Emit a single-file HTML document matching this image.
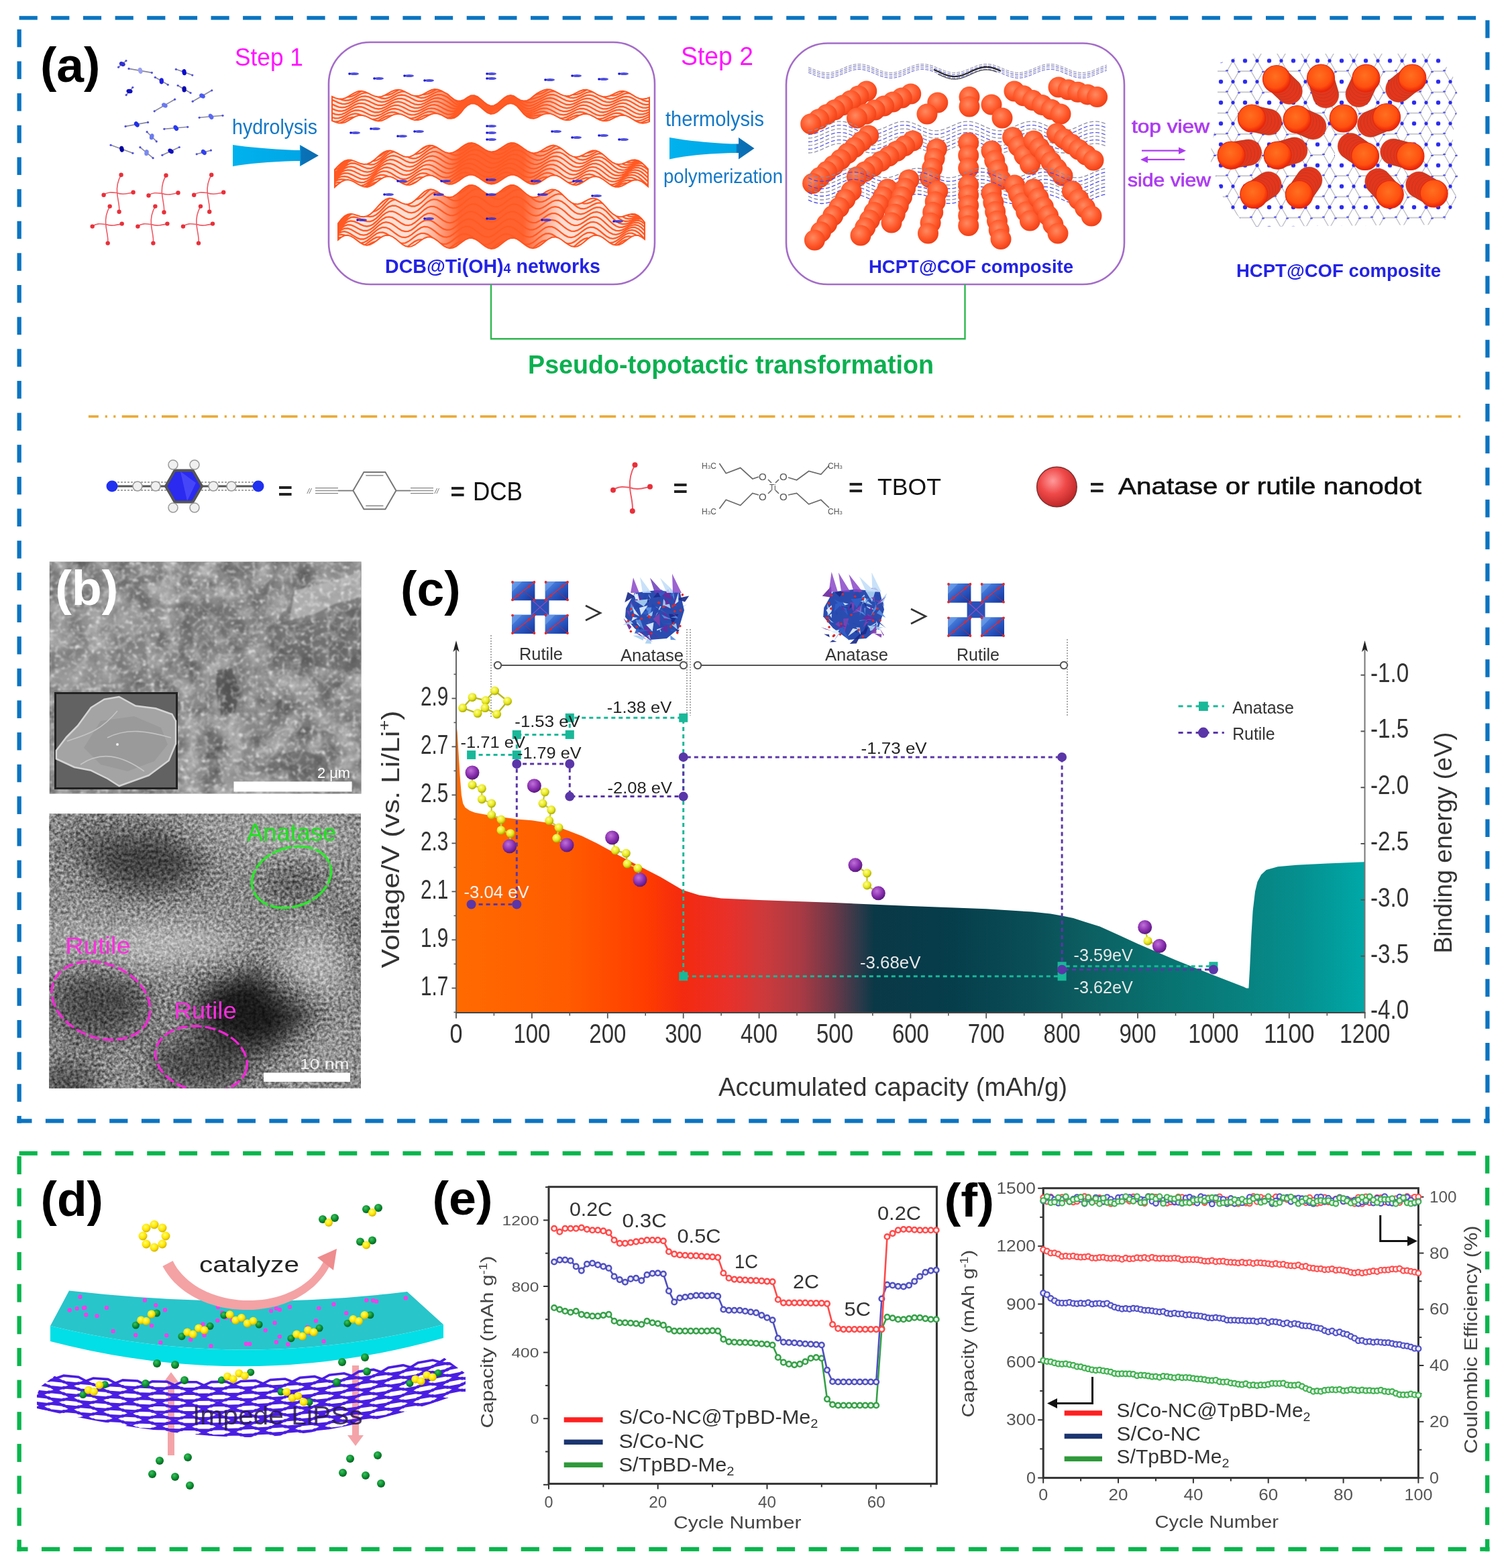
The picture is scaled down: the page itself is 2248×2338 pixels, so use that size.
<!DOCTYPE html><html><head><meta charset="utf-8"><title>Figure</title><style>html,body{margin:0;padding:0;background:#fff;}svg{display:block;}text{font-family:"Liberation Sans",Arial,sans-serif;}</style></head><body><svg width="2248" height="2338" viewBox="0 0 2248 2338">

<defs>
<linearGradient id="arrowg" x1="0" y1="0" x2="1" y2="0">
 <stop offset="0" stop-color="#00b2ee"/><stop offset="0.78" stop-color="#00a6e6"/><stop offset="0.8" stop-color="#0a72b8"/><stop offset="1" stop-color="#0a6cb0"/>
</linearGradient>
<radialGradient id="ballg" cx="0.42" cy="0.38" r="0.62">
 <stop offset="0" stop-color="#ff8a60"/><stop offset="0.6" stop-color="#ff5a2c"/><stop offset="1" stop-color="#f04018"/>
</radialGradient>
<radialGradient id="ballg2" cx="0.45" cy="0.4" r="0.6">
 <stop offset="0" stop-color="#ff7020"/><stop offset="0.7" stop-color="#ff5010"/><stop offset="1" stop-color="#e82008"/>
</radialGradient>
<radialGradient id="redsph" cx="0.4" cy="0.35" r="0.65">
 <stop offset="0" stop-color="#ff9a9a"/><stop offset="0.5" stop-color="#f04a4a"/><stop offset="1" stop-color="#c02828"/>
</radialGradient>
<radialGradient id="purpsph" cx="0.4" cy="0.35" r="0.65">
 <stop offset="0" stop-color="#c070d8"/><stop offset="0.6" stop-color="#8a30b0"/><stop offset="1" stop-color="#5a1880"/>
</radialGradient>
<radialGradient id="yelsph" cx="0.4" cy="0.35" r="0.65">
 <stop offset="0" stop-color="#ffff90"/><stop offset="0.6" stop-color="#e8e820"/><stop offset="1" stop-color="#a8a800"/>
</radialGradient>
<radialGradient id="grnsph" cx="0.4" cy="0.35" r="0.65">
 <stop offset="0" stop-color="#40c060"/><stop offset="0.6" stop-color="#0a9030"/><stop offset="1" stop-color="#046020"/>
</radialGradient>
<radialGradient id="yel2" cx="0.4" cy="0.35" r="0.65">
 <stop offset="0" stop-color="#ffff70"/><stop offset="0.6" stop-color="#ffe600"/><stop offset="1" stop-color="#d0b000"/>
</radialGradient>
<linearGradient id="capg" x1="680" y1="0" x2="2034.7" y2="0" gradientUnits="userSpaceOnUse">
 <stop offset="0" stop-color="#ff6a00"/>
 <stop offset="0.12" stop-color="#ff5c00"/>
 <stop offset="0.21" stop-color="#ff3c00"/>
 <stop offset="0.25" stop-color="#f42a10"/>
 <stop offset="0.30" stop-color="#e8302a"/>
 <stop offset="0.34" stop-color="#cc3a3c"/>
 <stop offset="0.38" stop-color="#a83a44"/>
 <stop offset="0.415" stop-color="#6c3848"/>
 <stop offset="0.445" stop-color="#2a3a4a"/>
 <stop offset="0.46" stop-color="#0a3846"/>
 <stop offset="0.55" stop-color="#063e4c"/>
 <stop offset="0.64" stop-color="#0a5058"/>
 <stop offset="0.70" stop-color="#0c6062"/>
 <stop offset="0.78" stop-color="#087270"/>
 <stop offset="0.86" stop-color="#08807e"/>
 <stop offset="0.93" stop-color="#05908f"/>
 <stop offset="1" stop-color="#00a8a8"/>
</linearGradient>
<filter id="semNoise" x="0" y="0" width="100%" height="100%" color-interpolation-filters="sRGB">
 <feTurbulence type="fractalNoise" baseFrequency="0.16" numOctaves="2" seed="11" result="t"/>
 <feColorMatrix in="t" type="matrix" values="0 0 0 0 1  0 0 0 0 1  0 0 0 0 1  3.6 0 0 0 -2.0" result="spk"/>
 <feGaussianBlur stdDeviation="1.0"/>
 <feComposite in2="SourceAlpha" operator="in"/>
</filter>
<filter id="semNet" x="0" y="0" width="100%" height="100%" color-interpolation-filters="sRGB">
 <feTurbulence type="turbulence" baseFrequency="0.045" numOctaves="3" seed="21" result="t"/>
 <feColorMatrix in="t" type="matrix" values="0 0 0 0 1  0 0 0 0 1  0 0 0 0 1  -4 0 0 0 1.0"/>
 <feGaussianBlur stdDeviation="0.8"/>
 <feComposite in2="SourceAlpha" operator="in"/>
</filter>
<filter id="semBase" x="0" y="0" width="100%" height="100%" color-interpolation-filters="sRGB">
 <feTurbulence type="fractalNoise" baseFrequency="0.03" numOctaves="4" seed="8"/>
 <feColorMatrix type="matrix" values="0.5 0 0 0 0.28  0.5 0 0 0 0.28  0.5 0 0 0 0.28  0 0 0 0 1"/>
</filter>
<filter id="temNoise" x="0" y="0" width="100%" height="100%" color-interpolation-filters="sRGB">
 <feTurbulence type="fractalNoise" baseFrequency="0.22" numOctaves="2" seed="5" result="t"/>
 <feColorMatrix in="t" type="matrix" values="1.6 0 0 0 -0.3  1.6 0 0 0 -0.3  1.6 0 0 0 -0.3  0 0 0 0 1"/>
</filter>
<filter id="blobF" x="-20%" y="-20%" width="140%" height="140%">
 <feGaussianBlur stdDeviation="22"/>
</filter>
<filter id="blur2"><feGaussianBlur stdDeviation="1.2"/></filter>
<filter id="blur1"><feGaussianBlur stdDeviation="0.6"/></filter>
<pattern id="hexp" x="1802" y="75" width="36" height="31.2" patternUnits="userSpaceOnUse">
 <path d="M9,0 L27,0 L36,15.6 L27,31.2 L9,31.2 L0,15.6 Z" fill="none" stroke="#b8b8c0" stroke-width="1.3"/>
 <circle cx="18" cy="15.6" r="3.2" fill="#2a2af0"/>
 <circle cx="9" cy="0" r="2.2" fill="#4a4af8"/>
 <circle cx="27" cy="31.2" r="2.2" fill="#4a4af8"/>
 <circle cx="0" cy="15.6" r="2.6" fill="#2a2af0"/>
 <circle cx="36" cy="15.6" r="2.6" fill="#2a2af0"/>
</pattern>
</defs>

<rect width="2248" height="2338" fill="#fff"/>
<rect x="28.6" y="23.8" width="27.2" height="5.8" fill="#0b74c1"/>
<rect x="76.2" y="23.8" width="27.2" height="5.8" fill="#0b74c1"/>
<rect x="123.9" y="23.8" width="27.2" height="5.8" fill="#0b74c1"/>
<rect x="171.6" y="23.8" width="27.2" height="5.8" fill="#0b74c1"/>
<rect x="219.2" y="23.8" width="27.2" height="5.8" fill="#0b74c1"/>
<rect x="266.9" y="23.8" width="27.2" height="5.8" fill="#0b74c1"/>
<rect x="314.5" y="23.8" width="27.2" height="5.8" fill="#0b74c1"/>
<rect x="362.1" y="23.8" width="27.2" height="5.8" fill="#0b74c1"/>
<rect x="409.8" y="23.8" width="27.2" height="5.8" fill="#0b74c1"/>
<rect x="457.4" y="23.8" width="27.2" height="5.8" fill="#0b74c1"/>
<rect x="505.1" y="23.8" width="27.2" height="5.8" fill="#0b74c1"/>
<rect x="552.7" y="23.8" width="27.2" height="5.8" fill="#0b74c1"/>
<rect x="600.4" y="23.8" width="27.2" height="5.8" fill="#0b74c1"/>
<rect x="648" y="23.8" width="27.2" height="5.8" fill="#0b74c1"/>
<rect x="695.7" y="23.8" width="27.2" height="5.8" fill="#0b74c1"/>
<rect x="743.3" y="23.8" width="27.2" height="5.8" fill="#0b74c1"/>
<rect x="791" y="23.8" width="27.2" height="5.8" fill="#0b74c1"/>
<rect x="838.6" y="23.8" width="27.2" height="5.8" fill="#0b74c1"/>
<rect x="886.3" y="23.8" width="27.2" height="5.8" fill="#0b74c1"/>
<rect x="933.9" y="23.8" width="27.2" height="5.8" fill="#0b74c1"/>
<rect x="981.6" y="23.8" width="27.2" height="5.8" fill="#0b74c1"/>
<rect x="1029.2" y="23.8" width="27.2" height="5.8" fill="#0b74c1"/>
<rect x="1076.9" y="23.8" width="27.2" height="5.8" fill="#0b74c1"/>
<rect x="1124.5" y="23.8" width="27.2" height="5.8" fill="#0b74c1"/>
<rect x="1172.2" y="23.8" width="27.2" height="5.8" fill="#0b74c1"/>
<rect x="1219.9" y="23.8" width="27.2" height="5.8" fill="#0b74c1"/>
<rect x="1267.5" y="23.8" width="27.2" height="5.8" fill="#0b74c1"/>
<rect x="1315.2" y="23.8" width="27.2" height="5.8" fill="#0b74c1"/>
<rect x="1362.8" y="23.8" width="27.2" height="5.8" fill="#0b74c1"/>
<rect x="1410.5" y="23.8" width="27.2" height="5.8" fill="#0b74c1"/>
<rect x="1458.1" y="23.8" width="27.2" height="5.8" fill="#0b74c1"/>
<rect x="1505.8" y="23.8" width="27.2" height="5.8" fill="#0b74c1"/>
<rect x="1553.4" y="23.8" width="27.2" height="5.8" fill="#0b74c1"/>
<rect x="1601.1" y="23.8" width="27.2" height="5.8" fill="#0b74c1"/>
<rect x="1648.7" y="23.8" width="27.2" height="5.8" fill="#0b74c1"/>
<rect x="1696.4" y="23.8" width="27.2" height="5.8" fill="#0b74c1"/>
<rect x="1744" y="23.8" width="27.2" height="5.8" fill="#0b74c1"/>
<rect x="1791.7" y="23.8" width="27.2" height="5.8" fill="#0b74c1"/>
<rect x="1839.3" y="23.8" width="27.2" height="5.8" fill="#0b74c1"/>
<rect x="1887" y="23.8" width="27.2" height="5.8" fill="#0b74c1"/>
<rect x="1934.6" y="23.8" width="27.2" height="5.8" fill="#0b74c1"/>
<rect x="1982.3" y="23.8" width="27.2" height="5.8" fill="#0b74c1"/>
<rect x="2029.9" y="23.8" width="27.2" height="5.8" fill="#0b74c1"/>
<rect x="2077.6" y="23.8" width="27.2" height="5.8" fill="#0b74c1"/>
<rect x="2125.2" y="23.8" width="27.2" height="5.8" fill="#0b74c1"/>
<rect x="2172.9" y="23.8" width="27.2" height="5.8" fill="#0b74c1"/>
<rect x="2214.3" y="30.2" width="6.2" height="26.5" fill="#0b74c1"/>
<rect x="2214.3" y="77.8" width="6.2" height="26.5" fill="#0b74c1"/>
<rect x="2214.3" y="125.5" width="6.2" height="26.5" fill="#0b74c1"/>
<rect x="2214.3" y="173.2" width="6.2" height="26.5" fill="#0b74c1"/>
<rect x="2214.3" y="220.8" width="6.2" height="26.5" fill="#0b74c1"/>
<rect x="2214.3" y="268.4" width="6.2" height="26.5" fill="#0b74c1"/>
<rect x="2214.3" y="316.1" width="6.2" height="26.5" fill="#0b74c1"/>
<rect x="2214.3" y="363.7" width="6.2" height="26.5" fill="#0b74c1"/>
<rect x="2214.3" y="411.4" width="6.2" height="26.5" fill="#0b74c1"/>
<rect x="2214.3" y="459" width="6.2" height="26.5" fill="#0b74c1"/>
<rect x="2214.3" y="506.7" width="6.2" height="26.5" fill="#0b74c1"/>
<rect x="2214.3" y="554.3" width="6.2" height="26.5" fill="#0b74c1"/>
<rect x="2214.3" y="602" width="6.2" height="26.5" fill="#0b74c1"/>
<rect x="2214.3" y="649.6" width="6.2" height="26.5" fill="#0b74c1"/>
<rect x="2214.3" y="697.3" width="6.2" height="26.5" fill="#0b74c1"/>
<rect x="2214.3" y="744.9" width="6.2" height="26.5" fill="#0b74c1"/>
<rect x="2214.3" y="792.6" width="6.2" height="26.5" fill="#0b74c1"/>
<rect x="2214.3" y="840.2" width="6.2" height="26.5" fill="#0b74c1"/>
<rect x="2214.3" y="887.9" width="6.2" height="26.5" fill="#0b74c1"/>
<rect x="2214.3" y="935.5" width="6.2" height="26.5" fill="#0b74c1"/>
<rect x="2214.3" y="983.2" width="6.2" height="26.5" fill="#0b74c1"/>
<rect x="2214.3" y="1030.8" width="6.2" height="26.5" fill="#0b74c1"/>
<rect x="2214.3" y="1078.5" width="6.2" height="26.5" fill="#0b74c1"/>
<rect x="2214.3" y="1126.1" width="6.2" height="26.5" fill="#0b74c1"/>
<rect x="2214.3" y="1173.8" width="6.2" height="26.5" fill="#0b74c1"/>
<rect x="2214.3" y="1221.5" width="6.2" height="26.5" fill="#0b74c1"/>
<rect x="2214.3" y="1269.1" width="6.2" height="26.5" fill="#0b74c1"/>
<rect x="2214.3" y="1316.8" width="6.2" height="26.5" fill="#0b74c1"/>
<rect x="2214.3" y="1364.4" width="6.2" height="26.5" fill="#0b74c1"/>
<rect x="2214.3" y="1412.1" width="6.2" height="26.5" fill="#0b74c1"/>
<rect x="2214.3" y="1459.7" width="6.2" height="26.5" fill="#0b74c1"/>
<rect x="2214.3" y="1507.4" width="6.2" height="26.5" fill="#0b74c1"/>
<rect x="2214.3" y="1555" width="6.2" height="26.5" fill="#0b74c1"/>
<rect x="2214.3" y="1602.7" width="6.2" height="26.5" fill="#0b74c1"/>
<rect x="2214.3" y="1650.3" width="6.2" height="24.3" fill="#0b74c1"/>
<rect x="25.5" y="43.8" width="6.3" height="26.5" fill="#0b74c1"/>
<rect x="25.5" y="91.4" width="6.3" height="26.5" fill="#0b74c1"/>
<rect x="25.5" y="139.1" width="6.3" height="26.5" fill="#0b74c1"/>
<rect x="25.5" y="186.8" width="6.3" height="26.5" fill="#0b74c1"/>
<rect x="25.5" y="234.4" width="6.3" height="26.5" fill="#0b74c1"/>
<rect x="25.5" y="282.1" width="6.3" height="26.5" fill="#0b74c1"/>
<rect x="25.5" y="329.7" width="6.3" height="26.5" fill="#0b74c1"/>
<rect x="25.5" y="377.3" width="6.3" height="26.5" fill="#0b74c1"/>
<rect x="25.5" y="425" width="6.3" height="26.5" fill="#0b74c1"/>
<rect x="25.5" y="472.6" width="6.3" height="26.5" fill="#0b74c1"/>
<rect x="25.5" y="520.3" width="6.3" height="26.5" fill="#0b74c1"/>
<rect x="25.5" y="567.9" width="6.3" height="26.5" fill="#0b74c1"/>
<rect x="25.5" y="615.6" width="6.3" height="26.5" fill="#0b74c1"/>
<rect x="25.5" y="663.2" width="6.3" height="26.5" fill="#0b74c1"/>
<rect x="25.5" y="710.9" width="6.3" height="26.5" fill="#0b74c1"/>
<rect x="25.5" y="758.5" width="6.3" height="26.5" fill="#0b74c1"/>
<rect x="25.5" y="806.2" width="6.3" height="26.5" fill="#0b74c1"/>
<rect x="25.5" y="853.8" width="6.3" height="26.5" fill="#0b74c1"/>
<rect x="25.5" y="901.5" width="6.3" height="26.5" fill="#0b74c1"/>
<rect x="25.5" y="949.1" width="6.3" height="26.5" fill="#0b74c1"/>
<rect x="25.5" y="996.8" width="6.3" height="26.5" fill="#0b74c1"/>
<rect x="25.5" y="1044.4" width="6.3" height="26.5" fill="#0b74c1"/>
<rect x="25.5" y="1092.1" width="6.3" height="26.5" fill="#0b74c1"/>
<rect x="25.5" y="1139.8" width="6.3" height="26.5" fill="#0b74c1"/>
<rect x="25.5" y="1187.4" width="6.3" height="26.5" fill="#0b74c1"/>
<rect x="25.5" y="1235.1" width="6.3" height="26.5" fill="#0b74c1"/>
<rect x="25.5" y="1282.7" width="6.3" height="26.5" fill="#0b74c1"/>
<rect x="25.5" y="1330.4" width="6.3" height="26.5" fill="#0b74c1"/>
<rect x="25.5" y="1378" width="6.3" height="26.5" fill="#0b74c1"/>
<rect x="25.5" y="1425.7" width="6.3" height="26.5" fill="#0b74c1"/>
<rect x="25.5" y="1473.3" width="6.3" height="26.5" fill="#0b74c1"/>
<rect x="25.5" y="1521" width="6.3" height="26.5" fill="#0b74c1"/>
<rect x="25.5" y="1568.6" width="6.3" height="26.5" fill="#0b74c1"/>
<rect x="25.5" y="1616.3" width="6.3" height="26.5" fill="#0b74c1"/>
<rect x="25.5" y="1663.9" width="6.3" height="10.7" fill="#0b74c1"/>
<rect x="25.5" y="1668.3" width="22" height="6.2" fill="#0b74c1"/>
<rect x="67.9" y="1668.3" width="27.2" height="6.2" fill="#0b74c1"/>
<rect x="115.6" y="1668.3" width="27.2" height="6.2" fill="#0b74c1"/>
<rect x="163.2" y="1668.3" width="27.2" height="6.2" fill="#0b74c1"/>
<rect x="210.9" y="1668.3" width="27.2" height="6.2" fill="#0b74c1"/>
<rect x="258.5" y="1668.3" width="27.2" height="6.2" fill="#0b74c1"/>
<rect x="306.1" y="1668.3" width="27.2" height="6.2" fill="#0b74c1"/>
<rect x="353.8" y="1668.3" width="27.2" height="6.2" fill="#0b74c1"/>
<rect x="401.4" y="1668.3" width="27.2" height="6.2" fill="#0b74c1"/>
<rect x="449.1" y="1668.3" width="27.2" height="6.2" fill="#0b74c1"/>
<rect x="496.7" y="1668.3" width="27.2" height="6.2" fill="#0b74c1"/>
<rect x="544.4" y="1668.3" width="27.2" height="6.2" fill="#0b74c1"/>
<rect x="592" y="1668.3" width="27.2" height="6.2" fill="#0b74c1"/>
<rect x="639.7" y="1668.3" width="27.2" height="6.2" fill="#0b74c1"/>
<rect x="687.3" y="1668.3" width="27.2" height="6.2" fill="#0b74c1"/>
<rect x="735" y="1668.3" width="27.2" height="6.2" fill="#0b74c1"/>
<rect x="782.6" y="1668.3" width="27.2" height="6.2" fill="#0b74c1"/>
<rect x="830.3" y="1668.3" width="27.2" height="6.2" fill="#0b74c1"/>
<rect x="877.9" y="1668.3" width="27.2" height="6.2" fill="#0b74c1"/>
<rect x="925.6" y="1668.3" width="27.2" height="6.2" fill="#0b74c1"/>
<rect x="973.2" y="1668.3" width="27.2" height="6.2" fill="#0b74c1"/>
<rect x="1020.9" y="1668.3" width="27.2" height="6.2" fill="#0b74c1"/>
<rect x="1068.5" y="1668.3" width="27.2" height="6.2" fill="#0b74c1"/>
<rect x="1116.2" y="1668.3" width="27.2" height="6.2" fill="#0b74c1"/>
<rect x="1163.8" y="1668.3" width="27.2" height="6.2" fill="#0b74c1"/>
<rect x="1211.5" y="1668.3" width="27.2" height="6.2" fill="#0b74c1"/>
<rect x="1259.2" y="1668.3" width="27.2" height="6.2" fill="#0b74c1"/>
<rect x="1306.8" y="1668.3" width="27.2" height="6.2" fill="#0b74c1"/>
<rect x="1354.5" y="1668.3" width="27.2" height="6.2" fill="#0b74c1"/>
<rect x="1402.1" y="1668.3" width="27.2" height="6.2" fill="#0b74c1"/>
<rect x="1449.8" y="1668.3" width="27.2" height="6.2" fill="#0b74c1"/>
<rect x="1497.4" y="1668.3" width="27.2" height="6.2" fill="#0b74c1"/>
<rect x="1545.1" y="1668.3" width="27.2" height="6.2" fill="#0b74c1"/>
<rect x="1592.7" y="1668.3" width="27.2" height="6.2" fill="#0b74c1"/>
<rect x="1640.4" y="1668.3" width="27.2" height="6.2" fill="#0b74c1"/>
<rect x="1688" y="1668.3" width="27.2" height="6.2" fill="#0b74c1"/>
<rect x="1735.7" y="1668.3" width="27.2" height="6.2" fill="#0b74c1"/>
<rect x="1783.3" y="1668.3" width="27.2" height="6.2" fill="#0b74c1"/>
<rect x="1831" y="1668.3" width="27.2" height="6.2" fill="#0b74c1"/>
<rect x="1878.6" y="1668.3" width="27.2" height="6.2" fill="#0b74c1"/>
<rect x="1926.3" y="1668.3" width="27.2" height="6.2" fill="#0b74c1"/>
<rect x="1973.9" y="1668.3" width="27.2" height="6.2" fill="#0b74c1"/>
<rect x="2021.6" y="1668.3" width="27.2" height="6.2" fill="#0b74c1"/>
<rect x="2069.2" y="1668.3" width="27.2" height="6.2" fill="#0b74c1"/>
<rect x="2116.9" y="1668.3" width="27.2" height="6.2" fill="#0b74c1"/>
<rect x="2164.5" y="1668.3" width="27.2" height="6.2" fill="#0b74c1"/>
<rect x="2212.2" y="1668.3" width="8.3" height="6.2" fill="#0b74c1"/>
<rect x="28.6" y="1716.5" width="27.2" height="6.3" fill="#08b64c"/>
<rect x="76.2" y="1716.5" width="27.2" height="6.3" fill="#08b64c"/>
<rect x="123.9" y="1716.5" width="27.2" height="6.3" fill="#08b64c"/>
<rect x="171.6" y="1716.5" width="27.2" height="6.3" fill="#08b64c"/>
<rect x="219.2" y="1716.5" width="27.2" height="6.3" fill="#08b64c"/>
<rect x="266.9" y="1716.5" width="27.2" height="6.3" fill="#08b64c"/>
<rect x="314.5" y="1716.5" width="27.2" height="6.3" fill="#08b64c"/>
<rect x="362.1" y="1716.5" width="27.2" height="6.3" fill="#08b64c"/>
<rect x="409.8" y="1716.5" width="27.2" height="6.3" fill="#08b64c"/>
<rect x="457.4" y="1716.5" width="27.2" height="6.3" fill="#08b64c"/>
<rect x="505.1" y="1716.5" width="27.2" height="6.3" fill="#08b64c"/>
<rect x="552.7" y="1716.5" width="27.2" height="6.3" fill="#08b64c"/>
<rect x="600.4" y="1716.5" width="27.2" height="6.3" fill="#08b64c"/>
<rect x="648" y="1716.5" width="27.2" height="6.3" fill="#08b64c"/>
<rect x="695.7" y="1716.5" width="27.2" height="6.3" fill="#08b64c"/>
<rect x="743.3" y="1716.5" width="27.2" height="6.3" fill="#08b64c"/>
<rect x="791" y="1716.5" width="27.2" height="6.3" fill="#08b64c"/>
<rect x="838.6" y="1716.5" width="27.2" height="6.3" fill="#08b64c"/>
<rect x="886.3" y="1716.5" width="27.2" height="6.3" fill="#08b64c"/>
<rect x="933.9" y="1716.5" width="27.2" height="6.3" fill="#08b64c"/>
<rect x="981.6" y="1716.5" width="27.2" height="6.3" fill="#08b64c"/>
<rect x="1029.2" y="1716.5" width="27.2" height="6.3" fill="#08b64c"/>
<rect x="1076.9" y="1716.5" width="27.2" height="6.3" fill="#08b64c"/>
<rect x="1124.5" y="1716.5" width="27.2" height="6.3" fill="#08b64c"/>
<rect x="1172.2" y="1716.5" width="27.2" height="6.3" fill="#08b64c"/>
<rect x="1219.9" y="1716.5" width="27.2" height="6.3" fill="#08b64c"/>
<rect x="1267.5" y="1716.5" width="27.2" height="6.3" fill="#08b64c"/>
<rect x="1315.2" y="1716.5" width="27.2" height="6.3" fill="#08b64c"/>
<rect x="1362.8" y="1716.5" width="27.2" height="6.3" fill="#08b64c"/>
<rect x="1410.5" y="1716.5" width="27.2" height="6.3" fill="#08b64c"/>
<rect x="1458.1" y="1716.5" width="27.2" height="6.3" fill="#08b64c"/>
<rect x="1505.8" y="1716.5" width="27.2" height="6.3" fill="#08b64c"/>
<rect x="1553.4" y="1716.5" width="27.2" height="6.3" fill="#08b64c"/>
<rect x="1601.1" y="1716.5" width="27.2" height="6.3" fill="#08b64c"/>
<rect x="1648.7" y="1716.5" width="27.2" height="6.3" fill="#08b64c"/>
<rect x="1696.4" y="1716.5" width="27.2" height="6.3" fill="#08b64c"/>
<rect x="1744" y="1716.5" width="27.2" height="6.3" fill="#08b64c"/>
<rect x="1791.7" y="1716.5" width="27.2" height="6.3" fill="#08b64c"/>
<rect x="1839.3" y="1716.5" width="27.2" height="6.3" fill="#08b64c"/>
<rect x="1887" y="1716.5" width="27.2" height="6.3" fill="#08b64c"/>
<rect x="1934.6" y="1716.5" width="27.2" height="6.3" fill="#08b64c"/>
<rect x="1982.3" y="1716.5" width="27.2" height="6.3" fill="#08b64c"/>
<rect x="2029.9" y="1716.5" width="27.2" height="6.3" fill="#08b64c"/>
<rect x="2077.6" y="1716.5" width="27.2" height="6.3" fill="#08b64c"/>
<rect x="2125.2" y="1716.5" width="27.2" height="6.3" fill="#08b64c"/>
<rect x="2172.9" y="1716.5" width="27.2" height="6.3" fill="#08b64c"/>
<rect x="25.5" y="1724" width="6.3" height="27" fill="#08b64c"/>
<rect x="25.5" y="1771.7" width="6.3" height="27" fill="#08b64c"/>
<rect x="25.5" y="1819.3" width="6.3" height="27" fill="#08b64c"/>
<rect x="25.5" y="1867" width="6.3" height="27" fill="#08b64c"/>
<rect x="25.5" y="1914.6" width="6.3" height="27" fill="#08b64c"/>
<rect x="25.5" y="1962.3" width="6.3" height="27" fill="#08b64c"/>
<rect x="25.5" y="2009.9" width="6.3" height="27" fill="#08b64c"/>
<rect x="25.5" y="2057.6" width="6.3" height="27" fill="#08b64c"/>
<rect x="25.5" y="2105.2" width="6.3" height="27" fill="#08b64c"/>
<rect x="25.5" y="2152.9" width="6.3" height="27" fill="#08b64c"/>
<rect x="25.5" y="2200.5" width="6.3" height="27" fill="#08b64c"/>
<rect x="25.5" y="2248.2" width="6.3" height="27" fill="#08b64c"/>
<rect x="25.5" y="2295.8" width="6.3" height="17.4" fill="#08b64c"/>
<rect x="2214" y="1723.2" width="6.3" height="26.5" fill="#08b64c"/>
<rect x="2214" y="1770.9" width="6.3" height="26.5" fill="#08b64c"/>
<rect x="2214" y="1818.5" width="6.3" height="26.5" fill="#08b64c"/>
<rect x="2214" y="1866.2" width="6.3" height="26.5" fill="#08b64c"/>
<rect x="2214" y="1913.8" width="6.3" height="26.5" fill="#08b64c"/>
<rect x="2214" y="1961.5" width="6.3" height="26.5" fill="#08b64c"/>
<rect x="2214" y="2009.1" width="6.3" height="26.5" fill="#08b64c"/>
<rect x="2214" y="2056.8" width="6.3" height="26.5" fill="#08b64c"/>
<rect x="2214" y="2104.4" width="6.3" height="26.5" fill="#08b64c"/>
<rect x="2214" y="2152.1" width="6.3" height="26.5" fill="#08b64c"/>
<rect x="2214" y="2199.7" width="6.3" height="26.5" fill="#08b64c"/>
<rect x="2214" y="2247.4" width="6.3" height="26.5" fill="#08b64c"/>
<rect x="2214" y="2295" width="6.3" height="18.2" fill="#08b64c"/>
<rect x="25.5" y="2306.8" width="16" height="6.3" fill="#08b64c"/>
<rect x="62" y="2306.8" width="27.2" height="6.3" fill="#08b64c"/>
<rect x="109.7" y="2306.8" width="27.2" height="6.3" fill="#08b64c"/>
<rect x="157.3" y="2306.8" width="27.2" height="6.3" fill="#08b64c"/>
<rect x="205" y="2306.8" width="27.2" height="6.3" fill="#08b64c"/>
<rect x="252.6" y="2306.8" width="27.2" height="6.3" fill="#08b64c"/>
<rect x="300.2" y="2306.8" width="27.2" height="6.3" fill="#08b64c"/>
<rect x="347.9" y="2306.8" width="27.2" height="6.3" fill="#08b64c"/>
<rect x="395.5" y="2306.8" width="27.2" height="6.3" fill="#08b64c"/>
<rect x="443.2" y="2306.8" width="27.2" height="6.3" fill="#08b64c"/>
<rect x="490.8" y="2306.8" width="27.2" height="6.3" fill="#08b64c"/>
<rect x="538.5" y="2306.8" width="27.2" height="6.3" fill="#08b64c"/>
<rect x="586.1" y="2306.8" width="27.2" height="6.3" fill="#08b64c"/>
<rect x="633.8" y="2306.8" width="27.2" height="6.3" fill="#08b64c"/>
<rect x="681.4" y="2306.8" width="27.2" height="6.3" fill="#08b64c"/>
<rect x="729.1" y="2306.8" width="27.2" height="6.3" fill="#08b64c"/>
<rect x="776.7" y="2306.8" width="27.2" height="6.3" fill="#08b64c"/>
<rect x="824.4" y="2306.8" width="27.2" height="6.3" fill="#08b64c"/>
<rect x="872" y="2306.8" width="27.2" height="6.3" fill="#08b64c"/>
<rect x="919.7" y="2306.8" width="27.2" height="6.3" fill="#08b64c"/>
<rect x="967.3" y="2306.8" width="27.2" height="6.3" fill="#08b64c"/>
<rect x="1015" y="2306.8" width="27.2" height="6.3" fill="#08b64c"/>
<rect x="1062.6" y="2306.8" width="27.2" height="6.3" fill="#08b64c"/>
<rect x="1110.3" y="2306.8" width="27.2" height="6.3" fill="#08b64c"/>
<rect x="1157.9" y="2306.8" width="27.2" height="6.3" fill="#08b64c"/>
<rect x="1205.6" y="2306.8" width="27.2" height="6.3" fill="#08b64c"/>
<rect x="1253.2" y="2306.8" width="27.2" height="6.3" fill="#08b64c"/>
<rect x="1300.9" y="2306.8" width="27.2" height="6.3" fill="#08b64c"/>
<rect x="1348.6" y="2306.8" width="27.2" height="6.3" fill="#08b64c"/>
<rect x="1396.2" y="2306.8" width="27.2" height="6.3" fill="#08b64c"/>
<rect x="1443.9" y="2306.8" width="27.2" height="6.3" fill="#08b64c"/>
<rect x="1491.5" y="2306.8" width="27.2" height="6.3" fill="#08b64c"/>
<rect x="1539.2" y="2306.8" width="27.2" height="6.3" fill="#08b64c"/>
<rect x="1586.8" y="2306.8" width="27.2" height="6.3" fill="#08b64c"/>
<rect x="1634.5" y="2306.8" width="27.2" height="6.3" fill="#08b64c"/>
<rect x="1682.1" y="2306.8" width="27.2" height="6.3" fill="#08b64c"/>
<rect x="1729.8" y="2306.8" width="27.2" height="6.3" fill="#08b64c"/>
<rect x="1777.4" y="2306.8" width="27.2" height="6.3" fill="#08b64c"/>
<rect x="1825.1" y="2306.8" width="27.2" height="6.3" fill="#08b64c"/>
<rect x="1872.7" y="2306.8" width="27.2" height="6.3" fill="#08b64c"/>
<rect x="1920.4" y="2306.8" width="27.2" height="6.3" fill="#08b64c"/>
<rect x="1968" y="2306.8" width="27.2" height="6.3" fill="#08b64c"/>
<rect x="2015.7" y="2306.8" width="27.2" height="6.3" fill="#08b64c"/>
<rect x="2063.3" y="2306.8" width="27.2" height="6.3" fill="#08b64c"/>
<rect x="2111" y="2306.8" width="27.2" height="6.3" fill="#08b64c"/>
<rect x="2158.6" y="2306.8" width="27.2" height="6.3" fill="#08b64c"/>
<rect x="2206.3" y="2306.8" width="14.2" height="6.3" fill="#08b64c"/>
<text x="59.9" y="121.9" font-size="71.7" fill="#000" font-weight="bold" textLength="89.6" lengthAdjust="spacingAndGlyphs">(a)</text>
<text x="350" y="98" font-size="37.7" fill="#ff14ff" font-weight="normal" textLength="102" lengthAdjust="spacingAndGlyphs">Step 1</text>
<text x="1015" y="96.6" font-size="38.4" fill="#ff14ff" font-weight="normal" textLength="108" lengthAdjust="spacingAndGlyphs">Step 2</text>
<text x="346" y="200.3" font-size="31.6" fill="#1478c6" font-weight="normal" textLength="127" lengthAdjust="spacingAndGlyphs">hydrolysis</text>
<text x="992" y="187.8" font-size="31.3" fill="#1478c6" font-weight="normal" textLength="147" lengthAdjust="spacingAndGlyphs">thermolysis</text>
<text x="989" y="272.6" font-size="29.5" fill="#1478c6" font-weight="normal" textLength="178" lengthAdjust="spacingAndGlyphs">polymerization</text>
<path d="M347,216 Q380,221 440,224 L440,224 L447,224 L447,216 L475,232 L447,248 L447,240 L440,240 Q380,242 347,248 Z" fill="url(#arrowg)"/>
<path d="M998,205 Q1030,211 1090,214.5 L1101,214.5 L1101,205 L1124.5,221.2 L1101,237.5 L1101,228 L1090,228 Q1030,230 998,237.5 Z" fill="url(#arrowg)"/>
<rect x="490" y="63" width="486" height="361" rx="62" ry="62" fill="none" stroke="#a46cc8" stroke-width="2.6"/>
<rect x="1172" y="64.5" width="504" height="359.5" rx="62" ry="62" fill="none" stroke="#a46cc8" stroke-width="2.6"/>
<path d="M732,424 L732,505.3 L1438.5,505.3 L1438.5,424" fill="none" stroke="#2cb84e" stroke-width="2.4"/>
<text x="787" y="557" font-size="38.4" fill="#0bb050" font-weight="bold" textLength="605" lengthAdjust="spacingAndGlyphs">Pseudo-topotactic transformation</text>
<path d="M131.9,621 L146.9,621 M156.7,621 L159.9,621 M169.2,621 L172.4,621 M181.7,621 L206.2,621 M216,621 L219.2,621 M228.5,621 L231.7,621 M241,621 L265.5,621 M275.3,621 L278.5,621 M287.8,621 L291,621 M300.4,621 L324.9,621 M334.7,621 L337.9,621 M347.2,621 L350.4,621 M359.7,621 L384.2,621 M394,621 L397.2,621 M406.5,621 L409.7,621 M419,621 L443.5,621 M453.3,621 L456.5,621 M465.8,621 L469,621 M478.3,621 L502.8,621 M512.6,621 L515.8,621 M525.1,621 L528.3,621 M537.7,621 L562.2,621 M572,621 L575.2,621 M584.5,621 L587.7,621 M597,621 L621.5,621 M631.3,621 L634.5,621 M643.8,621 L647,621 M656.3,621 L680.8,621 M690.6,621 L693.8,621 M703.1,621 L706.3,621 M715.7,621 L740.2,621 M750,621 L753.2,621 M762.5,621 L765.7,621 M775,621 L799.5,621 M809.3,621 L812.5,621 M821.8,621 L825,621 M834.3,621 L858.8,621 M868.6,621 L871.8,621 M881.1,621 L884.3,621 M893.7,621 L918.2,621 M928,621 L931.2,621 M940.5,621 L943.7,621 M953,621 L977.5,621 M987.3,621 L990.5,621 M999.8,621 L1003,621 M1012.3,621 L1036.8,621 M1046.6,621 L1049.8,621 M1059.1,621 L1062.3,621 M1071.7,621 L1096.2,621 M1106,621 L1109.2,621 M1118.5,621 L1121.7,621 M1131,621 L1155.5,621 M1165.3,621 L1168.5,621 M1177.8,621 L1181,621 M1190.3,621 L1214.8,621 M1224.6,621 L1227.8,621 M1237.1,621 L1240.3,621 M1249.6,621 L1274.1,621 M1283.9,621 L1287.1,621 M1296.4,621 L1299.6,621 M1309,621 L1333.5,621 M1343.3,621 L1346.5,621 M1355.8,621 L1359,621 M1368.3,621 L1392.8,621 M1402.6,621 L1405.8,621 M1415.1,621 L1418.3,621 M1427.6,621 L1452.1,621 M1461.9,621 L1465.1,621 M1474.4,621 L1477.6,621 M1487,621 L1511.5,621 M1521.3,621 L1524.5,621 M1533.8,621 L1537,621 M1546.3,621 L1570.8,621 M1580.6,621 L1583.8,621 M1593.1,621 L1596.3,621 M1605.6,621 L1630.1,621 M1639.9,621 L1643.1,621 M1652.4,621 L1655.6,621 M1664.9,621 L1689.4,621 M1699.2,621 L1702.4,621 M1711.7,621 L1714.9,621 M1724.3,621 L1748.8,621 M1758.6,621 L1761.8,621 M1771.1,621 L1774.3,621 M1783.6,621 L1808.1,621 M1817.9,621 L1821.1,621 M1830.4,621 L1833.6,621 M1842.9,621 L1867.4,621 M1877.2,621 L1880.4,621 M1889.7,621 L1892.9,621 M1902.3,621 L1926.8,621 M1936.6,621 L1939.8,621 M1949.1,621 L1952.3,621 M1961.6,621 L1986.1,621 M1995.9,621 L1999.1,621 M2008.4,621 L2011.6,621 M2020.9,621 L2045.4,621 M2055.2,621 L2058.4,621 M2067.7,621 L2070.9,621 M2080.3,621 L2104.8,621 M2114.6,621 L2117.8,621 M2127.1,621 L2130.3,621 M2139.6,621 L2164.1,621 M2173.9,621 L2177.1,621" fill="none" stroke="#eaa832" stroke-width="3.4"/>
<text x="574" y="407" font-size="29" fill="#2323e6" font-weight="bold" textLength="321" lengthAdjust="spacingAndGlyphs">DCB@Ti(OH)<tspan font-size="20">4</tspan> networks</text>
<text x="1295" y="406.7" font-size="27.2" fill="#2323e6" font-weight="bold" textLength="305" lengthAdjust="spacingAndGlyphs">HCPT@COF composite</text>
<text x="1843" y="412.6" font-size="28.2" fill="#2323e6" font-weight="bold" textLength="305" lengthAdjust="spacingAndGlyphs">HCPT@COF composite</text>
<text x="1687" y="198" font-size="27" fill="#ac3cf0" font-weight="normal" textLength="116" lengthAdjust="spacingAndGlyphs" stroke="#ac3cf0" stroke-width="0.7">top view</text>
<text x="1681" y="277.7" font-size="27" fill="#ac3cf0" font-weight="normal" textLength="124" lengthAdjust="spacingAndGlyphs" stroke="#ac3cf0" stroke-width="0.7">side view</text>
<line x1="1702" y1="224.7" x2="1760" y2="224.7" stroke="#ac3cf0" stroke-width="2.2"/>
<path d="M1768,224.7 L1757,219.5 L1757,229.9 Z" fill="#ac3cf0"/>
<line x1="1708" y1="237.9" x2="1766" y2="237.9" stroke="#ac3cf0" stroke-width="2.2"/>
<path d="M1700,237.9 L1711,232.7 L1711,243.1 Z" fill="#ac3cf0"/>
<text x="705" y="746.4" font-size="38.5" fill="#111" font-weight="normal" textLength="74" lengthAdjust="spacingAndGlyphs">DCB</text>
<text x="414.5" y="745" font-size="37" font-weight="bold" fill="#222">=</text>
<text x="671.5" y="746" font-size="37" font-weight="bold" fill="#222">=</text>
<text x="1003.5" y="741" font-size="37" font-weight="bold" fill="#222">=</text>
<text x="1265.0" y="740" font-size="37" font-weight="bold" fill="#222">=</text>
<text x="1624.5" y="740" font-size="37" font-weight="bold" fill="#222">=</text>
<text x="1308" y="737.7" font-size="35.3" fill="#111" font-weight="normal" textLength="95" lengthAdjust="spacingAndGlyphs">TBOT</text>
<text x="1667" y="737" font-size="34.9" fill="#111" font-weight="normal" textLength="452" lengthAdjust="spacingAndGlyphs" stroke="#111" stroke-width="0.6">Anatase or rutile nanodot</text>
<line x1="176.6" y1="100.2" x2="188" y2="90.6" stroke="#8888a0" stroke-width="1.6"/>
<circle cx="176.6" cy="100.2" r="1.6" fill="#5050e0"/>
<circle cx="188" cy="90.6" r="1.6" fill="#5050e0"/>
<ellipse cx="182.3" cy="95.4" rx="4.6" ry="3.2" fill="#3030d0" transform="rotate(20 182.3 95.4)"/>
<line x1="192" y1="102.4" x2="226.4" y2="108.4" stroke="#8888a0" stroke-width="1.6"/>
<circle cx="192" cy="102.4" r="1.6" fill="#5050e0"/>
<circle cx="226.4" cy="108.4" r="1.6" fill="#5050e0"/>
<ellipse cx="209.2" cy="105.4" rx="4.6" ry="3.2" fill="#9aa0f0" transform="rotate(70 209.2 105.4)"/>
<line x1="262.4" y1="103.3" x2="286.8" y2="112.1" stroke="#8888a0" stroke-width="1.6"/>
<circle cx="262.4" cy="103.3" r="1.6" fill="#5050e0"/>
<circle cx="286.8" cy="112.1" r="1.6" fill="#5050e0"/>
<ellipse cx="274.6" cy="107.7" rx="4.6" ry="3.2" fill="#0a0ad0" transform="rotate(80 274.6 107.7)"/>
<line x1="231.3" y1="115.3" x2="250.3" y2="126.3" stroke="#8888a0" stroke-width="1.6"/>
<circle cx="231.3" cy="115.3" r="1.6" fill="#5050e0"/>
<circle cx="250.3" cy="126.3" r="1.6" fill="#5050e0"/>
<ellipse cx="240.8" cy="120.8" rx="4.6" ry="3.2" fill="#2020e0" transform="rotate(90 240.8 120.8)"/>
<line x1="188.2" y1="141.7" x2="197.8" y2="130.3" stroke="#8888a0" stroke-width="1.6"/>
<circle cx="188.2" cy="141.7" r="1.6" fill="#5050e0"/>
<circle cx="197.8" cy="130.3" r="1.6" fill="#5050e0"/>
<ellipse cx="193" cy="136" rx="4.6" ry="3.2" fill="#1010c0" transform="rotate(10 193 136)"/>
<line x1="265.1" y1="127.5" x2="284.1" y2="138.5" stroke="#8888a0" stroke-width="1.6"/>
<circle cx="265.1" cy="127.5" r="1.6" fill="#5050e0"/>
<circle cx="284.1" cy="138.5" r="1.6" fill="#5050e0"/>
<ellipse cx="274.6" cy="133" rx="4.6" ry="3.2" fill="#0808b0" transform="rotate(90 274.6 133)"/>
<line x1="287.2" y1="151.2" x2="315.8" y2="134.8" stroke="#8888a0" stroke-width="1.6"/>
<circle cx="287.2" cy="151.2" r="1.6" fill="#5050e0"/>
<circle cx="315.8" cy="134.8" r="1.6" fill="#5050e0"/>
<ellipse cx="301.5" cy="143" rx="4.6" ry="3.2" fill="#4a5af0" transform="rotate(30 301.5 143)"/>
<line x1="230.2" y1="165.8" x2="260.6" y2="148.2" stroke="#8888a0" stroke-width="1.6"/>
<circle cx="230.2" cy="165.8" r="1.6" fill="#5050e0"/>
<circle cx="260.6" cy="148.2" r="1.6" fill="#5050e0"/>
<ellipse cx="245.4" cy="157" rx="4.6" ry="3.2" fill="#6a7af0" transform="rotate(30 245.4 157)"/>
<line x1="297.2" y1="175.3" x2="332" y2="172.3" stroke="#8888a0" stroke-width="1.6"/>
<circle cx="297.2" cy="175.3" r="1.6" fill="#5050e0"/>
<circle cx="332" cy="172.3" r="1.6" fill="#5050e0"/>
<ellipse cx="314.6" cy="173.8" rx="4.6" ry="3.2" fill="#5a6af0" transform="rotate(55 314.6 173.8)"/>
<line x1="187.1" y1="188.4" x2="220.5" y2="182.4" stroke="#8888a0" stroke-width="1.6"/>
<circle cx="187.1" cy="188.4" r="1.6" fill="#5050e0"/>
<circle cx="220.5" cy="182.4" r="1.6" fill="#5050e0"/>
<ellipse cx="203.8" cy="185.4" rx="4.6" ry="3.2" fill="#2030e8" transform="rotate(50 203.8 185.4)"/>
<line x1="244.9" y1="192.3" x2="279.7" y2="189.3" stroke="#8888a0" stroke-width="1.6"/>
<circle cx="244.9" cy="192.3" r="1.6" fill="#5050e0"/>
<circle cx="279.7" cy="189.3" r="1.6" fill="#5050e0"/>
<ellipse cx="262.3" cy="190.8" rx="4.6" ry="3.2" fill="#2a3af0" transform="rotate(55 262.3 190.8)"/>
<line x1="219.1" y1="196.7" x2="233.3" y2="210.9" stroke="#8888a0" stroke-width="1.6"/>
<circle cx="219.1" cy="196.7" r="1.6" fill="#5050e0"/>
<circle cx="233.3" cy="210.9" r="1.6" fill="#5050e0"/>
<ellipse cx="226.2" cy="203.8" rx="4.6" ry="3.2" fill="#6a7af0" transform="rotate(105 226.2 203.8)"/>
<line x1="165.1" y1="216.3" x2="197.9" y2="228.3" stroke="#8888a0" stroke-width="1.6"/>
<circle cx="165.1" cy="216.3" r="1.6" fill="#5050e0"/>
<circle cx="197.9" cy="228.3" r="1.6" fill="#5050e0"/>
<ellipse cx="181.5" cy="222.3" rx="4.6" ry="3.2" fill="#0000a0" transform="rotate(80 181.5 222.3)"/>
<line x1="208.9" y1="219.7" x2="228.1" y2="235.7" stroke="#8888a0" stroke-width="1.6"/>
<circle cx="208.9" cy="219.7" r="1.6" fill="#5050e0"/>
<circle cx="228.1" cy="235.7" r="1.6" fill="#5050e0"/>
<ellipse cx="218.5" cy="227.7" rx="4.6" ry="3.2" fill="#7a8af0" transform="rotate(100 218.5 227.7)"/>
<line x1="241.9" y1="231.3" x2="267.3" y2="219.5" stroke="#8888a0" stroke-width="1.6"/>
<circle cx="241.9" cy="231.3" r="1.6" fill="#5050e0"/>
<circle cx="267.3" cy="219.5" r="1.6" fill="#5050e0"/>
<ellipse cx="254.6" cy="225.4" rx="4.6" ry="3.2" fill="#1010c0" transform="rotate(35 254.6 225.4)"/>
<line x1="293.2" y1="229.8" x2="314.4" y2="224.2" stroke="#8888a0" stroke-width="1.6"/>
<circle cx="293.2" cy="229.8" r="1.6" fill="#5050e0"/>
<circle cx="314.4" cy="224.2" r="1.6" fill="#5050e0"/>
<ellipse cx="303.8" cy="227" rx="4.6" ry="3.2" fill="#3040f0" transform="rotate(45 303.8 227)"/>
<path d="M174.6,287.7 C173.6,275.7 176.6,267.7 180.6,260.7 M174.6,287.7 C175.6,299.7 178.6,305.7 177.6,315.7 M174.6,287.7 C166.6,286.7 160.6,285.7 154.6,290.7 M174.6,287.7 C182.6,290.7 190.6,288.7 198.6,286.7 " fill="none" stroke="#ee5a64" stroke-width="1.6"/>
<circle cx="180.6" cy="260.7" r="3.2" fill="#e8303a"/>
<circle cx="177.6" cy="315.7" r="3.2" fill="#e8303a"/>
<circle cx="154.6" cy="290.7" r="3.2" fill="#e8303a"/>
<circle cx="198.6" cy="286.7" r="3.2" fill="#e8303a"/>
<path d="M241.5,288.5 C240.5,276.5 243.5,268.5 247.5,261.5 M241.5,288.5 C242.5,300.5 245.5,306.5 244.5,316.5 M241.5,288.5 C233.5,287.5 227.5,286.5 221.5,291.5 M241.5,288.5 C249.5,291.5 257.5,289.5 265.5,287.5 " fill="none" stroke="#ee5a64" stroke-width="1.6"/>
<circle cx="247.5" cy="261.5" r="3.2" fill="#e8303a"/>
<circle cx="244.5" cy="316.5" r="3.2" fill="#e8303a"/>
<circle cx="221.5" cy="291.5" r="3.2" fill="#e8303a"/>
<circle cx="265.5" cy="287.5" r="3.2" fill="#e8303a"/>
<path d="M309.2,287.7 C308.2,275.7 311.2,267.7 315.2,260.7 M309.2,287.7 C310.2,299.7 313.2,305.7 312.2,315.7 M309.2,287.7 C301.2,286.7 295.2,285.7 289.2,290.7 M309.2,287.7 C317.2,290.7 325.2,288.7 333.2,286.7 " fill="none" stroke="#ee5a64" stroke-width="1.6"/>
<circle cx="315.2" cy="260.7" r="3.2" fill="#e8303a"/>
<circle cx="312.2" cy="315.7" r="3.2" fill="#e8303a"/>
<circle cx="289.2" cy="290.7" r="3.2" fill="#e8303a"/>
<circle cx="333.2" cy="286.7" r="3.2" fill="#e8303a"/>
<path d="M157.7,334.6 C156.7,322.6 159.7,314.6 163.7,307.6 M157.7,334.6 C158.7,346.6 161.7,352.6 160.7,362.6 M157.7,334.6 C149.7,333.6 143.7,332.6 137.7,337.6 M157.7,334.6 C165.7,337.6 173.7,335.6 181.7,333.6 " fill="none" stroke="#ee5a64" stroke-width="1.6"/>
<circle cx="163.7" cy="307.6" r="3.2" fill="#e8303a"/>
<circle cx="160.7" cy="362.6" r="3.2" fill="#e8303a"/>
<circle cx="137.7" cy="337.6" r="3.2" fill="#e8303a"/>
<circle cx="181.7" cy="333.6" r="3.2" fill="#e8303a"/>
<path d="M225.4,334.6 C224.4,322.6 227.4,314.6 231.4,307.6 M225.4,334.6 C226.4,346.6 229.4,352.6 228.4,362.6 M225.4,334.6 C217.4,333.6 211.4,332.6 205.4,337.6 M225.4,334.6 C233.4,337.6 241.4,335.6 249.4,333.6 " fill="none" stroke="#ee5a64" stroke-width="1.6"/>
<circle cx="231.4" cy="307.6" r="3.2" fill="#e8303a"/>
<circle cx="228.4" cy="362.6" r="3.2" fill="#e8303a"/>
<circle cx="205.4" cy="337.6" r="3.2" fill="#e8303a"/>
<circle cx="249.4" cy="333.6" r="3.2" fill="#e8303a"/>
<path d="M293,334.6 C292,322.6 295,314.6 299,307.6 M293,334.6 C294,346.6 297,352.6 296,362.6 M293,334.6 C285,333.6 279,332.6 273,337.6 M293,334.6 C301,337.6 309,335.6 317,333.6 " fill="none" stroke="#ee5a64" stroke-width="1.6"/>
<circle cx="299" cy="307.6" r="3.2" fill="#e8303a"/>
<circle cx="296" cy="362.6" r="3.2" fill="#e8303a"/>
<circle cx="273" cy="337.6" r="3.2" fill="#e8303a"/>
<circle cx="317" cy="333.6" r="3.2" fill="#e8303a"/>
<linearGradient id="lcg" x1="495" y1="0" x2="970" y2="0" gradientUnits="userSpaceOnUse"><stop offset="0" stop-color="#ff5a24" stop-opacity="0.15"/><stop offset="0.28" stop-color="#ff5a24" stop-opacity="0.2"/><stop offset="0.40" stop-color="#ff5a24" stop-opacity="0.95"/><stop offset="0.60" stop-color="#ff5a24" stop-opacity="0.95"/><stop offset="0.72" stop-color="#ff5a24" stop-opacity="0.2"/><stop offset="1" stop-color="#ff5a24" stop-opacity="0.15"/></linearGradient>
<clipPath id="lc0"><path d="M495,144 L499.9,146.1 L504.9,147.5 L509.8,147.6 L514.7,146.3 L519.6,143.7 L524.6,140.7 L529.5,137.9 L534.4,136.1 L539.3,135.8 L544.3,136.9 L549.2,139.1 L554.1,141.6 L559.1,143.6 L564,144.5 L568.9,143.9 L573.8,141.9 L578.8,139.2 L583.7,136.4 L588.6,134.4 L593.5,133.7 L598.5,134.5 L603.4,136.6 L608.3,139.2 L613.2,141.6 L618.2,143.1 L623.1,143.1 L628,141.8 L633,139.3 L637.9,136.6 L642.8,134.3 L647.7,133.1 L652.7,133.5 L657.6,135.2 L662.5,137.8 L667.4,140.4 L672.4,144.9 L677.3,148.6 L682.2,150.4 L687.2,150.3 L692.1,148.6 L697,145 L701.9,142.5 L706.9,142.2 L711.8,144.2 L716.7,148 L721.6,152.3 L726.6,156 L731.5,157.9 L736.4,157.4 L741.4,154.7 L746.3,150.6 L751.2,146.4 L756.1,143.2 L761.1,142 L766,143.2 L770.9,146.5 L775.8,149.4 L780.8,150.5 L785.7,150 L790.6,147.3 L795.6,143.1 L800.5,139.4 L805.4,136.7 L810.3,134.4 L815.3,133.2 L820.2,133.4 L825.1,135.1 L830,137.6 L835,140.4 L839.9,142.4 L844.8,143.3 L849.8,142.7 L854.7,140.7 L859.6,138.1 L864.5,135.7 L869.5,134 L874.4,133.8 L879.3,135.1 L884.2,137.5 L889.2,140.3 L894.1,142.8 L899,144.3 L903.9,144.3 L908.9,143 L913.8,140.7 L918.7,138.2 L923.7,136.3 L928.6,135.7 L933.5,136.6 L938.4,138.9 L943.4,141.9 L948.3,144.8 L953.2,147 L958.1,147.8 L963.1,147.1 L968,145.4 L968,181.4 L963.1,183.1 L958.1,183.8 L953.2,183 L948.3,180.8 L943.4,177.9 L938.4,174.9 L933.5,172.6 L928.6,171.7 L923.7,172.3 L918.7,174.2 L913.8,176.7 L908.9,179 L903.9,180.3 L899,180.3 L894.1,178.8 L889.2,176.3 L884.2,173.5 L879.3,171.1 L874.4,169.8 L869.5,170 L864.5,171.7 L859.6,174.1 L854.7,176.7 L849.8,178.7 L844.8,179.3 L839.9,178.4 L835,176.4 L830,173.6 L825.1,171.1 L820.2,169.4 L815.3,169.2 L810.3,170.4 L805.4,172.7 L800.5,175.4 L795.6,176.8 L790.6,176.3 L785.7,174.1 L780.8,170 L775.8,164.1 L770.9,158.5 L766,155.2 L761.1,154 L756.1,155.2 L751.2,158.4 L746.3,162.6 L741.4,166.7 L736.4,169.4 L731.5,169.9 L726.6,168 L721.6,164.3 L716.7,160 L711.8,156.2 L706.9,154.2 L701.9,154.5 L697,157 L692.1,161.5 L687.2,167.9 L682.2,172.8 L677.3,175.7 L672.4,176.7 L667.4,176.4 L662.5,173.8 L657.6,171.2 L652.7,169.5 L647.7,169.1 L642.8,170.3 L637.9,172.6 L633,175.3 L628,177.8 L623.1,179.1 L618.2,179.1 L613.2,177.6 L608.3,175.2 L603.4,172.6 L598.5,170.5 L593.5,169.7 L588.6,170.4 L583.7,172.4 L578.8,175.2 L573.8,177.9 L568.9,179.9 L564,180.5 L559.1,179.6 L554.1,177.6 L549.2,175.1 L544.3,172.9 L539.3,171.8 L534.4,172.1 L529.5,173.9 L524.6,176.7 L519.6,179.7 L514.7,182.3 L509.8,183.6 L504.9,183.5 L499.9,182.1 L495,180 Z"/></clipPath>
<path d="M495,144 L499.9,146.1 L504.9,147.5 L509.8,147.6 L514.7,146.3 L519.6,143.7 L524.6,140.7 L529.5,137.9 L534.4,136.1 L539.3,135.8 L544.3,136.9 L549.2,139.1 L554.1,141.6 L559.1,143.6 L564,144.5 L568.9,143.9 L573.8,141.9 L578.8,139.2 L583.7,136.4 L588.6,134.4 L593.5,133.7 L598.5,134.5 L603.4,136.6 L608.3,139.2 L613.2,141.6 L618.2,143.1 L623.1,143.1 L628,141.8 L633,139.3 L637.9,136.6 L642.8,134.3 L647.7,133.1 L652.7,133.5 L657.6,135.2 L662.5,137.8 L667.4,140.4 L672.4,144.9 L677.3,148.6 L682.2,150.4 L687.2,150.3 L692.1,148.6 L697,145 L701.9,142.5 L706.9,142.2 L711.8,144.2 L716.7,148 L721.6,152.3 L726.6,156 L731.5,157.9 L736.4,157.4 L741.4,154.7 L746.3,150.6 L751.2,146.4 L756.1,143.2 L761.1,142 L766,143.2 L770.9,146.5 L775.8,149.4 L780.8,150.5 L785.7,150 L790.6,147.3 L795.6,143.1 L800.5,139.4 L805.4,136.7 L810.3,134.4 L815.3,133.2 L820.2,133.4 L825.1,135.1 L830,137.6 L835,140.4 L839.9,142.4 L844.8,143.3 L849.8,142.7 L854.7,140.7 L859.6,138.1 L864.5,135.7 L869.5,134 L874.4,133.8 L879.3,135.1 L884.2,137.5 L889.2,140.3 L894.1,142.8 L899,144.3 L903.9,144.3 L908.9,143 L913.8,140.7 L918.7,138.2 L923.7,136.3 L928.6,135.7 L933.5,136.6 L938.4,138.9 L943.4,141.9 L948.3,144.8 L953.2,147 L958.1,147.8 L963.1,147.1 L968,145.4 L968,181.4 L963.1,183.1 L958.1,183.8 L953.2,183 L948.3,180.8 L943.4,177.9 L938.4,174.9 L933.5,172.6 L928.6,171.7 L923.7,172.3 L918.7,174.2 L913.8,176.7 L908.9,179 L903.9,180.3 L899,180.3 L894.1,178.8 L889.2,176.3 L884.2,173.5 L879.3,171.1 L874.4,169.8 L869.5,170 L864.5,171.7 L859.6,174.1 L854.7,176.7 L849.8,178.7 L844.8,179.3 L839.9,178.4 L835,176.4 L830,173.6 L825.1,171.1 L820.2,169.4 L815.3,169.2 L810.3,170.4 L805.4,172.7 L800.5,175.4 L795.6,176.8 L790.6,176.3 L785.7,174.1 L780.8,170 L775.8,164.1 L770.9,158.5 L766,155.2 L761.1,154 L756.1,155.2 L751.2,158.4 L746.3,162.6 L741.4,166.7 L736.4,169.4 L731.5,169.9 L726.6,168 L721.6,164.3 L716.7,160 L711.8,156.2 L706.9,154.2 L701.9,154.5 L697,157 L692.1,161.5 L687.2,167.9 L682.2,172.8 L677.3,175.7 L672.4,176.7 L667.4,176.4 L662.5,173.8 L657.6,171.2 L652.7,169.5 L647.7,169.1 L642.8,170.3 L637.9,172.6 L633,175.3 L628,177.8 L623.1,179.1 L618.2,179.1 L613.2,177.6 L608.3,175.2 L603.4,172.6 L598.5,170.5 L593.5,169.7 L588.6,170.4 L583.7,172.4 L578.8,175.2 L573.8,177.9 L568.9,179.9 L564,180.5 L559.1,179.6 L554.1,177.6 L549.2,175.1 L544.3,172.9 L539.3,171.8 L534.4,172.1 L529.5,173.9 L524.6,176.7 L519.6,179.7 L514.7,182.3 L509.8,183.6 L504.9,183.5 L499.9,182.1 L495,180 Z" fill="url(#lcg)" stroke="none" stroke-width="1"/>
<g clip-path="url(#lc0)">
<path d="M495,118.3 L499.9,116.3 L504.9,115.6 L509.8,116.4 L514.7,118.3 L519.6,120.7 L524.6,122.7 L529.5,123.5 L534.4,123 L539.3,121.1 L544.3,118.3 L549.2,115.3 L554.1,113.1 L559.1,112.1 L564,112.7 L568.9,114.5 L573.8,117 L578.8,119.4 L583.7,121 L588.6,121.2 L593.5,119.9 L598.5,117.5 L603.4,114.7 L608.3,112.2 L613.2,110.9 L618.2,111 L623.1,112.6 L628,115 L633,117.7 L637.9,119.7 L642.8,120.5 L647.7,119.9 L652.7,117.9 L657.6,115.2 L662.5,112.6 L667.4,110.9 L672.4,114.7 L677.3,120.8 L682.2,128.7 L687.2,137.8 L692.1,147.1 L697,150.3 L701.9,150.1 L706.9,147.6 L711.8,143.6 L716.7,139.3 L721.6,135.9 L726.6,134.5 L731.5,135.4 L736.4,138.5 L741.4,142.7 L746.3,146.9 L751.2,149.7 L756.1,150.4 L761.1,148.8 L766,145.2 L770.9,140.9 L775.8,134.1 L780.8,127.2 L785.7,122.5 L790.6,119.5 L795.6,117.2 L800.5,117.3 L805.4,119.5 L810.3,120.5 L815.3,120 L820.2,118.1 L825.1,115.5 L830,113 L835,111.1 L839.9,110.7 L844.8,111.7 L849.8,113.9 L854.7,116.7 L859.6,119.2 L864.5,120.8 L869.5,120.9 L874.4,119.6 L879.3,117.3 L884.2,114.7 L889.2,112.6 L894.1,111.7 L899,112.3 L903.9,114.3 L908.9,117.1 L913.8,119.9 L918.7,122.1 L923.7,122.9 L928.6,122.2 L933.5,120.4 L938.4,118 L943.4,115.8 L948.3,114.7 L953.2,115 L958.1,116.7 L963.1,119.5 L968,122.7 M495,122.4 L499.9,121 L504.9,121.2 L509.8,122.7 L514.7,124.9 L519.6,127.2 L524.6,128.6 L529.5,128.7 L534.4,127.3 L539.3,124.8 L544.3,121.8 L549.2,119.1 L554.1,117.6 L559.1,117.4 L564,118.7 L568.9,121 L573.8,123.6 L578.8,125.6 L583.7,126.4 L588.6,125.7 L593.5,123.8 L598.5,121 L603.4,118.3 L608.3,116.4 L613.2,115.9 L618.2,116.9 L623.1,119 L628,121.7 L633,124.1 L637.9,125.5 L642.8,125.4 L647.7,124 L652.7,121.5 L657.6,118.8 L662.5,116.6 L667.4,115.6 L672.4,119.7 L677.3,126 L682.2,133.9 L687.2,142.4 L692.1,150.3 L697,152.1 L701.9,150.6 L706.9,147.2 L711.8,142.9 L716.7,138.9 L721.6,136.5 L726.6,136.4 L731.5,138.6 L736.4,142.5 L741.4,146.8 L746.3,150.4 L751.2,152.1 L756.1,151.4 L761.1,148.6 L766,144.5 L770.9,140.2 L775.8,134.8 L780.8,129.8 L785.7,126.8 L790.6,125.1 L795.6,123.6 L800.5,123.7 L805.4,125.3 L810.3,125.4 L815.3,124.1 L820.2,121.8 L825.1,119.1 L830,116.9 L835,115.8 L839.9,116.1 L844.8,117.9 L849.8,120.5 L854.7,123.2 L859.6,125.3 L864.5,126 L869.5,125.3 L874.4,123.4 L879.3,120.8 L884.2,118.4 L889.2,116.9 L894.1,116.8 L899,118.3 L903.9,120.8 L908.9,123.7 L913.8,126.2 L918.7,127.6 L923.7,127.6 L928.6,126.2 L933.5,124 L938.4,121.6 L943.4,119.9 L948.3,119.5 L953.2,120.6 L958.1,123 L963.1,126.1 L968,129.2 M495,126.8 L499.9,126.3 L504.9,127.2 L509.8,129.2 L514.7,131.5 L519.6,133.4 L524.6,134.1 L529.5,133.3 L534.4,131.2 L539.3,128.3 L544.3,125.4 L549.2,123.3 L554.1,122.5 L559.1,123.2 L564,125.1 L568.9,127.7 L573.8,130 L578.8,131.4 L583.7,131.4 L588.6,129.9 L593.5,127.4 L598.5,124.6 L603.4,122.2 L608.3,121.1 L613.2,121.4 L618.2,123 L623.1,125.6 L628,128.2 L633,130.1 L637.9,130.7 L642.8,129.8 L647.7,127.7 L652.7,125 L657.6,122.5 L662.5,120.9 L667.4,120.7 L672.4,125.1 L677.3,131.6 L682.2,139.1 L687.2,146.6 L692.1,152.9 L697,153.3 L701.9,150.6 L706.9,146.5 L711.8,142.2 L716.7,139 L721.6,137.9 L726.6,139.1 L731.5,142.3 L736.4,146.6 L741.4,150.7 L746.3,153.3 L751.2,153.7 L756.1,151.8 L761.1,148.1 L766,143.7 L770.9,140 L775.8,136 L780.8,132.9 L785.7,131.6 L790.6,130.9 L795.6,129.9 L800.5,129.8 L805.4,130.6 L810.3,129.9 L815.3,128 L820.2,125.3 L825.1,122.8 L830,121.1 L835,120.8 L839.9,122 L844.8,124.3 L849.8,127.1 L854.7,129.5 L859.6,130.9 L864.5,130.9 L869.5,129.4 L874.4,127 L879.3,124.4 L884.2,122.4 L889.2,121.7 L894.1,122.5 L899,124.5 L903.9,127.4 L908.9,130.2 L913.8,132.1 L918.7,132.7 L923.7,131.9 L928.6,129.9 L933.5,127.5 L938.4,125.4 L943.4,124.4 L948.3,124.8 L953.2,126.7 L958.1,129.6 L963.1,132.7 L968,135.3 M495,131.6 L499.9,132 L504.9,133.6 L509.8,135.8 L514.7,138 L519.6,139.2 L524.6,139.1 L529.5,137.5 L534.4,134.9 L539.3,131.9 L544.3,129.3 L549.2,127.9 L554.1,127.9 L559.1,129.3 L564,131.7 L568.9,134.2 L573.8,136.1 L578.8,136.7 L583.7,135.8 L588.6,133.7 L593.5,130.9 L598.5,128.3 L603.4,126.5 L608.3,126.2 L613.2,127.3 L618.2,129.5 L623.1,132.2 L628,134.5 L633,135.7 L637.9,135.5 L642.8,133.9 L647.7,131.3 L652.7,128.6 L657.6,126.5 L662.5,125.7 L667.4,126.3 L672.4,131 L677.3,137.3 L682.2,144.1 L687.2,150.3 L692.1,154.7 L697,153.7 L701.9,150.1 L706.9,145.7 L711.8,141.9 L716.7,139.8 L721.6,139.9 L726.6,142.4 L731.5,146.4 L736.4,150.7 L741.4,154.1 L746.3,155.5 L751.2,154.6 L756.1,151.6 L761.1,147.3 L766,143.2 L770.9,140.3 L775.8,138 L780.8,136.8 L785.7,136.8 L790.6,136.8 L795.6,136 L800.5,135.5 L805.4,135.5 L810.3,134 L815.3,131.6 L820.2,128.9 L825.1,126.8 L830,125.8 L835,126.4 L839.9,128.3 L844.8,130.9 L849.8,133.6 L854.7,135.5 L859.6,136.1 L864.5,135.2 L869.5,133.1 L874.4,130.5 L879.3,128.2 L884.2,126.8 L889.2,126.9 L894.1,128.5 L899,131.1 L903.9,134 L908.9,136.4 L913.8,137.6 L918.7,137.4 L923.7,135.8 L928.6,133.5 L933.5,131.1 L938.4,129.6 L943.4,129.3 L948.3,130.6 L953.2,133.1 L958.1,136.2 L963.1,139.1 L968,141.1 M495,137 L499.9,138.1 L504.9,140.1 L509.8,142.4 L514.7,144.1 L519.6,144.6 L524.6,143.6 L529.5,141.4 L534.4,138.4 L539.3,135.5 L544.3,133.5 L549.2,132.9 L554.1,133.7 L559.1,135.8 L564,138.3 L568.9,140.5 L573.8,141.8 L578.8,141.5 L583.7,139.9 L588.6,137.3 L593.5,134.5 L598.5,132.3 L603.4,131.3 L608.3,131.7 L613.2,133.5 L618.2,136.1 L623.1,138.7 L628,140.4 L633,140.9 L637.9,139.8 L642.8,137.6 L647.7,134.9 L652.7,132.4 L657.6,131 L662.5,130.9 L667.4,132.4 L672.4,137.1 L677.3,142.9 L682.2,148.7 L687.2,153.3 L692.1,155.8 L697,153.5 L701.9,149.3 L706.9,145.1 L711.8,142.1 L716.7,141.3 L721.6,142.8 L726.6,146.2 L731.5,150.5 L736.4,154.5 L741.4,156.9 L746.3,157 L751.2,154.8 L756.1,150.9 L761.1,146.6 L766,143 L770.9,141.3 L775.8,140.7 L780.8,141.1 L785.7,142.1 L790.6,142.6 L795.6,141.7 L800.5,140.7 L805.4,139.9 L810.3,137.8 L815.3,135.1 L820.2,132.6 L825.1,131.1 L830,131 L835,132.3 L839.9,134.8 L844.8,137.5 L849.8,139.9 L854.7,141.1 L859.6,140.8 L864.5,139.2 L869.5,136.7 L874.4,134.1 L879.3,132.3 L884.2,131.7 L889.2,132.6 L894.1,134.8 L899,137.7 L903.9,140.4 L908.9,142.2 L913.8,142.6 L918.7,141.6 L923.7,139.5 L928.6,137 L933.5,135 L938.4,134.1 L943.4,134.7 L948.3,136.7 L953.2,139.6 L958.1,142.7 L963.1,145.2 L968,146.4 M495,142.8 L499.9,144.5 L504.9,146.7 L509.8,148.8 L514.7,149.8 L519.6,149.5 L524.6,147.7 L529.5,145 L534.4,142 L539.3,139.5 L544.3,138.2 L549.2,138.4 L554.1,140 L559.1,142.4 L564,144.8 L568.9,146.5 L573.8,147 L578.8,145.9 L583.7,143.7 L588.6,140.9 L593.5,138.3 L598.5,136.6 L603.4,136.4 L608.3,137.7 L613.2,140 L618.2,142.7 L623.1,144.9 L628,146 L633,145.6 L637.9,143.8 L642.8,141.2 L647.7,138.5 L652.7,136.5 L657.6,135.8 L662.5,136.7 L667.4,138.7 L672.4,143.3 L677.3,148.4 L682.2,152.9 L687.2,155.7 L692.1,156.3 L697,153 L701.9,148.6 L706.9,144.9 L711.8,143 L716.7,143.5 L721.6,146.2 L726.6,150.3 L731.5,154.6 L736.4,157.8 L741.4,158.9 L746.3,157.7 L751.2,154.5 L756.1,150.2 L761.1,146.1 L766,143.5 L770.9,143.1 L775.8,144.1 L780.8,145.8 L785.7,147.5 L790.6,148.1 L795.6,147 L800.5,145.5 L805.4,143.9 L810.3,141.4 L815.3,138.7 L820.2,136.7 L825.1,135.9 L830,136.6 L835,138.7 L839.9,141.4 L844.8,144 L849.8,145.7 L854.7,146.1 L859.6,145.1 L864.5,142.9 L869.5,140.2 L874.4,138 L879.3,136.8 L884.2,137 L889.2,138.7 L894.1,141.4 L899,144.2 L903.9,146.5 L908.9,147.6 L913.8,147.2 L918.7,145.5 L923.7,143 L928.6,140.7 L933.5,139.2 L938.4,139.2 L943.4,140.6 L948.3,143.1 L953.2,146.3 L958.1,149.1 L963.1,150.9 L968,151.3 M495,148.9 L499.9,151 L504.9,153.3 L509.8,154.8 L514.7,155.1 L519.6,153.9 L524.6,151.5 L529.5,148.5 L534.4,145.7 L539.3,143.8 L544.3,143.3 L549.2,144.3 L554.1,146.4 L559.1,149 L564,151.1 L568.9,152.1 L573.8,151.7 L578.8,149.9 L583.7,147.3 L588.6,144.5 L593.5,142.3 L598.5,141.5 L603.4,142.1 L608.3,144 L613.2,146.6 L618.2,149.1 L623.1,150.8 L628,151 L633,149.8 L637.9,147.5 L642.8,144.7 L647.7,142.3 L652.7,141 L657.6,141.2 L662.5,142.8 L667.4,145.3 L672.4,149.4 L677.3,153.5 L682.2,156.4 L687.2,157.4 L692.1,156.1 L697,152.2 L701.9,148.1 L706.9,145.3 L711.8,144.7 L716.7,146.5 L721.6,150.1 L726.6,154.4 L731.5,158.3 L736.4,160.4 L741.4,160.2 L746.3,157.8 L751.2,153.8 L756.1,149.5 L761.1,146.1 L766,144.6 L770.9,145.6 L775.8,148 L780.8,150.7 L785.7,152.7 L790.6,153.2 L795.6,151.8 L800.5,149.8 L805.4,147.6 L810.3,144.9 L815.3,142.5 L820.2,141.1 L825.1,141.2 L830,142.7 L835,145.2 L839.9,147.9 L844.8,150.2 L849.8,151.2 L854.7,150.7 L859.6,149 L864.5,146.4 L869.5,143.9 L874.4,142.1 L879.3,141.7 L884.2,142.8 L889.2,145.1 L894.1,148 L899,150.6 L903.9,152.2 L908.9,152.5 L913.8,151.3 L918.7,149.1 L923.7,146.6 L928.6,144.7 L933.5,143.9 L938.4,144.7 L943.4,146.8 L948.3,149.7 L953.2,152.8 L958.1,155.1 L963.1,156.1 L968,155.6 M495,155.4 L499.9,157.6 L504.9,159.6 L509.8,160.4 L514.7,159.9 L519.6,158 L524.6,155.1 L529.5,152.1 L534.4,149.7 L539.3,148.6 L544.3,148.9 L549.2,150.6 L554.1,153 L559.1,155.4 L564,157 L568.9,157.2 L573.8,156 L578.8,153.6 L583.7,150.8 L588.6,148.3 L593.5,146.8 L598.5,146.8 L603.4,148.2 L608.3,150.6 L613.2,153.2 L618.2,155.3 L623.1,156.2 L628,155.6 L633,153.7 L637.9,151 L642.8,148.4 L647.7,146.5 L652.7,146 L657.6,147 L662.5,149.2 L667.4,151.9 L672.4,155.3 L677.3,158.1 L682.2,159.3 L687.2,158.5 L692.1,155.7 L697,151.5 L701.9,148 L706.9,146.4 L711.8,147.1 L716.7,150 L721.6,154.2 L726.6,158.4 L731.5,161.4 L736.4,162.3 L741.4,160.8 L746.3,157.4 L751.2,153 L756.1,149.1 L761.1,146.7 L766,146.6 L770.9,148.8 L775.8,152.3 L780.8,155.6 L785.7,157.6 L790.6,157.8 L795.6,156.1 L800.5,153.8 L805.4,151.2 L810.3,148.5 L815.3,146.6 L820.2,146 L825.1,146.9 L830,149.1 L835,151.8 L839.9,154.3 L844.8,156 L849.8,156.2 L854.7,154.9 L859.6,152.6 L864.5,150 L869.5,147.8 L874.4,146.7 L879.3,147.2 L884.2,149 L889.2,151.7 L894.1,154.5 L899,156.7 L903.9,157.5 L908.9,156.9 L913.8,155.1 L918.7,152.6 L923.7,150.3 L928.6,149 L933.5,149 L938.4,150.6 L943.4,153.3 L948.3,156.3 L953.2,159 L958.1,160.7 L963.1,160.8 L968,159.6 M495,162 L499.9,164.1 L504.9,165.5 L509.8,165.6 L514.7,164.3 L519.6,161.7 L524.6,158.7 L529.5,155.9 L534.4,154.1 L539.3,153.8 L544.3,154.9 L549.2,157.1 L554.1,159.6 L559.1,161.6 L564,162.5 L568.9,161.9 L573.8,159.9 L578.8,157.2 L583.7,154.4 L588.6,152.4 L593.5,151.7 L598.5,152.5 L603.4,154.6 L608.3,157.2 L613.2,159.6 L618.2,161.1 L623.1,161.1 L628,159.8 L633,157.3 L637.9,154.6 L642.8,152.3 L647.7,151.1 L652.7,151.5 L657.6,153.2 L662.5,155.8 L667.4,158.4 L672.4,160.8 L677.3,162.1 L682.2,161.6 L687.2,159.1 L692.1,155 L697,151 L701.9,148.5 L706.9,148.2 L711.8,150.2 L716.7,154 L721.6,158.3 L726.6,162 L731.5,163.9 L736.4,163.4 L741.4,160.7 L746.3,156.6 L751.2,152.4 L756.1,149.2 L761.1,148 L766,149.2 L770.9,152.5 L775.8,156.7 L780.8,160.3 L785.7,162.1 L790.6,161.8 L795.6,160 L800.5,157.4 L805.4,154.7 L810.3,152.4 L815.3,151.2 L820.2,151.4 L825.1,153.1 L830,155.6 L835,158.4 L839.9,160.4 L844.8,161.3 L849.8,160.7 L854.7,158.7 L859.6,156.1 L864.5,153.7 L869.5,152 L874.4,151.8 L879.3,153.1 L884.2,155.5 L889.2,158.3 L894.1,160.8 L899,162.3 L903.9,162.3 L908.9,161 L913.8,158.7 L918.7,156.2 L923.7,154.3 L928.6,153.7 L933.5,154.6 L938.4,156.9 L943.4,159.9 L948.3,162.8 L953.2,165 L958.1,165.8 L963.1,165.1 L968,163.4 M495,168.6 L499.9,170.4 L504.9,171.1 L509.8,170.3 L514.7,168.2 L519.6,165.3 L524.6,162.3 L529.5,160 L534.4,159 L539.3,159.5 L544.3,161.3 L549.2,163.7 L554.1,166.1 L559.1,167.5 L564,167.5 L568.9,166.1 L573.8,163.6 L578.8,160.7 L583.7,158.3 L588.6,157 L593.5,157.1 L598.5,158.7 L603.4,161.1 L608.3,163.7 L613.2,165.7 L618.2,166.4 L623.1,165.6 L628,163.6 L633,160.9 L637.9,158.3 L642.8,156.6 L647.7,156.2 L652.7,157.4 L657.6,159.7 L662.5,162.4 L667.4,164.7 L672.4,165.9 L677.3,165.6 L682.2,163.3 L687.2,159.4 L692.1,154.5 L697,151 L701.9,149.7 L706.9,150.7 L711.8,153.9 L716.7,158.1 L721.6,162.3 L726.6,165 L731.5,165.6 L736.4,163.8 L741.4,160.2 L746.3,155.9 L751.2,152.1 L756.1,149.9 L761.1,150.1 L766,152.5 L770.9,156.5 L775.8,161.1 L780.8,164.5 L785.7,165.9 L790.6,165.3 L795.6,163.4 L800.5,161 L805.4,158.4 L810.3,156.6 L815.3,156.2 L820.2,157.3 L825.1,159.5 L830,162.2 L835,164.7 L839.9,166.1 L844.8,166.2 L849.8,164.7 L854.7,162.4 L859.6,159.7 L864.5,157.6 L869.5,156.7 L874.4,157.4 L879.3,159.3 L884.2,162.1 L889.2,164.8 L894.1,166.8 L899,167.5 L903.9,166.7 L908.9,164.7 L913.8,162.2 L918.7,160 L923.7,158.8 L928.6,159 L933.5,160.7 L938.4,163.4 L943.4,166.5 L948.3,169 L953.2,170.4 L958.1,170.4 L963.1,169.1 L968,166.9 M495,175.1 L499.9,176.3 L504.9,176.2 L509.8,174.6 L514.7,171.9 L519.6,168.8 L524.6,166.1 L529.5,164.5 L534.4,164.3 L539.3,165.6 L544.3,167.8 L549.2,170.3 L554.1,172.2 L559.1,172.9 L564,172 L568.9,170 L573.8,167.1 L578.8,164.4 L583.7,162.5 L588.6,162 L593.5,163 L598.5,165.1 L603.4,167.7 L608.3,170.1 L613.2,171.4 L618.2,171.2 L623.1,169.7 L628,167.2 L633,164.4 L637.9,162.2 L642.8,161.3 L647.7,161.8 L652.7,163.7 L657.6,166.3 L662.5,168.9 L667.4,170.7 L672.4,170.5 L677.3,168.5 L682.2,164.7 L687.2,159.6 L692.1,154.3 L697,151.7 L701.9,151.7 L706.9,154 L711.8,157.9 L716.7,162.2 L721.6,165.7 L726.6,167.3 L731.5,166.6 L736.4,163.7 L741.4,159.5 L746.3,155.3 L751.2,152.3 L756.1,151.4 L761.1,152.9 L766,156.3 L770.9,160.7 L775.8,165.2 L780.8,168.2 L785.7,169.1 L790.6,168.3 L795.6,166.6 L800.5,164.5 L805.4,162.3 L810.3,161.3 L815.3,161.7 L820.2,163.5 L825.1,166.1 L830,168.8 L835,170.7 L839.9,171.4 L844.8,170.6 L849.8,168.5 L854.7,165.9 L859.6,163.5 L864.5,162 L869.5,161.9 L874.4,163.3 L879.3,165.8 L884.2,168.7 L889.2,171.1 L894.1,172.3 L899,172.2 L903.9,170.6 L908.9,168.3 L913.8,165.8 L918.7,164.1 L923.7,163.6 L928.6,164.7 L933.5,167 L938.4,170 L943.4,172.9 L948.3,174.8 L953.2,175.4 L958.1,174.6 L963.1,172.7 L968,170.5 M495,181.2 L499.9,181.7 L504.9,180.8 L509.8,178.5 L514.7,175.5 L519.6,172.5 L524.6,170.3 L529.5,169.4 L534.4,170.1 L539.3,172 L544.3,174.5 L549.2,176.7 L554.1,177.9 L559.1,177.8 L564,176.2 L568.9,173.6 L573.8,170.7 L578.8,168.4 L583.7,167.2 L588.6,167.5 L593.5,169.2 L598.5,171.7 L603.4,174.3 L608.3,176.1 L613.2,176.6 L618.2,175.6 L623.1,173.5 L628,170.7 L633,168.2 L637.9,166.6 L642.8,166.5 L647.7,167.8 L652.7,170.2 L657.6,172.9 L662.5,175.1 L667.4,176.2 L672.4,174.5 L677.3,170.9 L682.2,165.8 L687.2,160 L692.1,154.6 L697,153.1 L701.9,154.4 L706.9,157.7 L711.8,162 L716.7,166.1 L721.6,168.6 L726.6,168.9 L731.5,166.9 L736.4,163.1 L741.4,158.7 L746.3,155.1 L751.2,153.2 L756.1,153.7 L761.1,156.3 L766,160.4 L770.9,164.7 L775.8,168.8 L780.8,171.3 L785.7,171.7 L790.6,170.9 L795.6,169.8 L800.5,168.2 L805.4,166.6 L810.3,166.4 L815.3,167.6 L820.2,169.9 L825.1,172.7 L830,175 L835,176.3 L839.9,176.1 L844.8,174.6 L849.8,172.1 L854.7,169.5 L859.6,167.5 L864.5,166.8 L869.5,167.6 L874.4,169.6 L879.3,172.4 L884.2,175.1 L889.2,176.9 L894.1,177.4 L899,176.4 L903.9,174.3 L908.9,171.8 L913.8,169.6 L918.7,168.6 L923.7,169 L928.6,170.8 L933.5,173.6 L938.4,176.6 L943.4,179 L948.3,180.2 L953.2,180 L958.1,178.5 L963.1,176.3 L968,174.1 M495,187 L499.9,186.7 L504.9,184.9 L509.8,182.1 L514.7,179 L519.6,176.4 L524.6,174.9 L529.5,174.9 L534.4,176.3 L539.3,178.6 L544.3,181 L549.2,182.7 L554.1,183.2 L559.1,182.2 L564,180 L568.9,177.1 L573.8,174.4 L578.8,172.7 L583.7,172.3 L588.6,173.4 L593.5,175.7 L598.5,178.3 L603.4,180.5 L608.3,181.7 L613.2,181.3 L618.2,179.6 L623.1,177 L628,174.3 L633,172.2 L637.9,171.4 L642.8,172.1 L647.7,174.1 L652.7,176.8 L657.6,179.3 L662.5,181 L667.4,181.3 L672.4,178.1 L677.3,173.1 L682.2,166.9 L687.2,160.7 L692.1,155.5 L697,155.2 L701.9,157.8 L706.9,161.8 L711.8,166.1 L716.7,169.4 L721.6,170.8 L726.6,169.7 L731.5,166.6 L736.4,162.3 L741.4,158.2 L746.3,155.4 L751.2,154.8 L756.1,156.6 L761.1,160.2 L766,164.6 L770.9,168.4 L775.8,171.8 L780.8,173.7 L785.7,173.8 L790.6,173.2 L795.6,172.9 L800.5,172.2 L805.4,171.4 L810.3,172 L815.3,173.9 L820.2,176.5 L825.1,179.2 L830,181 L835,181.5 L839.9,180.5 L844.8,178.3 L849.8,175.6 L854.7,173.3 L859.6,171.9 L864.5,172.1 L869.5,173.6 L874.4,176.2 L879.3,179 L884.2,181.3 L889.2,182.4 L894.1,182 L899,180.3 L903.9,177.9 L908.9,175.5 L913.8,173.8 L918.7,173.5 L923.7,174.8 L928.6,177.2 L933.5,180.2 L938.4,182.9 L943.4,184.7 L948.3,185.1 L953.2,184.1 L958.1,182.1 L963.1,179.8 L968,178.1 M495,192.4 L499.9,191.2 L504.9,188.8 L509.8,185.7 L514.7,182.7 L519.6,180.6 L524.6,180 L529.5,180.8 L534.4,182.7 L539.3,185.2 L544.3,187.3 L549.2,188.4 L554.1,188 L559.1,186.3 L564,183.6 L568.9,180.7 L573.8,178.4 L578.8,177.4 L583.7,177.9 L588.6,179.7 L593.5,182.3 L598.5,184.8 L603.4,186.4 L608.3,186.8 L613.2,185.6 L618.2,183.3 L623.1,180.6 L628,178.1 L633,176.7 L637.9,176.7 L642.8,178.2 L647.7,180.7 L652.7,183.3 L657.6,185.5 L662.5,186.4 L667.4,185.8 L672.4,181.3 L677.3,175 L682.2,168.2 L687.2,161.8 L692.1,157.2 L697,158.1 L701.9,161.6 L706.9,166 L711.8,169.9 L716.7,172.2 L721.6,172.2 L726.6,169.9 L731.5,166 L736.4,161.6 L741.4,158.1 L746.3,156.5 L751.2,157.3 L756.1,160.2 L761.1,164.3 L766,168.6 L770.9,171.6 L775.8,174 L780.8,175.4 L785.7,175.5 L790.6,175.4 L795.6,176.3 L800.5,176.6 L805.4,176.6 L810.3,178 L815.3,180.4 L820.2,183.1 L825.1,185.4 L830,186.5 L835,186.1 L839.9,184.4 L844.8,181.9 L849.8,179.3 L854.7,177.4 L859.6,176.8 L864.5,177.8 L869.5,180 L874.4,182.8 L879.3,185.4 L884.2,187.1 L889.2,187.4 L894.1,186.2 L899,184 L903.9,181.4 L908.9,179.4 L913.8,178.4 L918.7,179 L923.7,180.9 L928.6,183.8 L933.5,186.7 L938.4,189 L943.4,190 L948.3,189.6 L953.2,187.9 L958.1,185.6 L963.1,183.5 L968,182.4 M495,197.2 L499.9,195.3 L504.9,192.4 L509.8,189.2 L514.7,186.7 L519.6,185.3 L524.6,185.5 L529.5,187 L534.4,189.3 L539.3,191.7 L544.3,193.3 L549.2,193.6 L554.1,192.4 L559.1,190 L564,187.1 L568.9,184.5 L573.8,182.8 L578.8,182.7 L583.7,183.9 L588.6,186.2 L593.5,188.9 L598.5,191 L603.4,191.9 L608.3,191.4 L613.2,189.6 L618.2,186.9 L623.1,184.2 L628,182.3 L633,181.6 L637.9,182.5 L642.8,184.6 L647.7,187.3 L652.7,189.7 L657.6,191.2 L662.5,191.3 L667.4,190 L672.4,184.2 L677.3,177 L682.2,169.7 L687.2,163.7 L692.1,159.7 L697,161.6 L701.9,165.7 L706.9,170 L711.8,173.1 L716.7,174.1 L721.6,172.8 L726.6,169.5 L731.5,165.2 L736.4,161.2 L741.4,158.6 L746.3,158.3 L751.2,160.4 L756.1,164.1 L761.1,168.5 L766,172.2 L770.9,174 L775.8,175.6 L780.8,176.6 L785.7,177 L790.6,177.8 L795.6,180 L800.5,181.5 L805.4,182.2 L810.3,184.3 L815.3,187 L820.2,189.6 L825.1,191.2 L830,191.5 L835,190.3 L839.9,188.1 L844.8,185.4 L849.8,183.1 L854.7,181.9 L859.6,182.2 L864.5,183.9 L869.5,186.5 L874.4,189.3 L879.3,191.5 L884.2,192.4 L889.2,191.9 L894.1,190 L899,187.5 L903.9,185.1 L908.9,183.6 L913.8,183.5 L918.7,184.9 L923.7,187.4 L928.6,190.4 L933.5,193 L938.4,194.6 L943.4,194.8 L948.3,193.6 L953.2,191.5 L958.1,189.2 L963.1,187.5 L968,187.1 M495,201.6 L499.9,199.1 L504.9,195.9 L509.8,193 L514.7,191 L519.6,190.5 L524.6,191.5 L529.5,193.5 L534.4,195.9 L539.3,197.9 L544.3,198.8 L549.2,198.3 L554.1,196.3 L559.1,193.6 L564,190.7 L568.9,188.6 L573.8,187.7 L578.8,188.4 L583.7,190.3 L588.6,192.9 L593.5,195.3 L598.5,196.8 L603.4,196.9 L608.3,195.6 L613.2,193.2 L618.2,190.4 L623.1,188.1 L628,186.8 L633,187 L637.9,188.6 L642.8,191.2 L647.7,193.8 L652.7,195.8 L657.6,196.6 L662.5,195.8 L667.4,193.8 L672.4,186.9 L677.3,179.1 L682.2,171.8 L687.2,166.2 L692.1,162.8 L697,165.5 L701.9,169.9 L706.9,173.6 L711.8,175.7 L716.7,175.4 L721.6,172.8 L726.6,168.8 L731.5,164.5 L736.4,161.2 L741.4,159.8 L746.3,160.9 L751.2,164 L756.1,168.3 L761.1,172.4 L766,175.2 L770.9,175.8 L775.8,176.4 L780.8,177.5 L785.7,178.4 L790.6,180.4 L795.6,184.1 L800.5,186.8 L805.4,188.3 L810.3,190.8 L815.3,193.6 L820.2,195.7 L825.1,196.6 L830,196.1 L835,194.2 L839.9,191.6 L844.8,189.1 L849.8,187.3 L854.7,187 L859.6,188.1 L864.5,190.3 L869.5,193.2 L874.4,195.7 L879.3,197.2 L884.2,197.3 L889.2,196 L894.1,193.6 L899,191.1 L903.9,189.1 L908.9,188.3 L913.8,189 L918.7,191.1 L923.7,194 L928.6,196.9 L933.5,199 L938.4,199.8 L943.4,199.2 L948.3,197.4 L953.2,195 L958.1,193 L963.1,192 L968,192.4 M495,205.7 L499.9,202.6 L504.9,199.5 L509.8,197 L514.7,195.8 L519.6,196.1 L524.6,197.8 L529.5,200.1 L534.4,202.4 L539.3,203.8 L544.3,203.9 L549.2,202.5 L554.1,200 L559.1,197.1 L564,194.5 L568.9,193.1 L573.8,193.1 L578.8,194.5 L583.7,196.8 L588.6,199.4 L593.5,201.4 L598.5,202.2 L603.4,201.5 L608.3,199.5 L613.2,196.8 L618.2,194.1 L623.1,192.3 L628,191.8 L633,192.9 L637.9,195.1 L642.8,197.8 L647.7,200.2 L652.7,201.5 L657.6,201.4 L662.5,199.9 L667.4,197.4 L672.4,189.8 L677.3,181.6 L682.2,174.5 L687.2,169.4 L692.1,166.5 L697,169.6 L701.9,173.8 L706.9,176.7 L711.8,177.5 L716.7,175.9 L721.6,172.4 L726.6,168 L731.5,164.1 L736.4,161.8 L741.4,161.8 L746.3,164.1 L751.2,168 L756.1,172.4 L761.1,175.9 L766,177.5 L770.9,176.7 L775.8,176.7 L780.8,178 L785.7,180 L790.6,183.4 L795.6,188.7 L800.5,192.6 L805.4,194.7 L810.3,197.5 L815.3,199.9 L820.2,201.5 L825.1,201.6 L830,200.2 L835,197.9 L839.9,195.2 L844.8,193 L849.8,192 L854.7,192.4 L859.6,194.3 L864.5,196.9 L869.5,199.7 L874.4,201.7 L879.3,202.4 L884.2,201.7 L889.2,199.7 L894.1,197.2 L899,194.8 L903.9,193.4 L908.9,193.5 L913.8,195 L918.7,197.6 L923.7,200.6 L928.6,203.1 L933.5,204.5 L938.4,204.5 L943.4,203.2 L948.3,200.9 L953.2,198.6 L958.1,197.1 L963.1,196.8 L968,198.1" fill="none" stroke="#ff5a24" stroke-width="2.3"/>
</g>
<path d="M495,144 L499.9,146.1 L504.9,147.5 L509.8,147.6 L514.7,146.3 L519.6,143.7 L524.6,140.7 L529.5,137.9 L534.4,136.1 L539.3,135.8 L544.3,136.9 L549.2,139.1 L554.1,141.6 L559.1,143.6 L564,144.5 L568.9,143.9 L573.8,141.9 L578.8,139.2 L583.7,136.4 L588.6,134.4 L593.5,133.7 L598.5,134.5 L603.4,136.6 L608.3,139.2 L613.2,141.6 L618.2,143.1 L623.1,143.1 L628,141.8 L633,139.3 L637.9,136.6 L642.8,134.3 L647.7,133.1 L652.7,133.5 L657.6,135.2 L662.5,137.8 L667.4,140.4 L672.4,144.9 L677.3,148.6 L682.2,150.4 L687.2,150.3 L692.1,148.6 L697,145 L701.9,142.5 L706.9,142.2 L711.8,144.2 L716.7,148 L721.6,152.3 L726.6,156 L731.5,157.9 L736.4,157.4 L741.4,154.7 L746.3,150.6 L751.2,146.4 L756.1,143.2 L761.1,142 L766,143.2 L770.9,146.5 L775.8,149.4 L780.8,150.5 L785.7,150 L790.6,147.3 L795.6,143.1 L800.5,139.4 L805.4,136.7 L810.3,134.4 L815.3,133.2 L820.2,133.4 L825.1,135.1 L830,137.6 L835,140.4 L839.9,142.4 L844.8,143.3 L849.8,142.7 L854.7,140.7 L859.6,138.1 L864.5,135.7 L869.5,134 L874.4,133.8 L879.3,135.1 L884.2,137.5 L889.2,140.3 L894.1,142.8 L899,144.3 L903.9,144.3 L908.9,143 L913.8,140.7 L918.7,138.2 L923.7,136.3 L928.6,135.7 L933.5,136.6 L938.4,138.9 L943.4,141.9 L948.3,144.8 L953.2,147 L958.1,147.8 L963.1,147.1 L968,145.4 L968,181.4 L963.1,183.1 L958.1,183.8 L953.2,183 L948.3,180.8 L943.4,177.9 L938.4,174.9 L933.5,172.6 L928.6,171.7 L923.7,172.3 L918.7,174.2 L913.8,176.7 L908.9,179 L903.9,180.3 L899,180.3 L894.1,178.8 L889.2,176.3 L884.2,173.5 L879.3,171.1 L874.4,169.8 L869.5,170 L864.5,171.7 L859.6,174.1 L854.7,176.7 L849.8,178.7 L844.8,179.3 L839.9,178.4 L835,176.4 L830,173.6 L825.1,171.1 L820.2,169.4 L815.3,169.2 L810.3,170.4 L805.4,172.7 L800.5,175.4 L795.6,176.8 L790.6,176.3 L785.7,174.1 L780.8,170 L775.8,164.1 L770.9,158.5 L766,155.2 L761.1,154 L756.1,155.2 L751.2,158.4 L746.3,162.6 L741.4,166.7 L736.4,169.4 L731.5,169.9 L726.6,168 L721.6,164.3 L716.7,160 L711.8,156.2 L706.9,154.2 L701.9,154.5 L697,157 L692.1,161.5 L687.2,167.9 L682.2,172.8 L677.3,175.7 L672.4,176.7 L667.4,176.4 L662.5,173.8 L657.6,171.2 L652.7,169.5 L647.7,169.1 L642.8,170.3 L637.9,172.6 L633,175.3 L628,177.8 L623.1,179.1 L618.2,179.1 L613.2,177.6 L608.3,175.2 L603.4,172.6 L598.5,170.5 L593.5,169.7 L588.6,170.4 L583.7,172.4 L578.8,175.2 L573.8,177.9 L568.9,179.9 L564,180.5 L559.1,179.6 L554.1,177.6 L549.2,175.1 L544.3,172.9 L539.3,171.8 L534.4,172.1 L529.5,173.9 L524.6,176.7 L519.6,179.7 L514.7,182.3 L509.8,183.6 L504.9,183.5 L499.9,182.1 L495,180 Z" fill="none" stroke="#ff5420" stroke-width="2"/>
<clipPath id="lc1"><path d="M499,252.9 L503.9,247.7 L508.7,243.2 L513.6,240 L518.5,238.4 L523.3,238.6 L528.2,240.1 L533.1,242.2 L537.9,244.1 L542.8,245.1 L547.6,244.5 L552.5,242.4 L557.4,238.9 L562.2,234.7 L567.1,230.4 L572,226.9 L576.8,224.9 L581.7,224.5 L586.6,225.7 L591.4,228 L596.3,230.7 L601.2,233 L606,234.1 L610.9,233.7 L615.8,231.7 L620.6,228.4 L625.5,224.5 L630.3,220.7 L635.2,218 L640.1,216.7 L644.9,217.1 L649.8,219 L654.7,221.9 L659.5,224.9 L664.4,227.3 L669.3,228.4 L674.1,227.8 L679,225.7 L683.9,222.5 L688.7,218.9 L693.6,215.6 L698.4,213.5 L703.3,213 L708.2,214.1 L713,216.6 L717.9,219.9 L722.8,223.1 L727.6,225.5 L732.5,226.5 L737.4,225.8 L742.2,223.7 L747.1,220.6 L752,217.3 L756.8,214.5 L761.7,213.1 L766.6,213.3 L771.4,215.1 L776.3,218.2 L781.1,221.8 L786,225.1 L790.9,227.5 L795.7,228.4 L800.6,227.6 L805.5,225.5 L810.3,222.5 L815.2,219.6 L820.1,217.4 L824.9,216.6 L829.8,217.6 L834.7,220.1 L839.5,223.6 L844.4,227.6 L849.2,231.1 L854.1,233.4 L859,234.2 L863.8,233.3 L868.7,231.3 L873.6,228.6 L878.4,226.1 L883.3,224.6 L888.2,224.6 L893,226.4 L897.9,229.6 L902.8,233.8 L907.6,238.1 L912.5,241.8 L917.4,244.2 L922.2,245.1 L927.1,244.4 L931.9,242.6 L936.8,240.5 L941.7,238.8 L946.5,238.3 L951.4,239.5 L956.3,242.4 L961.1,246.7 L966,251.8 L966,278.2 L961.1,274 L956.3,270.5 L951.4,268.5 L946.5,268.2 L941.7,269.5 L936.8,272 L931.9,274.9 L927.1,277.4 L922.2,278.8 L917.4,278.7 L912.5,277 L907.6,273.9 L902.8,270.3 L897.9,266.8 L893,264.2 L888.2,263 L883.3,263.6 L878.4,265.7 L873.6,268.7 L868.7,271.9 L863.8,274.5 L859,275.9 L854.1,275.6 L849.2,273.7 L844.4,270.6 L839.5,267.1 L834.7,263.9 L829.8,261.8 L824.9,261.3 L820.1,262.4 L815.2,264.9 L810.3,268.1 L805.5,271.4 L800.6,273.8 L795.7,274.8 L790.9,274.2 L786,272 L781.1,268.9 L776.3,265.4 L771.4,262.5 L766.6,260.8 L761.7,260.8 L756.8,262.3 L752,265.1 L747.1,268.5 L742.2,271.7 L737.4,273.8 L732.5,274.5 L727.6,273.5 L722.8,271.1 L717.9,267.8 L713,264.5 L708.2,261.9 L703.3,260.6 L698.4,261.1 L693.6,263 L688.7,266.1 L683.9,269.6 L679,272.6 L674.1,274.4 L669.3,274.7 L664.4,273.4 L659.5,270.7 L654.7,267.4 L649.8,264.3 L644.9,262 L640.1,261.3 L635.2,262.2 L630.3,264.5 L625.5,267.8 L620.6,271.3 L615.8,274.2 L610.9,275.8 L606,275.7 L601.2,274.1 L596.3,271.3 L591.4,268 L586.6,265.2 L581.7,263.4 L576.8,263.1 L572,264.6 L567.1,267.4 L562.2,271 L557.4,274.6 L552.5,277.4 L547.6,278.9 L542.8,278.6 L537.9,276.9 L533.1,274.3 L528.2,271.4 L523.3,269.1 L518.5,268.1 L513.6,268.8 L508.7,271.1 L503.9,274.8 L499,279.1 Z"/></clipPath>
<path d="M499,252.9 L503.9,247.7 L508.7,243.2 L513.6,240 L518.5,238.4 L523.3,238.6 L528.2,240.1 L533.1,242.2 L537.9,244.1 L542.8,245.1 L547.6,244.5 L552.5,242.4 L557.4,238.9 L562.2,234.7 L567.1,230.4 L572,226.9 L576.8,224.9 L581.7,224.5 L586.6,225.7 L591.4,228 L596.3,230.7 L601.2,233 L606,234.1 L610.9,233.7 L615.8,231.7 L620.6,228.4 L625.5,224.5 L630.3,220.7 L635.2,218 L640.1,216.7 L644.9,217.1 L649.8,219 L654.7,221.9 L659.5,224.9 L664.4,227.3 L669.3,228.4 L674.1,227.8 L679,225.7 L683.9,222.5 L688.7,218.9 L693.6,215.6 L698.4,213.5 L703.3,213 L708.2,214.1 L713,216.6 L717.9,219.9 L722.8,223.1 L727.6,225.5 L732.5,226.5 L737.4,225.8 L742.2,223.7 L747.1,220.6 L752,217.3 L756.8,214.5 L761.7,213.1 L766.6,213.3 L771.4,215.1 L776.3,218.2 L781.1,221.8 L786,225.1 L790.9,227.5 L795.7,228.4 L800.6,227.6 L805.5,225.5 L810.3,222.5 L815.2,219.6 L820.1,217.4 L824.9,216.6 L829.8,217.6 L834.7,220.1 L839.5,223.6 L844.4,227.6 L849.2,231.1 L854.1,233.4 L859,234.2 L863.8,233.3 L868.7,231.3 L873.6,228.6 L878.4,226.1 L883.3,224.6 L888.2,224.6 L893,226.4 L897.9,229.6 L902.8,233.8 L907.6,238.1 L912.5,241.8 L917.4,244.2 L922.2,245.1 L927.1,244.4 L931.9,242.6 L936.8,240.5 L941.7,238.8 L946.5,238.3 L951.4,239.5 L956.3,242.4 L961.1,246.7 L966,251.8 L966,278.2 L961.1,274 L956.3,270.5 L951.4,268.5 L946.5,268.2 L941.7,269.5 L936.8,272 L931.9,274.9 L927.1,277.4 L922.2,278.8 L917.4,278.7 L912.5,277 L907.6,273.9 L902.8,270.3 L897.9,266.8 L893,264.2 L888.2,263 L883.3,263.6 L878.4,265.7 L873.6,268.7 L868.7,271.9 L863.8,274.5 L859,275.9 L854.1,275.6 L849.2,273.7 L844.4,270.6 L839.5,267.1 L834.7,263.9 L829.8,261.8 L824.9,261.3 L820.1,262.4 L815.2,264.9 L810.3,268.1 L805.5,271.4 L800.6,273.8 L795.7,274.8 L790.9,274.2 L786,272 L781.1,268.9 L776.3,265.4 L771.4,262.5 L766.6,260.8 L761.7,260.8 L756.8,262.3 L752,265.1 L747.1,268.5 L742.2,271.7 L737.4,273.8 L732.5,274.5 L727.6,273.5 L722.8,271.1 L717.9,267.8 L713,264.5 L708.2,261.9 L703.3,260.6 L698.4,261.1 L693.6,263 L688.7,266.1 L683.9,269.6 L679,272.6 L674.1,274.4 L669.3,274.7 L664.4,273.4 L659.5,270.7 L654.7,267.4 L649.8,264.3 L644.9,262 L640.1,261.3 L635.2,262.2 L630.3,264.5 L625.5,267.8 L620.6,271.3 L615.8,274.2 L610.9,275.8 L606,275.7 L601.2,274.1 L596.3,271.3 L591.4,268 L586.6,265.2 L581.7,263.4 L576.8,263.1 L572,264.6 L567.1,267.4 L562.2,271 L557.4,274.6 L552.5,277.4 L547.6,278.9 L542.8,278.6 L537.9,276.9 L533.1,274.3 L528.2,271.4 L523.3,269.1 L518.5,268.1 L513.6,268.8 L508.7,271.1 L503.9,274.8 L499,279.1 Z" fill="url(#lcg)" stroke="none" stroke-width="1"/>
<g clip-path="url(#lc1)">
<path d="M499,238.8 L503.9,239 L508.7,237.8 L513.6,235.1 L518.5,230.9 L523.3,225.8 L528.2,220.5 L533.1,215.9 L537.9,212.5 L542.8,210.8 L547.6,210.8 L552.5,212.1 L557.4,214 L562.2,215.8 L567.1,216.6 L572,216 L576.8,213.8 L581.7,210.2 L586.6,205.8 L591.4,201.3 L596.3,197.7 L601.2,195.4 L606,194.8 L610.9,195.8 L615.8,198 L620.6,200.6 L625.5,202.8 L630.3,203.8 L635.2,203.3 L640.1,201.2 L644.9,197.9 L649.8,193.9 L654.7,190.1 L659.5,187.2 L664.4,185.8 L669.3,186.2 L674.1,188 L679,190.8 L683.9,193.8 L688.7,196.3 L693.6,197.4 L698.4,197 L703.3,194.9 L708.2,191.8 L713,188.2 L717.9,185 L722.8,183 L727.6,182.5 L732.5,183.7 L737.4,186.3 L742.2,189.6 L747.1,193 L752,195.6 L756.8,196.8 L761.7,196.4 L766.6,194.5 L771.4,191.6 L776.3,188.5 L781.1,185.9 L786,184.7 L790.9,185.1 L795.7,187.1 L800.6,190.4 L805.5,194.3 L810.3,198 L815.2,200.7 L820.1,202 L824.9,201.6 L829.8,199.8 L834.7,197.2 L839.5,194.7 L844.4,192.8 L849.2,192.4 L854.1,193.7 L859,196.6 L863.8,200.6 L868.7,205 L873.6,209 L878.4,211.9 L883.3,213.2 L888.2,213 L893,211.5 L897.9,209.4 L902.8,207.5 L907.6,206.6 L912.5,207.2 L917.4,209.6 L922.2,213.4 L927.1,218.3 L931.9,223.4 L936.8,227.9 L941.7,231.2 L946.5,232.9 L951.4,233.1 L956.3,232.3 L961.1,231.1 L966,230.3 M499,244.2 L503.9,243.6 L508.7,241.6 L513.6,238 L518.5,233.2 L523.3,228 L528.2,223 L533.1,219.2 L537.9,216.9 L542.8,216.4 L547.6,217.3 L552.5,219.2 L557.4,221.1 L562.2,222.5 L567.1,222.5 L572,220.9 L576.8,217.8 L581.7,213.6 L586.6,209.2 L591.4,205.2 L596.3,202.4 L601.2,201.2 L606,201.7 L610.9,203.6 L615.8,206.2 L620.6,208.6 L625.5,210.2 L630.3,210.3 L635.2,208.9 L640.1,205.9 L644.9,202.1 L649.8,198.2 L654.7,194.9 L659.5,192.9 L664.4,192.7 L669.3,194 L674.1,196.6 L679,199.6 L683.9,202.3 L688.7,204 L693.6,204.2 L698.4,202.7 L703.3,199.9 L708.2,196.4 L713,192.9 L717.9,190.4 L722.8,189.2 L727.6,189.8 L732.5,191.9 L737.4,195.1 L742.2,198.5 L747.1,201.5 L752,203.2 L756.8,203.3 L761.7,201.9 L766.6,199.3 L771.4,196.1 L776.3,193.2 L781.1,191.4 L786,191.1 L790.9,192.5 L795.7,195.3 L800.6,199 L805.5,202.8 L810.3,205.9 L815.2,207.7 L820.1,207.8 L824.9,206.5 L829.8,204 L834.7,201.3 L839.5,199 L844.4,198 L849.2,198.5 L854.1,200.8 L859,204.3 L863.8,208.6 L868.7,212.7 L873.6,216 L878.4,217.8 L883.3,218 L888.2,216.8 L893,214.7 L897.9,212.5 L902.8,211.1 L907.6,210.9 L912.5,212.5 L917.4,215.7 L922.2,220.1 L927.1,225.1 L931.9,229.7 L936.8,233.4 L941.7,235.5 L946.5,236.1 L951.4,235.4 L956.3,234.1 L961.1,232.9 L966,232.6 M499,249.1 L503.9,247.7 L508.7,244.7 L513.6,240.3 L518.5,235.3 L523.3,230.2 L528.2,225.9 L533.1,223.1 L537.9,222 L542.8,222.5 L547.6,224.1 L552.5,226.2 L557.4,228 L562.2,228.6 L567.1,227.6 L572,225.1 L576.8,221.4 L581.7,217 L586.6,212.8 L591.4,209.5 L596.3,207.8 L601.2,207.7 L606,209.2 L610.9,211.6 L615.8,214.2 L620.6,216.3 L625.5,217 L630.3,216.2 L635.2,213.8 L640.1,210.3 L644.9,206.3 L649.8,202.7 L654.7,200.2 L659.5,199.3 L664.4,200.1 L669.3,202.3 L674.1,205.3 L679,208.2 L683.9,210.4 L688.7,211.1 L693.6,210.3 L698.4,207.9 L703.3,204.6 L708.2,201 L713,198 L717.9,196.3 L722.8,196.2 L727.6,197.8 L732.5,200.6 L737.4,204 L742.2,207.2 L747.1,209.4 L752,210.1 L756.8,209.2 L761.7,206.9 L766.6,203.8 L771.4,200.7 L776.3,198.4 L781.1,197.4 L786,198.1 L790.9,200.5 L795.7,203.9 L800.6,207.7 L805.5,211.1 L810.3,213.3 L815.2,214 L820.1,213.1 L824.9,210.9 L829.8,208.1 L834.7,205.5 L839.5,203.8 L844.4,203.7 L849.2,205.2 L854.1,208.3 L859,212.3 L863.8,216.5 L868.7,220.1 L873.6,222.4 L878.4,223.1 L883.3,222.2 L888.2,220.3 L893,217.9 L897.9,215.9 L902.8,215.1 L907.6,215.9 L912.5,218.4 L917.4,222.3 L922.2,227 L927.1,231.8 L931.9,235.7 L936.8,238.3 L941.7,239.2 L946.5,238.8 L951.4,237.4 L956.3,235.9 L961.1,235.1 L966,235.5 M499,253.4 L503.9,251 L508.7,247.2 L513.6,242.4 L518.5,237.3 L523.3,232.7 L528.2,229.4 L533.1,227.7 L537.9,227.7 L542.8,229 L547.6,231.1 L552.5,233.1 L557.4,234.3 L562.2,234 L567.1,232.2 L572,228.9 L576.8,224.7 L581.7,220.3 L586.6,216.7 L591.4,214.4 L596.3,213.8 L601.2,214.8 L606,217 L610.9,219.7 L615.8,222.1 L620.6,223.4 L625.5,223.2 L630.3,221.4 L635.2,218.3 L640.1,214.4 L644.9,210.6 L649.8,207.7 L654.7,206.2 L659.5,206.4 L664.4,208.1 L669.3,210.9 L674.1,214 L679,216.5 L683.9,217.8 L688.7,217.6 L693.6,215.7 L698.4,212.7 L703.3,209.1 L708.2,205.8 L713,203.5 L717.9,202.8 L722.8,203.8 L727.6,206.2 L732.5,209.5 L737.4,212.8 L742.2,215.4 L747.1,216.7 L752,216.4 L756.8,214.5 L761.7,211.6 L766.6,208.4 L771.4,205.6 L776.3,204.1 L781.1,204.1 L786,205.8 L790.9,208.9 L795.7,212.6 L800.6,216.2 L805.5,218.8 L810.3,220.1 L815.2,219.7 L820.1,217.8 L824.9,215.1 L829.8,212.2 L834.7,210.1 L839.5,209.3 L844.4,210.1 L849.2,212.6 L854.1,216.2 L859,220.3 L863.8,224.1 L868.7,226.9 L873.6,228.1 L878.4,227.7 L883.3,225.9 L888.2,223.5 L893,221.2 L897.9,219.8 L902.8,219.8 L907.6,221.6 L912.5,224.9 L917.4,229.3 L922.2,233.9 L927.1,238.1 L931.9,241.1 L936.8,242.5 L941.7,242.4 L946.5,241.1 L951.4,239.4 L956.3,238 L961.1,237.7 L966,239.1 M499,257 L503.9,253.8 L508.7,249.3 L513.6,244.3 L518.5,239.5 L523.3,235.7 L528.2,233.4 L533.1,232.9 L537.9,233.9 L542.8,235.9 L547.6,238.1 L552.5,239.7 L557.4,240.1 L562.2,238.8 L567.1,236.1 L572,232.2 L576.8,227.9 L581.7,224 L586.6,221.2 L591.4,220 L596.3,220.5 L601.2,222.3 L606,225 L610.9,227.6 L615.8,229.5 L620.6,229.9 L625.5,228.7 L630.3,226.1 L635.2,222.4 L640.1,218.5 L644.9,215.2 L649.8,213.2 L654.7,212.8 L659.5,214 L664.4,216.5 L669.3,219.6 L674.1,222.4 L679,224.3 L683.9,224.7 L688.7,223.4 L693.6,220.7 L698.4,217.3 L703.3,213.8 L708.2,211 L713,209.7 L717.9,210 L722.8,212 L727.6,215 L732.5,218.4 L737.4,221.3 L742.2,223.2 L747.1,223.4 L752,222.1 L756.8,219.4 L761.7,216.2 L766.6,213.1 L771.4,211 L776.3,210.4 L781.1,211.5 L786,214 L790.9,217.5 L795.7,221.2 L800.6,224.3 L805.5,226 L810.3,226.2 L815.2,224.7 L820.1,222.2 L824.9,219.2 L829.8,216.7 L834.7,215.2 L839.5,215.3 L844.4,217.1 L849.2,220.3 L854.1,224.3 L859,228.2 L863.8,231.3 L868.7,233 L873.6,233.1 L878.4,231.7 L883.3,229.4 L888.2,226.8 L893,224.9 L897.9,224.2 L902.8,225.2 L907.6,227.8 L912.5,231.8 L917.4,236.3 L922.2,240.6 L927.1,243.9 L931.9,245.8 L936.8,246 L941.7,245 L946.5,243.2 L951.4,241.4 L956.3,240.5 L961.1,241 L966,243.3 M499,260 L503.9,256 L508.7,251.2 L513.6,246.3 L518.5,242.1 L523.3,239.3 L528.2,238.2 L533.1,238.7 L537.9,240.5 L542.8,242.8 L547.6,244.7 L552.5,245.7 L557.4,245.2 L562.2,243 L567.1,239.5 L572,235.4 L576.8,231.3 L581.7,228.1 L586.6,226.3 L591.4,226.2 L596.3,227.7 L601.2,230.2 L606,233 L610.9,235.3 L615.8,236.3 L620.6,235.8 L625.5,233.7 L630.3,230.3 L635.2,226.5 L640.1,222.9 L644.9,220.4 L649.8,219.4 L654.7,220.1 L659.5,222.2 L664.4,225.1 L669.3,228.2 L674.1,230.5 L679,231.5 L683.9,230.8 L688.7,228.6 L693.6,225.4 L698.4,221.8 L703.3,218.7 L708.2,216.8 L713,216.5 L717.9,217.9 L722.8,220.6 L727.6,223.9 L732.5,227.1 L737.4,229.4 L742.2,230.2 L747.1,229.4 L752,227.2 L756.8,224.1 L761.7,220.8 L766.6,218.2 L771.4,217 L776.3,217.4 L781.1,219.4 L786,222.6 L790.9,226.3 L795.7,229.6 L800.6,231.8 L805.5,232.5 L810.3,231.6 L815.2,229.3 L820.1,226.4 L824.9,223.5 L829.8,221.5 L834.7,220.9 L839.5,222.1 L844.4,224.7 L849.2,228.4 L854.1,232.4 L859,235.8 L863.8,237.9 L868.7,238.5 L873.6,237.6 L878.4,235.4 L883.3,232.7 L888.2,230.3 L893,229 L897.9,229.3 L902.8,231.2 L907.6,234.6 L912.5,238.9 L917.4,243.2 L922.2,246.8 L927.1,249.1 L931.9,249.8 L936.8,249.1 L941.7,247.3 L946.5,245.2 L951.4,243.7 L956.3,243.5 L961.1,244.9 L966,248.1 M499,262.4 L503.9,257.9 L508.7,253 L513.6,248.5 L518.5,245.2 L523.3,243.5 L528.2,243.5 L533.1,245 L537.9,247.2 L542.8,249.5 L547.6,251 L552.5,251.1 L557.4,249.6 L562.2,246.6 L567.1,242.7 L572,238.5 L576.8,235 L581.7,232.7 L586.6,232 L591.4,233 L596.3,235.3 L601.2,238.1 L606,240.7 L610.9,242.4 L615.8,242.5 L620.6,241 L625.5,238.1 L630.3,234.4 L635.2,230.7 L640.1,227.7 L644.9,226.1 L649.8,226.2 L654.7,227.9 L659.5,230.6 L664.4,233.8 L669.3,236.5 L674.1,238 L679,238 L683.9,236.4 L688.7,233.4 L693.6,229.9 L698.4,226.5 L703.3,224.1 L708.2,223.2 L713,224 L717.9,226.2 L722.8,229.4 L727.6,232.8 L732.5,235.5 L737.4,236.9 L742.2,236.7 L747.1,234.9 L752,232 L756.8,228.6 L761.7,225.7 L766.6,223.9 L771.4,223.6 L776.3,225 L781.1,227.8 L786,231.4 L790.9,234.9 L795.7,237.5 L800.6,238.8 L805.5,238.4 L810.3,236.5 L815.2,233.7 L820.1,230.6 L824.9,228.1 L829.8,226.9 L834.7,227.3 L839.5,229.4 L844.4,232.7 L849.2,236.6 L854.1,240.2 L859,242.8 L863.8,243.9 L868.7,243.4 L873.6,241.5 L878.4,238.8 L883.3,236.1 L888.2,234.3 L893,233.8 L897.9,235 L902.8,237.8 L907.6,241.7 L912.5,245.9 L917.4,249.8 L922.2,252.5 L927.1,253.7 L931.9,253.3 L936.8,251.6 L941.7,249.4 L946.5,247.5 L951.4,246.5 L956.3,247.2 L961.1,249.5 L966,253.4 M499,264.3 L503.9,259.5 L508.7,254.9 L513.6,251.1 L518.5,248.9 L523.3,248.4 L528.2,249.4 L533.1,251.6 L537.9,254 L542.8,255.9 L547.6,256.7 L552.5,255.8 L557.4,253.4 L562.2,249.9 L567.1,245.8 L572,242 L576.8,239.2 L581.7,238 L586.6,238.4 L591.4,240.4 L596.3,243.1 L601.2,246 L606,248.1 L610.9,248.9 L615.8,248 L620.6,245.6 L625.5,242.2 L630.3,238.4 L635.2,235.1 L640.1,233 L644.9,232.5 L649.8,233.7 L654.7,236.1 L659.5,239.3 L664.4,242.2 L669.3,244.3 L674.1,244.9 L679,243.9 L683.9,241.4 L688.7,238 L693.6,234.5 L698.4,231.7 L703.3,230.1 L708.2,230.3 L713,232 L717.9,235 L722.8,238.3 L727.6,241.3 L732.5,243.3 L737.4,243.7 L742.2,242.4 L747.1,239.9 L752,236.6 L756.8,233.4 L761.7,231 L766.6,230.1 L771.4,230.9 L776.3,233.2 L781.1,236.5 L786,240.1 L790.9,243.1 L795.7,244.9 L800.6,245.1 L805.5,243.6 L810.3,241 L815.2,237.9 L820.1,235 L824.9,233.2 L829.8,233 L834.7,234.4 L839.5,237.2 L844.4,240.9 L849.2,244.6 L854.1,247.6 L859,249.2 L863.8,249.2 L868.7,247.7 L873.6,245.1 L878.4,242.3 L883.3,239.9 L888.2,238.7 L893,239.2 L897.9,241.3 L902.8,244.8 L907.6,248.9 L912.5,252.9 L917.4,255.9 L922.2,257.6 L927.1,257.6 L931.9,256.2 L936.8,254 L941.7,251.7 L946.5,250.1 L951.4,249.9 L956.3,251.5 L961.1,254.7 L966,259.1 M499,266 L503.9,261.2 L508.7,257.1 L513.6,254.4 L518.5,253.3 L523.3,253.9 L528.2,255.7 L533.1,258.2 L537.9,260.5 L542.8,261.8 L547.6,261.7 L552.5,259.9 L557.4,256.8 L562.2,252.9 L567.1,248.9 L572,245.8 L576.8,244 L581.7,243.9 L586.6,245.4 L591.4,248 L596.3,251 L601.2,253.5 L606,254.9 L610.9,254.7 L615.8,252.9 L620.6,249.8 L625.5,246.1 L630.3,242.6 L635.2,240.1 L640.1,239 L644.9,239.6 L649.8,241.7 L654.7,244.7 L659.5,247.8 L664.4,250.3 L669.3,251.5 L674.1,251.1 L679,249.2 L683.9,246 L688.7,242.5 L693.6,239.3 L698.4,237.3 L703.3,236.8 L708.2,238 L713,240.6 L717.9,243.9 L722.8,247.1 L727.6,249.5 L732.5,250.5 L737.4,249.8 L742.2,247.7 L747.1,244.6 L752,241.2 L756.8,238.4 L761.7,236.9 L766.6,237.1 L771.4,238.8 L776.3,241.8 L781.1,245.3 L786,248.6 L790.9,250.9 L795.7,251.6 L800.6,250.7 L805.5,248.4 L810.3,245.3 L815.2,242.2 L820.1,239.9 L824.9,239 L829.8,239.7 L834.7,242 L839.5,245.4 L844.4,249.1 L849.2,252.4 L854.1,254.5 L859,255 L863.8,253.9 L868.7,251.6 L873.6,248.6 L878.4,245.9 L883.3,244.1 L888.2,243.8 L893,245.3 L897.9,248.2 L902.8,252 L907.6,256 L912.5,259.4 L917.4,261.5 L922.2,261.9 L927.1,260.9 L931.9,258.8 L936.8,256.2 L941.7,254.2 L946.5,253.3 L951.4,254 L956.3,256.5 L961.1,260.3 L966,265 M499,267.5 L503.9,263.2 L508.7,259.9 L513.6,258.2 L518.5,258.3 L523.3,259.9 L528.2,262.3 L533.1,264.8 L537.9,266.6 L542.8,267.2 L547.6,266.1 L552.5,263.4 L557.4,259.8 L562.2,255.8 L567.1,252.4 L572,250.1 L576.8,249.5 L581.7,250.5 L586.6,252.8 L591.4,255.8 L596.3,258.7 L601.2,260.6 L606,261.1 L610.9,259.9 L615.8,257.3 L620.6,253.8 L625.5,250.2 L630.3,247.2 L635.2,245.6 L640.1,245.6 L644.9,247.2 L649.8,250 L654.7,253.2 L659.5,256.1 L664.4,257.9 L669.3,258.1 L674.1,256.7 L679,254 L683.9,250.5 L688.7,247.1 L693.6,244.6 L698.4,243.5 L703.3,244.1 L708.2,246.3 L713,249.4 L717.9,252.7 L722.8,255.5 L727.6,257.1 L732.5,257 L737.4,255.4 L742.2,252.5 L747.1,249.1 L752,246.1 L756.8,244 L761.7,243.5 L766.6,244.6 L771.4,247.2 L776.3,250.6 L781.1,254 L786,256.7 L790.9,258 L795.7,257.7 L800.6,255.8 L805.5,252.9 L810.3,249.6 L815.2,246.9 L820.1,245.3 L824.9,245.4 L829.8,247.1 L834.7,250 L839.5,253.7 L844.4,257.1 L849.2,259.7 L854.1,260.7 L859,260.1 L863.8,258.1 L868.7,255.2 L873.6,252.2 L878.4,249.9 L883.3,248.9 L888.2,249.6 L893,251.9 L897.9,255.4 L902.8,259.3 L907.6,262.9 L912.5,265.4 L917.4,266.3 L922.2,265.7 L927.1,263.8 L931.9,261.1 L936.8,258.7 L941.7,257.1 L946.5,257.1 L951.4,258.7 L956.3,262 L961.1,266.2 L966,270.8 M499,269.1 L503.9,265.5 L508.7,263.3 L513.6,262.8 L518.5,263.9 L523.3,266.2 L528.2,268.8 L533.1,271.1 L537.9,272.2 L542.8,271.8 L547.6,269.8 L552.5,266.5 L557.4,262.7 L562.2,259 L567.1,256.3 L572,255.1 L576.8,255.6 L581.7,257.6 L586.6,260.5 L591.4,263.6 L596.3,266 L601.2,267.1 L606,266.6 L610.9,264.5 L615.8,261.3 L620.6,257.7 L625.5,254.5 L630.3,252.3 L635.2,251.8 L640.1,252.9 L644.9,255.3 L649.8,258.5 L654.7,261.7 L659.5,264 L664.4,264.8 L669.3,264.1 L674.1,261.8 L679,258.5 L683.9,255 L688.7,252.1 L693.6,250.5 L698.4,250.5 L703.3,252.1 L708.2,254.9 L713,258.3 L717.9,261.4 L722.8,263.4 L727.6,264 L732.5,262.9 L737.4,260.4 L742.2,257.2 L747.1,253.8 L752,251.3 L756.8,250.2 L761.7,250.7 L766.6,252.8 L771.4,255.9 L776.3,259.4 L781.1,262.4 L786,264.2 L790.9,264.5 L795.7,263.1 L800.6,260.4 L805.5,257.2 L810.3,254.1 L815.2,252 L820.1,251.3 L824.9,252.4 L829.8,254.9 L834.7,258.3 L839.5,261.9 L844.4,264.8 L849.2,266.3 L854.1,266.3 L859,264.7 L863.8,261.9 L868.7,258.8 L873.6,256 L878.4,254.4 L883.3,254.4 L888.2,256 L893,259 L897.9,262.8 L902.8,266.5 L907.6,269.3 L912.5,270.8 L917.4,270.6 L922.2,268.9 L927.1,266.3 L931.9,263.6 L936.8,261.4 L941.7,260.6 L946.5,261.5 L951.4,264 L956.3,267.8 L961.1,272.2 L966,276.4 M499,271.1 L503.9,268.3 L508.7,267.3 L513.6,267.9 L518.5,269.9 L523.3,272.6 L528.2,275.2 L533.1,276.9 L537.9,277.2 L542.8,275.8 L547.6,273 L552.5,269.4 L557.4,265.6 L562.2,262.6 L567.1,260.8 L572,260.8 L576.8,262.3 L581.7,265 L586.6,268.2 L591.4,271 L596.3,272.7 L601.2,272.9 L606,271.5 L610.9,268.7 L615.8,265.2 L620.6,261.8 L625.5,259.2 L630.3,258.1 L635.2,258.6 L640.1,260.7 L644.9,263.7 L649.8,267 L654.7,269.7 L659.5,271.2 L664.4,271.1 L669.3,269.4 L674.1,266.4 L679,263 L683.9,259.8 L688.7,257.6 L693.6,257 L698.4,258 L703.3,260.5 L708.2,263.8 L713,267.1 L717.9,269.6 L722.8,270.8 L727.6,270.3 L732.5,268.3 L737.4,265.2 L742.2,261.8 L747.1,258.9 L752,257.1 L756.8,257 L761.7,258.5 L766.6,261.3 L771.4,264.7 L776.3,268 L781.1,270.3 L786,271.1 L790.9,270.3 L795.7,268 L800.6,264.8 L805.5,261.5 L810.3,259 L815.2,257.7 L820.1,258.1 L824.9,260 L829.8,263.1 L834.7,266.7 L839.5,269.8 L844.4,271.9 L849.2,272.4 L854.1,271.2 L859,268.8 L863.8,265.6 L868.7,262.5 L873.6,260.3 L878.4,259.6 L883.3,260.5 L888.2,263 L893,266.4 L897.9,270.1 L902.8,273.3 L907.6,275.2 L912.5,275.5 L917.4,274.2 L922.2,271.7 L927.1,268.8 L931.9,266.2 L936.8,264.7 L941.7,264.8 L946.5,266.6 L951.4,269.8 L956.3,273.9 L961.1,278.1 L966,281.6 M499,273.5 L503.9,271.8 L508.7,272 L513.6,273.6 L518.5,276.2 L523.3,279 L528.2,281.2 L533.1,282.1 L537.9,281.4 L542.8,279.2 L547.6,275.9 L552.5,272.2 L557.4,268.8 L562.2,266.6 L567.1,266 L572,267.1 L576.8,269.5 L581.7,272.7 L586.6,275.8 L591.4,278 L596.3,278.9 L601.2,278.1 L606,275.8 L610.9,272.5 L615.8,269 L620.6,266.1 L625.5,264.5 L630.3,264.5 L635.2,266.1 L640.1,268.9 L644.9,272.2 L649.8,275.3 L654.7,277.3 L659.5,277.9 L664.4,276.7 L669.3,274.2 L674.1,270.9 L679,267.5 L683.9,264.9 L688.7,263.7 L693.6,264.2 L698.4,266.2 L703.3,269.2 L708.2,272.6 L713,275.5 L717.9,277.3 L722.8,277.4 L727.6,275.9 L732.5,273.2 L737.4,269.8 L742.2,266.6 L747.1,264.3 L752,263.6 L756.8,264.5 L761.7,266.9 L766.6,270.1 L771.4,273.5 L776.3,276.2 L781.1,277.6 L786,277.3 L790.9,275.5 L795.7,272.6 L800.6,269.2 L805.5,266.2 L810.3,264.3 L815.2,264 L820.1,265.4 L824.9,268.1 L829.8,271.5 L834.7,274.8 L839.5,277.3 L844.4,278.4 L849.2,277.7 L854.1,275.6 L859,272.6 L863.8,269.3 L868.7,266.6 L873.6,265.2 L878.4,265.4 L883.3,267.3 L888.2,270.3 L893,273.9 L897.9,277.3 L902.8,279.6 L907.6,280.4 L912.5,279.5 L917.4,277.3 L922.2,274.4 L927.1,271.4 L931.9,269.3 L936.8,268.6 L941.7,269.6 L946.5,272.2 L951.4,276 L956.3,280 L961.1,283.7 L966,286.2 M499,276.5 L503.9,276 L508.7,277.2 L513.6,279.6 L518.5,282.5 L523.3,285.1 L528.2,286.7 L533.1,286.7 L537.9,285.1 L542.8,282.2 L547.6,278.6 L552.5,275.1 L557.4,272.5 L562.2,271.3 L567.1,271.8 L572,273.9 L576.8,277 L581.7,280.3 L586.6,283 L591.4,284.5 L596.3,284.4 L601.2,282.7 L606,279.7 L610.9,276.3 L615.8,273.2 L620.6,271 L625.5,270.4 L630.3,271.5 L635.2,274 L640.1,277.3 L644.9,280.6 L649.8,283.1 L654.7,284.3 L659.5,283.8 L664.4,281.8 L669.3,278.7 L674.1,275.3 L679,272.4 L683.9,270.6 L688.7,270.5 L693.6,272 L698.4,274.7 L703.3,278.1 L708.2,281.3 L713,283.6 L717.9,284.3 L722.8,283.4 L727.6,281.1 L732.5,277.8 L737.4,274.5 L742.2,271.8 L747.1,270.4 L752,270.7 L756.8,272.6 L761.7,275.6 L766.6,279 L771.4,282 L776.3,283.9 L781.1,284.3 L786,282.9 L790.9,280.3 L795.7,277 L800.6,273.7 L805.5,271.3 L810.3,270.4 L815.2,271.1 L820.1,273.3 L824.9,276.5 L829.8,279.9 L834.7,282.7 L839.5,284.2 L844.4,284.2 L849.2,282.5 L854.1,279.6 L859,276.3 L863.8,273.2 L868.7,271.2 L873.6,270.7 L878.4,271.9 L883.3,274.5 L888.2,277.9 L893,281.3 L897.9,284 L902.8,285.2 L907.6,284.9 L912.5,283 L917.4,280.1 L922.2,277 L927.1,274.3 L931.9,272.9 L936.8,273.2 L941.7,275.1 L946.5,278.3 L951.4,282.2 L956.3,285.9 L961.1,288.8 L966,290.2 M499,280.1 L503.9,280.8 L508.7,282.9 L513.6,285.8 L518.5,288.7 L523.3,290.8 L528.2,291.5 L533.1,290.6 L537.9,288.2 L542.8,284.8 L547.6,281.3 L552.5,278.4 L557.4,276.7 L562.2,276.7 L567.1,278.3 L572,281.1 L576.8,284.5 L581.7,287.6 L586.6,289.7 L591.4,290.3 L596.3,289.2 L601.2,286.7 L606,283.5 L610.9,280.2 L615.8,277.7 L620.6,276.5 L625.5,277.1 L630.3,279.1 L635.2,282.2 L640.1,285.7 L644.9,288.7 L649.8,290.4 L654.7,290.6 L659.5,289.2 L664.4,286.4 L669.3,283.1 L674.1,279.9 L679,277.7 L683.9,277 L688.7,277.9 L693.6,280.3 L698.4,283.5 L703.3,286.9 L708.2,289.6 L713,291 L717.9,290.7 L722.8,288.8 L727.6,285.8 L732.5,282.4 L737.4,279.4 L742.2,277.5 L747.1,277.1 L752,278.4 L756.8,281.1 L761.7,284.4 L766.6,287.7 L771.4,290 L776.3,291 L781.1,290.2 L786,288 L790.9,284.8 L795.7,281.4 L800.6,278.6 L805.5,277 L810.3,277 L815.2,278.7 L820.1,281.5 L824.9,284.9 L829.8,288 L834.7,290 L839.5,290.5 L844.4,289.3 L849.2,286.8 L854.1,283.4 L859,280.1 L863.8,277.5 L868.7,276.4 L873.6,276.9 L878.4,278.9 L883.3,282 L888.2,285.4 L893,288.4 L897.9,290.1 L902.8,290.3 L907.6,288.8 L912.5,286.1 L917.4,282.8 L922.2,279.8 L927.1,277.7 L931.9,277.2 L936.8,278.4 L941.7,281.1 L946.5,284.6 L951.4,288.4 L956.3,291.5 L961.1,293.3 L966,293.5 M499,284.4 L503.9,286.2 L508.7,289 L513.6,292 L518.5,294.6 L523.3,295.9 L528.2,295.7 L533.1,293.9 L537.9,290.9 L542.8,287.4 L547.6,284.2 L552.5,282.1 L557.4,281.6 L562.2,282.7 L567.1,285.2 L572,288.6 L576.8,292 L581.7,294.6 L586.6,295.8 L591.4,295.4 L596.3,293.5 L601.2,290.5 L606,287.2 L610.9,284.4 L615.8,282.7 L620.6,282.7 L625.5,284.3 L630.3,287.1 L635.2,290.6 L640.1,293.9 L644.9,296.3 L649.8,297.1 L654.7,296.3 L659.5,294 L664.4,290.8 L669.3,287.5 L674.1,284.9 L679,283.6 L683.9,284 L688.7,285.9 L693.6,288.9 L698.4,292.4 L703.3,295.4 L708.2,297.4 L713,297.7 L717.9,296.4 L722.8,293.8 L727.6,290.5 L732.5,287.2 L737.4,284.8 L742.2,283.8 L747.1,284.5 L752,286.7 L756.8,289.9 L761.7,293.3 L766.6,296 L771.4,297.5 L776.3,297.4 L781.1,295.6 L786,292.7 L790.9,289.2 L795.7,286.1 L800.6,283.9 L805.5,283.3 L810.3,284.4 L815.2,286.8 L820.1,290 L824.9,293.2 L829.8,295.7 L834.7,296.7 L839.5,296.1 L844.4,294 L849.2,290.8 L854.1,287.3 L859,284.2 L863.8,282.4 L868.7,282.2 L873.6,283.7 L878.4,286.4 L883.3,289.7 L888.2,292.8 L893,294.9 L897.9,295.6 L902.8,294.6 L907.6,292.2 L912.5,289 L917.4,285.6 L922.2,283 L927.1,281.7 L931.9,282.2 L936.8,284.2 L941.7,287.4 L946.5,291 L951.4,294.3 L956.3,296.5 L961.1,297.1 L966,296.2 M499,289.3 L503.9,291.9 L508.7,295.1 L513.6,298 L518.5,299.9 L523.3,300.4 L528.2,299.2 L533.1,296.7 L537.9,293.4 L542.8,290.1 L547.6,287.6 L552.5,286.5 L557.4,287.1 L562.2,289.2 L567.1,292.5 L572,296 L576.8,299.1 L581.7,301 L586.6,301.3 L591.4,300 L596.3,297.3 L601.2,294.1 L606,291.1 L610.9,289 L615.8,288.4 L620.6,289.5 L625.5,292 L630.3,295.4 L635.2,298.9 L640.1,301.8 L644.9,303.3 L649.8,303.1 L654.7,301.4 L659.5,298.5 L664.4,295.2 L669.3,292.3 L674.1,290.5 L679,290.2 L683.9,291.6 L688.7,294.3 L693.6,297.7 L698.4,301.1 L703.3,303.5 L708.2,304.5 L713,303.8 L717.9,301.6 L722.8,298.5 L727.6,295.1 L732.5,292.3 L737.4,290.8 L742.2,290.9 L747.1,292.5 L752,295.4 L756.8,298.8 L761.7,301.8 L766.6,303.9 L771.4,304.3 L776.3,303.1 L781.1,300.6 L786,297.2 L790.9,293.8 L795.7,291.1 L800.6,289.9 L805.5,290.3 L810.3,292.2 L815.2,295.2 L820.1,298.5 L824.9,301.3 L829.8,302.8 L834.7,302.8 L839.5,301.1 L844.4,298.2 L849.2,294.6 L854.1,291.3 L859,288.9 L863.8,288 L868.7,288.7 L873.6,291 L878.4,294 L883.3,297.2 L888.2,299.7 L893,300.9 L897.9,300.4 L902.8,298.4 L907.6,295.3 L912.5,291.8 L917.4,288.7 L922.2,286.7 L927.1,286.4 L931.9,287.7 L936.8,290.4 L941.7,293.8 L946.5,297.2 L951.4,299.7 L956.3,300.8 L961.1,300.3 L966,298.4" fill="none" stroke="#ff5a24" stroke-width="2.3"/>
</g>
<path d="M499,252.9 L503.9,247.7 L508.7,243.2 L513.6,240 L518.5,238.4 L523.3,238.6 L528.2,240.1 L533.1,242.2 L537.9,244.1 L542.8,245.1 L547.6,244.5 L552.5,242.4 L557.4,238.9 L562.2,234.7 L567.1,230.4 L572,226.9 L576.8,224.9 L581.7,224.5 L586.6,225.7 L591.4,228 L596.3,230.7 L601.2,233 L606,234.1 L610.9,233.7 L615.8,231.7 L620.6,228.4 L625.5,224.5 L630.3,220.7 L635.2,218 L640.1,216.7 L644.9,217.1 L649.8,219 L654.7,221.9 L659.5,224.9 L664.4,227.3 L669.3,228.4 L674.1,227.8 L679,225.7 L683.9,222.5 L688.7,218.9 L693.6,215.6 L698.4,213.5 L703.3,213 L708.2,214.1 L713,216.6 L717.9,219.9 L722.8,223.1 L727.6,225.5 L732.5,226.5 L737.4,225.8 L742.2,223.7 L747.1,220.6 L752,217.3 L756.8,214.5 L761.7,213.1 L766.6,213.3 L771.4,215.1 L776.3,218.2 L781.1,221.8 L786,225.1 L790.9,227.5 L795.7,228.4 L800.6,227.6 L805.5,225.5 L810.3,222.5 L815.2,219.6 L820.1,217.4 L824.9,216.6 L829.8,217.6 L834.7,220.1 L839.5,223.6 L844.4,227.6 L849.2,231.1 L854.1,233.4 L859,234.2 L863.8,233.3 L868.7,231.3 L873.6,228.6 L878.4,226.1 L883.3,224.6 L888.2,224.6 L893,226.4 L897.9,229.6 L902.8,233.8 L907.6,238.1 L912.5,241.8 L917.4,244.2 L922.2,245.1 L927.1,244.4 L931.9,242.6 L936.8,240.5 L941.7,238.8 L946.5,238.3 L951.4,239.5 L956.3,242.4 L961.1,246.7 L966,251.8 L966,278.2 L961.1,274 L956.3,270.5 L951.4,268.5 L946.5,268.2 L941.7,269.5 L936.8,272 L931.9,274.9 L927.1,277.4 L922.2,278.8 L917.4,278.7 L912.5,277 L907.6,273.9 L902.8,270.3 L897.9,266.8 L893,264.2 L888.2,263 L883.3,263.6 L878.4,265.7 L873.6,268.7 L868.7,271.9 L863.8,274.5 L859,275.9 L854.1,275.6 L849.2,273.7 L844.4,270.6 L839.5,267.1 L834.7,263.9 L829.8,261.8 L824.9,261.3 L820.1,262.4 L815.2,264.9 L810.3,268.1 L805.5,271.4 L800.6,273.8 L795.7,274.8 L790.9,274.2 L786,272 L781.1,268.9 L776.3,265.4 L771.4,262.5 L766.6,260.8 L761.7,260.8 L756.8,262.3 L752,265.1 L747.1,268.5 L742.2,271.7 L737.4,273.8 L732.5,274.5 L727.6,273.5 L722.8,271.1 L717.9,267.8 L713,264.5 L708.2,261.9 L703.3,260.6 L698.4,261.1 L693.6,263 L688.7,266.1 L683.9,269.6 L679,272.6 L674.1,274.4 L669.3,274.7 L664.4,273.4 L659.5,270.7 L654.7,267.4 L649.8,264.3 L644.9,262 L640.1,261.3 L635.2,262.2 L630.3,264.5 L625.5,267.8 L620.6,271.3 L615.8,274.2 L610.9,275.8 L606,275.7 L601.2,274.1 L596.3,271.3 L591.4,268 L586.6,265.2 L581.7,263.4 L576.8,263.1 L572,264.6 L567.1,267.4 L562.2,271 L557.4,274.6 L552.5,277.4 L547.6,278.9 L542.8,278.6 L537.9,276.9 L533.1,274.3 L528.2,271.4 L523.3,269.1 L518.5,268.1 L513.6,268.8 L508.7,271.1 L503.9,274.8 L499,279.1 Z" fill="none" stroke="#ff5420" stroke-width="2"/>
<clipPath id="lc2"><path d="M504,333.2 L508.8,326.9 L513.5,322.3 L518.3,319.6 L523,318.8 L527.8,319.6 L532.6,321.2 L537.3,322.7 L542.1,323.2 L546.8,322.3 L551.6,319.7 L556.4,315.5 L561.1,310.4 L565.9,305 L570.6,300.3 L575.4,297.1 L580.2,295.6 L584.9,296 L589.7,297.9 L594.4,300.5 L599.2,302.9 L604,304.4 L608.7,304.4 L613.5,302.5 L618.2,299.1 L623,294.7 L627.8,290 L632.5,285.9 L637.3,283.2 L642.1,282.3 L646.8,283.2 L651.6,285.6 L656.3,288.7 L661.1,291.8 L665.9,293.8 L670.6,294.3 L675.4,293.1 L680.1,290.2 L684.9,286.3 L689.7,282.1 L694.4,278.5 L699.2,276.3 L703.9,275.9 L708.7,277.3 L713.5,280.1 L718.2,283.8 L723,287.3 L727.7,289.9 L732.5,291 L737.3,290.3 L742,288 L746.8,284.6 L751.5,280.9 L756.3,277.8 L761.1,276 L765.8,276.1 L770.6,277.9 L775.3,281.3 L780.1,285.4 L784.9,289.5 L789.6,292.6 L794.4,294.2 L799.1,294.1 L803.9,292.3 L808.7,289.4 L813.4,286.2 L818.2,283.6 L822.9,282.4 L827.7,282.9 L832.5,285.2 L837.2,289 L842,293.7 L846.8,298.2 L851.5,301.9 L856.3,304.1 L861,304.5 L865.8,303.3 L870.6,301 L875.3,298.4 L880.1,296.3 L884.8,295.6 L889.6,296.6 L894.4,299.5 L899.1,303.9 L903.9,309.2 L908.6,314.5 L913.4,318.9 L918.2,321.9 L922.9,323.2 L927.7,322.9 L932.4,321.5 L937.2,319.9 L942,318.9 L946.7,319.3 L951.5,321.5 L956.2,325.8 L961,331.7 L961,356.7 L956.2,353.1 L951.5,351 L946.7,350.9 L942,352.6 L937.2,355.7 L932.4,359.4 L927.7,362.8 L922.9,365 L918.2,365.6 L913.4,364.5 L908.6,361.8 L903.9,358.3 L899.1,354.7 L894.4,352 L889.6,350.7 L884.8,351.2 L880.1,353.4 L875.3,356.9 L870.6,361 L865.8,364.7 L861,367.2 L856.3,368 L851.5,367.1 L846.8,364.5 L842,361.1 L837.2,357.5 L832.5,354.7 L827.7,353.4 L822.9,353.8 L818.2,356 L813.4,359.4 L808.7,363.4 L803.9,367 L799.1,369.4 L794.4,370.2 L789.6,369.2 L784.9,366.6 L780.1,363.1 L775.3,359.4 L770.6,356.4 L765.8,354.9 L761.1,355.2 L756.3,357.2 L751.5,360.5 L746.8,364.3 L742,367.9 L737.3,370.3 L732.5,371 L727.7,369.9 L723,367.2 L718.2,363.5 L713.5,359.7 L708.7,356.7 L703.9,355 L699.2,355.1 L694.4,357 L689.7,360.1 L684.9,363.8 L680.1,367.3 L675.4,369.6 L670.6,370.2 L665.9,369.1 L661.1,366.3 L656.3,362.5 L651.6,358.6 L646.8,355.4 L642.1,353.6 L637.3,353.5 L632.5,355.2 L627.8,358.2 L623,361.8 L618.2,365.2 L613.5,367.4 L608.7,368 L604,366.8 L599.2,364 L594.4,360.1 L589.7,356.1 L584.9,352.8 L580.2,350.9 L575.4,350.8 L570.6,352.4 L565.9,355.4 L561.1,359.1 L556.4,362.5 L551.6,364.9 L546.8,365.7 L542.1,364.7 L537.3,362.1 L532.6,358.6 L527.8,355 L523,352.1 L518.3,350.8 L513.5,351.3 L508.8,353.7 L504,357.6 Z"/></clipPath>
<path d="M504,333.2 L508.8,326.9 L513.5,322.3 L518.3,319.6 L523,318.8 L527.8,319.6 L532.6,321.2 L537.3,322.7 L542.1,323.2 L546.8,322.3 L551.6,319.7 L556.4,315.5 L561.1,310.4 L565.9,305 L570.6,300.3 L575.4,297.1 L580.2,295.6 L584.9,296 L589.7,297.9 L594.4,300.5 L599.2,302.9 L604,304.4 L608.7,304.4 L613.5,302.5 L618.2,299.1 L623,294.7 L627.8,290 L632.5,285.9 L637.3,283.2 L642.1,282.3 L646.8,283.2 L651.6,285.6 L656.3,288.7 L661.1,291.8 L665.9,293.8 L670.6,294.3 L675.4,293.1 L680.1,290.2 L684.9,286.3 L689.7,282.1 L694.4,278.5 L699.2,276.3 L703.9,275.9 L708.7,277.3 L713.5,280.1 L718.2,283.8 L723,287.3 L727.7,289.9 L732.5,291 L737.3,290.3 L742,288 L746.8,284.6 L751.5,280.9 L756.3,277.8 L761.1,276 L765.8,276.1 L770.6,277.9 L775.3,281.3 L780.1,285.4 L784.9,289.5 L789.6,292.6 L794.4,294.2 L799.1,294.1 L803.9,292.3 L808.7,289.4 L813.4,286.2 L818.2,283.6 L822.9,282.4 L827.7,282.9 L832.5,285.2 L837.2,289 L842,293.7 L846.8,298.2 L851.5,301.9 L856.3,304.1 L861,304.5 L865.8,303.3 L870.6,301 L875.3,298.4 L880.1,296.3 L884.8,295.6 L889.6,296.6 L894.4,299.5 L899.1,303.9 L903.9,309.2 L908.6,314.5 L913.4,318.9 L918.2,321.9 L922.9,323.2 L927.7,322.9 L932.4,321.5 L937.2,319.9 L942,318.9 L946.7,319.3 L951.5,321.5 L956.2,325.8 L961,331.7 L961,356.7 L956.2,353.1 L951.5,351 L946.7,350.9 L942,352.6 L937.2,355.7 L932.4,359.4 L927.7,362.8 L922.9,365 L918.2,365.6 L913.4,364.5 L908.6,361.8 L903.9,358.3 L899.1,354.7 L894.4,352 L889.6,350.7 L884.8,351.2 L880.1,353.4 L875.3,356.9 L870.6,361 L865.8,364.7 L861,367.2 L856.3,368 L851.5,367.1 L846.8,364.5 L842,361.1 L837.2,357.5 L832.5,354.7 L827.7,353.4 L822.9,353.8 L818.2,356 L813.4,359.4 L808.7,363.4 L803.9,367 L799.1,369.4 L794.4,370.2 L789.6,369.2 L784.9,366.6 L780.1,363.1 L775.3,359.4 L770.6,356.4 L765.8,354.9 L761.1,355.2 L756.3,357.2 L751.5,360.5 L746.8,364.3 L742,367.9 L737.3,370.3 L732.5,371 L727.7,369.9 L723,367.2 L718.2,363.5 L713.5,359.7 L708.7,356.7 L703.9,355 L699.2,355.1 L694.4,357 L689.7,360.1 L684.9,363.8 L680.1,367.3 L675.4,369.6 L670.6,370.2 L665.9,369.1 L661.1,366.3 L656.3,362.5 L651.6,358.6 L646.8,355.4 L642.1,353.6 L637.3,353.5 L632.5,355.2 L627.8,358.2 L623,361.8 L618.2,365.2 L613.5,367.4 L608.7,368 L604,366.8 L599.2,364 L594.4,360.1 L589.7,356.1 L584.9,352.8 L580.2,350.9 L575.4,350.8 L570.6,352.4 L565.9,355.4 L561.1,359.1 L556.4,362.5 L551.6,364.9 L546.8,365.7 L542.1,364.7 L537.3,362.1 L532.6,358.6 L527.8,355 L523,352.1 L518.3,350.8 L513.5,351.3 L508.8,353.7 L504,357.6 Z" fill="url(#lcg)" stroke="none" stroke-width="1"/>
<g clip-path="url(#lc2)">
<path d="M504,327.4 L508.8,324.1 L513.5,319.2 L518.3,312.8 L523,305.5 L527.8,298 L532.6,291.2 L537.3,285.8 L542.1,282.4 L546.8,280.8 L551.6,280.8 L556.4,281.7 L561.1,282.7 L565.9,282.8 L570.6,281.5 L575.4,278.5 L580.2,273.9 L584.9,268.2 L589.7,262.2 L594.4,256.8 L599.2,252.7 L604,250.4 L608.7,250 L613.5,251.1 L618.2,253.2 L623,255.2 L627.8,256.4 L632.5,256.2 L637.3,254.2 L642.1,250.6 L646.8,245.9 L651.6,240.9 L656.3,236.4 L661.1,233.2 L665.9,231.8 L670.6,232.3 L675.4,234.3 L680.1,237.2 L684.9,240.2 L689.7,242.3 L694.4,243 L699.2,242 L703.9,239.3 L708.7,235.5 L713.5,231.4 L718.2,227.8 L723,225.5 L727.7,224.9 L732.5,226.3 L737.3,229.2 L742,233 L746.8,236.9 L751.5,239.9 L756.3,241.6 L761.1,241.5 L765.8,239.8 L770.6,236.9 L775.3,233.6 L780.1,230.9 L784.9,229.5 L789.6,229.8 L794.4,232 L799.1,235.7 L803.9,240.4 L808.7,245.2 L813.4,249.2 L818.2,251.8 L822.9,252.7 L827.7,251.9 L832.5,249.9 L837.2,247.6 L842,245.7 L846.8,245.2 L851.5,246.3 L856.3,249.4 L861,254.1 L865.8,259.7 L870.6,265.4 L875.3,270.4 L880.1,274 L884.8,275.8 L889.6,276 L894.4,275.1 L899.1,273.8 L903.9,273 L908.6,273.4 L913.4,275.7 L918.2,279.8 L922.9,285.7 L927.7,292.5 L932.4,299.6 L937.2,306 L942,311.1 L946.7,314.5 L951.5,316.5 L956.2,317.4 L961,318 M504,331.8 L508.8,327.6 L513.5,321.9 L518.3,315.1 L523,307.7 L527.8,300.8 L532.6,295 L537.3,291 L542.1,289 L546.8,288.7 L551.6,289.5 L556.4,290.8 L561.1,291.5 L565.9,290.9 L570.6,288.7 L575.4,284.7 L580.2,279.5 L584.9,273.7 L589.7,268.1 L594.4,263.7 L599.2,260.8 L604,259.9 L608.7,260.7 L613.5,262.6 L618.2,264.9 L623,266.6 L627.8,267.1 L632.5,265.8 L637.3,262.8 L642.1,258.5 L646.8,253.6 L651.6,248.9 L656.3,245.2 L661.1,243.2 L665.9,243.1 L670.6,244.7 L675.4,247.4 L680.1,250.5 L684.9,253.1 L689.7,254.4 L694.4,254 L699.2,251.9 L703.9,248.4 L708.7,244.3 L713.5,240.4 L718.2,237.5 L723,236.2 L727.7,236.9 L732.5,239.3 L737.3,242.8 L742,246.7 L746.8,250.1 L751.5,252.2 L756.3,252.7 L761.1,251.4 L765.8,248.8 L770.6,245.5 L775.3,242.4 L780.1,240.3 L784.9,239.8 L789.6,241.2 L794.4,244.4 L799.1,248.7 L803.9,253.4 L808.7,257.6 L813.4,260.6 L818.2,262 L822.9,261.5 L827.7,259.8 L832.5,257.3 L837.2,255 L842,253.6 L846.8,254 L851.5,256.1 L856.3,260.1 L861,265.2 L865.8,270.8 L870.6,275.9 L875.3,279.8 L880.1,282 L884.8,282.5 L889.6,281.6 L894.4,280 L899.1,278.7 L903.9,278.3 L908.6,279.5 L913.4,282.7 L918.2,287.6 L922.9,293.9 L927.7,300.6 L932.4,306.9 L937.2,312.2 L942,315.8 L946.7,317.8 L951.5,318.6 L956.2,318.7 L961,319.2 M504,335.5 L508.8,330.5 L513.5,324.1 L518.3,317 L523,310 L527.8,304 L532.6,299.5 L537.3,296.9 L542.1,296.2 L546.8,297 L551.6,298.4 L556.4,299.5 L561.1,299.7 L565.9,298.3 L570.6,295.1 L575.4,290.4 L580.2,284.9 L584.9,279.3 L589.7,274.5 L594.4,271.2 L599.2,269.8 L604,270.1 L608.7,271.9 L613.5,274.3 L618.2,276.4 L623,277.5 L627.8,277 L632.5,274.7 L637.3,270.9 L642.1,266.2 L646.8,261.4 L651.6,257.3 L656.3,254.7 L661.1,254 L665.9,255.1 L670.6,257.6 L675.4,260.7 L680.1,263.6 L684.9,265.4 L689.7,265.7 L694.4,264.2 L699.2,261.1 L703.9,257.1 L708.7,253.1 L713.5,249.7 L718.2,247.8 L723,247.8 L727.7,249.5 L732.5,252.7 L737.3,256.5 L742,260.1 L746.8,262.8 L751.5,263.8 L756.3,263 L761.1,260.8 L765.8,257.5 L770.6,254.1 L775.3,251.5 L780.1,250.3 L784.9,250.9 L789.6,253.4 L794.4,257.2 L799.1,261.8 L803.9,266.1 L808.7,269.5 L813.4,271.3 L818.2,271.3 L822.9,269.8 L827.7,267.3 L832.5,264.7 L837.2,262.7 L842,262.2 L846.8,263.5 L851.5,266.7 L856.3,271.2 L861,276.5 L865.8,281.6 L870.6,285.8 L875.3,288.4 L880.1,289.2 L884.8,288.5 L889.6,286.9 L894.4,285 L899.1,283.9 L903.9,284.2 L908.6,286.4 L913.4,290.4 L918.2,295.9 L922.9,302.2 L927.7,308.5 L932.4,313.8 L937.2,317.6 L942,319.8 L946.7,320.5 L951.5,320.4 L956.2,320.2 L961,320.8 M504,338.4 L508.8,332.6 L513.5,325.9 L518.3,319 L523,312.7 L527.8,307.8 L532.6,304.7 L537.3,303.6 L542.1,304.1 L546.8,305.5 L551.6,307.1 L556.4,307.9 L561.1,307.2 L565.9,304.9 L570.6,300.9 L575.4,295.7 L580.2,290.2 L584.9,285.2 L589.7,281.5 L594.4,279.5 L599.2,279.4 L604,280.9 L608.7,283.3 L613.5,285.7 L618.2,287.4 L623,287.6 L627.8,286.1 L632.5,282.9 L637.3,278.5 L642.1,273.7 L646.8,269.4 L651.6,266.4 L656.3,265 L661.1,265.6 L665.9,267.7 L670.6,270.7 L675.4,273.8 L680.1,276.1 L684.9,277.1 L689.7,276.2 L694.4,273.7 L699.2,270 L703.9,265.8 L708.7,262.1 L713.5,259.6 L718.2,258.9 L723,260 L727.7,262.7 L732.5,266.4 L737.3,270.2 L742,273.2 L746.8,274.7 L751.5,274.6 L756.3,272.7 L761.1,269.7 L765.8,266.2 L770.6,263.1 L775.3,261.2 L780.1,261.1 L784.9,262.8 L789.6,266.1 L794.4,270.4 L799.1,274.8 L803.9,278.4 L808.7,280.7 L813.4,281.2 L818.2,280 L822.9,277.6 L827.7,274.8 L832.5,272.3 L837.2,271 L842,271.5 L846.8,273.8 L851.5,277.7 L856.3,282.7 L861,287.7 L865.8,292.1 L870.6,295 L875.3,296.3 L880.1,295.8 L884.8,294.2 L889.6,292 L894.4,290.3 L899.1,289.7 L903.9,290.9 L908.6,294 L913.4,298.7 L918.2,304.5 L922.9,310.5 L927.7,315.9 L932.4,320 L937.2,322.4 L942,323.1 L946.7,322.8 L951.5,322.1 L956.2,321.8 L961,322.9 M504,340.6 L508.8,334.3 L513.5,327.5 L518.3,321.1 L523,315.8 L527.8,312.3 L532.6,310.7 L537.3,310.8 L542.1,312.3 L546.8,314.1 L551.6,315.4 L556.4,315.5 L561.1,314 L565.9,310.7 L570.6,306.1 L575.4,300.8 L580.2,295.7 L584.9,291.7 L589.7,289.2 L594.4,288.6 L599.2,289.7 L604,292 L608.7,294.7 L613.5,296.9 L618.2,297.8 L623,297 L627.8,294.5 L632.5,290.6 L637.3,286 L642.1,281.5 L646.8,278 L651.6,276.1 L656.3,276.1 L661.1,277.7 L665.9,280.6 L670.6,283.8 L675.4,286.6 L680.1,288.1 L684.9,287.9 L689.7,286 L694.4,282.7 L699.2,278.6 L703.9,274.7 L708.7,271.7 L713.5,270.3 L718.2,270.8 L723,272.9 L727.7,276.3 L732.5,280.1 L737.3,283.5 L742,285.6 L746.8,286 L751.5,284.6 L756.3,281.9 L761.1,278.4 L765.8,275 L770.6,272.5 L775.3,271.6 L780.1,272.6 L784.9,275.3 L789.6,279.2 L794.4,283.5 L799.1,287.4 L803.9,290.1 L808.7,291.1 L813.4,290.4 L818.2,288.2 L822.9,285.3 L827.7,282.4 L832.5,280.4 L837.2,280.1 L842,281.5 L846.8,284.8 L851.5,289.2 L856.3,294.1 L861,298.6 L865.8,301.9 L870.6,303.6 L875.3,303.4 L880.1,301.9 L884.8,299.5 L889.6,297.3 L894.4,296 L899.1,296.2 L903.9,298.3 L908.6,302.2 L913.4,307.4 L918.2,313.1 L922.9,318.5 L927.7,322.7 L932.4,325.4 L937.2,326.3 L942,325.9 L946.7,324.8 L951.5,323.9 L956.2,324 L961,325.7 M504,342.2 L508.8,335.7 L513.5,329.2 L518.3,323.6 L523,319.6 L527.8,317.5 L532.6,317.3 L537.3,318.6 L542.1,320.6 L546.8,322.4 L551.6,323.2 L556.4,322.5 L561.1,320 L565.9,316 L570.6,311.1 L575.4,306 L580.2,301.6 L584.9,298.7 L589.7,297.6 L594.4,298.4 L599.2,300.5 L604,303.3 L608.7,305.9 L613.5,307.5 L618.2,307.5 L623,305.7 L627.8,302.3 L632.5,298 L637.3,293.5 L642.1,289.6 L646.8,287.2 L651.6,286.6 L656.3,287.8 L661.1,290.4 L665.9,293.7 L670.6,296.7 L675.4,298.8 L680.1,299.4 L684.9,298.1 L689.7,295.2 L694.4,291.4 L699.2,287.3 L703.9,283.9 L708.7,281.9 L713.5,281.7 L718.2,283.3 L723,286.3 L727.7,290.1 L732.5,293.6 L737.3,296.2 L742,297.2 L746.8,296.5 L751.5,294.1 L756.3,290.7 L761.1,287.1 L765.8,284.1 L770.6,282.6 L775.3,282.8 L780.1,284.8 L784.9,288.3 L789.6,292.5 L794.4,296.5 L799.1,299.6 L803.9,301.1 L808.7,300.8 L813.4,299 L818.2,296 L822.9,292.9 L827.7,290.4 L832.5,289.2 L837.2,289.8 L842,292.3 L846.8,296.2 L851.5,300.9 L856.3,305.4 L861,309 L865.8,311 L870.6,311.3 L875.3,310 L880.1,307.6 L884.8,304.9 L889.6,302.9 L894.4,302.3 L899.1,303.5 L903.9,306.5 L908.6,311 L913.4,316.3 L918.2,321.6 L922.9,325.9 L927.7,328.8 L932.4,330 L937.2,329.7 L942,328.3 L946.7,326.8 L951.5,326 L956.2,326.7 L961,329.3 M504,343.4 L508.8,337 L513.5,331.2 L518.3,326.8 L523,324.2 L527.8,323.5 L532.6,324.5 L537.3,326.6 L542.1,328.8 L546.8,330.2 L551.6,330.3 L556.4,328.7 L561.1,325.4 L565.9,320.9 L570.6,315.9 L575.4,311.4 L580.2,308.1 L584.9,306.6 L589.7,306.8 L594.4,308.7 L599.2,311.5 L604,314.5 L608.7,316.6 L613.5,317.4 L618.2,316.4 L623,313.7 L627.8,309.7 L632.5,305.3 L637.3,301.2 L642.1,298.3 L646.8,297.2 L651.6,297.8 L656.3,300.1 L661.1,303.3 L665.9,306.6 L670.6,309.2 L675.4,310.4 L680.1,309.8 L684.9,307.6 L689.7,304 L694.4,299.9 L699.2,296.2 L703.9,293.7 L708.7,292.8 L713.5,293.8 L718.2,296.4 L723,300 L727.7,303.7 L732.5,306.7 L737.3,308.3 L742,308.2 L746.8,306.3 L751.5,303.1 L756.3,299.4 L761.1,296.1 L765.8,293.9 L770.6,293.4 L775.3,294.7 L780.1,297.6 L784.9,301.5 L789.6,305.6 L794.4,309 L799.1,311.1 L803.9,311.3 L808.7,309.8 L813.4,307.1 L818.2,303.8 L822.9,300.8 L827.7,298.9 L832.5,298.7 L837.2,300.4 L842,303.7 L846.8,307.9 L851.5,312.4 L856.3,316.2 L861,318.7 L865.8,319.4 L870.6,318.4 L875.3,316 L880.1,313.2 L884.8,310.6 L889.6,309.1 L894.4,309.4 L899.1,311.5 L903.9,315.2 L908.6,320.1 L913.4,325.1 L918.2,329.6 L922.9,332.7 L927.7,334.2 L932.4,334 L937.2,332.6 L942,330.6 L946.7,329.1 L951.5,328.7 L956.2,330.2 L961,333.7 M504,344.4 L508.8,338.5 L513.5,333.7 L518.3,330.6 L523,329.5 L527.8,330.2 L532.6,332.1 L537.3,334.6 L542.1,336.6 L546.8,337.5 L551.6,336.7 L556.4,334.2 L561.1,330.2 L565.9,325.5 L570.6,321 L575.4,317.4 L580.2,315.3 L584.9,315.1 L589.7,316.7 L594.4,319.4 L599.2,322.6 L604,325.3 L608.7,326.8 L613.5,326.6 L618.2,324.6 L623,321.1 L627.8,316.9 L632.5,312.7 L637.3,309.5 L642.1,307.8 L646.8,307.9 L651.6,309.7 L656.3,312.8 L661.1,316.3 L665.9,319.3 L670.6,321.1 L675.4,321.3 L680.1,319.6 L684.9,316.5 L689.7,312.6 L694.4,308.7 L699.2,305.7 L703.9,304.2 L708.7,304.5 L713.5,306.6 L718.2,310 L723,313.7 L727.7,317.1 L732.5,319.2 L737.3,319.7 L742,318.4 L746.8,315.5 L751.5,311.9 L756.3,308.3 L761.1,305.5 L765.8,304.3 L770.6,304.9 L775.3,307.2 L780.1,310.8 L784.9,314.9 L789.6,318.5 L794.4,321 L799.1,321.8 L803.9,320.8 L808.7,318.3 L813.4,315 L818.2,311.6 L822.9,309.1 L827.7,308.1 L832.5,309 L837.2,311.6 L842,315.4 L846.8,319.8 L851.5,323.7 L856.3,326.5 L861,327.7 L865.8,327 L870.6,324.9 L875.3,321.9 L880.1,318.8 L884.8,316.7 L889.6,316 L894.4,317.2 L899.1,320.1 L903.9,324.4 L908.6,329.2 L913.4,333.7 L918.2,337 L922.9,338.8 L927.7,338.8 L932.4,337.4 L937.2,335.2 L942,333 L946.7,331.8 L951.5,332.1 L956.2,334.5 L961,338.7 M504,345.4 L508.8,340.3 L513.5,336.8 L518.3,335.2 L523,335.5 L527.8,337.3 L532.6,339.9 L537.3,342.4 L542.1,344 L546.8,344 L551.6,342.3 L556.4,339 L561.1,334.7 L565.9,330.2 L570.6,326.4 L575.4,323.9 L580.2,323.3 L584.9,324.4 L589.7,327 L594.4,330.3 L599.2,333.4 L604,335.6 L608.7,336.2 L613.5,335 L618.2,332.1 L623,328.2 L627.8,324.1 L632.5,320.6 L637.3,318.4 L642.1,317.9 L646.8,319.3 L651.6,322.1 L656.3,325.6 L661.1,329 L665.9,331.4 L670.6,332.3 L675.4,331.3 L680.1,328.7 L684.9,325.1 L689.7,321.1 L694.4,317.7 L699.2,315.7 L703.9,315.4 L708.7,317 L713.5,319.9 L718.2,323.7 L723,327.3 L727.7,329.9 L732.5,331 L737.3,330.3 L742,327.9 L746.8,324.4 L751.5,320.7 L756.3,317.5 L761.1,315.6 L765.8,315.5 L770.6,317.2 L775.3,320.3 L780.1,324.2 L784.9,328 L789.6,330.9 L794.4,332.2 L799.1,331.8 L803.9,329.6 L808.7,326.4 L813.4,322.8 L818.2,319.8 L822.9,318.1 L827.7,318.1 L832.5,320 L837.2,323.3 L842,327.4 L846.8,331.4 L851.5,334.5 L856.3,336.1 L861,335.9 L865.8,334 L870.6,331 L875.3,327.7 L880.1,324.9 L884.8,323.4 L889.6,323.6 L894.4,325.7 L899.1,329.3 L903.9,333.8 L908.6,338.2 L913.4,341.7 L918.2,343.8 L922.9,344.1 L927.7,342.8 L932.4,340.5 L937.2,337.8 L942,335.8 L946.7,335.1 L951.5,336.3 L956.2,339.4 L961,344.2 M504,346.7 L508.8,342.7 L513.5,340.6 L518.3,340.5 L523,342.1 L527.8,344.7 L532.6,347.6 L537.3,349.8 L542.1,350.6 L546.8,349.8 L551.6,347.2 L556.4,343.4 L561.1,339.1 L565.9,335.2 L570.6,332.3 L575.4,331.2 L580.2,332 L584.9,334.3 L589.7,337.6 L594.4,341.1 L599.2,343.9 L604,345.2 L608.7,344.8 L613.5,342.7 L618.2,339.3 L623,335.2 L627.8,331.5 L632.5,328.9 L637.3,328 L642.1,328.8 L646.8,331.3 L651.6,334.8 L656.3,338.4 L661.1,341.4 L665.9,342.9 L670.6,342.7 L675.4,340.7 L680.1,337.4 L684.9,333.5 L689.7,329.9 L694.4,327.4 L699.2,326.5 L703.9,327.4 L708.7,330 L713.5,333.5 L718.2,337.3 L723,340.4 L727.7,342.1 L732.5,342 L737.3,340.2 L742,337 L746.8,333.2 L751.5,329.7 L756.3,327.2 L761.1,326.4 L765.8,327.4 L770.6,330.1 L775.3,333.7 L780.1,337.6 L784.9,340.8 L789.6,342.6 L794.4,342.7 L799.1,341 L803.9,338 L808.7,334.3 L813.4,330.9 L818.2,328.5 L822.9,327.8 L827.7,328.8 L832.5,331.5 L837.2,335.3 L842,339.3 L846.8,342.6 L851.5,344.6 L856.3,344.9 L861,343.4 L865.8,340.5 L870.6,337 L875.3,333.7 L880.1,331.4 L884.8,330.8 L889.6,332 L894.4,334.9 L899.1,338.9 L903.9,343.1 L908.6,346.8 L913.4,349.1 L918.2,349.8 L922.9,348.7 L927.7,346.3 L932.4,343.3 L937.2,340.6 L942,339 L946.7,339.1 L951.5,341.2 L956.2,345 L961,350.1 M504,348.5 L508.8,345.9 L513.5,345.2 L518.3,346.5 L523,349 L527.8,352.1 L532.6,354.9 L537.3,356.5 L542.1,356.5 L546.8,354.8 L551.6,351.6 L556.4,347.6 L561.1,343.6 L565.9,340.6 L570.6,339 L575.4,339.3 L580.2,341.3 L584.9,344.6 L589.7,348.3 L594.4,351.6 L599.2,353.7 L604,354.1 L608.7,352.8 L613.5,349.9 L618.2,346.1 L623,342.4 L627.8,339.4 L632.5,338 L637.3,338.3 L642.1,340.4 L646.8,343.7 L651.6,347.5 L656.3,350.9 L661.1,353.1 L665.9,353.7 L670.6,352.4 L675.4,349.5 L680.1,345.8 L684.9,342.1 L689.7,339.2 L694.4,337.7 L699.2,338 L703.9,340.1 L708.7,343.4 L713.5,347.2 L718.2,350.7 L723,352.9 L727.7,353.5 L732.5,352.3 L737.3,349.5 L742,345.8 L746.8,342.1 L751.5,339.2 L756.3,337.7 L761.1,338 L765.8,340 L770.6,343.4 L775.3,347.2 L780.1,350.7 L784.9,353 L789.6,353.6 L794.4,352.5 L799.1,349.7 L803.9,346.1 L808.7,342.4 L813.4,339.4 L818.2,337.9 L822.9,338.2 L827.7,340.2 L832.5,343.6 L837.2,347.4 L842,350.9 L846.8,353.3 L851.5,354.1 L856.3,353 L861,350.3 L865.8,346.7 L870.6,343 L875.3,340.1 L880.1,338.6 L884.8,339 L889.6,341.1 L894.4,344.5 L899.1,348.5 L903.9,352.2 L908.6,354.8 L913.4,355.8 L918.2,355 L922.9,352.7 L927.7,349.5 L932.4,346.3 L937.2,343.8 L942,342.9 L946.7,343.9 L951.5,346.7 L956.2,351.1 L961,356.1 M504,350.8 L508.8,349.7 L513.5,350.6 L518.3,353 L523,356.2 L527.8,359.4 L532.6,361.8 L537.3,362.6 L542.1,361.7 L546.8,359.2 L551.6,355.6 L556.4,351.8 L561.1,348.5 L565.9,346.6 L570.6,346.4 L575.4,348.1 L580.2,351.2 L584.9,355 L589.7,358.8 L594.4,361.6 L599.2,362.9 L604,362.3 L608.7,360.1 L613.5,356.7 L618.2,353 L623,349.8 L627.8,347.9 L632.5,347.8 L637.3,349.4 L642.1,352.5 L646.8,356.4 L651.6,360.1 L656.3,362.9 L661.1,364.2 L665.9,363.6 L670.6,361.4 L675.4,358 L680.1,354.2 L684.9,351 L689.7,349 L694.4,348.8 L699.2,350.3 L703.9,353.3 L708.7,357.1 L713.5,360.8 L718.2,363.5 L723,364.8 L727.7,364.2 L732.5,361.9 L737.3,358.5 L742,354.6 L746.8,351.3 L751.5,349.2 L756.3,348.8 L761.1,350.3 L765.8,353.2 L770.6,356.9 L775.3,360.5 L780.1,363.3 L784.9,364.5 L789.6,363.9 L794.4,361.6 L799.1,358.1 L803.9,354.2 L808.7,350.7 L813.4,348.5 L818.2,348.1 L822.9,349.4 L827.7,352.2 L832.5,355.8 L837.2,359.4 L842,362.1 L846.8,363.3 L851.5,362.7 L856.3,360.4 L861,356.9 L865.8,352.9 L870.6,349.4 L875.3,347.2 L880.1,346.6 L884.8,347.9 L889.6,350.7 L894.4,354.3 L899.1,358 L903.9,360.8 L908.6,362.1 L913.4,361.7 L918.2,359.6 L922.9,356.3 L927.7,352.7 L932.4,349.5 L937.2,347.7 L942,347.6 L946.7,349.4 L951.5,352.9 L956.2,357.3 L961,362 M504,354 L508.8,354.4 L513.5,356.5 L518.3,359.7 L523,363.3 L527.8,366.3 L532.6,367.9 L537.3,367.9 L542.1,366.2 L546.8,363.1 L551.6,359.5 L556.4,356.2 L561.1,353.9 L565.9,353.3 L570.6,354.6 L575.4,357.4 L580.2,361.3 L584.9,365.4 L589.7,368.9 L594.4,370.9 L599.2,371.2 L604,369.7 L608.7,366.9 L613.5,363.4 L618.2,360.1 L623,357.8 L627.8,357.2 L632.5,358.4 L637.3,361.1 L642.1,364.9 L646.8,368.9 L651.6,372.3 L656.3,374.3 L661.1,374.5 L665.9,372.9 L670.6,370 L675.4,366.3 L680.1,362.9 L684.9,360.4 L689.7,359.6 L694.4,360.6 L699.2,363.2 L703.9,366.8 L708.7,370.7 L713.5,373.9 L718.2,375.8 L723,375.9 L727.7,374.2 L732.5,371.1 L737.3,367.3 L742,363.7 L746.8,361 L751.5,360 L756.3,360.8 L761.1,363.2 L765.8,366.6 L770.6,370.4 L775.3,373.5 L780.1,375.2 L784.9,375.2 L789.6,373.4 L794.4,370.2 L799.1,366.2 L803.9,362.4 L808.7,359.6 L813.4,358.4 L818.2,359 L822.9,361.2 L827.7,364.5 L832.5,368 L837.2,371 L842,372.7 L846.8,372.5 L851.5,370.6 L856.3,367.3 L861,363.2 L865.8,359.3 L870.6,356.3 L875.3,354.9 L880.1,355.4 L884.8,357.4 L889.6,360.6 L894.4,364.2 L899.1,367.1 L903.9,368.8 L908.6,368.7 L913.4,366.9 L918.2,363.7 L922.9,359.8 L927.7,356 L932.4,353.3 L937.2,352.2 L942,353 L946.7,355.6 L951.5,359.4 L956.2,363.6 L961,367.5 M504,357.9 L508.8,359.6 L513.5,362.8 L518.3,366.6 L523,370.1 L527.8,372.6 L532.6,373.4 L537.3,372.5 L542.1,370.1 L546.8,366.8 L551.6,363.5 L556.4,361 L561.1,360 L565.9,360.9 L570.6,363.4 L575.4,367.3 L580.2,371.6 L584.9,375.6 L589.7,378.4 L594.4,379.5 L599.2,378.9 L604,376.6 L608.7,373.4 L613.5,370.1 L618.2,367.6 L623,366.5 L627.8,367.2 L632.5,369.6 L637.3,373.3 L642.1,377.4 L646.8,381.3 L651.6,383.9 L656.3,384.9 L661.1,384.1 L665.9,381.6 L670.6,378.2 L675.4,374.7 L680.1,371.9 L684.9,370.5 L689.7,370.9 L694.4,373.1 L699.2,376.5 L703.9,380.4 L708.7,384 L713.5,386.5 L718.2,387.3 L723,386.2 L727.7,383.6 L732.5,379.9 L737.3,376.2 L742,373.1 L746.8,371.4 L751.5,371.5 L756.3,373.4 L761.1,376.5 L765.8,380.2 L770.6,383.6 L775.3,385.9 L780.1,386.4 L784.9,385.2 L789.6,382.3 L794.4,378.5 L799.1,374.4 L803.9,371.1 L808.7,369.2 L813.4,369 L818.2,370.6 L822.9,373.4 L827.7,376.9 L832.5,380 L837.2,382.1 L842,382.5 L846.8,381 L851.5,378 L856.3,373.9 L861,369.6 L865.8,366.1 L870.6,363.9 L875.3,363.4 L880.1,364.8 L884.8,367.4 L889.6,370.7 L894.4,373.7 L899.1,375.7 L903.9,376 L908.6,374.6 L913.4,371.5 L918.2,367.5 L922.9,363.3 L927.7,359.8 L932.4,357.7 L937.2,357.5 L942,359.1 L946.7,362.2 L951.5,366 L956.2,369.7 L961,372.5 M504,362.5 L508.8,365.5 L513.5,369.4 L518.3,373.3 L523,376.5 L527.8,378.1 L532.6,378.1 L537.3,376.4 L542.1,373.6 L546.8,370.5 L551.6,367.8 L556.4,366.5 L561.1,366.9 L565.9,369.1 L570.6,372.8 L575.4,377.3 L580.2,381.7 L584.9,385.2 L589.7,387.2 L594.4,387.4 L599.2,385.8 L604,383.1 L608.7,379.9 L613.5,377.2 L618.2,375.7 L623,375.9 L627.8,377.9 L632.5,381.4 L637.3,385.6 L642.1,389.8 L646.8,393.1 L651.6,394.9 L656.3,394.8 L661.1,393 L665.9,389.9 L670.6,386.5 L675.4,383.4 L680.1,381.6 L684.9,381.4 L689.7,383 L694.4,386.1 L699.2,390 L703.9,393.9 L708.7,396.9 L713.5,398.4 L718.2,398 L723,395.9 L727.7,392.6 L732.5,388.7 L737.3,385.3 L742,383.1 L746.8,382.6 L751.5,383.8 L756.3,386.6 L761.1,390.1 L765.8,393.7 L770.6,396.4 L775.3,397.6 L780.1,396.9 L784.9,394.5 L789.6,390.9 L794.4,386.7 L799.1,383 L803.9,380.4 L808.7,379.5 L813.4,380.3 L818.2,382.7 L822.9,385.9 L827.7,389.2 L832.5,391.6 L837.2,392.5 L842,391.5 L846.8,388.8 L851.5,384.9 L856.3,380.4 L861,376.4 L865.8,373.4 L870.6,372.2 L875.3,372.7 L880.1,374.8 L884.8,377.7 L889.6,380.7 L894.4,382.9 L899.1,383.6 L903.9,382.5 L908.6,379.7 L913.4,375.7 L918.2,371.2 L922.9,367 L927.7,364.1 L932.4,362.9 L937.2,363.5 L942,365.8 L946.7,369.1 L951.5,372.5 L956.2,375.3 L961,376.8 M504,367.7 L508.8,371.6 L513.5,375.9 L518.3,379.6 L523,382.1 L527.8,383 L532.6,382.1 L537.3,379.8 L542.1,377 L546.8,374.3 L551.6,372.7 L556.4,372.7 L561.1,374.5 L565.9,378 L570.6,382.5 L575.4,387.3 L580.2,391.4 L584.9,394.3 L589.7,395.3 L594.4,394.5 L599.2,392.3 L604,389.4 L608.7,386.7 L613.5,384.8 L618.2,384.6 L623,386.1 L627.8,389.3 L632.5,393.5 L637.3,398 L642.1,401.8 L646.8,404.3 L651.6,405 L656.3,403.9 L661.1,401.4 L665.9,398.1 L670.6,394.9 L675.4,392.6 L680.1,391.9 L684.9,393 L689.7,395.7 L694.4,399.5 L699.2,403.6 L703.9,407 L708.7,409.1 L713.5,409.5 L718.2,408 L723,405.1 L727.7,401.4 L732.5,397.7 L737.3,395 L742,393.9 L746.8,394.5 L751.5,396.7 L756.3,400.1 L761.1,403.7 L765.8,406.8 L770.6,408.5 L775.3,408.5 L780.1,406.6 L784.9,403.3 L789.6,399.2 L794.4,395.1 L799.1,392 L803.9,390.4 L808.7,390.5 L813.4,392.3 L818.2,395.2 L822.9,398.4 L827.7,401.1 L832.5,402.5 L837.2,402.1 L842,399.9 L846.8,396.1 L851.5,391.6 L856.3,387.1 L861,383.6 L865.8,381.5 L870.6,381.2 L875.3,382.6 L880.1,385.1 L884.8,388 L889.6,390.3 L894.4,391.4 L899.1,390.8 L903.9,388.3 L908.6,384.4 L913.4,379.7 L918.2,375 L922.9,371.3 L927.7,369.1 L932.4,368.8 L937.2,370.2 L942,372.8 L946.7,376 L951.5,378.7 L956.2,380.3 L961,380.3 M504,373.4 L508.8,377.8 L513.5,382.1 L518.3,385.4 L523,387.1 L527.8,387 L532.6,385.5 L537.3,383 L542.1,380.4 L546.8,378.6 L551.6,378.2 L556.4,379.6 L561.1,382.8 L565.9,387.3 L570.6,392.3 L575.4,397 L580.2,400.6 L584.9,402.5 L589.7,402.6 L594.4,401.1 L599.2,398.5 L604,395.8 L608.7,393.8 L613.5,393.1 L618.2,394.2 L623,397 L627.8,401.1 L632.5,405.7 L637.3,410 L642.1,413.3 L646.8,414.8 L651.6,414.5 L656.3,412.5 L661.1,409.5 L665.9,406.3 L670.6,403.7 L675.4,402.5 L680.1,403.1 L684.9,405.3 L689.7,408.9 L694.4,413 L699.2,416.9 L703.9,419.6 L708.7,420.7 L713.5,419.9 L718.2,417.4 L723,413.9 L727.7,410.2 L732.5,407.1 L737.3,405.4 L742,405.4 L746.8,407.1 L751.5,410.1 L756.3,413.7 L761.1,417.1 L765.8,419.4 L770.6,420 L775.3,418.7 L780.1,415.8 L784.9,411.8 L789.6,407.6 L794.4,403.9 L799.1,401.6 L803.9,401.1 L808.7,402.3 L813.4,404.8 L818.2,407.9 L822.9,410.7 L827.7,412.5 L832.5,412.7 L837.2,411 L842,407.6 L846.8,403.1 L851.5,398.4 L856.3,394.2 L861,391.4 L865.8,390.3 L870.6,391 L875.3,393 L880.1,395.6 L884.8,398.1 L889.6,399.5 L894.4,399.2 L899.1,397.2 L903.9,393.5 L908.6,388.7 L913.4,383.6 L918.2,379.2 L922.9,376.1 L927.7,374.9 L932.4,375.4 L937.2,377.4 L942,380.1 L946.7,382.7 L951.5,384.4 L956.2,384.6 L961,383.1" fill="none" stroke="#ff5a24" stroke-width="2.3"/>
</g>
<path d="M504,333.2 L508.8,326.9 L513.5,322.3 L518.3,319.6 L523,318.8 L527.8,319.6 L532.6,321.2 L537.3,322.7 L542.1,323.2 L546.8,322.3 L551.6,319.7 L556.4,315.5 L561.1,310.4 L565.9,305 L570.6,300.3 L575.4,297.1 L580.2,295.6 L584.9,296 L589.7,297.9 L594.4,300.5 L599.2,302.9 L604,304.4 L608.7,304.4 L613.5,302.5 L618.2,299.1 L623,294.7 L627.8,290 L632.5,285.9 L637.3,283.2 L642.1,282.3 L646.8,283.2 L651.6,285.6 L656.3,288.7 L661.1,291.8 L665.9,293.8 L670.6,294.3 L675.4,293.1 L680.1,290.2 L684.9,286.3 L689.7,282.1 L694.4,278.5 L699.2,276.3 L703.9,275.9 L708.7,277.3 L713.5,280.1 L718.2,283.8 L723,287.3 L727.7,289.9 L732.5,291 L737.3,290.3 L742,288 L746.8,284.6 L751.5,280.9 L756.3,277.8 L761.1,276 L765.8,276.1 L770.6,277.9 L775.3,281.3 L780.1,285.4 L784.9,289.5 L789.6,292.6 L794.4,294.2 L799.1,294.1 L803.9,292.3 L808.7,289.4 L813.4,286.2 L818.2,283.6 L822.9,282.4 L827.7,282.9 L832.5,285.2 L837.2,289 L842,293.7 L846.8,298.2 L851.5,301.9 L856.3,304.1 L861,304.5 L865.8,303.3 L870.6,301 L875.3,298.4 L880.1,296.3 L884.8,295.6 L889.6,296.6 L894.4,299.5 L899.1,303.9 L903.9,309.2 L908.6,314.5 L913.4,318.9 L918.2,321.9 L922.9,323.2 L927.7,322.9 L932.4,321.5 L937.2,319.9 L942,318.9 L946.7,319.3 L951.5,321.5 L956.2,325.8 L961,331.7 L961,356.7 L956.2,353.1 L951.5,351 L946.7,350.9 L942,352.6 L937.2,355.7 L932.4,359.4 L927.7,362.8 L922.9,365 L918.2,365.6 L913.4,364.5 L908.6,361.8 L903.9,358.3 L899.1,354.7 L894.4,352 L889.6,350.7 L884.8,351.2 L880.1,353.4 L875.3,356.9 L870.6,361 L865.8,364.7 L861,367.2 L856.3,368 L851.5,367.1 L846.8,364.5 L842,361.1 L837.2,357.5 L832.5,354.7 L827.7,353.4 L822.9,353.8 L818.2,356 L813.4,359.4 L808.7,363.4 L803.9,367 L799.1,369.4 L794.4,370.2 L789.6,369.2 L784.9,366.6 L780.1,363.1 L775.3,359.4 L770.6,356.4 L765.8,354.9 L761.1,355.2 L756.3,357.2 L751.5,360.5 L746.8,364.3 L742,367.9 L737.3,370.3 L732.5,371 L727.7,369.9 L723,367.2 L718.2,363.5 L713.5,359.7 L708.7,356.7 L703.9,355 L699.2,355.1 L694.4,357 L689.7,360.1 L684.9,363.8 L680.1,367.3 L675.4,369.6 L670.6,370.2 L665.9,369.1 L661.1,366.3 L656.3,362.5 L651.6,358.6 L646.8,355.4 L642.1,353.6 L637.3,353.5 L632.5,355.2 L627.8,358.2 L623,361.8 L618.2,365.2 L613.5,367.4 L608.7,368 L604,366.8 L599.2,364 L594.4,360.1 L589.7,356.1 L584.9,352.8 L580.2,350.9 L575.4,350.8 L570.6,352.4 L565.9,355.4 L561.1,359.1 L556.4,362.5 L551.6,364.9 L546.8,365.7 L542.1,364.7 L537.3,362.1 L532.6,358.6 L527.8,355 L523,352.1 L518.3,350.8 L513.5,351.3 L508.8,353.7 L504,357.6 Z" fill="none" stroke="#ff5420" stroke-width="2"/>
<ellipse cx="528" cy="110" rx="7" ry="2" fill="#3030d8" opacity="0.85"/>
<circle cx="521" cy="110" r="1.8" fill="#1010e0"/>
<ellipse cx="565" cy="117" rx="7" ry="2" fill="#3030d8" opacity="0.85"/>
<circle cx="558" cy="117" r="1.8" fill="#1010e0"/>
<ellipse cx="610" cy="113" rx="7" ry="2" fill="#3030d8" opacity="0.85"/>
<circle cx="603" cy="113" r="1.8" fill="#1010e0"/>
<ellipse cx="640" cy="120" rx="7" ry="2" fill="#3030d8" opacity="0.85"/>
<circle cx="633" cy="120" r="1.8" fill="#1010e0"/>
<ellipse cx="733" cy="110" rx="7" ry="2" fill="#3030d8" opacity="0.85"/>
<circle cx="726" cy="110" r="1.8" fill="#1010e0"/>
<ellipse cx="733" cy="117" rx="7" ry="2" fill="#3030d8" opacity="0.85"/>
<circle cx="726" cy="117" r="1.8" fill="#1010e0"/>
<ellipse cx="820" cy="119" rx="7" ry="2" fill="#3030d8" opacity="0.85"/>
<circle cx="813" cy="119" r="1.8" fill="#1010e0"/>
<ellipse cx="860" cy="113" rx="7" ry="2" fill="#3030d8" opacity="0.85"/>
<circle cx="853" cy="113" r="1.8" fill="#1010e0"/>
<ellipse cx="900" cy="118" rx="7" ry="2" fill="#3030d8" opacity="0.85"/>
<circle cx="893" cy="118" r="1.8" fill="#1010e0"/>
<ellipse cx="930" cy="110" rx="7" ry="2" fill="#3030d8" opacity="0.85"/>
<circle cx="923" cy="110" r="1.8" fill="#1010e0"/>
<ellipse cx="530" cy="198" rx="7" ry="2" fill="#3030d8" opacity="0.85"/>
<circle cx="523" cy="198" r="1.8" fill="#1010e0"/>
<ellipse cx="560" cy="192" rx="7" ry="2" fill="#3030d8" opacity="0.85"/>
<circle cx="553" cy="192" r="1.8" fill="#1010e0"/>
<ellipse cx="600" cy="203" rx="7" ry="2" fill="#3030d8" opacity="0.85"/>
<circle cx="593" cy="203" r="1.8" fill="#1010e0"/>
<ellipse cx="625" cy="196" rx="7" ry="2" fill="#3030d8" opacity="0.85"/>
<circle cx="618" cy="196" r="1.8" fill="#1010e0"/>
<ellipse cx="733" cy="188" rx="7" ry="2" fill="#3030d8" opacity="0.85"/>
<circle cx="726" cy="188" r="1.8" fill="#1010e0"/>
<ellipse cx="733" cy="198" rx="7" ry="2" fill="#3030d8" opacity="0.85"/>
<circle cx="726" cy="198" r="1.8" fill="#1010e0"/>
<ellipse cx="733" cy="208" rx="7" ry="2" fill="#3030d8" opacity="0.85"/>
<circle cx="726" cy="208" r="1.8" fill="#1010e0"/>
<ellipse cx="830" cy="196" rx="7" ry="2" fill="#3030d8" opacity="0.85"/>
<circle cx="823" cy="196" r="1.8" fill="#1010e0"/>
<ellipse cx="860" cy="205" rx="7" ry="2" fill="#3030d8" opacity="0.85"/>
<circle cx="853" cy="205" r="1.8" fill="#1010e0"/>
<ellipse cx="900" cy="202" rx="7" ry="2" fill="#3030d8" opacity="0.85"/>
<circle cx="893" cy="202" r="1.8" fill="#1010e0"/>
<ellipse cx="930" cy="208" rx="7" ry="2" fill="#3030d8" opacity="0.85"/>
<circle cx="923" cy="208" r="1.8" fill="#1010e0"/>
<ellipse cx="600" cy="270" rx="7" ry="2" fill="#3030d8" opacity="0.85"/>
<circle cx="593" cy="270" r="1.8" fill="#1010e0"/>
<ellipse cx="665" cy="270" rx="7" ry="2" fill="#3030d8" opacity="0.85"/>
<circle cx="658" cy="270" r="1.8" fill="#1010e0"/>
<ellipse cx="733" cy="268" rx="7" ry="2" fill="#3030d8" opacity="0.85"/>
<circle cx="726" cy="268" r="1.8" fill="#1010e0"/>
<ellipse cx="800" cy="270" rx="7" ry="2" fill="#3030d8" opacity="0.85"/>
<circle cx="793" cy="270" r="1.8" fill="#1010e0"/>
<ellipse cx="862" cy="270" rx="7" ry="2" fill="#3030d8" opacity="0.85"/>
<circle cx="855" cy="270" r="1.8" fill="#1010e0"/>
<ellipse cx="540" cy="328" rx="7" ry="2" fill="#3030d8" opacity="0.85"/>
<circle cx="533" cy="328" r="1.8" fill="#1010e0"/>
<ellipse cx="640" cy="326" rx="7" ry="2" fill="#3030d8" opacity="0.85"/>
<circle cx="633" cy="326" r="1.8" fill="#1010e0"/>
<ellipse cx="733" cy="326" rx="7" ry="2" fill="#3030d8" opacity="0.85"/>
<circle cx="726" cy="326" r="1.8" fill="#1010e0"/>
<ellipse cx="815" cy="328" rx="7" ry="2" fill="#3030d8" opacity="0.85"/>
<circle cx="808" cy="328" r="1.8" fill="#1010e0"/>
<ellipse cx="922" cy="330" rx="7" ry="2" fill="#3030d8" opacity="0.85"/>
<circle cx="915" cy="330" r="1.8" fill="#1010e0"/>
<ellipse cx="580" cy="290" rx="7" ry="2" fill="#3030d8" opacity="0.85"/>
<circle cx="573" cy="290" r="1.8" fill="#1010e0"/>
<ellipse cx="655" cy="290" rx="7" ry="2" fill="#3030d8" opacity="0.85"/>
<circle cx="648" cy="290" r="1.8" fill="#1010e0"/>
<ellipse cx="733" cy="290" rx="7" ry="2" fill="#3030d8" opacity="0.85"/>
<circle cx="726" cy="290" r="1.8" fill="#1010e0"/>
<ellipse cx="810" cy="290" rx="7" ry="2" fill="#3030d8" opacity="0.85"/>
<circle cx="803" cy="290" r="1.8" fill="#1010e0"/>
<ellipse cx="890" cy="292" rx="7" ry="2" fill="#3030d8" opacity="0.85"/>
<circle cx="883" cy="292" r="1.8" fill="#1010e0"/>
<path d="M1205,100.2 L1209.9,102.3 L1214.9,104.4 L1219.8,106.2 L1224.8,107.6 L1229.7,108.3 L1234.7,108.5 L1239.6,107.9 L1244.6,106.7 L1249.5,105 L1254.4,103 L1259.4,100.9 L1264.3,98.9 L1269.3,97.2 L1274.2,96.1 L1279.2,95.5 L1284.1,95.7 L1289.1,96.5 L1294,97.9 L1298.9,99.8 L1303.9,101.8 L1308.8,103.9 L1313.8,105.8 L1318.7,107.3 L1323.7,108.2 L1328.6,108.5 L1333.6,108.1 L1338.5,107 L1343.4,105.4 L1348.4,103.4 L1353.3,101.3 L1358.3,99.3 L1363.2,97.5 L1368.2,96.2 L1373.1,95.6 L1378.1,95.6 L1383,96.3 L1387.9,97.6 L1392.9,99.3 L1397.8,101.4 L1402.8,103.5 L1407.7,105.5 L1412.7,107 L1417.6,108.1 L1422.6,108.5 L1427.5,108.2 L1432.4,107.3 L1437.4,105.8 L1442.3,103.9 L1447.3,101.8 L1452.2,99.7 L1457.2,97.9 L1462.1,96.5 L1467.1,95.7 L1472,95.5 L1476.9,96.1 L1481.9,97.3 L1486.8,98.9 L1491.8,100.9 L1496.7,103.1 L1501.7,105.1 L1506.6,106.7 L1511.6,107.9 L1516.5,108.5 L1521.4,108.3 L1526.4,107.5 L1531.3,106.1 L1536.3,104.3 L1541.2,102.2 L1546.2,100.1 L1551.1,98.2 L1556.1,96.7 L1561,95.8 L1565.9,95.5 L1570.9,95.9 L1575.8,97 L1580.8,98.5 L1585.7,100.5 L1590.7,102.6 L1595.6,104.7 L1600.6,106.4 L1605.5,107.7 L1610.4,108.4 L1615.4,108.4 L1620.3,107.8 L1625.3,106.5 L1630.2,104.7 L1635.2,102.7 L1640.1,100.6 L1645.1,98.6 L1650,97" fill="none" stroke="#a0a0b0" stroke-width="1.2" stroke-dasharray="5 2"/>
<path d="M1205,102.8 L1209.9,104.9 L1214.9,107 L1219.8,108.8 L1224.8,110.2 L1229.7,110.9 L1234.7,111.1 L1239.6,110.5 L1244.6,109.3 L1249.5,107.6 L1254.4,105.6 L1259.4,103.5 L1264.3,101.5 L1269.3,99.8 L1274.2,98.7 L1279.2,98.1 L1284.1,98.3 L1289.1,99.1 L1294,100.5 L1298.9,102.4 L1303.9,104.4 L1308.8,106.5 L1313.8,108.4 L1318.7,109.9 L1323.7,110.8 L1328.6,111.1 L1333.6,110.7 L1338.5,109.6 L1343.4,108 L1348.4,106 L1353.3,103.9 L1358.3,101.9 L1363.2,100.1 L1368.2,98.8 L1373.1,98.2 L1378.1,98.2 L1383,98.9 L1387.9,100.2 L1392.9,101.9 L1397.8,104 L1402.8,106.1 L1407.7,108.1 L1412.7,109.6 L1417.6,110.7 L1422.6,111.1 L1427.5,110.8 L1432.4,109.9 L1437.4,108.4 L1442.3,106.5 L1447.3,104.4 L1452.2,102.3 L1457.2,100.5 L1462.1,99.1 L1467.1,98.3 L1472,98.1 L1476.9,98.7 L1481.9,99.9 L1486.8,101.5 L1491.8,103.5 L1496.7,105.7 L1501.7,107.7 L1506.6,109.3 L1511.6,110.5 L1516.5,111.1 L1521.4,110.9 L1526.4,110.1 L1531.3,108.7 L1536.3,106.9 L1541.2,104.8 L1546.2,102.7 L1551.1,100.8 L1556.1,99.3 L1561,98.4 L1565.9,98.1 L1570.9,98.5 L1575.8,99.6 L1580.8,101.1 L1585.7,103.1 L1590.7,105.2 L1595.6,107.3 L1600.6,109 L1605.5,110.3 L1610.4,111 L1615.4,111 L1620.3,110.4 L1625.3,109.1 L1630.2,107.3 L1635.2,105.3 L1640.1,103.2 L1645.1,101.2 L1650,99.6" fill="none" stroke="#7a7ae0" stroke-width="1.2" stroke-dasharray="5 2"/>
<path d="M1205,105.4 L1209.9,107.5 L1214.9,109.6 L1219.8,111.4 L1224.8,112.8 L1229.7,113.5 L1234.7,113.7 L1239.6,113.1 L1244.6,111.9 L1249.5,110.2 L1254.4,108.2 L1259.4,106.1 L1264.3,104.1 L1269.3,102.4 L1274.2,101.3 L1279.2,100.7 L1284.1,100.9 L1289.1,101.7 L1294,103.1 L1298.9,105 L1303.9,107 L1308.8,109.1 L1313.8,111 L1318.7,112.5 L1323.7,113.4 L1328.6,113.7 L1333.6,113.3 L1338.5,112.2 L1343.4,110.6 L1348.4,108.6 L1353.3,106.5 L1358.3,104.5 L1363.2,102.7 L1368.2,101.4 L1373.1,100.8 L1378.1,100.8 L1383,101.5 L1387.9,102.8 L1392.9,104.5 L1397.8,106.6 L1402.8,108.7 L1407.7,110.7 L1412.7,112.2 L1417.6,113.3 L1422.6,113.7 L1427.5,113.4 L1432.4,112.5 L1437.4,111 L1442.3,109.1 L1447.3,107 L1452.2,104.9 L1457.2,103.1 L1462.1,101.7 L1467.1,100.9 L1472,100.7 L1476.9,101.3 L1481.9,102.5 L1486.8,104.1 L1491.8,106.1 L1496.7,108.3 L1501.7,110.3 L1506.6,111.9 L1511.6,113.1 L1516.5,113.7 L1521.4,113.5 L1526.4,112.7 L1531.3,111.3 L1536.3,109.5 L1541.2,107.4 L1546.2,105.3 L1551.1,103.4 L1556.1,101.9 L1561,101 L1565.9,100.7 L1570.9,101.1 L1575.8,102.2 L1580.8,103.7 L1585.7,105.7 L1590.7,107.8 L1595.6,109.9 L1600.6,111.6 L1605.5,112.9 L1610.4,113.6 L1615.4,113.6 L1620.3,113 L1625.3,111.7 L1630.2,109.9 L1635.2,107.9 L1640.1,105.8 L1645.1,103.8 L1650,102.2" fill="none" stroke="#a0a0b0" stroke-width="1.2" stroke-dasharray="5 2"/>
<path d="M1205,108 L1209.9,110.1 L1214.9,112.2 L1219.8,114 L1224.8,115.4 L1229.7,116.1 L1234.7,116.3 L1239.6,115.7 L1244.6,114.5 L1249.5,112.8 L1254.4,110.8 L1259.4,108.7 L1264.3,106.7 L1269.3,105 L1274.2,103.9 L1279.2,103.3 L1284.1,103.5 L1289.1,104.3 L1294,105.7 L1298.9,107.6 L1303.9,109.6 L1308.8,111.7 L1313.8,113.6 L1318.7,115.1 L1323.7,116 L1328.6,116.3 L1333.6,115.9 L1338.5,114.8 L1343.4,113.2 L1348.4,111.2 L1353.3,109.1 L1358.3,107.1 L1363.2,105.3 L1368.2,104 L1373.1,103.4 L1378.1,103.4 L1383,104.1 L1387.9,105.4 L1392.9,107.1 L1397.8,109.2 L1402.8,111.3 L1407.7,113.3 L1412.7,114.8 L1417.6,115.9 L1422.6,116.3 L1427.5,116 L1432.4,115.1 L1437.4,113.6 L1442.3,111.7 L1447.3,109.6 L1452.2,107.5 L1457.2,105.7 L1462.1,104.3 L1467.1,103.5 L1472,103.3 L1476.9,103.9 L1481.9,105.1 L1486.8,106.7 L1491.8,108.7 L1496.7,110.9 L1501.7,112.9 L1506.6,114.5 L1511.6,115.7 L1516.5,116.3 L1521.4,116.1 L1526.4,115.3 L1531.3,113.9 L1536.3,112.1 L1541.2,110 L1546.2,107.9 L1551.1,106 L1556.1,104.5 L1561,103.6 L1565.9,103.3 L1570.9,103.7 L1575.8,104.8 L1580.8,106.3 L1585.7,108.3 L1590.7,110.4 L1595.6,112.5 L1600.6,114.2 L1605.5,115.5 L1610.4,116.2 L1615.4,116.2 L1620.3,115.6 L1625.3,114.3 L1630.2,112.5 L1635.2,110.5 L1640.1,108.4 L1645.1,106.4 L1650,104.8" fill="none" stroke="#7a7ae0" stroke-width="1.2" stroke-dasharray="5 2"/>
<path d="M1392,103.8 L1393.1,104.2 L1394.2,104.7 L1395.3,105.2 L1396.4,105.7 L1397.6,106.2 L1398.7,106.7 L1399.8,107.2 L1400.9,107.8 L1402,108.3 L1403.1,108.8 L1404.2,109.3 L1405.3,109.7 L1406.4,110.2 L1407.6,110.7 L1408.7,111.1 L1409.8,111.5 L1410.9,111.9 L1412,112.2 L1413.1,112.6 L1414.2,112.9 L1415.3,113.1 L1416.4,113.4 L1417.6,113.6 L1418.7,113.7 L1419.8,113.8 L1420.9,113.9 L1422,114 L1423.1,114 L1424.2,114 L1425.3,113.9 L1426.4,113.8 L1427.6,113.7 L1428.7,113.5 L1429.8,113.3 L1430.9,113.1 L1432,112.8 L1433.1,112.5 L1434.2,112.2 L1435.3,111.8 L1436.4,111.4 L1437.6,111 L1438.7,110.6 L1439.8,110.1 L1440.9,109.6 L1442,109.2 L1443.1,108.7 L1444.2,108.2 L1445.3,107.7 L1446.4,107.1 L1447.6,106.6 L1448.7,106.1 L1449.8,105.6 L1450.9,105.1 L1452,104.6 L1453.1,104.1 L1454.2,103.7 L1455.3,103.2 L1456.4,102.8 L1457.6,102.4 L1458.7,102 L1459.8,101.7 L1460.9,101.4 L1462,101.1 L1463.1,100.8 L1464.2,100.6 L1465.3,100.4 L1466.4,100.3 L1467.6,100.1 L1468.7,100.1 L1469.8,100 L1470.9,100 L1472,100 L1473.1,100.1 L1474.2,100.2 L1475.3,100.4 L1476.4,100.5 L1477.6,100.7 L1478.7,101 L1479.8,101.3 L1480.9,101.6 L1482,101.9 L1483.1,102.3 L1484.2,102.7 L1485.3,103.1 L1486.4,103.5 L1487.6,104 L1488.7,104.5 L1489.8,105 L1490.9,105.5 L1492,106" fill="none" stroke="#222" stroke-width="2.2"/>
<path d="M1398,110.4 L1399,110.9 L1400,111.3 L1400.9,111.8 L1401.9,112.2 L1402.9,112.7 L1403.9,113.1 L1404.8,113.5 L1405.8,113.9 L1406.8,114.4 L1407.8,114.7 L1408.8,115.1 L1409.7,115.5 L1410.7,115.8 L1411.7,116.1 L1412.7,116.4 L1413.6,116.7 L1414.6,117 L1415.6,117.2 L1416.6,117.4 L1417.6,117.6 L1418.5,117.7 L1419.5,117.8 L1420.5,117.9 L1421.5,118 L1422.4,118 L1423.4,118 L1424.4,118 L1425.4,117.9 L1426.4,117.8 L1427.3,117.7 L1428.3,117.6 L1429.3,117.4 L1430.3,117.2 L1431.2,117 L1432.2,116.7 L1433.2,116.5 L1434.2,116.2 L1435.2,115.9 L1436.1,115.5 L1437.1,115.2 L1438.1,114.8 L1439.1,114.4 L1440,114 L1441,113.6 L1442,113.2 L1443,112.7 L1444,112.3 L1444.9,111.8 L1445.9,111.4 L1446.9,110.9 L1447.9,110.5 L1448.8,110 L1449.8,109.6 L1450.8,109.1 L1451.8,108.7 L1452.8,108.3 L1453.7,107.9 L1454.7,107.5 L1455.7,107.1 L1456.7,106.7 L1457.6,106.4 L1458.6,106.1 L1459.6,105.7 L1460.6,105.5 L1461.6,105.2 L1462.5,104.9 L1463.5,104.7 L1464.5,104.5 L1465.5,104.4 L1466.4,104.3 L1467.4,104.1 L1468.4,104.1 L1469.4,104 L1470.4,104 L1471.3,104 L1472.3,104.1 L1473.3,104.1 L1474.3,104.2 L1475.2,104.3 L1476.2,104.5 L1477.2,104.7 L1478.2,104.9 L1479.2,105.1 L1480.1,105.4 L1481.1,105.7 L1482.1,106 L1483.1,106.3 L1484,106.6 L1485,107 L1486,107.4" fill="none" stroke="#555" stroke-width="1.4"/>
<circle cx="1291.8" cy="136" r="15.5" fill="url(#ballg)"/>
<circle cx="1279.9" cy="143" r="15.5" fill="url(#ballg)"/>
<circle cx="1268.1" cy="149.9" r="15.5" fill="url(#ballg)"/>
<circle cx="1256.2" cy="156.9" r="15.5" fill="url(#ballg)"/>
<circle cx="1244.3" cy="163.8" r="15.5" fill="url(#ballg)"/>
<circle cx="1232.4" cy="170.8" r="15.5" fill="url(#ballg)"/>
<circle cx="1220.6" cy="177.7" r="15.5" fill="url(#ballg)"/>
<circle cx="1208.7" cy="184.7" r="15.5" fill="url(#ballg)"/>
<circle cx="1357.7" cy="140" r="15.5" fill="url(#ballg)"/>
<circle cx="1344.3" cy="146" r="15.5" fill="url(#ballg)"/>
<circle cx="1331" cy="152" r="15.5" fill="url(#ballg)"/>
<circle cx="1317.6" cy="158" r="15.5" fill="url(#ballg)"/>
<circle cx="1304.2" cy="164" r="15.5" fill="url(#ballg)"/>
<circle cx="1290.9" cy="170" r="15.5" fill="url(#ballg)"/>
<circle cx="1277.5" cy="176" r="15.5" fill="url(#ballg)"/>
<circle cx="1397.8" cy="153" r="15.5" fill="url(#ballg)"/>
<circle cx="1382" cy="170" r="15.5" fill="url(#ballg)"/>
<circle cx="1445" cy="144.6" r="15.5" fill="url(#ballg)"/>
<circle cx="1445" cy="159" r="15.5" fill="url(#ballg)"/>
<circle cx="1478" cy="156" r="15.5" fill="url(#ballg)"/>
<circle cx="1494" cy="176" r="15.5" fill="url(#ballg)"/>
<circle cx="1512" cy="136" r="15.5" fill="url(#ballg)"/>
<circle cx="1525.8" cy="142.8" r="15.5" fill="url(#ballg)"/>
<circle cx="1539.6" cy="149.6" r="15.5" fill="url(#ballg)"/>
<circle cx="1553.4" cy="156.4" r="15.5" fill="url(#ballg)"/>
<circle cx="1567.2" cy="163.2" r="15.5" fill="url(#ballg)"/>
<circle cx="1581" cy="170" r="15.5" fill="url(#ballg)"/>
<circle cx="1578" cy="130" r="15.5" fill="url(#ballg)"/>
<circle cx="1592.4" cy="133.7" r="15.5" fill="url(#ballg)"/>
<circle cx="1606.8" cy="137.3" r="15.5" fill="url(#ballg)"/>
<circle cx="1621.2" cy="140.9" r="15.5" fill="url(#ballg)"/>
<circle cx="1635.6" cy="144.6" r="15.5" fill="url(#ballg)"/>
<path d="M1205,195 L1209.9,194.6 L1214.9,193.6 L1219.8,191.9 L1224.8,189.8 L1229.7,187.6 L1234.7,185.3 L1239.6,183.4 L1244.6,181.9 L1249.5,181.1 L1254.4,181.1 L1259.4,181.7 L1264.3,183 L1269.3,184.9 L1274.2,187.1 L1279.2,189.3 L1284.1,191.5 L1289.1,193.2 L1294,194.5 L1298.9,195 L1303.9,194.8 L1308.8,193.8 L1313.8,192.3 L1318.7,190.3 L1323.7,188 L1328.6,185.8 L1333.6,183.8 L1338.5,182.2 L1343.4,181.3 L1348.4,181 L1353.3,181.5 L1358.3,182.7 L1363.2,184.5 L1368.2,186.6 L1373.1,188.9 L1378.1,191 L1383,192.9 L1387.9,194.3 L1392.9,194.9 L1397.8,194.9 L1402.8,194.1 L1407.7,192.7 L1412.7,190.7 L1417.6,188.5 L1422.6,186.3 L1427.5,184.2 L1432.4,182.5 L1437.4,181.4 L1442.3,181 L1447.3,181.3 L1452.2,182.4 L1457.2,184 L1462.1,186.1 L1467.1,188.4 L1472,190.6 L1476.9,192.5 L1481.9,194 L1486.8,194.8 L1491.8,195 L1496.7,194.3 L1501.7,193 L1506.6,191.2 L1511.6,189 L1516.5,186.7 L1521.4,184.6 L1526.4,182.8 L1531.3,181.6 L1536.3,181 L1541.2,181.2 L1546.2,182.1 L1551.1,183.6 L1556.1,185.6 L1561,187.9 L1565.9,190.1 L1570.9,192.2 L1575.8,193.8 L1580.8,194.7 L1585.7,195 L1590.7,194.5 L1595.6,193.3 L1600.6,191.6 L1605.5,189.5 L1610.4,187.2 L1615.4,185 L1620.3,183.1 L1625.3,181.8 L1630.2,181.1 L1635.2,181.1 L1640.1,181.9 L1645.1,183.3 L1650,185.2" fill="none" stroke="#9090a8" stroke-width="1.3" stroke-dasharray="6 3"/>
<path d="M1205,200.5 L1209.9,200.1 L1214.9,199.1 L1219.8,197.4 L1224.8,195.3 L1229.7,193.1 L1234.7,190.8 L1239.6,188.9 L1244.6,187.4 L1249.5,186.6 L1254.4,186.6 L1259.4,187.2 L1264.3,188.5 L1269.3,190.4 L1274.2,192.6 L1279.2,194.8 L1284.1,197 L1289.1,198.7 L1294,200 L1298.9,200.5 L1303.9,200.3 L1308.8,199.3 L1313.8,197.8 L1318.7,195.8 L1323.7,193.5 L1328.6,191.3 L1333.6,189.3 L1338.5,187.7 L1343.4,186.8 L1348.4,186.5 L1353.3,187 L1358.3,188.2 L1363.2,190 L1368.2,192.1 L1373.1,194.4 L1378.1,196.5 L1383,198.4 L1387.9,199.8 L1392.9,200.4 L1397.8,200.4 L1402.8,199.6 L1407.7,198.2 L1412.7,196.2 L1417.6,194 L1422.6,191.8 L1427.5,189.7 L1432.4,188 L1437.4,186.9 L1442.3,186.5 L1447.3,186.8 L1452.2,187.9 L1457.2,189.5 L1462.1,191.6 L1467.1,193.9 L1472,196.1 L1476.9,198 L1481.9,199.5 L1486.8,200.3 L1491.8,200.5 L1496.7,199.8 L1501.7,198.5 L1506.6,196.7 L1511.6,194.5 L1516.5,192.2 L1521.4,190.1 L1526.4,188.3 L1531.3,187.1 L1536.3,186.5 L1541.2,186.7 L1546.2,187.6 L1551.1,189.1 L1556.1,191.1 L1561,193.4 L1565.9,195.6 L1570.9,197.7 L1575.8,199.3 L1580.8,200.2 L1585.7,200.5 L1590.7,200 L1595.6,198.8 L1600.6,197.1 L1605.5,195 L1610.4,192.7 L1615.4,190.5 L1620.3,188.6 L1625.3,187.3 L1630.2,186.6 L1635.2,186.6 L1640.1,187.4 L1645.1,188.8 L1650,190.7" fill="none" stroke="#5a5ae0" stroke-width="1.3" stroke-dasharray="6 3"/>
<path d="M1205,206 L1209.9,205.6 L1214.9,204.6 L1219.8,202.9 L1224.8,200.8 L1229.7,198.6 L1234.7,196.3 L1239.6,194.4 L1244.6,192.9 L1249.5,192.1 L1254.4,192.1 L1259.4,192.7 L1264.3,194 L1269.3,195.9 L1274.2,198.1 L1279.2,200.3 L1284.1,202.5 L1289.1,204.2 L1294,205.5 L1298.9,206 L1303.9,205.8 L1308.8,204.8 L1313.8,203.3 L1318.7,201.3 L1323.7,199 L1328.6,196.8 L1333.6,194.8 L1338.5,193.2 L1343.4,192.3 L1348.4,192 L1353.3,192.5 L1358.3,193.7 L1363.2,195.5 L1368.2,197.6 L1373.1,199.9 L1378.1,202 L1383,203.9 L1387.9,205.3 L1392.9,205.9 L1397.8,205.9 L1402.8,205.1 L1407.7,203.7 L1412.7,201.7 L1417.6,199.5 L1422.6,197.3 L1427.5,195.2 L1432.4,193.5 L1437.4,192.4 L1442.3,192 L1447.3,192.3 L1452.2,193.4 L1457.2,195 L1462.1,197.1 L1467.1,199.4 L1472,201.6 L1476.9,203.5 L1481.9,205 L1486.8,205.8 L1491.8,206 L1496.7,205.3 L1501.7,204 L1506.6,202.2 L1511.6,200 L1516.5,197.7 L1521.4,195.6 L1526.4,193.8 L1531.3,192.6 L1536.3,192 L1541.2,192.2 L1546.2,193.1 L1551.1,194.6 L1556.1,196.6 L1561,198.9 L1565.9,201.1 L1570.9,203.2 L1575.8,204.8 L1580.8,205.7 L1585.7,206 L1590.7,205.5 L1595.6,204.3 L1600.6,202.6 L1605.5,200.5 L1610.4,198.2 L1615.4,196 L1620.3,194.1 L1625.3,192.8 L1630.2,192.1 L1635.2,192.1 L1640.1,192.9 L1645.1,194.3 L1650,196.2" fill="none" stroke="#9090a8" stroke-width="1.3" stroke-dasharray="6 3"/>
<path d="M1205,211.5 L1209.9,211.1 L1214.9,210.1 L1219.8,208.4 L1224.8,206.3 L1229.7,204.1 L1234.7,201.8 L1239.6,199.9 L1244.6,198.4 L1249.5,197.6 L1254.4,197.6 L1259.4,198.2 L1264.3,199.5 L1269.3,201.4 L1274.2,203.6 L1279.2,205.8 L1284.1,208 L1289.1,209.7 L1294,211 L1298.9,211.5 L1303.9,211.3 L1308.8,210.3 L1313.8,208.8 L1318.7,206.8 L1323.7,204.5 L1328.6,202.3 L1333.6,200.3 L1338.5,198.7 L1343.4,197.8 L1348.4,197.5 L1353.3,198 L1358.3,199.2 L1363.2,201 L1368.2,203.1 L1373.1,205.4 L1378.1,207.5 L1383,209.4 L1387.9,210.8 L1392.9,211.4 L1397.8,211.4 L1402.8,210.6 L1407.7,209.2 L1412.7,207.2 L1417.6,205 L1422.6,202.8 L1427.5,200.7 L1432.4,199 L1437.4,197.9 L1442.3,197.5 L1447.3,197.8 L1452.2,198.9 L1457.2,200.5 L1462.1,202.6 L1467.1,204.9 L1472,207.1 L1476.9,209 L1481.9,210.5 L1486.8,211.3 L1491.8,211.5 L1496.7,210.8 L1501.7,209.5 L1506.6,207.7 L1511.6,205.5 L1516.5,203.2 L1521.4,201.1 L1526.4,199.3 L1531.3,198.1 L1536.3,197.5 L1541.2,197.7 L1546.2,198.6 L1551.1,200.1 L1556.1,202.1 L1561,204.4 L1565.9,206.6 L1570.9,208.7 L1575.8,210.3 L1580.8,211.2 L1585.7,211.5 L1590.7,211 L1595.6,209.8 L1600.6,208.1 L1605.5,206 L1610.4,203.7 L1615.4,201.5 L1620.3,199.6 L1625.3,198.3 L1630.2,197.6 L1635.2,197.6 L1640.1,198.4 L1645.1,199.8 L1650,201.7" fill="none" stroke="#5a5ae0" stroke-width="1.3" stroke-dasharray="6 3"/>
<path d="M1205,217 L1209.9,216.6 L1214.9,215.6 L1219.8,213.9 L1224.8,211.8 L1229.7,209.6 L1234.7,207.3 L1239.6,205.4 L1244.6,203.9 L1249.5,203.1 L1254.4,203.1 L1259.4,203.7 L1264.3,205 L1269.3,206.9 L1274.2,209.1 L1279.2,211.3 L1284.1,213.5 L1289.1,215.2 L1294,216.5 L1298.9,217 L1303.9,216.8 L1308.8,215.8 L1313.8,214.3 L1318.7,212.3 L1323.7,210 L1328.6,207.8 L1333.6,205.8 L1338.5,204.2 L1343.4,203.3 L1348.4,203 L1353.3,203.5 L1358.3,204.7 L1363.2,206.5 L1368.2,208.6 L1373.1,210.9 L1378.1,213 L1383,214.9 L1387.9,216.3 L1392.9,216.9 L1397.8,216.9 L1402.8,216.1 L1407.7,214.7 L1412.7,212.7 L1417.6,210.5 L1422.6,208.3 L1427.5,206.2 L1432.4,204.5 L1437.4,203.4 L1442.3,203 L1447.3,203.3 L1452.2,204.4 L1457.2,206 L1462.1,208.1 L1467.1,210.4 L1472,212.6 L1476.9,214.5 L1481.9,216 L1486.8,216.8 L1491.8,217 L1496.7,216.3 L1501.7,215 L1506.6,213.2 L1511.6,211 L1516.5,208.7 L1521.4,206.6 L1526.4,204.8 L1531.3,203.6 L1536.3,203 L1541.2,203.2 L1546.2,204.1 L1551.1,205.6 L1556.1,207.6 L1561,209.9 L1565.9,212.1 L1570.9,214.2 L1575.8,215.8 L1580.8,216.7 L1585.7,217 L1590.7,216.5 L1595.6,215.3 L1600.6,213.6 L1605.5,211.5 L1610.4,209.2 L1615.4,207 L1620.3,205.1 L1625.3,203.8 L1630.2,203.1 L1635.2,203.1 L1640.1,203.9 L1645.1,205.3 L1650,207.2" fill="none" stroke="#9090a8" stroke-width="1.3" stroke-dasharray="6 3"/>
<path d="M1205,222.5 L1209.9,222.1 L1214.9,221.1 L1219.8,219.4 L1224.8,217.3 L1229.7,215.1 L1234.7,212.8 L1239.6,210.9 L1244.6,209.4 L1249.5,208.6 L1254.4,208.6 L1259.4,209.2 L1264.3,210.5 L1269.3,212.4 L1274.2,214.6 L1279.2,216.8 L1284.1,219 L1289.1,220.7 L1294,222 L1298.9,222.5 L1303.9,222.3 L1308.8,221.3 L1313.8,219.8 L1318.7,217.8 L1323.7,215.5 L1328.6,213.3 L1333.6,211.3 L1338.5,209.7 L1343.4,208.8 L1348.4,208.5 L1353.3,209 L1358.3,210.2 L1363.2,212 L1368.2,214.1 L1373.1,216.4 L1378.1,218.5 L1383,220.4 L1387.9,221.8 L1392.9,222.4 L1397.8,222.4 L1402.8,221.6 L1407.7,220.2 L1412.7,218.2 L1417.6,216 L1422.6,213.8 L1427.5,211.7 L1432.4,210 L1437.4,208.9 L1442.3,208.5 L1447.3,208.8 L1452.2,209.9 L1457.2,211.5 L1462.1,213.6 L1467.1,215.9 L1472,218.1 L1476.9,220 L1481.9,221.5 L1486.8,222.3 L1491.8,222.5 L1496.7,221.8 L1501.7,220.5 L1506.6,218.7 L1511.6,216.5 L1516.5,214.2 L1521.4,212.1 L1526.4,210.3 L1531.3,209.1 L1536.3,208.5 L1541.2,208.7 L1546.2,209.6 L1551.1,211.1 L1556.1,213.1 L1561,215.4 L1565.9,217.6 L1570.9,219.7 L1575.8,221.3 L1580.8,222.2 L1585.7,222.5 L1590.7,222 L1595.6,220.8 L1600.6,219.1 L1605.5,217 L1610.4,214.7 L1615.4,212.5 L1620.3,210.6 L1625.3,209.3 L1630.2,208.6 L1635.2,208.6 L1640.1,209.4 L1645.1,210.8 L1650,212.7" fill="none" stroke="#5a5ae0" stroke-width="1.3" stroke-dasharray="6 3"/>
<path d="M1205,228 L1209.9,227.6 L1214.9,226.6 L1219.8,224.9 L1224.8,222.8 L1229.7,220.6 L1234.7,218.3 L1239.6,216.4 L1244.6,214.9 L1249.5,214.1 L1254.4,214.1 L1259.4,214.7 L1264.3,216 L1269.3,217.9 L1274.2,220.1 L1279.2,222.3 L1284.1,224.5 L1289.1,226.2 L1294,227.5 L1298.9,228 L1303.9,227.8 L1308.8,226.8 L1313.8,225.3 L1318.7,223.3 L1323.7,221 L1328.6,218.8 L1333.6,216.8 L1338.5,215.2 L1343.4,214.3 L1348.4,214 L1353.3,214.5 L1358.3,215.7 L1363.2,217.5 L1368.2,219.6 L1373.1,221.9 L1378.1,224 L1383,225.9 L1387.9,227.3 L1392.9,227.9 L1397.8,227.9 L1402.8,227.1 L1407.7,225.7 L1412.7,223.7 L1417.6,221.5 L1422.6,219.3 L1427.5,217.2 L1432.4,215.5 L1437.4,214.4 L1442.3,214 L1447.3,214.3 L1452.2,215.4 L1457.2,217 L1462.1,219.1 L1467.1,221.4 L1472,223.6 L1476.9,225.5 L1481.9,227 L1486.8,227.8 L1491.8,228 L1496.7,227.3 L1501.7,226 L1506.6,224.2 L1511.6,222 L1516.5,219.7 L1521.4,217.6 L1526.4,215.8 L1531.3,214.6 L1536.3,214 L1541.2,214.2 L1546.2,215.1 L1551.1,216.6 L1556.1,218.6 L1561,220.9 L1565.9,223.1 L1570.9,225.2 L1575.8,226.8 L1580.8,227.7 L1585.7,228 L1590.7,227.5 L1595.6,226.3 L1600.6,224.6 L1605.5,222.5 L1610.4,220.2 L1615.4,218 L1620.3,216.1 L1625.3,214.8 L1630.2,214.1 L1635.2,214.1 L1640.1,214.9 L1645.1,216.3 L1650,218.2" fill="none" stroke="#9090a8" stroke-width="1.3" stroke-dasharray="6 3"/>
<circle cx="1294.7" cy="202" r="15.5" fill="url(#ballg)"/>
<circle cx="1284.3" cy="210.9" r="15.5" fill="url(#ballg)"/>
<circle cx="1273.9" cy="219.9" r="15.5" fill="url(#ballg)"/>
<circle cx="1263.5" cy="228.8" r="15.5" fill="url(#ballg)"/>
<circle cx="1253.2" cy="237.8" r="15.5" fill="url(#ballg)"/>
<circle cx="1242.8" cy="246.7" r="15.5" fill="url(#ballg)"/>
<circle cx="1232.4" cy="255.6" r="15.5" fill="url(#ballg)"/>
<circle cx="1222" cy="264.6" r="15.5" fill="url(#ballg)"/>
<circle cx="1211.6" cy="273.5" r="15.5" fill="url(#ballg)"/>
<circle cx="1360.6" cy="210" r="15.5" fill="url(#ballg)"/>
<circle cx="1348.7" cy="217.6" r="15.5" fill="url(#ballg)"/>
<circle cx="1336.9" cy="225.3" r="15.5" fill="url(#ballg)"/>
<circle cx="1325" cy="232.9" r="15.5" fill="url(#ballg)"/>
<circle cx="1313.1" cy="240.6" r="15.5" fill="url(#ballg)"/>
<circle cx="1301.2" cy="248.2" r="15.5" fill="url(#ballg)"/>
<circle cx="1289.4" cy="255.9" r="15.5" fill="url(#ballg)"/>
<circle cx="1277.5" cy="263.5" r="15.5" fill="url(#ballg)"/>
<circle cx="1396.4" cy="222" r="15.5" fill="url(#ballg)"/>
<circle cx="1393.1" cy="236.3" r="15.5" fill="url(#ballg)"/>
<circle cx="1389.7" cy="250.7" r="15.5" fill="url(#ballg)"/>
<circle cx="1386.4" cy="265" r="15.5" fill="url(#ballg)"/>
<circle cx="1443.7" cy="213" r="15.5" fill="url(#ballg)"/>
<circle cx="1443.7" cy="231.8" r="15.5" fill="url(#ballg)"/>
<circle cx="1443.7" cy="250.6" r="15.5" fill="url(#ballg)"/>
<circle cx="1478" cy="225" r="15.5" fill="url(#ballg)"/>
<circle cx="1482.7" cy="239.3" r="15.5" fill="url(#ballg)"/>
<circle cx="1487.3" cy="253.5" r="15.5" fill="url(#ballg)"/>
<circle cx="1492" cy="267.8" r="15.5" fill="url(#ballg)"/>
<circle cx="1509.6" cy="204.7" r="15.5" fill="url(#ballg)"/>
<circle cx="1518.2" cy="218.1" r="15.5" fill="url(#ballg)"/>
<circle cx="1526.8" cy="231.6" r="15.5" fill="url(#ballg)"/>
<circle cx="1535.4" cy="245" r="15.5" fill="url(#ballg)"/>
<circle cx="1541" cy="210" r="15.5" fill="url(#ballg)"/>
<circle cx="1549.6" cy="220.4" r="15.5" fill="url(#ballg)"/>
<circle cx="1558.2" cy="230.8" r="15.5" fill="url(#ballg)"/>
<circle cx="1566.8" cy="241.2" r="15.5" fill="url(#ballg)"/>
<circle cx="1575.4" cy="251.6" r="15.5" fill="url(#ballg)"/>
<circle cx="1584" cy="262" r="15.5" fill="url(#ballg)"/>
<circle cx="1575.5" cy="199" r="15.5" fill="url(#ballg)"/>
<circle cx="1586.4" cy="207" r="15.5" fill="url(#ballg)"/>
<circle cx="1597.3" cy="215" r="15.5" fill="url(#ballg)"/>
<circle cx="1608.2" cy="223" r="15.5" fill="url(#ballg)"/>
<circle cx="1619.1" cy="231" r="15.5" fill="url(#ballg)"/>
<circle cx="1630" cy="239" r="15.5" fill="url(#ballg)"/>
<path d="M1205,259.7 L1209.9,261.8 L1214.9,263.5 L1219.8,264.6 L1224.8,265 L1229.7,264.7 L1234.7,263.6 L1239.6,262 L1244.6,259.9 L1249.5,257.7 L1254.4,255.4 L1259.4,253.5 L1264.3,252 L1269.3,251.2 L1274.2,251 L1279.2,251.7 L1284.1,253 L1289.1,254.8 L1294,257 L1298.9,259.2 L1303.9,261.4 L1308.8,263.2 L1313.8,264.4 L1318.7,265 L1323.7,264.8 L1328.6,263.9 L1333.6,262.4 L1338.5,260.4 L1343.4,258.1 L1348.4,255.9 L1353.3,253.9 L1358.3,252.3 L1363.2,251.3 L1368.2,251 L1373.1,251.5 L1378.1,252.6 L1383,254.4 L1387.9,256.5 L1392.9,258.8 L1397.8,261 L1402.8,262.8 L1407.7,264.2 L1412.7,264.9 L1417.6,264.9 L1422.6,264.1 L1427.5,262.7 L1432.4,260.8 L1437.4,258.6 L1442.3,256.4 L1447.3,254.3 L1452.2,252.6 L1457.2,251.4 L1462.1,251 L1467.1,251.3 L1472,252.3 L1476.9,254 L1481.9,256 L1486.8,258.3 L1491.8,260.5 L1496.7,262.5 L1501.7,264 L1506.6,264.8 L1511.6,265 L1516.5,264.4 L1521.4,263.1 L1526.4,261.3 L1531.3,259.1 L1536.3,256.8 L1541.2,254.7 L1546.2,252.9 L1551.1,251.6 L1556.1,251 L1561,251.2 L1565.9,252.1 L1570.9,253.6 L1575.8,255.5 L1580.8,257.8 L1585.7,260 L1590.7,262.1 L1595.6,263.7 L1600.6,264.7 L1605.5,265 L1610.4,264.6 L1615.4,263.4 L1620.3,261.7 L1625.3,259.6 L1630.2,257.3 L1635.2,255.1 L1640.1,253.2 L1645.1,251.8 L1650,251.1" fill="none" stroke="#8888a8" stroke-width="1.3" stroke-dasharray="6 3"/>
<path d="M1205,265.2 L1209.9,267.3 L1214.9,269 L1219.8,270.1 L1224.8,270.5 L1229.7,270.2 L1234.7,269.1 L1239.6,267.5 L1244.6,265.4 L1249.5,263.2 L1254.4,260.9 L1259.4,259 L1264.3,257.5 L1269.3,256.7 L1274.2,256.5 L1279.2,257.2 L1284.1,258.5 L1289.1,260.3 L1294,262.5 L1298.9,264.7 L1303.9,266.9 L1308.8,268.7 L1313.8,269.9 L1318.7,270.5 L1323.7,270.3 L1328.6,269.4 L1333.6,267.9 L1338.5,265.9 L1343.4,263.6 L1348.4,261.4 L1353.3,259.4 L1358.3,257.8 L1363.2,256.8 L1368.2,256.5 L1373.1,257 L1378.1,258.1 L1383,259.9 L1387.9,262 L1392.9,264.3 L1397.8,266.5 L1402.8,268.3 L1407.7,269.7 L1412.7,270.4 L1417.6,270.4 L1422.6,269.6 L1427.5,268.2 L1432.4,266.3 L1437.4,264.1 L1442.3,261.9 L1447.3,259.8 L1452.2,258.1 L1457.2,256.9 L1462.1,256.5 L1467.1,256.8 L1472,257.8 L1476.9,259.5 L1481.9,261.5 L1486.8,263.8 L1491.8,266 L1496.7,268 L1501.7,269.5 L1506.6,270.3 L1511.6,270.5 L1516.5,269.9 L1521.4,268.6 L1526.4,266.8 L1531.3,264.6 L1536.3,262.3 L1541.2,260.2 L1546.2,258.4 L1551.1,257.1 L1556.1,256.5 L1561,256.7 L1565.9,257.6 L1570.9,259.1 L1575.8,261 L1580.8,263.3 L1585.7,265.5 L1590.7,267.6 L1595.6,269.2 L1600.6,270.2 L1605.5,270.5 L1610.4,270.1 L1615.4,268.9 L1620.3,267.2 L1625.3,265.1 L1630.2,262.8 L1635.2,260.6 L1640.1,258.7 L1645.1,257.3 L1650,256.6" fill="none" stroke="#4a4ae8" stroke-width="1.3" stroke-dasharray="6 3"/>
<path d="M1205,270.7 L1209.9,272.8 L1214.9,274.5 L1219.8,275.6 L1224.8,276 L1229.7,275.7 L1234.7,274.6 L1239.6,273 L1244.6,270.9 L1249.5,268.7 L1254.4,266.4 L1259.4,264.5 L1264.3,263 L1269.3,262.2 L1274.2,262 L1279.2,262.7 L1284.1,264 L1289.1,265.8 L1294,268 L1298.9,270.2 L1303.9,272.4 L1308.8,274.2 L1313.8,275.4 L1318.7,276 L1323.7,275.8 L1328.6,274.9 L1333.6,273.4 L1338.5,271.4 L1343.4,269.1 L1348.4,266.9 L1353.3,264.9 L1358.3,263.3 L1363.2,262.3 L1368.2,262 L1373.1,262.5 L1378.1,263.6 L1383,265.4 L1387.9,267.5 L1392.9,269.8 L1397.8,272 L1402.8,273.8 L1407.7,275.2 L1412.7,275.9 L1417.6,275.9 L1422.6,275.1 L1427.5,273.7 L1432.4,271.8 L1437.4,269.6 L1442.3,267.4 L1447.3,265.3 L1452.2,263.6 L1457.2,262.4 L1462.1,262 L1467.1,262.3 L1472,263.3 L1476.9,265 L1481.9,267 L1486.8,269.3 L1491.8,271.5 L1496.7,273.5 L1501.7,275 L1506.6,275.8 L1511.6,276 L1516.5,275.4 L1521.4,274.1 L1526.4,272.3 L1531.3,270.1 L1536.3,267.8 L1541.2,265.7 L1546.2,263.9 L1551.1,262.6 L1556.1,262 L1561,262.2 L1565.9,263.1 L1570.9,264.6 L1575.8,266.5 L1580.8,268.8 L1585.7,271 L1590.7,273.1 L1595.6,274.7 L1600.6,275.7 L1605.5,276 L1610.4,275.6 L1615.4,274.4 L1620.3,272.7 L1625.3,270.6 L1630.2,268.3 L1635.2,266.1 L1640.1,264.2 L1645.1,262.8 L1650,262.1" fill="none" stroke="#8888a8" stroke-width="1.3" stroke-dasharray="6 3"/>
<path d="M1205,276.2 L1209.9,278.3 L1214.9,280 L1219.8,281.1 L1224.8,281.5 L1229.7,281.2 L1234.7,280.1 L1239.6,278.5 L1244.6,276.4 L1249.5,274.2 L1254.4,271.9 L1259.4,270 L1264.3,268.5 L1269.3,267.7 L1274.2,267.5 L1279.2,268.2 L1284.1,269.5 L1289.1,271.3 L1294,273.5 L1298.9,275.7 L1303.9,277.9 L1308.8,279.7 L1313.8,280.9 L1318.7,281.5 L1323.7,281.3 L1328.6,280.4 L1333.6,278.9 L1338.5,276.9 L1343.4,274.6 L1348.4,272.4 L1353.3,270.4 L1358.3,268.8 L1363.2,267.8 L1368.2,267.5 L1373.1,268 L1378.1,269.1 L1383,270.9 L1387.9,273 L1392.9,275.3 L1397.8,277.5 L1402.8,279.3 L1407.7,280.7 L1412.7,281.4 L1417.6,281.4 L1422.6,280.6 L1427.5,279.2 L1432.4,277.3 L1437.4,275.1 L1442.3,272.9 L1447.3,270.8 L1452.2,269.1 L1457.2,267.9 L1462.1,267.5 L1467.1,267.8 L1472,268.8 L1476.9,270.5 L1481.9,272.5 L1486.8,274.8 L1491.8,277 L1496.7,279 L1501.7,280.5 L1506.6,281.3 L1511.6,281.5 L1516.5,280.9 L1521.4,279.6 L1526.4,277.8 L1531.3,275.6 L1536.3,273.3 L1541.2,271.2 L1546.2,269.4 L1551.1,268.1 L1556.1,267.5 L1561,267.7 L1565.9,268.6 L1570.9,270.1 L1575.8,272 L1580.8,274.3 L1585.7,276.5 L1590.7,278.6 L1595.6,280.2 L1600.6,281.2 L1605.5,281.5 L1610.4,281.1 L1615.4,279.9 L1620.3,278.2 L1625.3,276.1 L1630.2,273.8 L1635.2,271.6 L1640.1,269.7 L1645.1,268.3 L1650,267.6" fill="none" stroke="#4a4ae8" stroke-width="1.3" stroke-dasharray="6 3"/>
<path d="M1205,281.7 L1209.9,283.8 L1214.9,285.5 L1219.8,286.6 L1224.8,287 L1229.7,286.7 L1234.7,285.6 L1239.6,284 L1244.6,281.9 L1249.5,279.7 L1254.4,277.4 L1259.4,275.5 L1264.3,274 L1269.3,273.2 L1274.2,273 L1279.2,273.7 L1284.1,275 L1289.1,276.8 L1294,279 L1298.9,281.2 L1303.9,283.4 L1308.8,285.2 L1313.8,286.4 L1318.7,287 L1323.7,286.8 L1328.6,285.9 L1333.6,284.4 L1338.5,282.4 L1343.4,280.1 L1348.4,277.9 L1353.3,275.9 L1358.3,274.3 L1363.2,273.3 L1368.2,273 L1373.1,273.5 L1378.1,274.6 L1383,276.4 L1387.9,278.5 L1392.9,280.8 L1397.8,283 L1402.8,284.8 L1407.7,286.2 L1412.7,286.9 L1417.6,286.9 L1422.6,286.1 L1427.5,284.7 L1432.4,282.8 L1437.4,280.6 L1442.3,278.4 L1447.3,276.3 L1452.2,274.6 L1457.2,273.4 L1462.1,273 L1467.1,273.3 L1472,274.3 L1476.9,276 L1481.9,278 L1486.8,280.3 L1491.8,282.5 L1496.7,284.5 L1501.7,286 L1506.6,286.8 L1511.6,287 L1516.5,286.4 L1521.4,285.1 L1526.4,283.3 L1531.3,281.1 L1536.3,278.8 L1541.2,276.7 L1546.2,274.9 L1551.1,273.6 L1556.1,273 L1561,273.2 L1565.9,274.1 L1570.9,275.6 L1575.8,277.5 L1580.8,279.8 L1585.7,282 L1590.7,284.1 L1595.6,285.7 L1600.6,286.7 L1605.5,287 L1610.4,286.6 L1615.4,285.4 L1620.3,283.7 L1625.3,281.6 L1630.2,279.3 L1635.2,277.1 L1640.1,275.2 L1645.1,273.8 L1650,273.1" fill="none" stroke="#8888a8" stroke-width="1.3" stroke-dasharray="6 3"/>
<path d="M1205,287.2 L1209.9,289.3 L1214.9,291 L1219.8,292.1 L1224.8,292.5 L1229.7,292.2 L1234.7,291.1 L1239.6,289.5 L1244.6,287.4 L1249.5,285.2 L1254.4,282.9 L1259.4,281 L1264.3,279.5 L1269.3,278.7 L1274.2,278.5 L1279.2,279.2 L1284.1,280.5 L1289.1,282.3 L1294,284.5 L1298.9,286.7 L1303.9,288.9 L1308.8,290.7 L1313.8,291.9 L1318.7,292.5 L1323.7,292.3 L1328.6,291.4 L1333.6,289.9 L1338.5,287.9 L1343.4,285.6 L1348.4,283.4 L1353.3,281.4 L1358.3,279.8 L1363.2,278.8 L1368.2,278.5 L1373.1,279 L1378.1,280.1 L1383,281.9 L1387.9,284 L1392.9,286.3 L1397.8,288.5 L1402.8,290.3 L1407.7,291.7 L1412.7,292.4 L1417.6,292.4 L1422.6,291.6 L1427.5,290.2 L1432.4,288.3 L1437.4,286.1 L1442.3,283.9 L1447.3,281.8 L1452.2,280.1 L1457.2,278.9 L1462.1,278.5 L1467.1,278.8 L1472,279.8 L1476.9,281.5 L1481.9,283.5 L1486.8,285.8 L1491.8,288 L1496.7,290 L1501.7,291.5 L1506.6,292.3 L1511.6,292.5 L1516.5,291.9 L1521.4,290.6 L1526.4,288.8 L1531.3,286.6 L1536.3,284.3 L1541.2,282.2 L1546.2,280.4 L1551.1,279.1 L1556.1,278.5 L1561,278.7 L1565.9,279.6 L1570.9,281.1 L1575.8,283 L1580.8,285.3 L1585.7,287.5 L1590.7,289.6 L1595.6,291.2 L1600.6,292.2 L1605.5,292.5 L1610.4,292.1 L1615.4,290.9 L1620.3,289.2 L1625.3,287.1 L1630.2,284.8 L1635.2,282.6 L1640.1,280.7 L1645.1,279.3 L1650,278.6" fill="none" stroke="#4a4ae8" stroke-width="1.3" stroke-dasharray="6 3"/>
<path d="M1205,292.7 L1209.9,294.8 L1214.9,296.5 L1219.8,297.6 L1224.8,298 L1229.7,297.7 L1234.7,296.6 L1239.6,295 L1244.6,292.9 L1249.5,290.7 L1254.4,288.4 L1259.4,286.5 L1264.3,285 L1269.3,284.2 L1274.2,284 L1279.2,284.7 L1284.1,286 L1289.1,287.8 L1294,290 L1298.9,292.2 L1303.9,294.4 L1308.8,296.2 L1313.8,297.4 L1318.7,298 L1323.7,297.8 L1328.6,296.9 L1333.6,295.4 L1338.5,293.4 L1343.4,291.1 L1348.4,288.9 L1353.3,286.9 L1358.3,285.3 L1363.2,284.3 L1368.2,284 L1373.1,284.5 L1378.1,285.6 L1383,287.4 L1387.9,289.5 L1392.9,291.8 L1397.8,294 L1402.8,295.8 L1407.7,297.2 L1412.7,297.9 L1417.6,297.9 L1422.6,297.1 L1427.5,295.7 L1432.4,293.8 L1437.4,291.6 L1442.3,289.4 L1447.3,287.3 L1452.2,285.6 L1457.2,284.4 L1462.1,284 L1467.1,284.3 L1472,285.3 L1476.9,287 L1481.9,289 L1486.8,291.3 L1491.8,293.5 L1496.7,295.5 L1501.7,297 L1506.6,297.8 L1511.6,298 L1516.5,297.4 L1521.4,296.1 L1526.4,294.3 L1531.3,292.1 L1536.3,289.8 L1541.2,287.7 L1546.2,285.9 L1551.1,284.6 L1556.1,284 L1561,284.2 L1565.9,285.1 L1570.9,286.6 L1575.8,288.5 L1580.8,290.8 L1585.7,293 L1590.7,295.1 L1595.6,296.7 L1600.6,297.7 L1605.5,298 L1610.4,297.6 L1615.4,296.4 L1620.3,294.7 L1625.3,292.6 L1630.2,290.3 L1635.2,288.1 L1640.1,286.2 L1645.1,284.8 L1650,284.1" fill="none" stroke="#8888a8" stroke-width="1.3" stroke-dasharray="6 3"/>
<path d="M1205,298.2 L1209.9,300.3 L1214.9,302 L1219.8,303.1 L1224.8,303.5 L1229.7,303.2 L1234.7,302.1 L1239.6,300.5 L1244.6,298.4 L1249.5,296.2 L1254.4,293.9 L1259.4,292 L1264.3,290.5 L1269.3,289.7 L1274.2,289.5 L1279.2,290.2 L1284.1,291.5 L1289.1,293.3 L1294,295.5 L1298.9,297.7 L1303.9,299.9 L1308.8,301.7 L1313.8,302.9 L1318.7,303.5 L1323.7,303.3 L1328.6,302.4 L1333.6,300.9 L1338.5,298.9 L1343.4,296.6 L1348.4,294.4 L1353.3,292.4 L1358.3,290.8 L1363.2,289.8 L1368.2,289.5 L1373.1,290 L1378.1,291.1 L1383,292.9 L1387.9,295 L1392.9,297.3 L1397.8,299.5 L1402.8,301.3 L1407.7,302.7 L1412.7,303.4 L1417.6,303.4 L1422.6,302.6 L1427.5,301.2 L1432.4,299.3 L1437.4,297.1 L1442.3,294.9 L1447.3,292.8 L1452.2,291.1 L1457.2,289.9 L1462.1,289.5 L1467.1,289.8 L1472,290.8 L1476.9,292.5 L1481.9,294.5 L1486.8,296.8 L1491.8,299 L1496.7,301 L1501.7,302.5 L1506.6,303.3 L1511.6,303.5 L1516.5,302.9 L1521.4,301.6 L1526.4,299.8 L1531.3,297.6 L1536.3,295.3 L1541.2,293.2 L1546.2,291.4 L1551.1,290.1 L1556.1,289.5 L1561,289.7 L1565.9,290.6 L1570.9,292.1 L1575.8,294 L1580.8,296.3 L1585.7,298.5 L1590.7,300.6 L1595.6,302.2 L1600.6,303.2 L1605.5,303.5 L1610.4,303.1 L1615.4,301.9 L1620.3,300.2 L1625.3,298.1 L1630.2,295.8 L1635.2,293.6 L1640.1,291.7 L1645.1,290.3 L1650,289.6" fill="none" stroke="#4a4ae8" stroke-width="1.3" stroke-dasharray="6 3"/>
<circle cx="1269" cy="285" r="15.5" fill="url(#ballg)"/>
<circle cx="1259.9" cy="297.2" r="15.5" fill="url(#ballg)"/>
<circle cx="1250.8" cy="309.3" r="15.5" fill="url(#ballg)"/>
<circle cx="1241.7" cy="321.5" r="15.5" fill="url(#ballg)"/>
<circle cx="1232.6" cy="333.7" r="15.5" fill="url(#ballg)"/>
<circle cx="1223.5" cy="345.8" r="15.5" fill="url(#ballg)"/>
<circle cx="1214.4" cy="358" r="15.5" fill="url(#ballg)"/>
<circle cx="1323" cy="282" r="15.5" fill="url(#ballg)"/>
<circle cx="1316.3" cy="293.5" r="15.5" fill="url(#ballg)"/>
<circle cx="1309.7" cy="305" r="15.5" fill="url(#ballg)"/>
<circle cx="1303" cy="316.5" r="15.5" fill="url(#ballg)"/>
<circle cx="1296.3" cy="328" r="15.5" fill="url(#ballg)"/>
<circle cx="1289.7" cy="339.5" r="15.5" fill="url(#ballg)"/>
<circle cx="1283" cy="351" r="15.5" fill="url(#ballg)"/>
<circle cx="1354.8" cy="268" r="15.5" fill="url(#ballg)"/>
<circle cx="1349.6" cy="280.8" r="15.5" fill="url(#ballg)"/>
<circle cx="1344.5" cy="293.6" r="15.5" fill="url(#ballg)"/>
<circle cx="1339.3" cy="306.4" r="15.5" fill="url(#ballg)"/>
<circle cx="1334.2" cy="319.2" r="15.5" fill="url(#ballg)"/>
<circle cx="1329" cy="332" r="15.5" fill="url(#ballg)"/>
<circle cx="1397.8" cy="285" r="15.5" fill="url(#ballg)"/>
<circle cx="1394.2" cy="300.8" r="15.5" fill="url(#ballg)"/>
<circle cx="1390.7" cy="316.5" r="15.5" fill="url(#ballg)"/>
<circle cx="1387.1" cy="332.2" r="15.5" fill="url(#ballg)"/>
<circle cx="1383.5" cy="348" r="15.5" fill="url(#ballg)"/>
<circle cx="1443.7" cy="276" r="15.5" fill="url(#ballg)"/>
<circle cx="1443.7" cy="291.1" r="15.5" fill="url(#ballg)"/>
<circle cx="1443.7" cy="306.2" r="15.5" fill="url(#ballg)"/>
<circle cx="1443.7" cy="321.4" r="15.5" fill="url(#ballg)"/>
<circle cx="1443.7" cy="336.5" r="15.5" fill="url(#ballg)"/>
<circle cx="1478" cy="288" r="15.5" fill="url(#ballg)"/>
<circle cx="1480.8" cy="301.7" r="15.5" fill="url(#ballg)"/>
<circle cx="1483.6" cy="315.4" r="15.5" fill="url(#ballg)"/>
<circle cx="1486.4" cy="329.2" r="15.5" fill="url(#ballg)"/>
<circle cx="1489.2" cy="342.9" r="15.5" fill="url(#ballg)"/>
<circle cx="1492" cy="356.6" r="15.5" fill="url(#ballg)"/>
<circle cx="1512.4" cy="276" r="15.5" fill="url(#ballg)"/>
<circle cx="1518.2" cy="289.2" r="15.5" fill="url(#ballg)"/>
<circle cx="1523.9" cy="302.5" r="15.5" fill="url(#ballg)"/>
<circle cx="1529.7" cy="315.8" r="15.5" fill="url(#ballg)"/>
<circle cx="1535.4" cy="329" r="15.5" fill="url(#ballg)"/>
<circle cx="1541" cy="282" r="15.5" fill="url(#ballg)"/>
<circle cx="1548.2" cy="295.2" r="15.5" fill="url(#ballg)"/>
<circle cx="1555.4" cy="308.4" r="15.5" fill="url(#ballg)"/>
<circle cx="1562.6" cy="321.6" r="15.5" fill="url(#ballg)"/>
<circle cx="1569.8" cy="334.8" r="15.5" fill="url(#ballg)"/>
<circle cx="1577" cy="348" r="15.5" fill="url(#ballg)"/>
<circle cx="1598.4" cy="285" r="15.5" fill="url(#ballg)"/>
<circle cx="1607.9" cy="297.3" r="15.5" fill="url(#ballg)"/>
<circle cx="1617.5" cy="309.7" r="15.5" fill="url(#ballg)"/>
<circle cx="1627" cy="322" r="15.5" fill="url(#ballg)"/>
<clipPath id="tvc"><path d="M1815,95 L1860,80 L2140,80 L2165,110 L2175,150 L2165,205 L2175,240 L2170,300 L2150,335 L1860,338 L1825,300 L1803,235 L1815,170 Z"/></clipPath>
<rect x="1800" y="75" width="378" height="265" fill="url(#hexp)" clip-path="url(#tvc)"/>
<rect x="1990" y="210" width="36" height="30" fill="#fff"/>
<circle cx="1921.9" cy="135.9" r="19.5" fill="#e4361c" stroke="#9a3a2a" stroke-width="0.7" stroke-opacity="0.6"/>
<circle cx="1918.1" cy="132.3" r="19.5" fill="#e4361c" stroke="#9a3a2a" stroke-width="0.7" stroke-opacity="0.6"/>
<circle cx="1914.3" cy="128.7" r="19.5" fill="#e4361c" stroke="#9a3a2a" stroke-width="0.7" stroke-opacity="0.6"/>
<circle cx="1910.6" cy="125.1" r="19.5" fill="#e4361c" stroke="#9a3a2a" stroke-width="0.7" stroke-opacity="0.6"/>
<circle cx="1906.8" cy="121.6" r="19.5" fill="#e4361c" stroke="#9a3a2a" stroke-width="0.7" stroke-opacity="0.6"/>
<circle cx="1903" cy="118" r="20.5" fill="url(#ballg2)" stroke="#e02a10" stroke-width="1.2"/>
<circle cx="1976.3" cy="141.6" r="19.5" fill="#e4361c" stroke="#9a3a2a" stroke-width="0.7" stroke-opacity="0.6"/>
<circle cx="1974.9" cy="136.7" r="19.5" fill="#e4361c" stroke="#9a3a2a" stroke-width="0.7" stroke-opacity="0.6"/>
<circle cx="1973.4" cy="131.7" r="19.5" fill="#e4361c" stroke="#9a3a2a" stroke-width="0.7" stroke-opacity="0.6"/>
<circle cx="1971.9" cy="126.7" r="19.5" fill="#e4361c" stroke="#9a3a2a" stroke-width="0.7" stroke-opacity="0.6"/>
<circle cx="1970.5" cy="121.7" r="19.5" fill="#e4361c" stroke="#9a3a2a" stroke-width="0.7" stroke-opacity="0.6"/>
<circle cx="1969" cy="116.7" r="20.5" fill="url(#ballg2)" stroke="#e02a10" stroke-width="1.2"/>
<circle cx="2025.4" cy="140.2" r="19.5" fill="#e4361c" stroke="#9a3a2a" stroke-width="0.7" stroke-opacity="0.6"/>
<circle cx="2027.6" cy="135.5" r="19.5" fill="#e4361c" stroke="#9a3a2a" stroke-width="0.7" stroke-opacity="0.6"/>
<circle cx="2029.8" cy="130.8" r="19.5" fill="#e4361c" stroke="#9a3a2a" stroke-width="0.7" stroke-opacity="0.6"/>
<circle cx="2032" cy="126.1" r="19.5" fill="#e4361c" stroke="#9a3a2a" stroke-width="0.7" stroke-opacity="0.6"/>
<circle cx="2034.2" cy="121.4" r="19.5" fill="#e4361c" stroke="#9a3a2a" stroke-width="0.7" stroke-opacity="0.6"/>
<circle cx="2036.4" cy="116.7" r="20.5" fill="url(#ballg2)" stroke="#e02a10" stroke-width="1.2"/>
<circle cx="2085.1" cy="132.9" r="19.5" fill="#e4361c" stroke="#9a3a2a" stroke-width="0.7" stroke-opacity="0.6"/>
<circle cx="2089.2" cy="129.7" r="19.5" fill="#e4361c" stroke="#9a3a2a" stroke-width="0.7" stroke-opacity="0.6"/>
<circle cx="2093.2" cy="126.4" r="19.5" fill="#e4361c" stroke="#9a3a2a" stroke-width="0.7" stroke-opacity="0.6"/>
<circle cx="2097.3" cy="123.2" r="19.5" fill="#e4361c" stroke="#9a3a2a" stroke-width="0.7" stroke-opacity="0.6"/>
<circle cx="2101.3" cy="119.9" r="19.5" fill="#e4361c" stroke="#9a3a2a" stroke-width="0.7" stroke-opacity="0.6"/>
<circle cx="2105.4" cy="116.7" r="20.5" fill="url(#ballg2)" stroke="#e02a10" stroke-width="1.2"/>
<circle cx="1891.4" cy="182.1" r="19.5" fill="#e4361c" stroke="#9a3a2a" stroke-width="0.7" stroke-opacity="0.6"/>
<circle cx="1886.3" cy="181" r="19.5" fill="#e4361c" stroke="#9a3a2a" stroke-width="0.7" stroke-opacity="0.6"/>
<circle cx="1881.2" cy="179.9" r="19.5" fill="#e4361c" stroke="#9a3a2a" stroke-width="0.7" stroke-opacity="0.6"/>
<circle cx="1876.2" cy="178.7" r="19.5" fill="#e4361c" stroke="#9a3a2a" stroke-width="0.7" stroke-opacity="0.6"/>
<circle cx="1871.1" cy="177.6" r="19.5" fill="#e4361c" stroke="#9a3a2a" stroke-width="0.7" stroke-opacity="0.6"/>
<circle cx="1866" cy="176.5" r="20.5" fill="url(#ballg2)" stroke="#e02a10" stroke-width="1.2"/>
<circle cx="1957.5" cy="188.5" r="19.5" fill="#e4361c" stroke="#9a3a2a" stroke-width="0.7" stroke-opacity="0.6"/>
<circle cx="1952.7" cy="186.4" r="19.5" fill="#e4361c" stroke="#9a3a2a" stroke-width="0.7" stroke-opacity="0.6"/>
<circle cx="1948" cy="184.3" r="19.5" fill="#e4361c" stroke="#9a3a2a" stroke-width="0.7" stroke-opacity="0.6"/>
<circle cx="1943.2" cy="182.2" r="19.5" fill="#e4361c" stroke="#9a3a2a" stroke-width="0.7" stroke-opacity="0.6"/>
<circle cx="1938.5" cy="180.1" r="19.5" fill="#e4361c" stroke="#9a3a2a" stroke-width="0.7" stroke-opacity="0.6"/>
<circle cx="1933.7" cy="178" r="20.5" fill="url(#ballg2)" stroke="#e02a10" stroke-width="1.2"/>
<circle cx="2002.7" cy="176.5" r="19.5" fill="#e4361c" stroke="#9a3a2a" stroke-width="0.7" stroke-opacity="0.6"/>
<circle cx="2002.7" cy="176.5" r="19.5" fill="#e4361c" stroke="#9a3a2a" stroke-width="0.7" stroke-opacity="0.6"/>
<circle cx="2002.7" cy="176.5" r="19.5" fill="#e4361c" stroke="#9a3a2a" stroke-width="0.7" stroke-opacity="0.6"/>
<circle cx="2002.7" cy="176.5" r="19.5" fill="#e4361c" stroke="#9a3a2a" stroke-width="0.7" stroke-opacity="0.6"/>
<circle cx="2002.7" cy="176.5" r="19.5" fill="#e4361c" stroke="#9a3a2a" stroke-width="0.7" stroke-opacity="0.6"/>
<circle cx="2002.7" cy="176.5" r="20.5" fill="url(#ballg2)" stroke="#e02a10" stroke-width="1.2"/>
<circle cx="2043" cy="185" r="19.5" fill="#e4361c" stroke="#9a3a2a" stroke-width="0.7" stroke-opacity="0.6"/>
<circle cx="2047.8" cy="183" r="19.5" fill="#e4361c" stroke="#9a3a2a" stroke-width="0.7" stroke-opacity="0.6"/>
<circle cx="2052.6" cy="181" r="19.5" fill="#e4361c" stroke="#9a3a2a" stroke-width="0.7" stroke-opacity="0.6"/>
<circle cx="2057.4" cy="179" r="19.5" fill="#e4361c" stroke="#9a3a2a" stroke-width="0.7" stroke-opacity="0.6"/>
<circle cx="2062.2" cy="177" r="19.5" fill="#e4361c" stroke="#9a3a2a" stroke-width="0.7" stroke-opacity="0.6"/>
<circle cx="2067" cy="175" r="20.5" fill="url(#ballg2)" stroke="#e02a10" stroke-width="1.2"/>
<circle cx="1861.2" cy="227.4" r="19.5" fill="#e4361c" stroke="#9a3a2a" stroke-width="0.7" stroke-opacity="0.6"/>
<circle cx="1856.1" cy="228.3" r="19.5" fill="#e4361c" stroke="#9a3a2a" stroke-width="0.7" stroke-opacity="0.6"/>
<circle cx="1851" cy="229.1" r="19.5" fill="#e4361c" stroke="#9a3a2a" stroke-width="0.7" stroke-opacity="0.6"/>
<circle cx="1845.9" cy="230" r="19.5" fill="#e4361c" stroke="#9a3a2a" stroke-width="0.7" stroke-opacity="0.6"/>
<circle cx="1840.7" cy="230.8" r="19.5" fill="#e4361c" stroke="#9a3a2a" stroke-width="0.7" stroke-opacity="0.6"/>
<circle cx="1835.6" cy="231.7" r="20.5" fill="url(#ballg2)" stroke="#e02a10" stroke-width="1.2"/>
<circle cx="1929.5" cy="224.3" r="19.5" fill="#e4361c" stroke="#9a3a2a" stroke-width="0.7" stroke-opacity="0.6"/>
<circle cx="1924.5" cy="225.8" r="19.5" fill="#e4361c" stroke="#9a3a2a" stroke-width="0.7" stroke-opacity="0.6"/>
<circle cx="1919.6" cy="227.3" r="19.5" fill="#e4361c" stroke="#9a3a2a" stroke-width="0.7" stroke-opacity="0.6"/>
<circle cx="1914.6" cy="228.8" r="19.5" fill="#e4361c" stroke="#9a3a2a" stroke-width="0.7" stroke-opacity="0.6"/>
<circle cx="1909.6" cy="230.2" r="19.5" fill="#e4361c" stroke="#9a3a2a" stroke-width="0.7" stroke-opacity="0.6"/>
<circle cx="1904.6" cy="231.7" r="20.5" fill="url(#ballg2)" stroke="#e02a10" stroke-width="1.2"/>
<circle cx="2013.7" cy="218.1" r="19.5" fill="#e4361c" stroke="#9a3a2a" stroke-width="0.7" stroke-opacity="0.6"/>
<circle cx="2018" cy="221.1" r="19.5" fill="#e4361c" stroke="#9a3a2a" stroke-width="0.7" stroke-opacity="0.6"/>
<circle cx="2022.2" cy="224.1" r="19.5" fill="#e4361c" stroke="#9a3a2a" stroke-width="0.7" stroke-opacity="0.6"/>
<circle cx="2026.5" cy="227" r="19.5" fill="#e4361c" stroke="#9a3a2a" stroke-width="0.7" stroke-opacity="0.6"/>
<circle cx="2030.7" cy="230" r="19.5" fill="#e4361c" stroke="#9a3a2a" stroke-width="0.7" stroke-opacity="0.6"/>
<circle cx="2035" cy="233" r="20.5" fill="url(#ballg2)" stroke="#e02a10" stroke-width="1.2"/>
<circle cx="2077.2" cy="226.4" r="19.5" fill="#e4361c" stroke="#9a3a2a" stroke-width="0.7" stroke-opacity="0.6"/>
<circle cx="2082.3" cy="227.8" r="19.5" fill="#e4361c" stroke="#9a3a2a" stroke-width="0.7" stroke-opacity="0.6"/>
<circle cx="2087.3" cy="229.1" r="19.5" fill="#e4361c" stroke="#9a3a2a" stroke-width="0.7" stroke-opacity="0.6"/>
<circle cx="2092.3" cy="230.4" r="19.5" fill="#e4361c" stroke="#9a3a2a" stroke-width="0.7" stroke-opacity="0.6"/>
<circle cx="2097.4" cy="231.7" r="19.5" fill="#e4361c" stroke="#9a3a2a" stroke-width="0.7" stroke-opacity="0.6"/>
<circle cx="2102.4" cy="233" r="20.5" fill="url(#ballg2)" stroke="#e02a10" stroke-width="1.2"/>
<circle cx="1890.8" cy="275.4" r="19.5" fill="#e4361c" stroke="#9a3a2a" stroke-width="0.7" stroke-opacity="0.6"/>
<circle cx="1886.5" cy="278.3" r="19.5" fill="#e4361c" stroke="#9a3a2a" stroke-width="0.7" stroke-opacity="0.6"/>
<circle cx="1882.2" cy="281.3" r="19.5" fill="#e4361c" stroke="#9a3a2a" stroke-width="0.7" stroke-opacity="0.6"/>
<circle cx="1877.9" cy="284.2" r="19.5" fill="#e4361c" stroke="#9a3a2a" stroke-width="0.7" stroke-opacity="0.6"/>
<circle cx="1873.6" cy="287.1" r="19.5" fill="#e4361c" stroke="#9a3a2a" stroke-width="0.7" stroke-opacity="0.6"/>
<circle cx="1869.3" cy="290" r="20.5" fill="url(#ballg2)" stroke="#e02a10" stroke-width="1.2"/>
<circle cx="1951.5" cy="268.5" r="19.5" fill="#e4361c" stroke="#9a3a2a" stroke-width="0.7" stroke-opacity="0.6"/>
<circle cx="1948.6" cy="272.8" r="19.5" fill="#e4361c" stroke="#9a3a2a" stroke-width="0.7" stroke-opacity="0.6"/>
<circle cx="1945.6" cy="277.1" r="19.5" fill="#e4361c" stroke="#9a3a2a" stroke-width="0.7" stroke-opacity="0.6"/>
<circle cx="1942.7" cy="281.4" r="19.5" fill="#e4361c" stroke="#9a3a2a" stroke-width="0.7" stroke-opacity="0.6"/>
<circle cx="1939.7" cy="285.7" r="19.5" fill="#e4361c" stroke="#9a3a2a" stroke-width="0.7" stroke-opacity="0.6"/>
<circle cx="1936.8" cy="290" r="20.5" fill="url(#ballg2)" stroke="#e02a10" stroke-width="1.2"/>
<circle cx="2054.3" cy="270.7" r="19.5" fill="#e4361c" stroke="#9a3a2a" stroke-width="0.7" stroke-opacity="0.6"/>
<circle cx="2057.8" cy="274.6" r="19.5" fill="#e4361c" stroke="#9a3a2a" stroke-width="0.7" stroke-opacity="0.6"/>
<circle cx="2061.2" cy="278.4" r="19.5" fill="#e4361c" stroke="#9a3a2a" stroke-width="0.7" stroke-opacity="0.6"/>
<circle cx="2064.7" cy="282.3" r="19.5" fill="#e4361c" stroke="#9a3a2a" stroke-width="0.7" stroke-opacity="0.6"/>
<circle cx="2068.2" cy="286.1" r="19.5" fill="#e4361c" stroke="#9a3a2a" stroke-width="0.7" stroke-opacity="0.6"/>
<circle cx="2071.7" cy="290" r="20.5" fill="url(#ballg2)" stroke="#e02a10" stroke-width="1.2"/>
<circle cx="2115.2" cy="275.4" r="19.5" fill="#e4361c" stroke="#9a3a2a" stroke-width="0.7" stroke-opacity="0.6"/>
<circle cx="2119.7" cy="278" r="19.5" fill="#e4361c" stroke="#9a3a2a" stroke-width="0.7" stroke-opacity="0.6"/>
<circle cx="2124.1" cy="280.6" r="19.5" fill="#e4361c" stroke="#9a3a2a" stroke-width="0.7" stroke-opacity="0.6"/>
<circle cx="2128.6" cy="283.2" r="19.5" fill="#e4361c" stroke="#9a3a2a" stroke-width="0.7" stroke-opacity="0.6"/>
<circle cx="2133.1" cy="285.9" r="19.5" fill="#e4361c" stroke="#9a3a2a" stroke-width="0.7" stroke-opacity="0.6"/>
<circle cx="2137.6" cy="288.5" r="20.5" fill="url(#ballg2)" stroke="#e02a10" stroke-width="1.2"/>
<line x1="160" y1="725" x2="390" y2="725" stroke="#555" stroke-width="3"/>
<path d="M165,719 L390,719 M165,731 L390,731" fill="none" stroke="#888" stroke-width="1.5" stroke-dasharray="3 2"/>
<polygon points="301,725 287.5,748.4 260.5,748.4 247,725 260.5,701.6 287.5,701.6" fill="#2a2af0" stroke="#555" stroke-width="4"/>
<polygon points="269,703 292,720 279,747" fill="#5a5aff" opacity="0.6"/>
<circle cx="258" cy="693" r="7" fill="#f0f0f0" stroke="#999" stroke-width="1.5"/>
<circle cx="290" cy="693" r="7" fill="#f0f0f0" stroke="#999" stroke-width="1.5"/>
<circle cx="258" cy="757" r="7" fill="#f0f0f0" stroke="#999" stroke-width="1.5"/>
<circle cx="290" cy="757" r="7" fill="#f0f0f0" stroke="#999" stroke-width="1.5"/>
<circle cx="205" cy="725" r="7" fill="#f0f0f0" stroke="#999" stroke-width="1.5"/>
<circle cx="345" cy="725" r="7" fill="#f0f0f0" stroke="#999" stroke-width="1.5"/>
<circle cx="232" cy="725" r="7" fill="#f0f0f0" stroke="#999" stroke-width="1.5"/>
<circle cx="318" cy="725" r="7" fill="#f0f0f0" stroke="#999" stroke-width="1.5"/>
<circle cx="167" cy="725" r="8.5" fill="#2030f0"/>
<circle cx="385" cy="725" r="8.5" fill="#2030f0"/>
<polygon points="590.4,731.6 574.4,759.3 542.4,759.3 526.4,731.6 542.4,703.9 574.4,703.9" fill="none" stroke="#777" stroke-width="2"/>
<path d="M571.5,754.3 L545.3,754.3 M545.3,708.9 L571.5,708.9" fill="none" stroke="#888" stroke-width="1.5"/>
<line x1="526" y1="731.6" x2="504" y2="731.6" stroke="#777" stroke-width="1.8"/>
<path d="M470,727.6 L504,727.6 M470,731.6 L504,731.6 M470,735.6 L504,735.6" fill="none" stroke="#888" stroke-width="1.4"/>
<line x1="590" y1="731.6" x2="612" y2="731.6" stroke="#777" stroke-width="1.8"/>
<path d="M612,727.6 L646,727.6 M612,731.6 L646,731.6 M612,735.6 L646,735.6" fill="none" stroke="#888" stroke-width="1.4"/>
<text x="458" y="736" font-size="11" fill="#666" font-style="italic">//</text>
<text x="648" y="736" font-size="11" fill="#666" font-style="italic">//</text>
<path d="M939,727 C937.8,712 941.5,702 946.5,693.2 M939,727 C940.2,742 944,749.5 942.8,762 M939,727 C929,725.8 921.5,724.5 914,730.8 M939,727 C949,730.8 959,728.2 969,725.8 " fill="none" stroke="#ee5a64" stroke-width="2"/>
<circle cx="946.5" cy="693.2" r="4" fill="#e8303a"/>
<circle cx="942.8" cy="762" r="4" fill="#e8303a"/>
<circle cx="914" cy="730.8" r="4" fill="#e8303a"/>
<circle cx="969" cy="725.8" r="4" fill="#e8303a"/>
<path d="M1072.4,691 L1082.3,705.8 L1103.7,697.6 L1121.8,714 L1131,711 M1175,712 L1187.6,715.7 L1205.7,702.5 L1223.8,707.4 L1236,694 M1072.4,758.4 L1082.3,745.3 L1103.7,753.5 L1121.8,735.4 L1131,738 M1175,738 L1187.6,735.4 L1205.7,751.8 L1223.8,745.3 L1236,757 M1145,715 L1150,720 M1161,715 L1156,720 M1145,736 L1150,731 M1161,736 L1156,731" fill="none" stroke="#6a6a6a" stroke-width="1.7"/>
<g font-size="12" fill="#555" font-family='Liberation Sans'>
<text x="1046" y="699">H<tspan font-size="8">3</tspan>C</text><text x="1046" y="767">H<tspan font-size="8">3</tspan>C</text>
<text x="1234" y="699">CH<tspan font-size="8">3</tspan></text><text x="1234" y="767">CH<tspan font-size="8">3</tspan></text>
<text x="1131" y="716" font-size="15">O</text><text x="1162" y="716" font-size="15">O</text><text x="1131" y="746" font-size="15">O</text><text x="1162" y="746" font-size="15">O</text><text x="1147" y="731" font-size="12">Ti</text>
</g>
<circle cx="1575.4" cy="726" r="29.8" fill="url(#redsph)" stroke="#803030" stroke-width="1.5"/>
<clipPath id="semc"><rect x="73.8" y="837.6" width="464.8" height="345.9"/></clipPath>
<g clip-path="url(#semc)">
<rect x="73.8" y="837.6" width="464.8" height="345.9" fill="#000" filter="url(#semBase)"/>
<ellipse cx="184.4" cy="1025.8" rx="21.6" ry="13.2" fill="#5e5e5e" transform="rotate(17 184.4 1025.8)" opacity="0.45" filter="url(#blur2)"/>
<ellipse cx="79.9" cy="1127.3" rx="18.7" ry="8.8" fill="#a4a4a4" transform="rotate(9 79.9 1127.3)" opacity="0.45" filter="url(#blur2)"/>
<ellipse cx="462.6" cy="1002.4" rx="28.6" ry="7.8" fill="#666" transform="rotate(51 462.6 1002.4)" opacity="0.45" filter="url(#blur2)"/>
<ellipse cx="504.1" cy="972.5" rx="12.4" ry="15.3" fill="#666" transform="rotate(37 504.1 972.5)" opacity="0.45" filter="url(#blur2)"/>
<ellipse cx="518.8" cy="852.4" rx="32.3" ry="15.9" fill="#9a9a9a" transform="rotate(0 518.8 852.4)" opacity="0.45" filter="url(#blur2)"/>
<ellipse cx="350.2" cy="1155.9" rx="22.1" ry="15.5" fill="#a4a4a4" transform="rotate(-10 350.2 1155.9)" opacity="0.45" filter="url(#blur2)"/>
<ellipse cx="412.2" cy="1037.2" rx="37.1" ry="7.6" fill="#9a9a9a" transform="rotate(-48 412.2 1037.2)" opacity="0.45" filter="url(#blur2)"/>
<ellipse cx="90.5" cy="1008.8" rx="18.7" ry="14.1" fill="#9a9a9a" transform="rotate(-7 90.5 1008.8)" opacity="0.45" filter="url(#blur2)"/>
<ellipse cx="309.6" cy="971.1" rx="21.1" ry="13" fill="#666" transform="rotate(55 309.6 971.1)" opacity="0.45" filter="url(#blur2)"/>
<ellipse cx="230.3" cy="1154.4" rx="12.7" ry="9.4" fill="#666" transform="rotate(29 230.3 1154.4)" opacity="0.45" filter="url(#blur2)"/>
<ellipse cx="473.8" cy="1171.3" rx="35.5" ry="12.8" fill="#666" transform="rotate(21 473.8 1171.3)" opacity="0.45" filter="url(#blur2)"/>
<ellipse cx="460.3" cy="1036" rx="19.4" ry="6.8" fill="#a4a4a4" transform="rotate(-49 460.3 1036)" opacity="0.45" filter="url(#blur2)"/>
<ellipse cx="233.7" cy="860.6" rx="35.3" ry="6.2" fill="#a4a4a4" transform="rotate(38 233.7 860.6)" opacity="0.45" filter="url(#blur2)"/>
<ellipse cx="266.8" cy="878.7" rx="27.7" ry="15.1" fill="#a4a4a4" transform="rotate(31 266.8 878.7)" opacity="0.45" filter="url(#blur2)"/>
<ellipse cx="346.3" cy="1028.1" rx="36" ry="9.3" fill="#666" transform="rotate(-56 346.3 1028.1)" opacity="0.45" filter="url(#blur2)"/>
<ellipse cx="217.7" cy="864.2" rx="27.6" ry="6.4" fill="#666" transform="rotate(-8 217.7 864.2)" opacity="0.45" filter="url(#blur2)"/>
<ellipse cx="209.3" cy="928.7" rx="29.9" ry="17.8" fill="#9a9a9a" transform="rotate(-20 209.3 928.7)" opacity="0.45" filter="url(#blur2)"/>
<ellipse cx="241.2" cy="885.4" rx="34.4" ry="10.5" fill="#a4a4a4" transform="rotate(22 241.2 885.4)" opacity="0.45" filter="url(#blur2)"/>
<ellipse cx="476.7" cy="1073.1" rx="14.7" ry="17.7" fill="#9a9a9a" transform="rotate(-5 476.7 1073.1)" opacity="0.45" filter="url(#blur2)"/>
<ellipse cx="368.6" cy="1085.1" rx="36.3" ry="11.2" fill="#9a9a9a" transform="rotate(6 368.6 1085.1)" opacity="0.45" filter="url(#blur2)"/>
<ellipse cx="214.6" cy="954.8" rx="32.5" ry="17.8" fill="#9a9a9a" transform="rotate(-58 214.6 954.8)" opacity="0.45" filter="url(#blur2)"/>
<ellipse cx="248.8" cy="1041.4" rx="15.5" ry="13.6" fill="#9a9a9a" transform="rotate(-1 248.8 1041.4)" opacity="0.45" filter="url(#blur2)"/>
<ellipse cx="237.8" cy="1154.9" rx="27.8" ry="9.3" fill="#a4a4a4" transform="rotate(-58 237.8 1154.9)" opacity="0.45" filter="url(#blur2)"/>
<ellipse cx="347.7" cy="1167.9" rx="12.6" ry="10.4" fill="#a4a4a4" transform="rotate(-22 347.7 1167.9)" opacity="0.45" filter="url(#blur2)"/>
<ellipse cx="349.3" cy="948.3" rx="21.5" ry="9.8" fill="#9a9a9a" transform="rotate(48 349.3 948.3)" opacity="0.45" filter="url(#blur2)"/>
<ellipse cx="350.6" cy="941.5" rx="21.8" ry="15.3" fill="#5e5e5e" transform="rotate(12 350.6 941.5)" opacity="0.45" filter="url(#blur2)"/>
<polygon points="440,880 490,868 538,852 538,905 500,915 460,925 430,930" fill="#bcbcbc" opacity="0.7" filter="url(#blur2)"/>
<polygon points="74,915 140,905 222,925 230,1000 180,1025 74,1030" fill="#a2a2a2" opacity="0.35" filter="url(#blur2)"/>
<polygon points="395,935 430,925 470,915 500,900 538,890 538,1005 500,1000 460,990 420,975 398,960" fill="#5c5c5c" opacity="0.6" filter="url(#blur2)"/>
<polygon points="323,1000 345,995 358,1030 350,1062 330,1067 322,1030" fill="#4a4a4a" opacity="0.7" filter="url(#blur2)"/>
<polygon points="170,950 215,945 222,1005 180,1011" fill="#666" opacity="0.4" filter="url(#blur2)"/>
<polygon points="414,1124 450,1118 481,1130 470,1149 420,1148" fill="#555" opacity="0.5" filter="url(#blur2)"/>
<polygon points="250,900 330,890 370,930 300,960 255,945" fill="#6a6a6a" opacity="0.35" filter="url(#blur2)"/>
<rect x="73.8" y="837.6" width="464.8" height="345.9" fill="#000" filter="url(#semNet)" opacity="0.35"/>
<rect x="73.8" y="837.6" width="464.8" height="345.9" fill="#000" filter="url(#semNoise)" opacity="0.7"/>
</g>
<rect x="82.5" y="1033.5" width="181" height="142" fill="#626262" stroke="#222" stroke-width="3"/>
<polygon points="83.9,1119 98.7,1099.5 116,1082 135.7,1055 155.4,1042.7 177.6,1039 202.3,1052.6 231.9,1056.3 256.5,1065 262,1075 262,1109 251.6,1134 222,1156 177.6,1172 160.3,1161 135.7,1148.8 111,1144 83.9,1131.5" fill="#a4a4a4" stroke="#d4d4d4" stroke-width="2.5" stroke-linejoin="round"/>
<polygon points="150,1075 200,1068 240,1085 250,1110 230,1135 190,1150 150,1140 125,1115" fill="#9a9a9a"/>
<path d="M100,1105 C130,1095 150,1090 175,1060 M160,1100 C190,1085 220,1090 255,1100 M120,1140 C150,1120 180,1125 215,1150" fill="none" stroke="#c4c4c4" stroke-width="1.6"/>
<circle cx="175" cy="1110" r="2" fill="#eee"/>
<rect x="348.5" y="1165.4" width="176" height="15" fill="#fff"/>
<text x="473" y="1159.7" font-size="22.3" fill="#fff" font-weight="normal" textLength="49" lengthAdjust="spacingAndGlyphs">2 μm</text>
<text x="82.2" y="902.2" font-size="73" fill="#fff" font-weight="bold" textLength="94.2" lengthAdjust="spacingAndGlyphs">(b)</text>
<clipPath id="temc"><rect x="73.8" y="1213.4" width="464.1" height="409"/></clipPath>
<g clip-path="url(#temc)">
<rect x="73.8" y="1213.4" width="464.1" height="409" fill="#8c8c8c"/>
<g filter="url(#blobF)">
<ellipse cx="220" cy="1285" rx="85" ry="45" fill="#2a2a2a" opacity="0.75"/>
<ellipse cx="140" cy="1260" rx="50" ry="30" fill="#404040" opacity="0.5"/>
<ellipse cx="150" cy="1495" rx="75" ry="55" fill="#333" opacity="0.75"/>
<ellipse cx="385" cy="1505" rx="95" ry="60" fill="#111" opacity="0.9"/>
<ellipse cx="300" cy="1585" rx="80" ry="40" fill="#2a2a2a" opacity="0.7"/>
<ellipse cx="440" cy="1310" rx="50" ry="35" fill="#3a3a3a" opacity="0.6"/>
<ellipse cx="100" cy="1615" rx="50" ry="30" fill="#2a2a2a" opacity="0.7"/>
<ellipse cx="525" cy="1420" rx="30" ry="70" fill="#3a3a3a" opacity="0.55"/>
<ellipse cx="300" cy="1440" rx="60" ry="35" fill="#3a3a3a" opacity="0.35"/>
<ellipse cx="250" cy="1410" rx="110" ry="30" fill="#d0d0d0" opacity="0.7"/>
<ellipse cx="470" cy="1440" rx="55" ry="50" fill="#cfcfcf" opacity="0.6"/>
<ellipse cx="110" cy="1400" rx="45" ry="30" fill="#c0c0c0" opacity="0.55"/>
<ellipse cx="440" cy="1250" rx="80" ry="25" fill="#c8c8c8" opacity="0.6"/>
<ellipse cx="330" cy="1230" rx="60" ry="18" fill="#c0c0c0" opacity="0.4"/>
<ellipse cx="480" cy="1560" rx="40" ry="40" fill="#b0b0b0" opacity="0.4"/>
</g>
<rect x="73.8" y="1213.4" width="464.1" height="409" filter="url(#temNoise)" opacity="0.55" style="mix-blend-mode:overlay"/>
</g>
<ellipse cx="434.5" cy="1307.8" rx="60.5" ry="44" fill="none" stroke="#22ee22" stroke-width="3.2" stroke-dasharray="30 3" transform="rotate(-18 434.5 1307.8)"/>
<ellipse cx="150.4" cy="1492" rx="76" ry="55" fill="none" stroke="#ff22dd" stroke-width="3.2" stroke-dasharray="16 5" transform="rotate(22 150.4 1492)"/>
<g clip-path="url(#temc)"><ellipse cx="300" cy="1579" rx="69" ry="48" fill="none" stroke="#ff22dd" stroke-width="3.2" stroke-dasharray="16 5" transform="rotate(12 300 1579)"/></g>
<text x="368" y="1253.8" font-size="36.3" fill="#22e022" font-weight="normal" textLength="133.3" lengthAdjust="spacingAndGlyphs">Anatase</text>
<text x="97" y="1422" font-size="35.8" fill="#ff2ee0" font-weight="normal" textLength="97.8" lengthAdjust="spacingAndGlyphs">Rutile</text>
<text x="259.4" y="1519" font-size="35.5" fill="#ff2ee0" font-weight="normal" textLength="93.3" lengthAdjust="spacingAndGlyphs">Rutile</text>
<rect x="393" y="1599.5" width="129" height="13.5" fill="#fff"/>
<text x="447" y="1593.8" font-size="22.3" fill="#fff" font-weight="normal" textLength="73.4" lengthAdjust="spacingAndGlyphs" opacity="0.85">10 nm</text>
<text x="597" y="902.5" font-size="72" fill="#000" font-weight="bold" textLength="89.7" lengthAdjust="spacingAndGlyphs">(c)</text>
<path d="M680,1510 L680,1077.4 L681.7,1091.8 L683.4,1120.6 L685.6,1156.6 L687.9,1185.4 L690.2,1198 L693.5,1204.1 L700.3,1208.8 L708.2,1211.7 L736.4,1217.1 L770.3,1221.4 L792.9,1223.2 L815.5,1226.8 L849.3,1239.4 L867.4,1246.6 L890,1257.4 L922.7,1275.4 L954.3,1292 L984.8,1307.8 L1017.5,1326.9 L1042.4,1334.8 L1075.1,1339.5 L1131.6,1342 L1244.5,1346 L1357.4,1351 L1470.2,1355.3 L1538,1359.6 L1566.2,1362.5 L1583.1,1365.4 L1600.1,1369 L1617,1374.4 L1639.6,1381.6 L1667.8,1394.2 L1696,1407.2 L1752.5,1431.6 L1808.9,1454 L1854.1,1471.6 L1858,1473.4 L1861.4,1473.4 L1863.1,1444.6 L1865.4,1394.2 L1867.6,1358.2 L1871,1329.4 L1874.4,1315 L1880,1304.2 L1887.9,1297 L1904.9,1292.3 L1933.1,1289.8 L1978.3,1287.6 L2034.7,1285.1 L2034.5,1510 Z" fill="url(#capg)" stroke="none" stroke-width="1"/>
<line x1="680" y1="960" x2="680" y2="1510" stroke="#666" stroke-width="2"/>
<path d="M680,955 L675.5,972 L680,968 L684.5,972 Z" fill="#222"/>
<line x1="2034.5" y1="960" x2="2034.5" y2="1510" stroke="#777" stroke-width="2"/>
<path d="M2034.5,955 L2030,972 L2034.5,968 L2039,972 Z" fill="#222"/>
<line x1="679" y1="1510" x2="2035.5" y2="1510" stroke="#444" stroke-width="2"/>
<line x1="673.5" y1="1041.4" x2="680" y2="1041.4" stroke="#555" stroke-width="1.8"/>
<line x1="676.5" y1="1077.4" x2="680" y2="1077.4" stroke="#555" stroke-width="1.6"/>
<text x="627" y="1052.3" font-size="40.1" fill="#333" font-weight="normal" textLength="41.4" lengthAdjust="spacingAndGlyphs">2.9</text>
<line x1="673.5" y1="1113.4" x2="680" y2="1113.4" stroke="#555" stroke-width="1.8"/>
<line x1="676.5" y1="1149.4" x2="680" y2="1149.4" stroke="#555" stroke-width="1.6"/>
<text x="627" y="1124.3" font-size="40.1" fill="#333" font-weight="normal" textLength="41.4" lengthAdjust="spacingAndGlyphs">2.7</text>
<line x1="673.5" y1="1185.4" x2="680" y2="1185.4" stroke="#555" stroke-width="1.8"/>
<line x1="676.5" y1="1221.4" x2="680" y2="1221.4" stroke="#555" stroke-width="1.6"/>
<text x="627" y="1196.3" font-size="40.1" fill="#333" font-weight="normal" textLength="41.4" lengthAdjust="spacingAndGlyphs">2.5</text>
<line x1="673.5" y1="1257.4" x2="680" y2="1257.4" stroke="#555" stroke-width="1.8"/>
<line x1="676.5" y1="1293.4" x2="680" y2="1293.4" stroke="#555" stroke-width="1.6"/>
<text x="627" y="1268.3" font-size="40.1" fill="#333" font-weight="normal" textLength="41.4" lengthAdjust="spacingAndGlyphs">2.3</text>
<line x1="673.5" y1="1329.4" x2="680" y2="1329.4" stroke="#555" stroke-width="1.8"/>
<line x1="676.5" y1="1365.4" x2="680" y2="1365.4" stroke="#555" stroke-width="1.6"/>
<text x="627" y="1340.3" font-size="40.1" fill="#333" font-weight="normal" textLength="41.4" lengthAdjust="spacingAndGlyphs">2.1</text>
<line x1="673.5" y1="1401.4" x2="680" y2="1401.4" stroke="#555" stroke-width="1.8"/>
<line x1="676.5" y1="1437.4" x2="680" y2="1437.4" stroke="#555" stroke-width="1.6"/>
<text x="627" y="1412.3" font-size="40.1" fill="#333" font-weight="normal" textLength="41.4" lengthAdjust="spacingAndGlyphs">1.9</text>
<line x1="673.5" y1="1473.4" x2="680" y2="1473.4" stroke="#555" stroke-width="1.8"/>
<line x1="676.5" y1="1509.4" x2="680" y2="1509.4" stroke="#555" stroke-width="1.6"/>
<text x="627" y="1484.3" font-size="40.1" fill="#333" font-weight="normal" textLength="41.4" lengthAdjust="spacingAndGlyphs">1.7</text>
<line x1="676.5" y1="1005.4" x2="680" y2="1005.4" stroke="#555" stroke-width="1.6"/>
<line x1="2028.5" y1="1006.6" x2="2034.5" y2="1006.6" stroke="#555" stroke-width="2"/>
<text x="2043" y="1016.6" font-size="40.1" fill="#333" font-weight="normal" textLength="57.2" lengthAdjust="spacingAndGlyphs">-1.0</text>
<line x1="2028.5" y1="1090.4" x2="2034.5" y2="1090.4" stroke="#555" stroke-width="2"/>
<text x="2043" y="1100.4" font-size="40.1" fill="#333" font-weight="normal" textLength="57.2" lengthAdjust="spacingAndGlyphs">-1.5</text>
<line x1="2028.5" y1="1174.2" x2="2034.5" y2="1174.2" stroke="#555" stroke-width="2"/>
<text x="2043" y="1184.2" font-size="40.1" fill="#333" font-weight="normal" textLength="57.2" lengthAdjust="spacingAndGlyphs">-2.0</text>
<line x1="2028.5" y1="1258" x2="2034.5" y2="1258" stroke="#555" stroke-width="2"/>
<text x="2043" y="1268" font-size="40.1" fill="#333" font-weight="normal" textLength="57.2" lengthAdjust="spacingAndGlyphs">-2.5</text>
<line x1="2028.5" y1="1341.8" x2="2034.5" y2="1341.8" stroke="#555" stroke-width="2"/>
<text x="2043" y="1351.8" font-size="40.1" fill="#333" font-weight="normal" textLength="57.2" lengthAdjust="spacingAndGlyphs">-3.0</text>
<line x1="2028.5" y1="1425.6" x2="2034.5" y2="1425.6" stroke="#555" stroke-width="2"/>
<text x="2043" y="1435.6" font-size="40.1" fill="#333" font-weight="normal" textLength="57.2" lengthAdjust="spacingAndGlyphs">-3.5</text>
<line x1="2028.5" y1="1509.4" x2="2034.5" y2="1509.4" stroke="#555" stroke-width="2"/>
<text x="2043" y="1519.4" font-size="40.1" fill="#333" font-weight="normal" textLength="57.2" lengthAdjust="spacingAndGlyphs">-4.0</text>
<line x1="680" y1="1510" x2="680" y2="1518.5" stroke="#555" stroke-width="1.8"/>
<line x1="736.4" y1="1510" x2="736.4" y2="1514.5" stroke="#555" stroke-width="1.6"/>
<text x="670.5" y="1555.3" font-size="40.1" fill="#333" font-weight="normal" textLength="19" lengthAdjust="spacingAndGlyphs">0</text>
<line x1="792.9" y1="1510" x2="792.9" y2="1518.5" stroke="#555" stroke-width="1.8"/>
<line x1="849.3" y1="1510" x2="849.3" y2="1514.5" stroke="#555" stroke-width="1.6"/>
<text x="765.4" y="1555.3" font-size="40.1" fill="#333" font-weight="normal" textLength="55" lengthAdjust="spacingAndGlyphs">100</text>
<line x1="905.8" y1="1510" x2="905.8" y2="1518.5" stroke="#555" stroke-width="1.8"/>
<line x1="962.2" y1="1510" x2="962.2" y2="1514.5" stroke="#555" stroke-width="1.6"/>
<text x="878.3" y="1555.3" font-size="40.1" fill="#333" font-weight="normal" textLength="55" lengthAdjust="spacingAndGlyphs">200</text>
<line x1="1018.7" y1="1510" x2="1018.7" y2="1518.5" stroke="#555" stroke-width="1.8"/>
<line x1="1075.1" y1="1510" x2="1075.1" y2="1514.5" stroke="#555" stroke-width="1.6"/>
<text x="991.2" y="1555.3" font-size="40.1" fill="#333" font-weight="normal" textLength="55" lengthAdjust="spacingAndGlyphs">300</text>
<line x1="1131.6" y1="1510" x2="1131.6" y2="1518.5" stroke="#555" stroke-width="1.8"/>
<line x1="1188" y1="1510" x2="1188" y2="1514.5" stroke="#555" stroke-width="1.6"/>
<text x="1104.1" y="1555.3" font-size="40.1" fill="#333" font-weight="normal" textLength="55" lengthAdjust="spacingAndGlyphs">400</text>
<line x1="1244.5" y1="1510" x2="1244.5" y2="1518.5" stroke="#555" stroke-width="1.8"/>
<line x1="1300.9" y1="1510" x2="1300.9" y2="1514.5" stroke="#555" stroke-width="1.6"/>
<text x="1217" y="1555.3" font-size="40.1" fill="#333" font-weight="normal" textLength="55" lengthAdjust="spacingAndGlyphs">500</text>
<line x1="1357.4" y1="1510" x2="1357.4" y2="1518.5" stroke="#555" stroke-width="1.8"/>
<line x1="1413.8" y1="1510" x2="1413.8" y2="1514.5" stroke="#555" stroke-width="1.6"/>
<text x="1329.9" y="1555.3" font-size="40.1" fill="#333" font-weight="normal" textLength="55" lengthAdjust="spacingAndGlyphs">600</text>
<line x1="1470.2" y1="1510" x2="1470.2" y2="1518.5" stroke="#555" stroke-width="1.8"/>
<line x1="1526.7" y1="1510" x2="1526.7" y2="1514.5" stroke="#555" stroke-width="1.6"/>
<text x="1442.7" y="1555.3" font-size="40.1" fill="#333" font-weight="normal" textLength="55" lengthAdjust="spacingAndGlyphs">700</text>
<line x1="1583.1" y1="1510" x2="1583.1" y2="1518.5" stroke="#555" stroke-width="1.8"/>
<line x1="1639.6" y1="1510" x2="1639.6" y2="1514.5" stroke="#555" stroke-width="1.6"/>
<text x="1555.6" y="1555.3" font-size="40.1" fill="#333" font-weight="normal" textLength="55" lengthAdjust="spacingAndGlyphs">800</text>
<line x1="1696" y1="1510" x2="1696" y2="1518.5" stroke="#555" stroke-width="1.8"/>
<line x1="1752.5" y1="1510" x2="1752.5" y2="1514.5" stroke="#555" stroke-width="1.6"/>
<text x="1668.5" y="1555.3" font-size="40.1" fill="#333" font-weight="normal" textLength="55" lengthAdjust="spacingAndGlyphs">900</text>
<line x1="1808.9" y1="1510" x2="1808.9" y2="1518.5" stroke="#555" stroke-width="1.8"/>
<line x1="1865.4" y1="1510" x2="1865.4" y2="1514.5" stroke="#555" stroke-width="1.6"/>
<text x="1771.2" y="1555.3" font-size="40.1" fill="#333" font-weight="normal" textLength="75.5" lengthAdjust="spacingAndGlyphs">1000</text>
<line x1="1921.8" y1="1510" x2="1921.8" y2="1518.5" stroke="#555" stroke-width="1.8"/>
<line x1="1978.3" y1="1510" x2="1978.3" y2="1514.5" stroke="#555" stroke-width="1.6"/>
<text x="1884.1" y="1555.3" font-size="40.1" fill="#333" font-weight="normal" textLength="75.5" lengthAdjust="spacingAndGlyphs">1100</text>
<line x1="2034.7" y1="1510" x2="2034.7" y2="1518.5" stroke="#555" stroke-width="1.8"/>
<text x="1997" y="1555.3" font-size="40.1" fill="#333" font-weight="normal" textLength="75.5" lengthAdjust="spacingAndGlyphs">1200</text>
<text x="1071" y="1633.9" font-size="39.1" fill="#333" font-weight="normal" textLength="520" lengthAdjust="spacingAndGlyphs">Accumulated capacity (mAh/g)</text>
<text x="0" y="0" font-size="37.5" fill="#333" textLength="384" lengthAdjust="spacingAndGlyphs" transform="translate(595.2 1443.4) rotate(-90)">Voltage/V (vs. Li/Li<tspan font-size="24" dy="-14">+</tspan><tspan dy="14">)</tspan></text>
<text x="0" y="0" font-size="36" fill="#333" textLength="330" lengthAdjust="spacingAndGlyphs" transform="translate(2164 1421.6) rotate(-90)">Binding energy (eV)</text>
<line x1="742" y1="992" x2="1019" y2="992" stroke="#555" stroke-width="2.2"/>
<line x1="1040" y1="992" x2="1586" y2="992" stroke="#555" stroke-width="2.2"/>
<circle cx="742" cy="992" r="5.2" fill="#fff" stroke="#555" stroke-width="2"/>
<circle cx="1019" cy="992" r="5.2" fill="#fff" stroke="#555" stroke-width="2"/>
<circle cx="1040" cy="992" r="5.2" fill="#fff" stroke="#555" stroke-width="2"/>
<circle cx="1586" cy="992" r="5.2" fill="#fff" stroke="#555" stroke-width="2"/>
<line x1="732" y1="947" x2="732" y2="1070" stroke="#888" stroke-width="1.4" stroke-dasharray="2 2"/>
<line x1="1024" y1="938" x2="1024" y2="1067" stroke="#888" stroke-width="1.4" stroke-dasharray="2 2"/>
<line x1="1029" y1="938" x2="1029" y2="1067" stroke="#888" stroke-width="1.4" stroke-dasharray="2 2"/>
<line x1="1591" y1="953" x2="1591" y2="1067" stroke="#888" stroke-width="1.4" stroke-dasharray="2 2"/>
<linearGradient id="rutg" x1="0" y1="0" x2="1" y2="1"><stop offset="0" stop-color="#5c92e2"/><stop offset="0.5" stop-color="#2c5cc8"/><stop offset="1" stop-color="#16349a"/></linearGradient>
<rect x="791.6" y="893.4" width="26.9" height="24.3" fill="#2a50b8"/>
<line x1="791.6" y1="917.6" x2="818.4" y2="893.4" stroke="#9050c0" stroke-width="1.2"/>
<line x1="791.6" y1="893.4" x2="818.4" y2="917.6" stroke="#9050c0" stroke-width="1.2"/>
<rect x="763" y="867" width="34.4" height="28.3" fill="url(#rutg)"/>
<polygon points="763,867 778.5,867 763,882.6" fill="#7aaaf0" opacity="0.5"/>
<line x1="765" y1="893.4" x2="795.4" y2="869" stroke="#d83040" stroke-width="1.5"/>
<line x1="780.2" y1="881.2" x2="795.4" y2="893.4" stroke="#a03050" stroke-width="1"/>
<circle cx="764" cy="868" r="1.9" fill="#e02828"/>
<circle cx="796.4" cy="868" r="1.9" fill="#e02828"/>
<circle cx="764" cy="894.4" r="1.9" fill="#e02828"/>
<circle cx="796.4" cy="894.4" r="1.9" fill="#e02828"/>
<circle cx="788.8" cy="874.1" r="1.9" fill="#e02828"/>
<circle cx="771.6" cy="888.3" r="1.9" fill="#e02828"/>
<rect x="812.6" y="867" width="34.4" height="28.3" fill="url(#rutg)"/>
<polygon points="812.6,867 828.1,867 812.6,882.6" fill="#7aaaf0" opacity="0.5"/>
<line x1="814.6" y1="893.4" x2="845" y2="869" stroke="#d83040" stroke-width="1.5"/>
<line x1="829.8" y1="881.2" x2="845" y2="893.4" stroke="#a03050" stroke-width="1"/>
<circle cx="813.6" cy="868" r="1.9" fill="#e02828"/>
<circle cx="846" cy="868" r="1.9" fill="#e02828"/>
<circle cx="813.6" cy="894.4" r="1.9" fill="#e02828"/>
<circle cx="846" cy="894.4" r="1.9" fill="#e02828"/>
<circle cx="838.4" cy="874.1" r="1.9" fill="#e02828"/>
<circle cx="821.2" cy="888.3" r="1.9" fill="#e02828"/>
<rect x="763" y="916.6" width="34.4" height="28.3" fill="url(#rutg)"/>
<polygon points="763,916.6 778.5,916.6 763,932.2" fill="#7aaaf0" opacity="0.5"/>
<line x1="765" y1="943" x2="795.4" y2="918.6" stroke="#d83040" stroke-width="1.5"/>
<line x1="780.2" y1="930.8" x2="795.4" y2="943" stroke="#a03050" stroke-width="1"/>
<circle cx="764" cy="917.6" r="1.9" fill="#e02828"/>
<circle cx="796.4" cy="917.6" r="1.9" fill="#e02828"/>
<circle cx="764" cy="944" r="1.9" fill="#e02828"/>
<circle cx="796.4" cy="944" r="1.9" fill="#e02828"/>
<circle cx="788.8" cy="923.7" r="1.9" fill="#e02828"/>
<circle cx="771.6" cy="937.9" r="1.9" fill="#e02828"/>
<rect x="812.6" y="916.6" width="34.4" height="28.3" fill="url(#rutg)"/>
<polygon points="812.6,916.6 828.1,916.6 812.6,932.2" fill="#7aaaf0" opacity="0.5"/>
<line x1="814.6" y1="943" x2="845" y2="918.6" stroke="#d83040" stroke-width="1.5"/>
<line x1="829.8" y1="930.8" x2="845" y2="943" stroke="#a03050" stroke-width="1"/>
<circle cx="813.6" cy="917.6" r="1.9" fill="#e02828"/>
<circle cx="846" cy="917.6" r="1.9" fill="#e02828"/>
<circle cx="813.6" cy="944" r="1.9" fill="#e02828"/>
<circle cx="846" cy="944" r="1.9" fill="#e02828"/>
<circle cx="838.4" cy="923.7" r="1.9" fill="#e02828"/>
<circle cx="821.2" cy="937.9" r="1.9" fill="#e02828"/>
<polygon points="933,907 946,884 979,880 1014,884 1020,910 1012,937 994,952 969,954 946,937 932,920" fill="#2a4cb0"/>
<polygon points="948.7,923 955.9,936.6 949.5,929.6" fill="#dff0ff" opacity="0.92"/>
<polygon points="997.1,875.3 1005.9,896.3 1004.3,883.2" fill="#5a8ee0" opacity="0.92"/>
<polygon points="985.2,879.1 993.7,883.8 978.8,892.2" fill="#3060c8" opacity="0.92"/>
<polygon points="1004.4,883.7 995,888 1000.2,890.5" fill="#3060c8" opacity="0.92"/>
<polygon points="1009.3,904.8 1005.7,900 1004.8,887.4" fill="#6a2aa0" opacity="0.92"/>
<polygon points="974.1,910.3 976.8,918.1 980.7,906.2" fill="#6a2aa0" opacity="0.92"/>
<polygon points="970.3,893.3 966.9,885.6 967.7,889.6" fill="#dff0ff" opacity="0.92"/>
<polygon points="971,909.7 985.2,914.3 977.1,912.3" fill="#8040b0" opacity="0.92"/>
<polygon points="946.9,893.2 946.5,882.7 956.2,899.4" fill="#dff0ff" opacity="0.92"/>
<polygon points="971,959.8 968.3,945.9 961.6,959.6" fill="#a8d0f0" opacity="0.92"/>
<polygon points="985.7,904.3 976.8,920 984.1,903.8" fill="#dff0ff" opacity="0.92"/>
<polygon points="957.1,897.6 954.3,888.2 945,897.2" fill="#6a2aa0" opacity="0.92"/>
<polygon points="945.9,907.8 940.9,896.1 940.4,907" fill="#8040b0" opacity="0.92"/>
<polygon points="950.6,921 941.1,926.3 943.3,920.1" fill="#dff0ff" opacity="0.92"/>
<polygon points="1002.5,930.6 1011.3,916.1 997,915.4" fill="#1a2a8a" opacity="0.92"/>
<polygon points="981.6,932.6 984.4,942.5 985.8,941.7" fill="#a8d0f0" opacity="0.92"/>
<polygon points="954.6,944.9 952.3,940.7 954.7,933.1" fill="#1a2a8a" opacity="0.92"/>
<polygon points="968.3,948 961.8,950.1 969.1,945.9" fill="#dff0ff" opacity="0.92"/>
<polygon points="961.7,904.5 968.4,916.3 956.4,907.1" fill="#2448b0" opacity="0.92"/>
<polygon points="1014,905.9 1003,912 1024.7,901" fill="#2448b0" opacity="0.92"/>
<polygon points="992.6,915 996.7,924.2 988.8,923.4" fill="#6a2aa0" opacity="0.92"/>
<polygon points="962.4,905.4 977.9,905.8 967.8,920.2" fill="#5a8ee0" opacity="0.92"/>
<polygon points="991.9,913.9 996.2,922.1 986.7,913.7" fill="#6a2aa0" opacity="0.92"/>
<polygon points="965,926.2 967.9,927.8 967.6,929.4" fill="#8040b0" opacity="0.92"/>
<polygon points="957.9,950.8 964.6,954 946,940.9" fill="#8040b0" opacity="0.92"/>
<polygon points="1001.1,931.6 1007.9,929.4 1009.8,938.7" fill="#a8d0f0" opacity="0.92"/>
<polygon points="995,901 987.8,906 989,893" fill="#a8d0f0" opacity="0.92"/>
<polygon points="1011.2,921.2 1002,915.6 1006.3,916.8" fill="#8040b0" opacity="0.92"/>
<polygon points="980.5,938.9 983.1,924.7 992.5,936.5" fill="#2448b0" opacity="0.92"/>
<polygon points="939.1,920 933.7,909.9 938.2,911.2" fill="#8040b0" opacity="0.92"/>
<polygon points="946.5,909.5 957,907.5 956,905.8" fill="#5a8ee0" opacity="0.92"/>
<polygon points="973.4,926.3 975.5,927 960,921.8" fill="#3060c8" opacity="0.92"/>
<polygon points="975.3,929.3 970.8,939.7 971.9,938.7" fill="#2448b0" opacity="0.92"/>
<polygon points="950.7,885.3 953.8,897.2 942.6,886.9" fill="#dff0ff" opacity="0.92"/>
<polygon points="966.2,903.6 969.5,905.6 957.2,902.9" fill="#2448b0" opacity="0.92"/>
<polygon points="984.5,911.5 969.1,918.7 972.3,900.1" fill="#2448b0" opacity="0.92"/>
<polygon points="973.5,922.8 984,934.2 983.2,914.7" fill="#8040b0" opacity="0.92"/>
<polygon points="1000.4,899.2 1000.5,910 987.6,909.3" fill="#2448b0" opacity="0.92"/>
<polygon points="939.3,913 940.2,899.6 946.6,908" fill="#5a8ee0" opacity="0.92"/>
<polygon points="958.5,955.1 960.9,946.9 943.5,947.8" fill="#a8d0f0" opacity="0.92"/>
<polygon points="966.1,941.3 974.9,940.2 970.8,941" fill="#dff0ff" opacity="0.92"/>
<polygon points="992.6,908.6 991,890.8 998.8,900.5" fill="#6a2aa0" opacity="0.92"/>
<polygon points="992,932 994.9,933.4 992.3,934.5" fill="#6a2aa0" opacity="0.92"/>
<polygon points="951.3,932.4 945.7,930.8 946.1,929.4" fill="#1a2a8a" opacity="0.92"/>
<polygon points="938,938.9 929.6,921.8 941.5,934.8" fill="#6a2aa0" opacity="0.92"/>
<polygon points="980,881.3 985.9,887.5 988.4,891.7" fill="#3060c8" opacity="0.92"/>
<polygon points="1000.4,939 1010.9,941.8 999.4,940.3" fill="#3060c8" opacity="0.92"/>
<polygon points="999.7,907.3 989.4,902.3 998,900.6" fill="#a8d0f0" opacity="0.92"/>
<polygon points="979,928.2 978.4,928.8 970.6,924.9" fill="#1a2a8a" opacity="0.92"/>
<polygon points="960.8,940 957.2,945.8 953,941.5" fill="#6a2aa0" opacity="0.92"/>
<polygon points="978.7,950.1 973.5,944.6 981,950.1" fill="#6a2aa0" opacity="0.92"/>
<polygon points="988.1,929.8 1001.5,929.6 999.1,930.8" fill="#3060c8" opacity="0.92"/>
<polygon points="960.3,896.9 960.7,900.8 963,890" fill="#1a2a8a" opacity="0.92"/>
<polygon points="979.3,940.5 979.4,938.3 990.4,934.9" fill="#dff0ff" opacity="0.92"/>
<polygon points="980.8,882.6 973.9,890.9 984.6,890" fill="#1a2a8a" opacity="0.92"/>
<polygon points="972.7,957.1 965.9,949.3 956.5,944.9" fill="#6a2aa0" opacity="0.92"/>
<polygon points="957.6,949.3 953.9,945.6 945.5,942.7" fill="#6a2aa0" opacity="0.92"/>
<polygon points="977.2,904.3 978.2,905.3 995.9,916.1" fill="#a8d0f0" opacity="0.92"/>
<polygon points="964.1,917 952.9,914.1 966.8,910" fill="#3060c8" opacity="0.92"/>
<polygon points="983.2,908.7 986.1,911 982.5,908.4" fill="#1a2a8a" opacity="0.92"/>
<polygon points="965.9,902.5 967.7,899.6 966.1,899.4" fill="#6a2aa0" opacity="0.92"/>
<polygon points="947.9,912.6 966.2,899.2 952.5,898.2" fill="#2448b0" opacity="0.92"/>
<polygon points="1010.2,944.2 1010.1,947.3 1013.4,935.8" fill="#8040b0" opacity="0.92"/>
<polygon points="953,906.2 965.7,902.8 955.8,917.2" fill="#dff0ff" opacity="0.92"/>
<polygon points="1007.8,954.2 999.2,946.9 999.6,954" fill="#5a8ee0" opacity="0.92"/>
<polygon points="966.9,934.1 971.7,951.6 958.2,935.6" fill="#6a2aa0" opacity="0.92"/>
<polygon points="940,922.8 939,929.3 938.5,924.3" fill="#3060c8" opacity="0.92"/>
<polygon points="964.1,891.8 957.6,892.4 965.9,879.7" fill="#2448b0" opacity="0.92"/>
<polygon points="942.8,910.4 955.4,900.8 954.5,893.3" fill="#2448b0" opacity="0.92"/>
<polygon points="939.6,925.2 928.3,931.9 943.8,929.7" fill="#a8d0f0" opacity="0.92"/>
<polygon points="1008,918.4 1010.8,921.9 999.7,920.4" fill="#5a8ee0" opacity="0.92"/>
<polygon points="974.5,928.1 963.1,931.5 972.6,941.4" fill="#dff0ff" opacity="0.92"/>
<polygon points="1027.2,888.5 1021,897.4 1007.1,892.7" fill="#1a2a8a" opacity="0.92"/>
<polygon points="1009.7,944 1012.6,939.1 1007.2,938.4" fill="#1a2a8a" opacity="0.92"/>
<polygon points="987.2,888.5 996.2,878 1002.1,894.6" fill="#6a2aa0" opacity="0.92"/>
<polygon points="953.3,918.9 942.9,904.4 945,914.8" fill="#dff0ff" opacity="0.92"/>
<polygon points="966.8,947.7 961.1,949.5 958.4,949.1" fill="#2448b0" opacity="0.92"/>
<polygon points="974.2,883.4 976.3,884.2 983.7,889.8" fill="#6a2aa0" opacity="0.92"/>
<polygon points="954.3,898.8 958,895.1 952.4,905.6" fill="#8040b0" opacity="0.92"/>
<polygon points="962.2,888.6 961.9,889.1 959.5,895.4" fill="#8040b0" opacity="0.92"/>
<polygon points="959.6,904.3 945.8,895.6 968.1,893.2" fill="#a8d0f0" opacity="0.92"/>
<polygon points="1002,923.8 986,916.2 990,921.7" fill="#5a8ee0" opacity="0.92"/>
<polygon points="947.2,925.5 954.4,923.6 960.3,939.6" fill="#5a8ee0" opacity="0.92"/>
<polygon points="963.7,919.1 972,918.5 973.4,911" fill="#a8d0f0" opacity="0.92"/>
<polygon points="1009.8,904.4 1008,904 1007.1,901" fill="#3060c8" opacity="0.92"/>
<polygon points="946.3,889 931.3,898.2 935.8,882.8" fill="#1a2a8a" opacity="0.92"/>
<polygon points="1011.3,897.1 1005.4,901.8 1011.4,883.3" fill="#dff0ff" opacity="0.92"/>
<polygon points="994.9,931.6 994.7,943.3 985,937.2" fill="#6a2aa0" opacity="0.92"/>
<polygon points="945.9,944.7 968.9,939.6 948.4,938" fill="#3060c8" opacity="0.92"/>
<polygon points="964.6,896.9 966.7,898.2 967.4,889" fill="#1a2a8a" opacity="0.92"/>
<circle cx="999.6" cy="933.9" r="1.8" fill="#e02828"/>
<circle cx="982.8" cy="898.9" r="1.8" fill="#e02828"/>
<circle cx="956.4" cy="922.2" r="1.8" fill="#e02828"/>
<circle cx="981.6" cy="898.3" r="1.8" fill="#e02828"/>
<circle cx="1013.8" cy="933.6" r="1.8" fill="#e02828"/>
<circle cx="971" cy="944.5" r="1.8" fill="#e02828"/>
<circle cx="1009.7" cy="943.4" r="1.8" fill="#e02828"/>
<circle cx="1002.6" cy="903.9" r="1.8" fill="#e02828"/>
<circle cx="1005.5" cy="901.9" r="1.8" fill="#e02828"/>
<circle cx="1004.1" cy="929.9" r="1.8" fill="#e02828"/>
<circle cx="936.2" cy="926.1" r="1.8" fill="#e02828"/>
<circle cx="1017.4" cy="886.9" r="1.8" fill="#e02828"/>
<circle cx="944" cy="916.9" r="1.8" fill="#e02828"/>
<circle cx="989.6" cy="904.4" r="1.8" fill="#e02828"/>
<circle cx="1005.7" cy="911.6" r="1.8" fill="#e02828"/>
<circle cx="967.1" cy="918.8" r="1.8" fill="#e02828"/>
<circle cx="940.4" cy="941.5" r="1.8" fill="#e02828"/>
<circle cx="949" cy="934.5" r="1.8" fill="#e02828"/>
<circle cx="940.6" cy="908" r="1.8" fill="#e02828"/>
<circle cx="968.4" cy="920.4" r="1.8" fill="#e02828"/>
<circle cx="1014.4" cy="910" r="1.8" fill="#e02828"/>
<circle cx="943" cy="918.1" r="1.8" fill="#e02828"/>
<polygon points="940,884 944,861.2 953,884" fill="#8a48c8" opacity="0.85"/>
<polygon points="958,884 954,860.4 971,884" fill="#c0dcf8" opacity="0.85"/>
<polygon points="976,884 969,861.6 989,884" fill="#6a3ab8" opacity="0.85"/>
<polygon points="994,884 984,861.7 1007,884" fill="#c0dcf8" opacity="0.85"/>
<polygon points="1003,884 1002,855.5 1016,884" fill="#8a48c8" opacity="0.85"/>
<polygon points="1228.3,906 1241.7,882.6 1275.7,878.5 1311.8,882.6 1318,909.1 1309.7,936.6 1291.2,951.9 1265.4,953.9 1241.7,936.6 1227.2,919.3" fill="#2a4cb0"/>
<polygon points="1272.6,929 1288.7,935.7 1270.2,929" fill="#2448b0" opacity="0.92"/>
<polygon points="1320.3,920.9 1306.9,914.2 1311,908.9" fill="#5a8ee0" opacity="0.92"/>
<polygon points="1303.6,896.7 1305.6,898 1306,910.8" fill="#3060c8" opacity="0.92"/>
<polygon points="1288.3,886.6 1283.8,891.3 1289.5,888.9" fill="#a8d0f0" opacity="0.92"/>
<polygon points="1290.6,945.3 1295,933.2 1280.1,947.7" fill="#1a2a8a" opacity="0.92"/>
<polygon points="1230.8,903.7 1235.4,900.7 1233.7,901.8" fill="#8040b0" opacity="0.92"/>
<polygon points="1276.6,880.5 1274.8,878.2 1280.2,885.9" fill="#2448b0" opacity="0.92"/>
<polygon points="1314.4,945.4 1302.9,944.4 1313.7,950.7" fill="#8040b0" opacity="0.92"/>
<polygon points="1264.3,919.1 1279.6,910.6 1259.1,908.8" fill="#2448b0" opacity="0.92"/>
<polygon points="1240.2,959.3 1256.5,938.1 1251.4,943" fill="#5a8ee0" opacity="0.92"/>
<polygon points="1277.4,943.9 1269.6,937.3 1276.9,940.4" fill="#1a2a8a" opacity="0.92"/>
<polygon points="1251.7,890.1 1244.6,883.1 1258.4,881" fill="#1a2a8a" opacity="0.92"/>
<polygon points="1266.7,960 1276.6,959.5 1286.3,940.8" fill="#1a2a8a" opacity="0.92"/>
<polygon points="1296.7,925.2 1292.8,915 1302.6,922.1" fill="#8040b0" opacity="0.92"/>
<polygon points="1298.4,920.4 1320.8,936.4 1306.6,923.6" fill="#2448b0" opacity="0.92"/>
<polygon points="1233.7,917.8 1240.1,917 1233.3,900.4" fill="#a8d0f0" opacity="0.92"/>
<polygon points="1239,919.9 1232.3,905 1235.3,908.4" fill="#8040b0" opacity="0.92"/>
<polygon points="1250.8,926.5 1252.9,935.7 1244.9,930.7" fill="#8040b0" opacity="0.92"/>
<polygon points="1237.1,957.4 1247.3,957.1 1241.2,954.3" fill="#1a2a8a" opacity="0.92"/>
<polygon points="1296.1,934.5 1303.5,931.9 1307.3,927.8" fill="#dff0ff" opacity="0.92"/>
<polygon points="1309,931.8 1300.3,932.6 1301.6,939.9" fill="#5a8ee0" opacity="0.92"/>
<polygon points="1289.3,917.8 1290.5,906.8 1288,905.7" fill="#5a8ee0" opacity="0.92"/>
<polygon points="1248.8,937 1266.4,955.5 1256.3,934.6" fill="#3060c8" opacity="0.92"/>
<polygon points="1297.9,908.4 1289.1,903.1 1304.3,908.4" fill="#dff0ff" opacity="0.92"/>
<polygon points="1274.1,898.7 1272.2,912.6 1267.3,898.1" fill="#8040b0" opacity="0.92"/>
<polygon points="1231.5,909.8 1239.7,921.6 1239.8,902.2" fill="#dff0ff" opacity="0.92"/>
<polygon points="1249.3,915.9 1245.6,910.3 1246.6,916.6" fill="#2448b0" opacity="0.92"/>
<polygon points="1303,895.6 1299.4,895.9 1304.4,897.1" fill="#5a8ee0" opacity="0.92"/>
<polygon points="1279.4,906.7 1278.9,901.8 1281.5,905.6" fill="#6a2aa0" opacity="0.92"/>
<polygon points="1301.1,920.1 1291,924.7 1286.4,935.9" fill="#8040b0" opacity="0.92"/>
<polygon points="1238.9,889.4 1236.9,890 1244.5,889.6" fill="#3060c8" opacity="0.92"/>
<polygon points="1257.1,922.5 1265.4,921.9 1258.6,944.1" fill="#8040b0" opacity="0.92"/>
<polygon points="1285.1,911.2 1270,914.5 1283.2,902.3" fill="#8040b0" opacity="0.92"/>
<polygon points="1307.1,914.7 1302.7,907.8 1300.4,905.2" fill="#1a2a8a" opacity="0.92"/>
<polygon points="1304.5,936.9 1310,936.5 1311.5,939.5" fill="#5a8ee0" opacity="0.92"/>
<polygon points="1269.2,943.9 1270.5,944.5 1266.5,936.5" fill="#8040b0" opacity="0.92"/>
<polygon points="1318.2,904.6 1315.8,894.9 1313.7,896.4" fill="#2448b0" opacity="0.92"/>
<polygon points="1282.1,930.5 1271.6,939.4 1281.5,938.4" fill="#2448b0" opacity="0.92"/>
<polygon points="1243.4,912.1 1245.3,900.4 1258.8,896.9" fill="#3060c8" opacity="0.92"/>
<polygon points="1290.6,918.3 1286.6,913.1 1274.7,908.4" fill="#5a8ee0" opacity="0.92"/>
<polygon points="1256.3,939.8 1259.8,937.3 1251.5,943.6" fill="#8040b0" opacity="0.92"/>
<polygon points="1269.3,884 1286.4,894.8 1274.3,890.5" fill="#6a2aa0" opacity="0.92"/>
<polygon points="1292,905.8 1290,893.9 1279.4,892.2" fill="#1a2a8a" opacity="0.92"/>
<polygon points="1303.3,937.8 1310.8,931 1302.4,937.7" fill="#dff0ff" opacity="0.92"/>
<polygon points="1308.5,930.4 1306.4,925.6 1306.7,933.7" fill="#dff0ff" opacity="0.92"/>
<polygon points="1276.2,935.2 1281.7,935.5 1283.2,946.8" fill="#a8d0f0" opacity="0.92"/>
<polygon points="1308.6,886.5 1307.3,887.1 1315,894.8" fill="#2448b0" opacity="0.92"/>
<polygon points="1240.4,890.9 1238.9,874.2 1225.7,888.7" fill="#6a2aa0" opacity="0.92"/>
<polygon points="1285.9,893.1 1276,877.7 1271.5,894.9" fill="#2448b0" opacity="0.92"/>
<polygon points="1322.2,884.6 1317.7,896.6 1307.1,901.5" fill="#a8d0f0" opacity="0.92"/>
<polygon points="1290.4,901.7 1302.6,900.3 1291.6,900.2" fill="#3060c8" opacity="0.92"/>
<polygon points="1290.6,893.5 1300.8,902.5 1281.9,896.5" fill="#a8d0f0" opacity="0.92"/>
<polygon points="1295.7,936.2 1300.5,934.8 1293.3,932.1" fill="#a8d0f0" opacity="0.92"/>
<polygon points="1300.3,909.7 1295.4,910.3 1299.1,903.7" fill="#6a2aa0" opacity="0.92"/>
<polygon points="1240.9,923.4 1242.5,934.1 1237,921.4" fill="#2448b0" opacity="0.92"/>
<polygon points="1223.8,934.9 1230.3,938.3 1240,940.5" fill="#6a2aa0" opacity="0.92"/>
<polygon points="1264.4,917.9 1243.5,893.8 1259.8,901.2" fill="#3060c8" opacity="0.92"/>
<polygon points="1269.8,905.3 1269.6,899.2 1263.4,909.6" fill="#1a2a8a" opacity="0.92"/>
<polygon points="1317.1,948.6 1311.2,936.6 1317.4,946.2" fill="#6a2aa0" opacity="0.92"/>
<polygon points="1304.8,881.4 1300,897.6 1290.1,881" fill="#a8d0f0" opacity="0.92"/>
<polygon points="1306.9,907.3 1305.8,901.6 1298,918.4" fill="#5a8ee0" opacity="0.92"/>
<polygon points="1295.4,892.3 1298.4,891.8 1285.9,904.4" fill="#3060c8" opacity="0.92"/>
<polygon points="1263.9,948.8 1271.3,936.9 1278.4,938.3" fill="#dff0ff" opacity="0.92"/>
<polygon points="1293.1,923.8 1280.8,925 1281.8,926" fill="#5a8ee0" opacity="0.92"/>
<polygon points="1282.6,891.8 1285.3,891 1289.6,894.1" fill="#3060c8" opacity="0.92"/>
<polygon points="1297.9,877 1310.9,882.1 1305.3,876.3" fill="#6a2aa0" opacity="0.92"/>
<polygon points="1259.6,902.4 1256.6,898.4 1264.8,900.4" fill="#dff0ff" opacity="0.92"/>
<polygon points="1297.1,940.7 1295.9,933 1316.8,935.4" fill="#a8d0f0" opacity="0.92"/>
<polygon points="1321.2,889.3 1311.8,895.9 1303.1,907.3" fill="#8040b0" opacity="0.92"/>
<polygon points="1304,890.3 1304.1,896.3 1298.4,890.9" fill="#8040b0" opacity="0.92"/>
<polygon points="1291,926.9 1293.1,924.9 1297.8,925.2" fill="#1a2a8a" opacity="0.92"/>
<polygon points="1248,946.1 1238.5,941.6 1251.2,938.7" fill="#dff0ff" opacity="0.92"/>
<polygon points="1306.5,944 1295.9,944.9 1306.2,932.4" fill="#8040b0" opacity="0.92"/>
<polygon points="1293,895.8 1295.1,892.8 1279.1,891.9" fill="#5a8ee0" opacity="0.92"/>
<polygon points="1282,909.2 1281.8,918.5 1285.9,896.7" fill="#5a8ee0" opacity="0.92"/>
<polygon points="1254,901.8 1254.8,907.8 1261.1,912.1" fill="#6a2aa0" opacity="0.92"/>
<polygon points="1284.9,924 1306.1,922.6 1292.2,917" fill="#6a2aa0" opacity="0.92"/>
<polygon points="1256.7,920.7 1266.1,931.1 1264.7,931.8" fill="#3060c8" opacity="0.92"/>
<polygon points="1233.6,919.1 1243,907.7 1242.3,913.8" fill="#2448b0" opacity="0.92"/>
<polygon points="1233.4,920.7 1239.1,927.4 1242.8,928.7" fill="#a8d0f0" opacity="0.92"/>
<polygon points="1291.2,893.1 1288.7,890.8 1285.7,901.3" fill="#dff0ff" opacity="0.92"/>
<polygon points="1277.3,906.4 1286,891.7 1268.3,893.2" fill="#3060c8" opacity="0.92"/>
<polygon points="1247.1,937.4 1255.8,930.7 1261.3,934.3" fill="#6a2aa0" opacity="0.92"/>
<polygon points="1258.4,904.5 1253.2,904.3 1267.4,907.8" fill="#1a2a8a" opacity="0.92"/>
<polygon points="1236.7,950.2 1235.9,946 1228.2,945.4" fill="#1a2a8a" opacity="0.92"/>
<polygon points="1263.8,908.2 1267.6,901 1265.8,911.1" fill="#6a2aa0" opacity="0.92"/>
<polygon points="1309.8,895.7 1302.8,895.2 1315.3,899.2" fill="#8040b0" opacity="0.92"/>
<polygon points="1255.2,934.7 1260.4,938.4 1257,934.1" fill="#3060c8" opacity="0.92"/>
<polygon points="1286.3,907.7 1288.7,906.5 1287.7,891.4" fill="#2448b0" opacity="0.92"/>
<polygon points="1287.6,941 1291.6,940.6 1292.5,929.7" fill="#1a2a8a" opacity="0.92"/>
<circle cx="1252.5" cy="946" r="1.8" fill="#e02828"/>
<circle cx="1301.5" cy="925.3" r="1.8" fill="#e02828"/>
<circle cx="1234.3" cy="921.5" r="1.8" fill="#e02828"/>
<circle cx="1281.4" cy="881.5" r="1.8" fill="#e02828"/>
<circle cx="1302.2" cy="915.5" r="1.8" fill="#e02828"/>
<circle cx="1308.2" cy="907.3" r="1.8" fill="#e02828"/>
<circle cx="1236.1" cy="935.1" r="1.8" fill="#e02828"/>
<circle cx="1286.8" cy="892.9" r="1.8" fill="#e02828"/>
<circle cx="1312.1" cy="925" r="1.8" fill="#e02828"/>
<circle cx="1243.5" cy="947.3" r="1.8" fill="#e02828"/>
<circle cx="1235.4" cy="899.7" r="1.8" fill="#e02828"/>
<circle cx="1231.8" cy="921.2" r="1.8" fill="#e02828"/>
<circle cx="1269.1" cy="916.7" r="1.8" fill="#e02828"/>
<circle cx="1239.8" cy="887.7" r="1.8" fill="#e02828"/>
<circle cx="1280" cy="939.3" r="1.8" fill="#e02828"/>
<circle cx="1238.8" cy="907.4" r="1.8" fill="#e02828"/>
<circle cx="1234.3" cy="926.6" r="1.8" fill="#e02828"/>
<circle cx="1254" cy="930.3" r="1.8" fill="#e02828"/>
<circle cx="1256.2" cy="885.9" r="1.8" fill="#e02828"/>
<circle cx="1242.4" cy="948.5" r="1.8" fill="#e02828"/>
<circle cx="1286.4" cy="949.1" r="1.8" fill="#e02828"/>
<circle cx="1274.7" cy="889.3" r="1.8" fill="#e02828"/>
<polygon points="1235.5,882.6 1239.6,852.7 1248.9,882.6" fill="#8a48c8" opacity="0.85"/>
<polygon points="1254.1,882.6 1249.9,853.8 1267.5,882.6" fill="#8a48c8" opacity="0.85"/>
<polygon points="1272.6,882.6 1265.4,856.3 1286,882.6" fill="#8a48c8" opacity="0.85"/>
<polygon points="1291.2,882.6 1280.9,859.7 1304.6,882.6" fill="#c0dcf8" opacity="0.85"/>
<polygon points="1300.4,882.6 1299.4,853.6 1313.8,882.6" fill="#c0dcf8" opacity="0.85"/>
<rect x="1441.6" y="896.7" width="26.9" height="24.6" fill="#2a50b8"/>
<line x1="1441.6" y1="921.3" x2="1468.4" y2="896.7" stroke="#9050c0" stroke-width="1.2"/>
<line x1="1441.6" y1="896.7" x2="1468.4" y2="921.3" stroke="#9050c0" stroke-width="1.2"/>
<rect x="1413" y="870" width="34.4" height="28.7" fill="url(#rutg)"/>
<polygon points="1413,870 1428.5,870 1413,885.8" fill="#7aaaf0" opacity="0.5"/>
<line x1="1415" y1="896.7" x2="1445.4" y2="872" stroke="#d83040" stroke-width="1.5"/>
<line x1="1430.2" y1="884.4" x2="1445.4" y2="896.7" stroke="#a03050" stroke-width="1"/>
<circle cx="1414" cy="871" r="1.9" fill="#e02828"/>
<circle cx="1446.4" cy="871" r="1.9" fill="#e02828"/>
<circle cx="1414" cy="897.7" r="1.9" fill="#e02828"/>
<circle cx="1446.4" cy="897.7" r="1.9" fill="#e02828"/>
<circle cx="1438.8" cy="877.2" r="1.9" fill="#e02828"/>
<circle cx="1421.6" cy="891.5" r="1.9" fill="#e02828"/>
<rect x="1462.6" y="870" width="34.4" height="28.7" fill="url(#rutg)"/>
<polygon points="1462.6,870 1478.1,870 1462.6,885.8" fill="#7aaaf0" opacity="0.5"/>
<line x1="1464.6" y1="896.7" x2="1495" y2="872" stroke="#d83040" stroke-width="1.5"/>
<line x1="1479.8" y1="884.4" x2="1495" y2="896.7" stroke="#a03050" stroke-width="1"/>
<circle cx="1463.6" cy="871" r="1.9" fill="#e02828"/>
<circle cx="1496" cy="871" r="1.9" fill="#e02828"/>
<circle cx="1463.6" cy="897.7" r="1.9" fill="#e02828"/>
<circle cx="1496" cy="897.7" r="1.9" fill="#e02828"/>
<circle cx="1488.4" cy="877.2" r="1.9" fill="#e02828"/>
<circle cx="1471.2" cy="891.5" r="1.9" fill="#e02828"/>
<rect x="1413" y="920.3" width="34.4" height="28.7" fill="url(#rutg)"/>
<polygon points="1413,920.3 1428.5,920.3 1413,936.1" fill="#7aaaf0" opacity="0.5"/>
<line x1="1415" y1="947" x2="1445.4" y2="922.3" stroke="#d83040" stroke-width="1.5"/>
<line x1="1430.2" y1="934.6" x2="1445.4" y2="947" stroke="#a03050" stroke-width="1"/>
<circle cx="1414" cy="921.3" r="1.9" fill="#e02828"/>
<circle cx="1446.4" cy="921.3" r="1.9" fill="#e02828"/>
<circle cx="1414" cy="948" r="1.9" fill="#e02828"/>
<circle cx="1446.4" cy="948" r="1.9" fill="#e02828"/>
<circle cx="1438.8" cy="927.5" r="1.9" fill="#e02828"/>
<circle cx="1421.6" cy="941.8" r="1.9" fill="#e02828"/>
<rect x="1462.6" y="920.3" width="34.4" height="28.7" fill="url(#rutg)"/>
<polygon points="1462.6,920.3 1478.1,920.3 1462.6,936.1" fill="#7aaaf0" opacity="0.5"/>
<line x1="1464.6" y1="947" x2="1495" y2="922.3" stroke="#d83040" stroke-width="1.5"/>
<line x1="1479.8" y1="934.6" x2="1495" y2="947" stroke="#a03050" stroke-width="1"/>
<circle cx="1463.6" cy="921.3" r="1.9" fill="#e02828"/>
<circle cx="1496" cy="921.3" r="1.9" fill="#e02828"/>
<circle cx="1463.6" cy="948" r="1.9" fill="#e02828"/>
<circle cx="1496" cy="948" r="1.9" fill="#e02828"/>
<circle cx="1488.4" cy="927.5" r="1.9" fill="#e02828"/>
<circle cx="1471.2" cy="941.8" r="1.9" fill="#e02828"/>
<path d="M873,903 L895,914 L873,925" fill="none" stroke="#333" stroke-width="2.6"/>
<path d="M1358,908 L1380,919 L1358,930" fill="none" stroke="#333" stroke-width="2.6"/>
<text x="774" y="984" font-size="26.5" fill="#333" font-weight="normal" textLength="65" lengthAdjust="spacingAndGlyphs">Rutile</text>
<text x="925" y="985.5" font-size="26.5" fill="#333" font-weight="normal" textLength="94" lengthAdjust="spacingAndGlyphs">Anatase</text>
<text x="1230" y="984.7" font-size="26.5" fill="#333" font-weight="normal" textLength="94" lengthAdjust="spacingAndGlyphs">Anatase</text>
<text x="1426" y="984.7" font-size="26.5" fill="#333" font-weight="normal" textLength="64" lengthAdjust="spacingAndGlyphs">Rutile</text>
<line x1="689.7" y1="1055.6" x2="704" y2="1039.7" stroke="#b8b820" stroke-width="2.4"/>
<line x1="704" y1="1039.7" x2="724" y2="1044.5" stroke="#b8b820" stroke-width="2.4"/>
<line x1="724" y1="1044.5" x2="737.5" y2="1030" stroke="#b8b820" stroke-width="2.4"/>
<line x1="737.5" y1="1030" x2="756.6" y2="1045.5" stroke="#b8b820" stroke-width="2.4"/>
<line x1="756.6" y1="1045.5" x2="740.6" y2="1065" stroke="#b8b820" stroke-width="2.4"/>
<line x1="740.6" y1="1065" x2="723" y2="1055.6" stroke="#b8b820" stroke-width="2.4"/>
<line x1="723" y1="1055.6" x2="712" y2="1063.6" stroke="#b8b820" stroke-width="2.4"/>
<line x1="712" y1="1063.6" x2="689.7" y2="1055.6" stroke="#b8b820" stroke-width="2.4"/>
<circle cx="689.7" cy="1055.6" r="6.5" fill="url(#yelsph)"/>
<circle cx="704" cy="1039.7" r="6.5" fill="url(#yelsph)"/>
<circle cx="724" cy="1044.5" r="6.5" fill="url(#yelsph)"/>
<circle cx="737.5" cy="1030" r="6.5" fill="url(#yelsph)"/>
<circle cx="756.6" cy="1045.5" r="6.5" fill="url(#yelsph)"/>
<circle cx="740.6" cy="1065" r="6.5" fill="url(#yelsph)"/>
<circle cx="723" cy="1055.6" r="6.5" fill="url(#yelsph)"/>
<circle cx="712" cy="1063.6" r="6.5" fill="url(#yelsph)"/>
<line x1="704" y1="1152" x2="704" y2="1170.4" stroke="#c8c840" stroke-width="2.4"/>
<line x1="704" y1="1170.4" x2="718.3" y2="1175.8" stroke="#c8c840" stroke-width="2.4"/>
<line x1="718.3" y1="1175.8" x2="718.3" y2="1191.7" stroke="#c8c840" stroke-width="2.4"/>
<line x1="718.3" y1="1191.7" x2="732.7" y2="1198" stroke="#c8c840" stroke-width="2.4"/>
<line x1="732.7" y1="1198" x2="732.7" y2="1215" stroke="#c8c840" stroke-width="2.4"/>
<line x1="732.7" y1="1215" x2="747" y2="1222" stroke="#c8c840" stroke-width="2.4"/>
<line x1="747" y1="1222" x2="747" y2="1237.9" stroke="#c8c840" stroke-width="2.4"/>
<line x1="747" y1="1237.9" x2="761" y2="1242.7" stroke="#c8c840" stroke-width="2.4"/>
<line x1="761" y1="1242.7" x2="759.7" y2="1261.8" stroke="#c8c840" stroke-width="2.4"/>
<circle cx="704" cy="1152" r="10.5" fill="url(#purpsph)"/>
<circle cx="704" cy="1170.4" r="6.5" fill="url(#yelsph)"/>
<circle cx="718.3" cy="1175.8" r="6.5" fill="url(#yelsph)"/>
<circle cx="718.3" cy="1191.7" r="6.5" fill="url(#yelsph)"/>
<circle cx="732.7" cy="1198" r="6.5" fill="url(#yelsph)"/>
<circle cx="732.7" cy="1215" r="6.5" fill="url(#yelsph)"/>
<circle cx="747" cy="1222" r="6.5" fill="url(#yelsph)"/>
<circle cx="747" cy="1237.9" r="6.5" fill="url(#yelsph)"/>
<circle cx="761" cy="1242.7" r="6.5" fill="url(#yelsph)"/>
<circle cx="759.7" cy="1261.8" r="10.5" fill="url(#purpsph)"/>
<line x1="796.4" y1="1171.7" x2="812.3" y2="1181" stroke="#c8c840" stroke-width="2.4"/>
<line x1="812.3" y1="1181" x2="809" y2="1198" stroke="#c8c840" stroke-width="2.4"/>
<line x1="809" y1="1198" x2="821.8" y2="1207.6" stroke="#c8c840" stroke-width="2.4"/>
<line x1="821.8" y1="1207.6" x2="818.7" y2="1223.6" stroke="#c8c840" stroke-width="2.4"/>
<line x1="818.7" y1="1223.6" x2="833" y2="1234" stroke="#c8c840" stroke-width="2.4"/>
<line x1="833" y1="1234" x2="829.8" y2="1250" stroke="#c8c840" stroke-width="2.4"/>
<line x1="829.8" y1="1250" x2="845" y2="1260" stroke="#c8c840" stroke-width="2.4"/>
<circle cx="796.4" cy="1171.7" r="10.5" fill="url(#purpsph)"/>
<circle cx="812.3" cy="1181" r="6.5" fill="url(#yelsph)"/>
<circle cx="809" cy="1198" r="6.5" fill="url(#yelsph)"/>
<circle cx="821.8" cy="1207.6" r="6.5" fill="url(#yelsph)"/>
<circle cx="818.7" cy="1223.6" r="6.5" fill="url(#yelsph)"/>
<circle cx="833" cy="1234" r="6.5" fill="url(#yelsph)"/>
<circle cx="829.8" cy="1250" r="6.5" fill="url(#yelsph)"/>
<circle cx="845" cy="1260" r="10.5" fill="url(#purpsph)"/>
<line x1="912.6" y1="1249" x2="917.4" y2="1268" stroke="#c8c840" stroke-width="2.4"/>
<line x1="917.4" y1="1268" x2="933.3" y2="1272.3" stroke="#c8c840" stroke-width="2.4"/>
<line x1="933.3" y1="1272.3" x2="935" y2="1288" stroke="#c8c840" stroke-width="2.4"/>
<line x1="935" y1="1288" x2="950.8" y2="1294.6" stroke="#c8c840" stroke-width="2.4"/>
<line x1="950.8" y1="1294.6" x2="954" y2="1311.8" stroke="#c8c840" stroke-width="2.4"/>
<circle cx="912.6" cy="1249" r="10.5" fill="url(#purpsph)"/>
<circle cx="917.4" cy="1268" r="6.5" fill="url(#yelsph)"/>
<circle cx="933.3" cy="1272.3" r="6.5" fill="url(#yelsph)"/>
<circle cx="935" cy="1288" r="6.5" fill="url(#yelsph)"/>
<circle cx="950.8" cy="1294.6" r="6.5" fill="url(#yelsph)"/>
<circle cx="954" cy="1311.8" r="10.5" fill="url(#purpsph)"/>
<line x1="1275" y1="1289.8" x2="1292.5" y2="1302" stroke="#c8c840" stroke-width="2.4"/>
<line x1="1292.5" y1="1302" x2="1292.5" y2="1320" stroke="#c8c840" stroke-width="2.4"/>
<line x1="1292.5" y1="1320" x2="1309.3" y2="1331.8" stroke="#c8c840" stroke-width="2.4"/>
<circle cx="1275" cy="1289.8" r="10.5" fill="url(#purpsph)"/>
<circle cx="1292.5" cy="1302" r="6.5" fill="url(#yelsph)"/>
<circle cx="1292.5" cy="1320" r="6.5" fill="url(#yelsph)"/>
<circle cx="1309.3" cy="1331.8" r="10.5" fill="url(#purpsph)"/>
<line x1="1706.7" y1="1382.5" x2="1711" y2="1402.9" stroke="#c8c840" stroke-width="2.4"/>
<line x1="1711" y1="1402.9" x2="1728.4" y2="1410.6" stroke="#c8c840" stroke-width="2.4"/>
<circle cx="1706.7" cy="1382.5" r="10.5" fill="url(#purpsph)"/>
<circle cx="1711" cy="1402.9" r="6.5" fill="url(#yelsph)"/>
<circle cx="1728.4" cy="1410.6" r="10.5" fill="url(#purpsph)"/>
<path d="M702.6,1125.6 L770.3,1125.6 L770.3,1095.4 L849.3,1095.4 L849.3,1070.3 L1018.7,1070.3 L1018.7,1455.8 L1583.1,1455.8 L1583.1,1440.7 L1808.9,1440.7" fill="none" stroke="#18b898" stroke-width="3" stroke-dasharray="6 5"/>
<path d="M702.6,1348.5 L770.3,1348.5 L770.3,1139 L849.3,1139 L849.3,1187.6 L1018.7,1187.6 L1018.7,1128.9 L1583.1,1128.9 L1583.1,1445.7 L1808.9,1445.7" fill="none" stroke="#5a36a8" stroke-width="3" stroke-dasharray="6 5"/>
<rect x="696.1" y="1119.1" width="13" height="13" fill="#18b898"/>
<rect x="763.8" y="1119.1" width="13" height="13" fill="#18b898"/>
<rect x="763.8" y="1088.9" width="13" height="13" fill="#18b898"/>
<rect x="842.8" y="1088.9" width="13" height="13" fill="#18b898"/>
<rect x="842.8" y="1063.8" width="13" height="13" fill="#18b898"/>
<rect x="1012.2" y="1063.8" width="13" height="13" fill="#18b898"/>
<rect x="1012.2" y="1449.3" width="13" height="13" fill="#18b898"/>
<rect x="1576.6" y="1449.3" width="13" height="13" fill="#18b898"/>
<rect x="1576.6" y="1434.2" width="13" height="13" fill="#18b898"/>
<rect x="1802.4" y="1434.2" width="13" height="13" fill="#18b898"/>
<circle cx="702.6" cy="1348.5" r="7" fill="#5a36a8"/>
<circle cx="770.3" cy="1348.5" r="7" fill="#5a36a8"/>
<circle cx="770.3" cy="1139" r="7" fill="#5a36a8"/>
<circle cx="849.3" cy="1139" r="7" fill="#5a36a8"/>
<circle cx="849.3" cy="1187.6" r="7" fill="#5a36a8"/>
<circle cx="1018.7" cy="1187.6" r="7" fill="#5a36a8"/>
<circle cx="1018.7" cy="1128.9" r="7" fill="#5a36a8"/>
<circle cx="1583.1" cy="1128.9" r="7" fill="#5a36a8"/>
<circle cx="1583.1" cy="1445.7" r="7" fill="#5a36a8"/>
<circle cx="1808.9" cy="1445.7" r="7" fill="#5a36a8"/>
<text x="686.5" y="1115.2" font-size="23" fill="#222" font-weight="normal" textLength="96.5" lengthAdjust="spacingAndGlyphs">-1.71 eV</text>
<text x="767.3" y="1083.6" font-size="23.3" fill="#222" font-weight="normal" textLength="97.4" lengthAdjust="spacingAndGlyphs">-1.53 eV</text>
<text x="904.7" y="1063.2" font-size="23.3" fill="#222" font-weight="normal" textLength="96.5" lengthAdjust="spacingAndGlyphs">-1.38 eV</text>
<text x="771" y="1131" font-size="23.3" fill="#222" font-weight="normal" textLength="95.6" lengthAdjust="spacingAndGlyphs">-1.79 eV</text>
<text x="905.6" y="1183" font-size="23.3" fill="#222" font-weight="normal" textLength="96.4" lengthAdjust="spacingAndGlyphs">-2.08 eV</text>
<text x="1283.6" y="1123.5" font-size="23.7" fill="#222" font-weight="normal" textLength="98" lengthAdjust="spacingAndGlyphs">-1.73 eV</text>
<text x="691.4" y="1338.6" font-size="25.1" fill="#f4f4f4" font-weight="normal" textLength="97.2" lengthAdjust="spacingAndGlyphs">-3.04 eV</text>
<text x="1282" y="1443.8" font-size="26.5" fill="#e8e8e8" font-weight="normal" textLength="90.4" lengthAdjust="spacingAndGlyphs">-3.68eV</text>
<text x="1600.6" y="1433.3" font-size="26.5" fill="#e8e8e8" font-weight="normal" textLength="88.3" lengthAdjust="spacingAndGlyphs">-3.59eV</text>
<text x="1600.6" y="1481.3" font-size="26.5" fill="#e8e8e8" font-weight="normal" textLength="88.3" lengthAdjust="spacingAndGlyphs">-3.62eV</text>
<line x1="1756.6" y1="1053.1" x2="1824.8" y2="1053.1" stroke="#18b898" stroke-width="3" stroke-dasharray="7 6"/>
<rect x="1787" y="1046.2" width="13.8" height="13.8" fill="#18b898"/>
<text x="1837.2" y="1064.1" font-size="25" fill="#333" font-weight="normal" textLength="91.8" lengthAdjust="spacingAndGlyphs">Anatase</text>
<line x1="1756.6" y1="1092.4" x2="1824.8" y2="1092.4" stroke="#5a36a8" stroke-width="3" stroke-dasharray="7 6"/>
<circle cx="1793.8" cy="1092.4" r="7.8" fill="#5a36a8"/>
<text x="1837.2" y="1103.4" font-size="25" fill="#333" font-weight="normal" textLength="63.5" lengthAdjust="spacingAndGlyphs">Rutile</text>
<text x="60.5" y="1813.2" font-size="72.7" fill="#000" font-weight="bold" textLength="93.5" lengthAdjust="spacingAndGlyphs">(d)</text>
<rect x="250" y="2058" width="10" height="112" fill="#f4a4a8"/>
<path d="M243,2062 L255,2046 L267,2062 Z" fill="#f4a4a8"/>
<rect x="525" y="2036" width="10" height="106" fill="#f4a4a8"/>
<path d="M518,2140 L530,2156 L542,2140 Z" fill="#f4a4a8"/>
<clipPath id="meshc"><path d="M55,2080 L60,2068 C90,2045 100,2036 130,2036 C250,2040 330,2052 400,2050 C500,2040 600,2015 645,2012 L694,2048 L694,2075 C600,2110 480,2142 371,2143 C250,2142 120,2115 55,2100 Z"/></clipPath>
<g clip-path="url(#meshc)">
<path d="M40,2049.9 L51,2046.2 L73,2048.8 L84,2055 L95,2051.1 L117,2053.2 L128,2059.1 L139,2055 L161,2056.6 L172,2062.3 L183,2057.9 L205,2059 L216,2064.4 L227,2059.8 L249,2060.3 L260,2065.5 L271,2060.7 L293,2060.7 L304,2065.7 L315,2060.6 L337,2060.1 L348,2064.8 L359,2059.5 L381,2058.6 L392,2063 L403,2057.4 L425,2056 L436,2060.2 L447,2054.3 L469,2052.4 L480,2056.3 L491,2050.2 L513,2047.8 L524,2051.5 L535,2045.1 L557,2042.2 L568,2045.7 L579,2039.1 L601,2035.6 L612,2038.8 L623,2032 L645,2028.1 L656,2031 L667,2023.9 L689,2019.5 L700,2022.2 L711,2014.9 L733,2009.9 M40,2049.9 L51,2056.2 L73,2058.8 L84,2055 L95,2061.1 L117,2063.2 L128,2059.1 L139,2065 L161,2066.6 L172,2062.3 L183,2067.9 L205,2069 L216,2064.4 L227,2069.8 L249,2070.3 L260,2065.5 L271,2070.7 L293,2070.7 L304,2065.7 L315,2070.6 L337,2070.1 L348,2064.8 L359,2069.5 L381,2068.6 L392,2063 L403,2067.4 L425,2066 L436,2060.2 L447,2064.3 L469,2062.4 L480,2056.3 L491,2060.2 L513,2057.8 L524,2051.5 L535,2055.1 L557,2052.2 L568,2045.7 L579,2049.1 L601,2045.6 L612,2038.8 L623,2042 L645,2038.1 L656,2031 L667,2033.9 L689,2029.5 L700,2022.2 L711,2024.9 L733,2019.9 M18,2055.7 L29,2052.2 L51,2055 L62,2061.4 L73,2057.6 L95,2059.9 L106,2066 L117,2062 L139,2063.8 L150,2069.6 L161,2065.4 L183,2066.7 L194,2072.3 L205,2067.8 L227,2068.6 L238,2073.9 L249,2069.1 L271,2069.5 L282,2074.5 L293,2069.5 L315,2069.4 L326,2074.2 L337,2068.9 L359,2068.3 L370,2072.8 L381,2067.4 L403,2066.2 L414,2070.5 L425,2064.8 L447,2063.1 L458,2067.2 L469,2061.2 L491,2059 L502,2062.8 L513,2056.6 L535,2053.9 L546,2057.5 L557,2051 L579,2047.9 L590,2051.2 L601,2044.4 L623,2040.8 L634,2043.9 L645,2036.9 L667,2032.7 L678,2035.5 L689,2028.3 L711,2023.7 M18,2055.7 L29,2062.2 L51,2065 L62,2061.4 L73,2067.6 L95,2069.9 L106,2066 L117,2072 L139,2073.8 L150,2069.6 L161,2075.4 L183,2076.7 L194,2072.3 L205,2077.8 L227,2078.6 L238,2073.9 L249,2079.1 L271,2079.5 L282,2074.5 L293,2079.5 L315,2079.4 L326,2074.2 L337,2078.9 L359,2078.3 L370,2072.8 L381,2077.4 L403,2076.2 L414,2070.5 L425,2074.8 L447,2073.1 L458,2067.2 L469,2071.2 L491,2069 L502,2062.8 L513,2066.6 L535,2063.9 L546,2057.5 L557,2061 L579,2057.9 L590,2051.2 L601,2054.4 L623,2050.8 L634,2043.9 L645,2046.9 L667,2042.7 L678,2035.5 L689,2038.3 L711,2033.7 M40,2067.5 L51,2063.8 L73,2066.4 L84,2072.6 L95,2068.7 L117,2070.8 L128,2076.7 L139,2072.6 L161,2074.2 L172,2079.9 L183,2075.5 L205,2076.6 L216,2082 L227,2077.4 L249,2077.9 L260,2083.1 L271,2078.3 L293,2078.3 L304,2083.3 L315,2078.2 L337,2077.7 L348,2082.4 L359,2077.1 L381,2076.2 L392,2080.6 L403,2075 L425,2073.6 L436,2077.8 L447,2071.9 L469,2070 L480,2073.9 L491,2067.8 L513,2065.4 L524,2069.1 L535,2062.7 L557,2059.8 L568,2063.3 L579,2056.7 L601,2053.2 L612,2056.4 L623,2049.6 L645,2045.7 L656,2048.6 L667,2041.5 L689,2037.1 L700,2039.8 L711,2032.5 L733,2027.5 M40,2067.5 L51,2073.8 L73,2076.4 L84,2072.6 L95,2078.7 L117,2080.8 L128,2076.7 L139,2082.6 L161,2084.2 L172,2079.9 L183,2085.5 L205,2086.6 L216,2082 L227,2087.4 L249,2087.9 L260,2083.1 L271,2088.3 L293,2088.3 L304,2083.3 L315,2088.2 L337,2087.7 L348,2082.4 L359,2087.1 L381,2086.2 L392,2080.6 L403,2085 L425,2083.6 L436,2077.8 L447,2081.9 L469,2080 L480,2073.9 L491,2077.8 L513,2075.4 L524,2069.1 L535,2072.7 L557,2069.8 L568,2063.3 L579,2066.7 L601,2063.2 L612,2056.4 L623,2059.6 L645,2055.7 L656,2048.6 L667,2051.5 L689,2047.1 L700,2039.8 L711,2042.5 L733,2037.5 M18,2073.3 L29,2069.8 L51,2072.6 L62,2079 L73,2075.2 L95,2077.5 L106,2083.6 L117,2079.6 L139,2081.4 L150,2087.2 L161,2083 L183,2084.3 L194,2089.9 L205,2085.4 L227,2086.2 L238,2091.5 L249,2086.7 L271,2087.1 L282,2092.1 L293,2087.1 L315,2087 L326,2091.8 L337,2086.5 L359,2085.9 L370,2090.4 L381,2085 L403,2083.8 L414,2088.1 L425,2082.4 L447,2080.7 L458,2084.8 L469,2078.8 L491,2076.6 L502,2080.4 L513,2074.2 L535,2071.5 L546,2075.1 L557,2068.6 L579,2065.5 L590,2068.8 L601,2062 L623,2058.4 L634,2061.5 L645,2054.5 L667,2050.3 L678,2053.1 L689,2045.9 L711,2041.3 M18,2073.3 L29,2079.8 L51,2082.6 L62,2079 L73,2085.2 L95,2087.5 L106,2083.6 L117,2089.6 L139,2091.4 L150,2087.2 L161,2093 L183,2094.3 L194,2089.9 L205,2095.4 L227,2096.2 L238,2091.5 L249,2096.7 L271,2097.1 L282,2092.1 L293,2097.1 L315,2097 L326,2091.8 L337,2096.5 L359,2095.9 L370,2090.4 L381,2095 L403,2093.8 L414,2088.1 L425,2092.4 L447,2090.7 L458,2084.8 L469,2088.8 L491,2086.6 L502,2080.4 L513,2084.2 L535,2081.5 L546,2075.1 L557,2078.6 L579,2075.5 L590,2068.8 L601,2072 L623,2068.4 L634,2061.5 L645,2064.5 L667,2060.3 L678,2053.1 L689,2055.9 L711,2051.3 M40,2085.1 L51,2081.4 L73,2084 L84,2090.2 L95,2086.3 L117,2088.4 L128,2094.3 L139,2090.2 L161,2091.8 L172,2097.5 L183,2093.1 L205,2094.2 L216,2099.6 L227,2095 L249,2095.5 L260,2100.7 L271,2095.9 L293,2095.9 L304,2100.9 L315,2095.8 L337,2095.3 L348,2100 L359,2094.7 L381,2093.8 L392,2098.2 L403,2092.6 L425,2091.2 L436,2095.4 L447,2089.5 L469,2087.6 L480,2091.5 L491,2085.4 L513,2083 L524,2086.7 L535,2080.3 L557,2077.4 L568,2080.9 L579,2074.3 L601,2070.8 L612,2074 L623,2067.2 L645,2063.3 L656,2066.2 L667,2059.1 L689,2054.7 L700,2057.4 L711,2050.1 L733,2045.1 M40,2085.1 L51,2091.4 L73,2094 L84,2090.2 L95,2096.3 L117,2098.4 L128,2094.3 L139,2100.2 L161,2101.8 L172,2097.5 L183,2103.1 L205,2104.2 L216,2099.6 L227,2105 L249,2105.5 L260,2100.7 L271,2105.9 L293,2105.9 L304,2100.9 L315,2105.8 L337,2105.3 L348,2100 L359,2104.7 L381,2103.8 L392,2098.2 L403,2102.6 L425,2101.2 L436,2095.4 L447,2099.5 L469,2097.6 L480,2091.5 L491,2095.4 L513,2093 L524,2086.7 L535,2090.3 L557,2087.4 L568,2080.9 L579,2084.3 L601,2080.8 L612,2074 L623,2077.2 L645,2073.3 L656,2066.2 L667,2069.1 L689,2064.7 L700,2057.4 L711,2060.1 L733,2055.1 M18,2090.9 L29,2087.4 L51,2090.2 L62,2096.6 L73,2092.8 L95,2095.1 L106,2101.2 L117,2097.2 L139,2099 L150,2104.8 L161,2100.6 L183,2101.9 L194,2107.5 L205,2103 L227,2103.8 L238,2109.1 L249,2104.3 L271,2104.7 L282,2109.7 L293,2104.7 L315,2104.6 L326,2109.4 L337,2104.1 L359,2103.5 L370,2108 L381,2102.6 L403,2101.4 L414,2105.7 L425,2100 L447,2098.3 L458,2102.4 L469,2096.4 L491,2094.2 L502,2098 L513,2091.8 L535,2089.1 L546,2092.7 L557,2086.2 L579,2083.1 L590,2086.4 L601,2079.6 L623,2076 L634,2079.1 L645,2072.1 L667,2067.9 L678,2070.7 L689,2063.5 L711,2058.9 M18,2090.9 L29,2097.4 L51,2100.2 L62,2096.6 L73,2102.8 L95,2105.1 L106,2101.2 L117,2107.2 L139,2109 L150,2104.8 L161,2110.6 L183,2111.9 L194,2107.5 L205,2113 L227,2113.8 L238,2109.1 L249,2114.3 L271,2114.7 L282,2109.7 L293,2114.7 L315,2114.6 L326,2109.4 L337,2114.1 L359,2113.5 L370,2108 L381,2112.6 L403,2111.4 L414,2105.7 L425,2110 L447,2108.3 L458,2102.4 L469,2106.4 L491,2104.2 L502,2098 L513,2101.8 L535,2099.1 L546,2092.7 L557,2096.2 L579,2093.1 L590,2086.4 L601,2089.6 L623,2086 L634,2079.1 L645,2082.1 L667,2077.9 L678,2070.7 L689,2073.5 L711,2068.9 M40,2102.7 L51,2099 L73,2101.6 L84,2107.8 L95,2103.9 L117,2106 L128,2111.9 L139,2107.8 L161,2109.4 L172,2115.1 L183,2110.7 L205,2111.8 L216,2117.2 L227,2112.6 L249,2113.1 L260,2118.3 L271,2113.5 L293,2113.5 L304,2118.5 L315,2113.4 L337,2112.9 L348,2117.6 L359,2112.3 L381,2111.4 L392,2115.8 L403,2110.2 L425,2108.8 L436,2113 L447,2107.1 L469,2105.2 L480,2109.1 L491,2103 L513,2100.6 L524,2104.3 L535,2097.9 L557,2095 L568,2098.5 L579,2091.9 L601,2088.4 L612,2091.6 L623,2084.8 L645,2080.9 L656,2083.8 L667,2076.7 L689,2072.3 L700,2075 L711,2067.7 L733,2062.7 M40,2102.7 L51,2109 L73,2111.6 L84,2107.8 L95,2113.9 L117,2116 L128,2111.9 L139,2117.8 L161,2119.4 L172,2115.1 L183,2120.7 L205,2121.8 L216,2117.2 L227,2122.6 L249,2123.1 L260,2118.3 L271,2123.5 L293,2123.5 L304,2118.5 L315,2123.4 L337,2122.9 L348,2117.6 L359,2122.3 L381,2121.4 L392,2115.8 L403,2120.2 L425,2118.8 L436,2113 L447,2117.1 L469,2115.2 L480,2109.1 L491,2113 L513,2110.6 L524,2104.3 L535,2107.9 L557,2105 L568,2098.5 L579,2101.9 L601,2098.4 L612,2091.6 L623,2094.8 L645,2090.9 L656,2083.8 L667,2086.7 L689,2082.3 L700,2075 L711,2077.7 L733,2072.7 M18,2108.5 L29,2105 L51,2107.8 L62,2114.2 L73,2110.4 L95,2112.7 L106,2118.8 L117,2114.8 L139,2116.6 L150,2122.4 L161,2118.2 L183,2119.5 L194,2125.1 L205,2120.6 L227,2121.4 L238,2126.7 L249,2121.9 L271,2122.3 L282,2127.3 L293,2122.3 L315,2122.2 L326,2127 L337,2121.7 L359,2121.1 L370,2125.6 L381,2120.2 L403,2119 L414,2123.3 L425,2117.6 L447,2115.9 L458,2120 L469,2114 L491,2111.8 L502,2115.6 L513,2109.4 L535,2106.7 L546,2110.3 L557,2103.8 L579,2100.7 L590,2104 L601,2097.2 L623,2093.6 L634,2096.7 L645,2089.7 L667,2085.5 L678,2088.3 L689,2081.1 L711,2076.5 M18,2108.5 L29,2115 L51,2117.8 L62,2114.2 L73,2120.4 L95,2122.7 L106,2118.8 L117,2124.8 L139,2126.6 L150,2122.4 L161,2128.2 L183,2129.5 L194,2125.1 L205,2130.6 L227,2131.4 L238,2126.7 L249,2131.9 L271,2132.3 L282,2127.3 L293,2132.3 L315,2132.2 L326,2127 L337,2131.7 L359,2131.1 L370,2125.6 L381,2130.2 L403,2129 L414,2123.3 L425,2127.6 L447,2125.9 L458,2120 L469,2124 L491,2121.8 L502,2115.6 L513,2119.4 L535,2116.7 L546,2110.3 L557,2113.8 L579,2110.7 L590,2104 L601,2107.2 L623,2103.6 L634,2096.7 L645,2099.7 L667,2095.5 L678,2088.3 L689,2091.1 L711,2086.5 M40,2120.3 L51,2116.6 L73,2119.2 L84,2125.4 L95,2121.5 L117,2123.6 L128,2129.5 L139,2125.4 L161,2127 L172,2132.7 L183,2128.3 L205,2129.4 L216,2134.8 L227,2130.2 L249,2130.7 L260,2135.9 L271,2131.1 L293,2131.1 L304,2136.1 L315,2131 L337,2130.5 L348,2135.2 L359,2129.9 L381,2129 L392,2133.4 L403,2127.8 L425,2126.4 L436,2130.6 L447,2124.7 L469,2122.8 L480,2126.7 L491,2120.6 L513,2118.2 L524,2121.9 L535,2115.5 L557,2112.6 L568,2116.1 L579,2109.5 L601,2106 L612,2109.2 L623,2102.4 L645,2098.5 L656,2101.4 L667,2094.3 L689,2089.9 L700,2092.6 L711,2085.3 L733,2080.3 M40,2120.3 L51,2126.6 L73,2129.2 L84,2125.4 L95,2131.5 L117,2133.6 L128,2129.5 L139,2135.4 L161,2137 L172,2132.7 L183,2138.3 L205,2139.4 L216,2134.8 L227,2140.2 L249,2140.7 L260,2135.9 L271,2141.1 L293,2141.1 L304,2136.1 L315,2141 L337,2140.5 L348,2135.2 L359,2139.9 L381,2139 L392,2133.4 L403,2137.8 L425,2136.4 L436,2130.6 L447,2134.7 L469,2132.8 L480,2126.7 L491,2130.6 L513,2128.2 L524,2121.9 L535,2125.5 L557,2122.6 L568,2116.1 L579,2119.5 L601,2116 L612,2109.2 L623,2112.4 L645,2108.5 L656,2101.4 L667,2104.3 L689,2099.9 L700,2092.6 L711,2095.3 L733,2090.3 M18,2126.1 L29,2122.6 L51,2125.4 L62,2131.8 L73,2128 L95,2130.3 L106,2136.4 L117,2132.4 L139,2134.2 L150,2140 L161,2135.8 L183,2137.1 L194,2142.7 L205,2138.2 L227,2139 L238,2144.3 L249,2139.5 L271,2139.9 L282,2144.9 L293,2139.9 L315,2139.8 L326,2144.6 L337,2139.3 L359,2138.7 L370,2143.2 L381,2137.8 L403,2136.6 L414,2140.9 L425,2135.2 L447,2133.5 L458,2137.6 L469,2131.6 L491,2129.4 L502,2133.2 L513,2127 L535,2124.3 L546,2127.9 L557,2121.4 L579,2118.3 L590,2121.6 L601,2114.8 L623,2111.2 L634,2114.3 L645,2107.3 L667,2103.1 L678,2105.9 L689,2098.7 L711,2094.1 M18,2126.1 L29,2132.6 L51,2135.4 L62,2131.8 L73,2138 L95,2140.3 L106,2136.4 L117,2142.4 L139,2144.2 L150,2140 L161,2145.8 L183,2147.1 L194,2142.7 L205,2148.2 L227,2149 L238,2144.3 L249,2149.5 L271,2149.9 L282,2144.9 L293,2149.9 L315,2149.8 L326,2144.6 L337,2149.3 L359,2148.7 L370,2143.2 L381,2147.8 L403,2146.6 L414,2140.9 L425,2145.2 L447,2143.5 L458,2137.6 L469,2141.6 L491,2139.4 L502,2133.2 L513,2137 L535,2134.3 L546,2127.9 L557,2131.4 L579,2128.3 L590,2121.6 L601,2124.8 L623,2121.2 L634,2114.3 L645,2117.3 L667,2113.1 L678,2105.9 L689,2108.7 L711,2104.1 M40,2137.9 L51,2134.2 L73,2136.8 L84,2143 L95,2139.1 L117,2141.2 L128,2147.1 L139,2143 L161,2144.6 L172,2150.3 L183,2145.9 L205,2147 L216,2152.4 L227,2147.8 L249,2148.3 L260,2153.5 L271,2148.7 L293,2148.7 L304,2153.7 L315,2148.6 L337,2148.1 L348,2152.8 L359,2147.5 L381,2146.6 L392,2151 L403,2145.4 L425,2144 L436,2148.2 L447,2142.3 L469,2140.4 L480,2144.3 L491,2138.2 L513,2135.8 L524,2139.5 L535,2133.1 L557,2130.2 L568,2133.7 L579,2127.1 L601,2123.6 L612,2126.8 L623,2120 L645,2116.1 L656,2119 L667,2111.9 L689,2107.5 L700,2110.2 L711,2102.9 L733,2097.9 M40,2137.9 L51,2144.2 L73,2146.8 L84,2143 L95,2149.1 L117,2151.2 L128,2147.1 L139,2153 L161,2154.6 L172,2150.3 L183,2155.9 L205,2157 L216,2152.4 L227,2157.8 L249,2158.3 L260,2153.5 L271,2158.7 L293,2158.7 L304,2153.7 L315,2158.6 L337,2158.1 L348,2152.8 L359,2157.5 L381,2156.6 L392,2151 L403,2155.4 L425,2154 L436,2148.2 L447,2152.3 L469,2150.4 L480,2144.3 L491,2148.2 L513,2145.8 L524,2139.5 L535,2143.1 L557,2140.2 L568,2133.7 L579,2137.1 L601,2133.6 L612,2126.8 L623,2130 L645,2126.1 L656,2119 L667,2121.9 L689,2117.5 L700,2110.2 L711,2112.9 L733,2107.9 M18,2143.7 L29,2140.2 L51,2143 L62,2149.4 L73,2145.6 L95,2147.9 L106,2154 L117,2150 L139,2151.8 L150,2157.6 L161,2153.4 L183,2154.7 L194,2160.3 L205,2155.8 L227,2156.6 L238,2161.9 L249,2157.1 L271,2157.5 L282,2162.5 L293,2157.5 L315,2157.4 L326,2162.2 L337,2156.9 L359,2156.3 L370,2160.8 L381,2155.4 L403,2154.2 L414,2158.5 L425,2152.8 L447,2151.1 L458,2155.2 L469,2149.2 L491,2147 L502,2150.8 L513,2144.6 L535,2141.9 L546,2145.5 L557,2139 L579,2135.9 L590,2139.2 L601,2132.4 L623,2128.8 L634,2131.9 L645,2124.9 L667,2120.7 L678,2123.5 L689,2116.3 L711,2111.7 M18,2143.7 L29,2150.2 L51,2153 L62,2149.4 L73,2155.6 L95,2157.9 L106,2154 L117,2160 L139,2161.8 L150,2157.6 L161,2163.4 L183,2164.7 L194,2160.3 L205,2165.8 L227,2166.6 L238,2161.9 L249,2167.1 L271,2167.5 L282,2162.5 L293,2167.5 L315,2167.4 L326,2162.2 L337,2166.9 L359,2166.3 L370,2160.8 L381,2165.4 L403,2164.2 L414,2158.5 L425,2162.8 L447,2161.1 L458,2155.2 L469,2159.2 L491,2157 L502,2150.8 L513,2154.6 L535,2151.9 L546,2145.5 L557,2149 L579,2145.9 L590,2139.2 L601,2142.4 L623,2138.8 L634,2131.9 L645,2134.9 L667,2130.7 L678,2123.5 L689,2126.3 L711,2121.7" fill="none" stroke="#4a1ee2" stroke-width="3.6"/>
</g>
<text x="287" y="2124" font-size="39.1" fill="#2a1a48" font-weight="normal" textLength="253.7" lengthAdjust="spacingAndGlyphs" opacity="0.85">Impede LiPSs</text>
<path d="M103,1924.5 Q371,1955 607,1926 L661,1975 Q371,2049 75,1977 Z" fill="#28c5cb"/>
<path d="M75,1977 Q371,2049 661,1975 L661,1995 Q371,2077 75,2000 Z" fill="#02dfe6"/>
<circle cx="346.5" cy="1967.9" r="3.2" fill="#f040e8"/>
<circle cx="168.6" cy="1984.9" r="3.2" fill="#f040e8"/>
<circle cx="103.7" cy="1953.5" r="3.2" fill="#f040e8"/>
<circle cx="556.1" cy="1939.2" r="3.2" fill="#f040e8"/>
<circle cx="395.7" cy="1983.6" r="3.2" fill="#f040e8"/>
<circle cx="125" cy="1950.2" r="3.2" fill="#f040e8"/>
<circle cx="471" cy="1969.4" r="3.2" fill="#f040e8"/>
<circle cx="475.3" cy="1950.6" r="3.2" fill="#f040e8"/>
<circle cx="232.3" cy="1946.1" r="3.2" fill="#f040e8"/>
<circle cx="372.2" cy="2003.9" r="3.2" fill="#f040e8"/>
<circle cx="416.8" cy="1993.1" r="3.2" fill="#f040e8"/>
<circle cx="304.6" cy="1990.9" r="3.2" fill="#f040e8"/>
<circle cx="159" cy="1949.9" r="3.2" fill="#f040e8"/>
<circle cx="461.1" cy="1987.5" r="3.2" fill="#f040e8"/>
<circle cx="325" cy="1949" r="3.2" fill="#f040e8"/>
<circle cx="246" cy="1953.2" r="3.2" fill="#f040e8"/>
<circle cx="248.3" cy="1991.1" r="3.2" fill="#f040e8"/>
<circle cx="202.2" cy="1990.8" r="3.2" fill="#f040e8"/>
<circle cx="546.3" cy="1938.7" r="3.2" fill="#f040e8"/>
<circle cx="302.6" cy="1974.4" r="3.2" fill="#f040e8"/>
<circle cx="114.7" cy="1951.1" r="3.2" fill="#f040e8"/>
<circle cx="561.2" cy="1940.4" r="3.2" fill="#f040e8"/>
<circle cx="411.9" cy="1951.1" r="3.2" fill="#f040e8"/>
<circle cx="411.9" cy="2001.2" r="3.2" fill="#f040e8"/>
<circle cx="215.9" cy="1938.7" r="3.2" fill="#f040e8"/>
<circle cx="144.5" cy="1962.1" r="3.2" fill="#f040e8"/>
<circle cx="119.4" cy="1933.7" r="3.2" fill="#f040e8"/>
<circle cx="366.9" cy="2003.7" r="3.2" fill="#f040e8"/>
<circle cx="324.3" cy="1969.1" r="3.2" fill="#f040e8"/>
<circle cx="431.9" cy="1948.7" r="3.2" fill="#f040e8"/>
<circle cx="404.1" cy="1954.6" r="3.2" fill="#f040e8"/>
<circle cx="429.3" cy="2004.5" r="3.2" fill="#f040e8"/>
<circle cx="128.3" cy="1960.5" r="3.2" fill="#f040e8"/>
<circle cx="416.9" cy="1952.8" r="3.2" fill="#f040e8"/>
<circle cx="239.4" cy="2002" r="3.2" fill="#f040e8"/>
<circle cx="604.8" cy="1935.4" r="3.2" fill="#f040e8"/>
<circle cx="482.6" cy="2000" r="3.2" fill="#f040e8"/>
<circle cx="226.1" cy="1976.6" r="3.2" fill="#f040e8"/>
<circle cx="126.5" cy="1949.7" r="3.2" fill="#f040e8"/>
<circle cx="458.5" cy="1979" r="3.2" fill="#f040e8"/>
<circle cx="497.5" cy="1944.8" r="3.2" fill="#f040e8"/>
<circle cx="284.3" cy="1997.4" r="3.2" fill="#f040e8"/>
<circle cx="409.6" cy="1972.5" r="3.2" fill="#f040e8"/>
<circle cx="314.5" cy="2006.9" r="3.2" fill="#f040e8"/>
<circle cx="399.7" cy="1944.7" r="3.2" fill="#f040e8"/>
<circle cx="516.3" cy="1957.9" r="3.2" fill="#f040e8"/>
<circle cx="331.1" cy="1957.3" r="3.2" fill="#f040e8"/>
<circle cx="336.6" cy="1964.6" r="3.2" fill="#f040e8"/>
<polygon points="242.4,1887.9 246.2,1894.4 250.3,1900.6 254.9,1906.4 259.8,1911.9 265.1,1917 270.7,1921.8 276.6,1926.2 282.8,1930.3 289.2,1934 295.9,1937.4 302.7,1940.5 309.7,1943.2 316.9,1945.6 324.2,1947.7 331.7,1949.4 339.2,1950.8 346.8,1951.9 354.5,1952.6 362.2,1953.1 369.9,1953.1 377.6,1952.9 385.3,1952.3 392.9,1951.3 400.5,1950.1 407.9,1948.5 415.3,1946.5 422.5,1944.2 429.6,1941.6 436.5,1938.6 443.2,1935.2 449.6,1931.6 455.9,1927.5 461.8,1923.1 467.5,1918.4 472.8,1913.2 477.8,1907.8 482.5,1901.9 486.8,1895.7 490.6,1889.2 494,1882.3 484,1877.7 480.8,1883.8 477.3,1889.6 473.4,1895 469.1,1900.1 464.5,1904.9 459.6,1909.4 454.5,1913.6 449,1917.4 443.3,1920.9 437.4,1924.2 431.2,1927.1 424.9,1929.7 418.4,1931.9 411.7,1933.9 405,1935.5 398.1,1936.9 391.1,1937.9 384,1938.6 377,1939 369.9,1939.1 362.8,1938.9 355.7,1938.4 348.7,1937.6 341.7,1936.5 334.8,1935 328.1,1933.3 321.5,1931.3 315,1929 308.8,1926.4 302.7,1923.5 296.9,1920.4 291.3,1916.9 286,1913.3 280.9,1909.3 276.2,1905.1 271.7,1900.6 267.7,1895.8 263.9,1890.9 260.6,1885.6 257.6,1880.1" fill="#f4a2a4"/>
<path d="M473,1875 L502,1862 L497,1894 Z" fill="#ee8c8e"/>
<text x="297" y="1897" font-size="32.8" fill="#222" font-weight="normal" textLength="149" lengthAdjust="spacingAndGlyphs">catalyze</text>
<circle cx="247" cy="1843" r="6.5" fill="url(#yel2)"/>
<circle cx="242" cy="1855" r="6.5" fill="url(#yel2)"/>
<circle cx="230" cy="1860" r="6.5" fill="url(#yel2)"/>
<circle cx="218" cy="1855" r="6.5" fill="url(#yel2)"/>
<circle cx="213" cy="1843" r="6.5" fill="url(#yel2)"/>
<circle cx="218" cy="1831" r="6.5" fill="url(#yel2)"/>
<circle cx="230" cy="1826" r="6.5" fill="url(#yel2)"/>
<circle cx="242" cy="1831" r="6.5" fill="url(#yel2)"/>
<circle cx="481" cy="1818" r="6" fill="url(#grnsph)"/>
<circle cx="499" cy="1816" r="6" fill="url(#grnsph)"/>
<circle cx="490" cy="1823" r="6" fill="url(#yel2)"/>
<circle cx="546" cy="1803" r="6" fill="url(#grnsph)"/>
<circle cx="564" cy="1801" r="6" fill="url(#grnsph)"/>
<circle cx="555" cy="1808" r="6" fill="url(#yel2)"/>
<circle cx="537" cy="1851.5" r="6" fill="url(#grnsph)"/>
<circle cx="555" cy="1849.5" r="6" fill="url(#grnsph)"/>
<circle cx="546" cy="1856.5" r="6" fill="url(#yel2)"/>
<circle cx="202.4" cy="1976" r="5.5" fill="url(#grnsph)"/>
<circle cx="233.6" cy="1958" r="5.5" fill="url(#grnsph)"/>
<circle cx="210.2" cy="1968.5" r="6" fill="url(#yel2)"/>
<circle cx="218" cy="1970" r="6" fill="url(#yel2)"/>
<circle cx="225.8" cy="1959.5" r="6" fill="url(#yel2)"/>
<circle cx="270.9" cy="1992.7" r="5.5" fill="url(#grnsph)"/>
<circle cx="313.1" cy="1977.3" r="5.5" fill="url(#grnsph)"/>
<circle cx="279.3" cy="1986.6" r="6" fill="url(#yel2)"/>
<circle cx="287.8" cy="1989.5" r="6" fill="url(#yel2)"/>
<circle cx="296.2" cy="1980.5" r="6" fill="url(#yel2)"/>
<circle cx="304.7" cy="1983.4" r="6" fill="url(#yel2)"/>
<circle cx="333.9" cy="1961" r="5.5" fill="url(#grnsph)"/>
<circle cx="386.1" cy="1975" r="5.5" fill="url(#grnsph)"/>
<circle cx="342.6" cy="1960.3" r="6" fill="url(#yel2)"/>
<circle cx="351.3" cy="1968.7" r="6" fill="url(#yel2)"/>
<circle cx="360" cy="1965" r="6" fill="url(#yel2)"/>
<circle cx="368.7" cy="1973.3" r="6" fill="url(#yel2)"/>
<circle cx="377.4" cy="1969.7" r="6" fill="url(#yel2)"/>
<circle cx="433.9" cy="1995.7" r="5.5" fill="url(#grnsph)"/>
<circle cx="476.1" cy="1980.3" r="5.5" fill="url(#grnsph)"/>
<circle cx="442.3" cy="1989.6" r="6" fill="url(#yel2)"/>
<circle cx="450.8" cy="1992.5" r="6" fill="url(#yel2)"/>
<circle cx="459.2" cy="1983.5" r="6" fill="url(#yel2)"/>
<circle cx="467.7" cy="1986.4" r="6" fill="url(#yel2)"/>
<circle cx="518.1" cy="1973.2" r="5.5" fill="url(#grnsph)"/>
<circle cx="551.9" cy="1960.8" r="5.5" fill="url(#grnsph)"/>
<circle cx="526.5" cy="1967.1" r="6" fill="url(#yel2)"/>
<circle cx="535" cy="1970" r="6" fill="url(#yel2)"/>
<circle cx="543.5" cy="1960.9" r="6" fill="url(#yel2)"/>
<circle cx="330.3" cy="2057.8" r="5.5" fill="url(#grnsph)"/>
<circle cx="373.7" cy="2046.2" r="5.5" fill="url(#grnsph)"/>
<circle cx="339" cy="2052.5" r="6" fill="url(#yel2)"/>
<circle cx="347.7" cy="2056.2" r="6" fill="url(#yel2)"/>
<circle cx="356.3" cy="2047.8" r="6" fill="url(#yel2)"/>
<circle cx="365" cy="2051.5" r="6" fill="url(#yel2)"/>
<circle cx="123.7" cy="2079.6" r="5.5" fill="url(#grnsph)"/>
<circle cx="156.3" cy="2064.4" r="5.5" fill="url(#grnsph)"/>
<circle cx="131.8" cy="2072.8" r="6" fill="url(#yel2)"/>
<circle cx="140" cy="2075" r="6" fill="url(#yel2)"/>
<circle cx="148.2" cy="2065.2" r="6" fill="url(#yel2)"/>
<circle cx="418.9" cy="2075.3" r="5.5" fill="url(#grnsph)"/>
<circle cx="461.1" cy="2090.7" r="5.5" fill="url(#grnsph)"/>
<circle cx="427.3" cy="2075.4" r="6" fill="url(#yel2)"/>
<circle cx="435.8" cy="2084.5" r="6" fill="url(#yel2)"/>
<circle cx="444.2" cy="2081.5" r="6" fill="url(#yel2)"/>
<circle cx="452.7" cy="2090.6" r="6" fill="url(#yel2)"/>
<circle cx="610.9" cy="2062.7" r="5.5" fill="url(#grnsph)"/>
<circle cx="653.1" cy="2047.3" r="5.5" fill="url(#grnsph)"/>
<circle cx="619.3" cy="2056.6" r="6" fill="url(#yel2)"/>
<circle cx="627.8" cy="2059.5" r="6" fill="url(#yel2)"/>
<circle cx="636.2" cy="2050.5" r="6" fill="url(#yel2)"/>
<circle cx="644.7" cy="2053.4" r="6" fill="url(#yel2)"/>
<circle cx="234" cy="2033" r="6" fill="url(#grnsph)"/>
<circle cx="261" cy="2035" r="6" fill="url(#grnsph)"/>
<circle cx="275" cy="2058" r="6" fill="url(#grnsph)"/>
<circle cx="217" cy="2063" r="6" fill="url(#grnsph)"/>
<circle cx="510" cy="2031" r="6" fill="url(#grnsph)"/>
<circle cx="544" cy="2024" r="6" fill="url(#grnsph)"/>
<circle cx="547" cy="2045" r="6" fill="url(#grnsph)"/>
<circle cx="502" cy="2061" r="6" fill="url(#grnsph)"/>
<circle cx="238" cy="2178" r="6" fill="url(#grnsph)"/>
<circle cx="280" cy="2173" r="6" fill="url(#grnsph)"/>
<circle cx="227" cy="2198" r="6" fill="url(#grnsph)"/>
<circle cx="261" cy="2202" r="6" fill="url(#grnsph)"/>
<circle cx="283" cy="2215" r="6" fill="url(#grnsph)"/>
<circle cx="522" cy="2175" r="6" fill="url(#grnsph)"/>
<circle cx="563" cy="2170" r="6" fill="url(#grnsph)"/>
<circle cx="511" cy="2196" r="6" fill="url(#grnsph)"/>
<circle cx="545" cy="2200" r="6" fill="url(#grnsph)"/>
<circle cx="568" cy="2212" r="6" fill="url(#grnsph)"/>
<text x="644.5" y="1811" font-size="71.3" fill="#000" font-weight="bold" textLength="90" lengthAdjust="spacingAndGlyphs">(e)</text>
<rect x="818" y="1769.7" width="578.4" height="442.7" fill="none" stroke="#333" stroke-width="3"/>
<line x1="810" y1="2213.8" x2="818" y2="2213.8" stroke="#333" stroke-width="2"/>
<line x1="813" y1="2164.5" x2="818" y2="2164.5" stroke="#333" stroke-width="2"/>
<line x1="810" y1="2115.2" x2="818" y2="2115.2" stroke="#333" stroke-width="2"/>
<text x="790.4" y="2122.7" font-size="20.9" fill="#555" font-weight="normal" textLength="13" lengthAdjust="spacingAndGlyphs">0</text>
<line x1="813" y1="2065.9" x2="818" y2="2065.9" stroke="#333" stroke-width="2"/>
<line x1="810" y1="2016.6" x2="818" y2="2016.6" stroke="#333" stroke-width="2"/>
<text x="762.4" y="2024.1" font-size="20.9" fill="#555" font-weight="normal" textLength="41" lengthAdjust="spacingAndGlyphs">400</text>
<line x1="813" y1="1967.3" x2="818" y2="1967.3" stroke="#333" stroke-width="2"/>
<line x1="810" y1="1918" x2="818" y2="1918" stroke="#333" stroke-width="2"/>
<text x="762.4" y="1925.5" font-size="20.9" fill="#555" font-weight="normal" textLength="41" lengthAdjust="spacingAndGlyphs">800</text>
<line x1="813" y1="1868.7" x2="818" y2="1868.7" stroke="#333" stroke-width="2"/>
<line x1="810" y1="1819.4" x2="818" y2="1819.4" stroke="#333" stroke-width="2"/>
<text x="748.4" y="1826.9" font-size="20.9" fill="#555" font-weight="normal" textLength="55" lengthAdjust="spacingAndGlyphs">1200</text>
<line x1="813" y1="1770.1" x2="818" y2="1770.1" stroke="#333" stroke-width="2"/>
<line x1="818" y1="2212.4" x2="818" y2="2220.4" stroke="#333" stroke-width="2"/>
<text x="811.5" y="2247.6" font-size="23.2" fill="#555" font-weight="normal" textLength="13" lengthAdjust="spacingAndGlyphs">0</text>
<line x1="899.4" y1="2212.4" x2="899.4" y2="2217.4" stroke="#333" stroke-width="2"/>
<line x1="980.7" y1="2212.4" x2="980.7" y2="2220.4" stroke="#333" stroke-width="2"/>
<text x="967.2" y="2247.6" font-size="23.2" fill="#555" font-weight="normal" textLength="27" lengthAdjust="spacingAndGlyphs">20</text>
<line x1="1062.1" y1="2212.4" x2="1062.1" y2="2217.4" stroke="#333" stroke-width="2"/>
<line x1="1143.5" y1="2212.4" x2="1143.5" y2="2220.4" stroke="#333" stroke-width="2"/>
<text x="1130" y="2247.6" font-size="23.2" fill="#555" font-weight="normal" textLength="27" lengthAdjust="spacingAndGlyphs">40</text>
<line x1="1224.8" y1="2212.4" x2="1224.8" y2="2217.4" stroke="#333" stroke-width="2"/>
<line x1="1306.2" y1="2212.4" x2="1306.2" y2="2220.4" stroke="#333" stroke-width="2"/>
<text x="1292.7" y="2247.6" font-size="23.2" fill="#555" font-weight="normal" textLength="27" lengthAdjust="spacingAndGlyphs">60</text>
<line x1="1387.6" y1="2212.4" x2="1387.6" y2="2217.4" stroke="#333" stroke-width="2"/>
<text x="1004" y="2278.6" font-size="26" fill="#444" font-weight="normal" textLength="190.5" lengthAdjust="spacingAndGlyphs">Cycle Number</text>
<text x="0" y="0" font-size="26.5" fill="#444" textLength="257" lengthAdjust="spacingAndGlyphs" transform="translate(735 2129.6) rotate(-90)">Capacity (mAh g<tspan font-size="17" dy="-9">-1</tspan><tspan dy="9">)</tspan></text>
<path d="M826.1,1950 L834.3,1952.5 L842.4,1955 L850.5,1956.7 L858.7,1955 L866.8,1959.9 L875,1961.1 L883.1,1962.4 L891.2,1962.4 L899.4,1961.1 L907.5,1959.9 L915.6,1969.8 L923.8,1972.2 L931.9,1972.2 L940.1,1972.7 L948.2,1973.5 L956.3,1974.7 L964.5,1969.8 L972.6,1972.2 L980.7,1973.5 L988.9,1975.9 L997,1982.1 L1005.2,1984.6 L1013.3,1984.6 L1021.4,1984.6 L1029.6,1984.6 L1037.7,1984.6 L1045.8,1984.6 L1054,1984.6 L1062.1,1984.1 L1070.2,1984.6 L1078.4,1996.9 L1086.5,2000.6 L1094.7,2001.3 L1102.8,2001.8 L1110.9,2001.8 L1119.1,2002.3 L1127.2,2003 L1135.3,2003.8 L1143.5,2004.3 L1151.6,2005.5 L1159.8,2024 L1167.9,2031.4 L1176,2033.9 L1184.2,2035.1 L1192.3,2033.9 L1200.4,2030.2 L1208.6,2025.2 L1216.7,2024 L1224.8,2025.2 L1233,2086.1 L1241.1,2094.2 L1249.3,2095.5 L1257.4,2095.5 L1265.5,2095.5 L1273.7,2095.5 L1281.8,2095.5 L1289.9,2095.5 L1298.1,2095.5 L1306.2,2095.5 L1314.4,1980.9 L1322.5,1963.8 L1330.6,1965.3 L1338.8,1967.3 L1346.9,1967.3 L1355,1966.1 L1363.2,1964.8 L1371.3,1964.8 L1379.5,1966.1 L1387.6,1967.3 L1395.7,1967.3" fill="none" stroke="#36a048" stroke-width="2.6"/>
<circle cx="826.1" cy="1950" r="3.8" fill="#e8f6ea" stroke="#36a048" stroke-width="2.5"/>
<circle cx="834.3" cy="1952.5" r="3.8" fill="#e8f6ea" stroke="#36a048" stroke-width="2.5"/>
<circle cx="842.4" cy="1955" r="3.8" fill="#e8f6ea" stroke="#36a048" stroke-width="2.5"/>
<circle cx="850.5" cy="1956.7" r="3.8" fill="#e8f6ea" stroke="#36a048" stroke-width="2.5"/>
<circle cx="858.7" cy="1955" r="3.8" fill="#e8f6ea" stroke="#36a048" stroke-width="2.5"/>
<circle cx="866.8" cy="1959.9" r="3.8" fill="#e8f6ea" stroke="#36a048" stroke-width="2.5"/>
<circle cx="875" cy="1961.1" r="3.8" fill="#e8f6ea" stroke="#36a048" stroke-width="2.5"/>
<circle cx="883.1" cy="1962.4" r="3.8" fill="#e8f6ea" stroke="#36a048" stroke-width="2.5"/>
<circle cx="891.2" cy="1962.4" r="3.8" fill="#e8f6ea" stroke="#36a048" stroke-width="2.5"/>
<circle cx="899.4" cy="1961.1" r="3.8" fill="#e8f6ea" stroke="#36a048" stroke-width="2.5"/>
<circle cx="907.5" cy="1959.9" r="3.8" fill="#e8f6ea" stroke="#36a048" stroke-width="2.5"/>
<circle cx="915.6" cy="1969.8" r="3.8" fill="#e8f6ea" stroke="#36a048" stroke-width="2.5"/>
<circle cx="923.8" cy="1972.2" r="3.8" fill="#e8f6ea" stroke="#36a048" stroke-width="2.5"/>
<circle cx="931.9" cy="1972.2" r="3.8" fill="#e8f6ea" stroke="#36a048" stroke-width="2.5"/>
<circle cx="940.1" cy="1972.7" r="3.8" fill="#e8f6ea" stroke="#36a048" stroke-width="2.5"/>
<circle cx="948.2" cy="1973.5" r="3.8" fill="#e8f6ea" stroke="#36a048" stroke-width="2.5"/>
<circle cx="956.3" cy="1974.7" r="3.8" fill="#e8f6ea" stroke="#36a048" stroke-width="2.5"/>
<circle cx="964.5" cy="1969.8" r="3.8" fill="#e8f6ea" stroke="#36a048" stroke-width="2.5"/>
<circle cx="972.6" cy="1972.2" r="3.8" fill="#e8f6ea" stroke="#36a048" stroke-width="2.5"/>
<circle cx="980.7" cy="1973.5" r="3.8" fill="#e8f6ea" stroke="#36a048" stroke-width="2.5"/>
<circle cx="988.9" cy="1975.9" r="3.8" fill="#e8f6ea" stroke="#36a048" stroke-width="2.5"/>
<circle cx="997" cy="1982.1" r="3.8" fill="#e8f6ea" stroke="#36a048" stroke-width="2.5"/>
<circle cx="1005.2" cy="1984.6" r="3.8" fill="#e8f6ea" stroke="#36a048" stroke-width="2.5"/>
<circle cx="1013.3" cy="1984.6" r="3.8" fill="#e8f6ea" stroke="#36a048" stroke-width="2.5"/>
<circle cx="1021.4" cy="1984.6" r="3.8" fill="#e8f6ea" stroke="#36a048" stroke-width="2.5"/>
<circle cx="1029.6" cy="1984.6" r="3.8" fill="#e8f6ea" stroke="#36a048" stroke-width="2.5"/>
<circle cx="1037.7" cy="1984.6" r="3.8" fill="#e8f6ea" stroke="#36a048" stroke-width="2.5"/>
<circle cx="1045.8" cy="1984.6" r="3.8" fill="#e8f6ea" stroke="#36a048" stroke-width="2.5"/>
<circle cx="1054" cy="1984.6" r="3.8" fill="#e8f6ea" stroke="#36a048" stroke-width="2.5"/>
<circle cx="1062.1" cy="1984.1" r="3.8" fill="#e8f6ea" stroke="#36a048" stroke-width="2.5"/>
<circle cx="1070.2" cy="1984.6" r="3.8" fill="#e8f6ea" stroke="#36a048" stroke-width="2.5"/>
<circle cx="1078.4" cy="1996.9" r="3.8" fill="#e8f6ea" stroke="#36a048" stroke-width="2.5"/>
<circle cx="1086.5" cy="2000.6" r="3.8" fill="#e8f6ea" stroke="#36a048" stroke-width="2.5"/>
<circle cx="1094.7" cy="2001.3" r="3.8" fill="#e8f6ea" stroke="#36a048" stroke-width="2.5"/>
<circle cx="1102.8" cy="2001.8" r="3.8" fill="#e8f6ea" stroke="#36a048" stroke-width="2.5"/>
<circle cx="1110.9" cy="2001.8" r="3.8" fill="#e8f6ea" stroke="#36a048" stroke-width="2.5"/>
<circle cx="1119.1" cy="2002.3" r="3.8" fill="#e8f6ea" stroke="#36a048" stroke-width="2.5"/>
<circle cx="1127.2" cy="2003" r="3.8" fill="#e8f6ea" stroke="#36a048" stroke-width="2.5"/>
<circle cx="1135.3" cy="2003.8" r="3.8" fill="#e8f6ea" stroke="#36a048" stroke-width="2.5"/>
<circle cx="1143.5" cy="2004.3" r="3.8" fill="#e8f6ea" stroke="#36a048" stroke-width="2.5"/>
<circle cx="1151.6" cy="2005.5" r="3.8" fill="#e8f6ea" stroke="#36a048" stroke-width="2.5"/>
<circle cx="1159.8" cy="2024" r="3.8" fill="#e8f6ea" stroke="#36a048" stroke-width="2.5"/>
<circle cx="1167.9" cy="2031.4" r="3.8" fill="#e8f6ea" stroke="#36a048" stroke-width="2.5"/>
<circle cx="1176" cy="2033.9" r="3.8" fill="#e8f6ea" stroke="#36a048" stroke-width="2.5"/>
<circle cx="1184.2" cy="2035.1" r="3.8" fill="#e8f6ea" stroke="#36a048" stroke-width="2.5"/>
<circle cx="1192.3" cy="2033.9" r="3.8" fill="#e8f6ea" stroke="#36a048" stroke-width="2.5"/>
<circle cx="1200.4" cy="2030.2" r="3.8" fill="#e8f6ea" stroke="#36a048" stroke-width="2.5"/>
<circle cx="1208.6" cy="2025.2" r="3.8" fill="#e8f6ea" stroke="#36a048" stroke-width="2.5"/>
<circle cx="1216.7" cy="2024" r="3.8" fill="#e8f6ea" stroke="#36a048" stroke-width="2.5"/>
<circle cx="1224.8" cy="2025.2" r="3.8" fill="#e8f6ea" stroke="#36a048" stroke-width="2.5"/>
<circle cx="1233" cy="2086.1" r="3.8" fill="#e8f6ea" stroke="#36a048" stroke-width="2.5"/>
<circle cx="1241.1" cy="2094.2" r="3.8" fill="#e8f6ea" stroke="#36a048" stroke-width="2.5"/>
<circle cx="1249.3" cy="2095.5" r="3.8" fill="#e8f6ea" stroke="#36a048" stroke-width="2.5"/>
<circle cx="1257.4" cy="2095.5" r="3.8" fill="#e8f6ea" stroke="#36a048" stroke-width="2.5"/>
<circle cx="1265.5" cy="2095.5" r="3.8" fill="#e8f6ea" stroke="#36a048" stroke-width="2.5"/>
<circle cx="1273.7" cy="2095.5" r="3.8" fill="#e8f6ea" stroke="#36a048" stroke-width="2.5"/>
<circle cx="1281.8" cy="2095.5" r="3.8" fill="#e8f6ea" stroke="#36a048" stroke-width="2.5"/>
<circle cx="1289.9" cy="2095.5" r="3.8" fill="#e8f6ea" stroke="#36a048" stroke-width="2.5"/>
<circle cx="1298.1" cy="2095.5" r="3.8" fill="#e8f6ea" stroke="#36a048" stroke-width="2.5"/>
<circle cx="1306.2" cy="2095.5" r="3.8" fill="#e8f6ea" stroke="#36a048" stroke-width="2.5"/>
<circle cx="1314.4" cy="1980.9" r="3.8" fill="#e8f6ea" stroke="#36a048" stroke-width="2.5"/>
<circle cx="1322.5" cy="1963.8" r="3.8" fill="#e8f6ea" stroke="#36a048" stroke-width="2.5"/>
<circle cx="1330.6" cy="1965.3" r="3.8" fill="#e8f6ea" stroke="#36a048" stroke-width="2.5"/>
<circle cx="1338.8" cy="1967.3" r="3.8" fill="#e8f6ea" stroke="#36a048" stroke-width="2.5"/>
<circle cx="1346.9" cy="1967.3" r="3.8" fill="#e8f6ea" stroke="#36a048" stroke-width="2.5"/>
<circle cx="1355" cy="1966.1" r="3.8" fill="#e8f6ea" stroke="#36a048" stroke-width="2.5"/>
<circle cx="1363.2" cy="1964.8" r="3.8" fill="#e8f6ea" stroke="#36a048" stroke-width="2.5"/>
<circle cx="1371.3" cy="1964.8" r="3.8" fill="#e8f6ea" stroke="#36a048" stroke-width="2.5"/>
<circle cx="1379.5" cy="1966.1" r="3.8" fill="#e8f6ea" stroke="#36a048" stroke-width="2.5"/>
<circle cx="1387.6" cy="1967.3" r="3.8" fill="#e8f6ea" stroke="#36a048" stroke-width="2.5"/>
<circle cx="1395.7" cy="1967.3" r="3.8" fill="#e8f6ea" stroke="#36a048" stroke-width="2.5"/>
<path d="M826.1,1881.5 L834.3,1878.6 L842.4,1878.6 L850.5,1879.8 L858.7,1888.4 L866.8,1894.6 L875,1884.7 L883.1,1883.5 L891.2,1886 L899.4,1888.4 L907.5,1890.9 L915.6,1903.2 L923.8,1908.1 L931.9,1911.8 L940.1,1906.9 L948.2,1905.7 L956.3,1909.4 L964.5,1900.7 L972.6,1898.8 L980.7,1898.3 L988.9,1899.5 L997,1924.9 L1005.2,1941.4 L1013.3,1935.3 L1021.4,1934 L1029.6,1932.8 L1037.7,1931.6 L1045.8,1931.6 L1054,1932.3 L1062.1,1931.6 L1070.2,1932.8 L1078.4,1952.5 L1086.5,1953.7 L1094.7,1953.7 L1102.8,1953.7 L1110.9,1955 L1119.1,1956.2 L1127.2,1957.4 L1135.3,1961.1 L1143.5,1964.8 L1151.6,1968.3 L1159.8,1995.2 L1167.9,2001.3 L1176,2001.8 L1184.2,2002.3 L1192.3,2003 L1200.4,2003.8 L1208.6,2004.3 L1216.7,2004.8 L1224.8,2005.5 L1233,2042.7 L1241.1,2060 L1249.3,2060.5 L1257.4,2060.5 L1265.5,2060.5 L1273.7,2060.5 L1281.8,2060.5 L1289.9,2060.5 L1298.1,2060.5 L1306.2,2060.5 L1314.4,1936.5 L1322.5,1915.5 L1330.6,1916.5 L1338.8,1918 L1346.9,1918.5 L1355,1916.5 L1363.2,1910.6 L1371.3,1903.2 L1379.5,1897 L1387.6,1894.6 L1395.7,1893.8" fill="none" stroke="#5050c0" stroke-width="2.6"/>
<circle cx="826.1" cy="1881.5" r="3.8" fill="#eaeaf8" stroke="#5050c0" stroke-width="2.5"/>
<circle cx="834.3" cy="1878.6" r="3.8" fill="#eaeaf8" stroke="#5050c0" stroke-width="2.5"/>
<circle cx="842.4" cy="1878.6" r="3.8" fill="#eaeaf8" stroke="#5050c0" stroke-width="2.5"/>
<circle cx="850.5" cy="1879.8" r="3.8" fill="#eaeaf8" stroke="#5050c0" stroke-width="2.5"/>
<circle cx="858.7" cy="1888.4" r="3.8" fill="#eaeaf8" stroke="#5050c0" stroke-width="2.5"/>
<circle cx="866.8" cy="1894.6" r="3.8" fill="#eaeaf8" stroke="#5050c0" stroke-width="2.5"/>
<circle cx="875" cy="1884.7" r="3.8" fill="#eaeaf8" stroke="#5050c0" stroke-width="2.5"/>
<circle cx="883.1" cy="1883.5" r="3.8" fill="#eaeaf8" stroke="#5050c0" stroke-width="2.5"/>
<circle cx="891.2" cy="1886" r="3.8" fill="#eaeaf8" stroke="#5050c0" stroke-width="2.5"/>
<circle cx="899.4" cy="1888.4" r="3.8" fill="#eaeaf8" stroke="#5050c0" stroke-width="2.5"/>
<circle cx="907.5" cy="1890.9" r="3.8" fill="#eaeaf8" stroke="#5050c0" stroke-width="2.5"/>
<circle cx="915.6" cy="1903.2" r="3.8" fill="#eaeaf8" stroke="#5050c0" stroke-width="2.5"/>
<circle cx="923.8" cy="1908.1" r="3.8" fill="#eaeaf8" stroke="#5050c0" stroke-width="2.5"/>
<circle cx="931.9" cy="1911.8" r="3.8" fill="#eaeaf8" stroke="#5050c0" stroke-width="2.5"/>
<circle cx="940.1" cy="1906.9" r="3.8" fill="#eaeaf8" stroke="#5050c0" stroke-width="2.5"/>
<circle cx="948.2" cy="1905.7" r="3.8" fill="#eaeaf8" stroke="#5050c0" stroke-width="2.5"/>
<circle cx="956.3" cy="1909.4" r="3.8" fill="#eaeaf8" stroke="#5050c0" stroke-width="2.5"/>
<circle cx="964.5" cy="1900.7" r="3.8" fill="#eaeaf8" stroke="#5050c0" stroke-width="2.5"/>
<circle cx="972.6" cy="1898.8" r="3.8" fill="#eaeaf8" stroke="#5050c0" stroke-width="2.5"/>
<circle cx="980.7" cy="1898.3" r="3.8" fill="#eaeaf8" stroke="#5050c0" stroke-width="2.5"/>
<circle cx="988.9" cy="1899.5" r="3.8" fill="#eaeaf8" stroke="#5050c0" stroke-width="2.5"/>
<circle cx="997" cy="1924.9" r="3.8" fill="#eaeaf8" stroke="#5050c0" stroke-width="2.5"/>
<circle cx="1005.2" cy="1941.4" r="3.8" fill="#eaeaf8" stroke="#5050c0" stroke-width="2.5"/>
<circle cx="1013.3" cy="1935.3" r="3.8" fill="#eaeaf8" stroke="#5050c0" stroke-width="2.5"/>
<circle cx="1021.4" cy="1934" r="3.8" fill="#eaeaf8" stroke="#5050c0" stroke-width="2.5"/>
<circle cx="1029.6" cy="1932.8" r="3.8" fill="#eaeaf8" stroke="#5050c0" stroke-width="2.5"/>
<circle cx="1037.7" cy="1931.6" r="3.8" fill="#eaeaf8" stroke="#5050c0" stroke-width="2.5"/>
<circle cx="1045.8" cy="1931.6" r="3.8" fill="#eaeaf8" stroke="#5050c0" stroke-width="2.5"/>
<circle cx="1054" cy="1932.3" r="3.8" fill="#eaeaf8" stroke="#5050c0" stroke-width="2.5"/>
<circle cx="1062.1" cy="1931.6" r="3.8" fill="#eaeaf8" stroke="#5050c0" stroke-width="2.5"/>
<circle cx="1070.2" cy="1932.8" r="3.8" fill="#eaeaf8" stroke="#5050c0" stroke-width="2.5"/>
<circle cx="1078.4" cy="1952.5" r="3.8" fill="#eaeaf8" stroke="#5050c0" stroke-width="2.5"/>
<circle cx="1086.5" cy="1953.7" r="3.8" fill="#eaeaf8" stroke="#5050c0" stroke-width="2.5"/>
<circle cx="1094.7" cy="1953.7" r="3.8" fill="#eaeaf8" stroke="#5050c0" stroke-width="2.5"/>
<circle cx="1102.8" cy="1953.7" r="3.8" fill="#eaeaf8" stroke="#5050c0" stroke-width="2.5"/>
<circle cx="1110.9" cy="1955" r="3.8" fill="#eaeaf8" stroke="#5050c0" stroke-width="2.5"/>
<circle cx="1119.1" cy="1956.2" r="3.8" fill="#eaeaf8" stroke="#5050c0" stroke-width="2.5"/>
<circle cx="1127.2" cy="1957.4" r="3.8" fill="#eaeaf8" stroke="#5050c0" stroke-width="2.5"/>
<circle cx="1135.3" cy="1961.1" r="3.8" fill="#eaeaf8" stroke="#5050c0" stroke-width="2.5"/>
<circle cx="1143.5" cy="1964.8" r="3.8" fill="#eaeaf8" stroke="#5050c0" stroke-width="2.5"/>
<circle cx="1151.6" cy="1968.3" r="3.8" fill="#eaeaf8" stroke="#5050c0" stroke-width="2.5"/>
<circle cx="1159.8" cy="1995.2" r="3.8" fill="#eaeaf8" stroke="#5050c0" stroke-width="2.5"/>
<circle cx="1167.9" cy="2001.3" r="3.8" fill="#eaeaf8" stroke="#5050c0" stroke-width="2.5"/>
<circle cx="1176" cy="2001.8" r="3.8" fill="#eaeaf8" stroke="#5050c0" stroke-width="2.5"/>
<circle cx="1184.2" cy="2002.3" r="3.8" fill="#eaeaf8" stroke="#5050c0" stroke-width="2.5"/>
<circle cx="1192.3" cy="2003" r="3.8" fill="#eaeaf8" stroke="#5050c0" stroke-width="2.5"/>
<circle cx="1200.4" cy="2003.8" r="3.8" fill="#eaeaf8" stroke="#5050c0" stroke-width="2.5"/>
<circle cx="1208.6" cy="2004.3" r="3.8" fill="#eaeaf8" stroke="#5050c0" stroke-width="2.5"/>
<circle cx="1216.7" cy="2004.8" r="3.8" fill="#eaeaf8" stroke="#5050c0" stroke-width="2.5"/>
<circle cx="1224.8" cy="2005.5" r="3.8" fill="#eaeaf8" stroke="#5050c0" stroke-width="2.5"/>
<circle cx="1233" cy="2042.7" r="3.8" fill="#eaeaf8" stroke="#5050c0" stroke-width="2.5"/>
<circle cx="1241.1" cy="2060" r="3.8" fill="#eaeaf8" stroke="#5050c0" stroke-width="2.5"/>
<circle cx="1249.3" cy="2060.5" r="3.8" fill="#eaeaf8" stroke="#5050c0" stroke-width="2.5"/>
<circle cx="1257.4" cy="2060.5" r="3.8" fill="#eaeaf8" stroke="#5050c0" stroke-width="2.5"/>
<circle cx="1265.5" cy="2060.5" r="3.8" fill="#eaeaf8" stroke="#5050c0" stroke-width="2.5"/>
<circle cx="1273.7" cy="2060.5" r="3.8" fill="#eaeaf8" stroke="#5050c0" stroke-width="2.5"/>
<circle cx="1281.8" cy="2060.5" r="3.8" fill="#eaeaf8" stroke="#5050c0" stroke-width="2.5"/>
<circle cx="1289.9" cy="2060.5" r="3.8" fill="#eaeaf8" stroke="#5050c0" stroke-width="2.5"/>
<circle cx="1298.1" cy="2060.5" r="3.8" fill="#eaeaf8" stroke="#5050c0" stroke-width="2.5"/>
<circle cx="1306.2" cy="2060.5" r="3.8" fill="#eaeaf8" stroke="#5050c0" stroke-width="2.5"/>
<circle cx="1314.4" cy="1936.5" r="3.8" fill="#eaeaf8" stroke="#5050c0" stroke-width="2.5"/>
<circle cx="1322.5" cy="1915.5" r="3.8" fill="#eaeaf8" stroke="#5050c0" stroke-width="2.5"/>
<circle cx="1330.6" cy="1916.5" r="3.8" fill="#eaeaf8" stroke="#5050c0" stroke-width="2.5"/>
<circle cx="1338.8" cy="1918" r="3.8" fill="#eaeaf8" stroke="#5050c0" stroke-width="2.5"/>
<circle cx="1346.9" cy="1918.5" r="3.8" fill="#eaeaf8" stroke="#5050c0" stroke-width="2.5"/>
<circle cx="1355" cy="1916.5" r="3.8" fill="#eaeaf8" stroke="#5050c0" stroke-width="2.5"/>
<circle cx="1363.2" cy="1910.6" r="3.8" fill="#eaeaf8" stroke="#5050c0" stroke-width="2.5"/>
<circle cx="1371.3" cy="1903.2" r="3.8" fill="#eaeaf8" stroke="#5050c0" stroke-width="2.5"/>
<circle cx="1379.5" cy="1897" r="3.8" fill="#eaeaf8" stroke="#5050c0" stroke-width="2.5"/>
<circle cx="1387.6" cy="1894.6" r="3.8" fill="#eaeaf8" stroke="#5050c0" stroke-width="2.5"/>
<circle cx="1395.7" cy="1893.8" r="3.8" fill="#eaeaf8" stroke="#5050c0" stroke-width="2.5"/>
<path d="M826.1,1831.7 L834.3,1836.7 L842.4,1831.7 L850.5,1831.7 L858.7,1831.7 L866.8,1830.5 L875,1833 L883.1,1834.2 L891.2,1834.2 L899.4,1835.4 L907.5,1837.9 L915.6,1849 L923.8,1853.9 L931.9,1853.9 L940.1,1852.7 L948.2,1851.4 L956.3,1850.2 L964.5,1849 L972.6,1849 L980.7,1849 L988.9,1850.2 L997,1866.2 L1005.2,1869.9 L1013.3,1871.2 L1021.4,1871.7 L1029.6,1872.4 L1037.7,1872.4 L1045.8,1873.1 L1054,1873.6 L1062.1,1874.1 L1070.2,1874.9 L1078.4,1898.3 L1086.5,1905.7 L1094.7,1907.6 L1102.8,1908.1 L1110.9,1908.6 L1119.1,1909.1 L1127.2,1909.4 L1135.3,1909.9 L1143.5,1910.6 L1151.6,1911.1 L1159.8,1937.7 L1167.9,1942.6 L1176,1942.6 L1184.2,1942.6 L1192.3,1942.6 L1200.4,1942.6 L1208.6,1943.1 L1216.7,1943.1 L1224.8,1943.1 L1233,1943.9 L1241.1,1974.7 L1249.3,1980.9 L1257.4,1982.1 L1265.5,1982.1 L1273.7,1982.1 L1281.8,1982.1 L1289.9,1982.1 L1298.1,1982.1 L1306.2,1982.1 L1314.4,1982.1 L1322.5,1844 L1330.6,1839.1 L1338.8,1834.2 L1346.9,1833 L1355,1833 L1363.2,1833.7 L1371.3,1834.2 L1379.5,1834.2 L1387.6,1834.2 L1395.7,1834.2" fill="none" stroke="#ff4a4a" stroke-width="2.6"/>
<circle cx="826.1" cy="1831.7" r="3.8" fill="#fff0f0" stroke="#ff4a4a" stroke-width="2.5"/>
<circle cx="834.3" cy="1836.7" r="3.8" fill="#fff0f0" stroke="#ff4a4a" stroke-width="2.5"/>
<circle cx="842.4" cy="1831.7" r="3.8" fill="#fff0f0" stroke="#ff4a4a" stroke-width="2.5"/>
<circle cx="850.5" cy="1831.7" r="3.8" fill="#fff0f0" stroke="#ff4a4a" stroke-width="2.5"/>
<circle cx="858.7" cy="1831.7" r="3.8" fill="#fff0f0" stroke="#ff4a4a" stroke-width="2.5"/>
<circle cx="866.8" cy="1830.5" r="3.8" fill="#fff0f0" stroke="#ff4a4a" stroke-width="2.5"/>
<circle cx="875" cy="1833" r="3.8" fill="#fff0f0" stroke="#ff4a4a" stroke-width="2.5"/>
<circle cx="883.1" cy="1834.2" r="3.8" fill="#fff0f0" stroke="#ff4a4a" stroke-width="2.5"/>
<circle cx="891.2" cy="1834.2" r="3.8" fill="#fff0f0" stroke="#ff4a4a" stroke-width="2.5"/>
<circle cx="899.4" cy="1835.4" r="3.8" fill="#fff0f0" stroke="#ff4a4a" stroke-width="2.5"/>
<circle cx="907.5" cy="1837.9" r="3.8" fill="#fff0f0" stroke="#ff4a4a" stroke-width="2.5"/>
<circle cx="915.6" cy="1849" r="3.8" fill="#fff0f0" stroke="#ff4a4a" stroke-width="2.5"/>
<circle cx="923.8" cy="1853.9" r="3.8" fill="#fff0f0" stroke="#ff4a4a" stroke-width="2.5"/>
<circle cx="931.9" cy="1853.9" r="3.8" fill="#fff0f0" stroke="#ff4a4a" stroke-width="2.5"/>
<circle cx="940.1" cy="1852.7" r="3.8" fill="#fff0f0" stroke="#ff4a4a" stroke-width="2.5"/>
<circle cx="948.2" cy="1851.4" r="3.8" fill="#fff0f0" stroke="#ff4a4a" stroke-width="2.5"/>
<circle cx="956.3" cy="1850.2" r="3.8" fill="#fff0f0" stroke="#ff4a4a" stroke-width="2.5"/>
<circle cx="964.5" cy="1849" r="3.8" fill="#fff0f0" stroke="#ff4a4a" stroke-width="2.5"/>
<circle cx="972.6" cy="1849" r="3.8" fill="#fff0f0" stroke="#ff4a4a" stroke-width="2.5"/>
<circle cx="980.7" cy="1849" r="3.8" fill="#fff0f0" stroke="#ff4a4a" stroke-width="2.5"/>
<circle cx="988.9" cy="1850.2" r="3.8" fill="#fff0f0" stroke="#ff4a4a" stroke-width="2.5"/>
<circle cx="997" cy="1866.2" r="3.8" fill="#fff0f0" stroke="#ff4a4a" stroke-width="2.5"/>
<circle cx="1005.2" cy="1869.9" r="3.8" fill="#fff0f0" stroke="#ff4a4a" stroke-width="2.5"/>
<circle cx="1013.3" cy="1871.2" r="3.8" fill="#fff0f0" stroke="#ff4a4a" stroke-width="2.5"/>
<circle cx="1021.4" cy="1871.7" r="3.8" fill="#fff0f0" stroke="#ff4a4a" stroke-width="2.5"/>
<circle cx="1029.6" cy="1872.4" r="3.8" fill="#fff0f0" stroke="#ff4a4a" stroke-width="2.5"/>
<circle cx="1037.7" cy="1872.4" r="3.8" fill="#fff0f0" stroke="#ff4a4a" stroke-width="2.5"/>
<circle cx="1045.8" cy="1873.1" r="3.8" fill="#fff0f0" stroke="#ff4a4a" stroke-width="2.5"/>
<circle cx="1054" cy="1873.6" r="3.8" fill="#fff0f0" stroke="#ff4a4a" stroke-width="2.5"/>
<circle cx="1062.1" cy="1874.1" r="3.8" fill="#fff0f0" stroke="#ff4a4a" stroke-width="2.5"/>
<circle cx="1070.2" cy="1874.9" r="3.8" fill="#fff0f0" stroke="#ff4a4a" stroke-width="2.5"/>
<circle cx="1078.4" cy="1898.3" r="3.8" fill="#fff0f0" stroke="#ff4a4a" stroke-width="2.5"/>
<circle cx="1086.5" cy="1905.7" r="3.8" fill="#fff0f0" stroke="#ff4a4a" stroke-width="2.5"/>
<circle cx="1094.7" cy="1907.6" r="3.8" fill="#fff0f0" stroke="#ff4a4a" stroke-width="2.5"/>
<circle cx="1102.8" cy="1908.1" r="3.8" fill="#fff0f0" stroke="#ff4a4a" stroke-width="2.5"/>
<circle cx="1110.9" cy="1908.6" r="3.8" fill="#fff0f0" stroke="#ff4a4a" stroke-width="2.5"/>
<circle cx="1119.1" cy="1909.1" r="3.8" fill="#fff0f0" stroke="#ff4a4a" stroke-width="2.5"/>
<circle cx="1127.2" cy="1909.4" r="3.8" fill="#fff0f0" stroke="#ff4a4a" stroke-width="2.5"/>
<circle cx="1135.3" cy="1909.9" r="3.8" fill="#fff0f0" stroke="#ff4a4a" stroke-width="2.5"/>
<circle cx="1143.5" cy="1910.6" r="3.8" fill="#fff0f0" stroke="#ff4a4a" stroke-width="2.5"/>
<circle cx="1151.6" cy="1911.1" r="3.8" fill="#fff0f0" stroke="#ff4a4a" stroke-width="2.5"/>
<circle cx="1159.8" cy="1937.7" r="3.8" fill="#fff0f0" stroke="#ff4a4a" stroke-width="2.5"/>
<circle cx="1167.9" cy="1942.6" r="3.8" fill="#fff0f0" stroke="#ff4a4a" stroke-width="2.5"/>
<circle cx="1176" cy="1942.6" r="3.8" fill="#fff0f0" stroke="#ff4a4a" stroke-width="2.5"/>
<circle cx="1184.2" cy="1942.6" r="3.8" fill="#fff0f0" stroke="#ff4a4a" stroke-width="2.5"/>
<circle cx="1192.3" cy="1942.6" r="3.8" fill="#fff0f0" stroke="#ff4a4a" stroke-width="2.5"/>
<circle cx="1200.4" cy="1942.6" r="3.8" fill="#fff0f0" stroke="#ff4a4a" stroke-width="2.5"/>
<circle cx="1208.6" cy="1943.1" r="3.8" fill="#fff0f0" stroke="#ff4a4a" stroke-width="2.5"/>
<circle cx="1216.7" cy="1943.1" r="3.8" fill="#fff0f0" stroke="#ff4a4a" stroke-width="2.5"/>
<circle cx="1224.8" cy="1943.1" r="3.8" fill="#fff0f0" stroke="#ff4a4a" stroke-width="2.5"/>
<circle cx="1233" cy="1943.9" r="3.8" fill="#fff0f0" stroke="#ff4a4a" stroke-width="2.5"/>
<circle cx="1241.1" cy="1974.7" r="3.8" fill="#fff0f0" stroke="#ff4a4a" stroke-width="2.5"/>
<circle cx="1249.3" cy="1980.9" r="3.8" fill="#fff0f0" stroke="#ff4a4a" stroke-width="2.5"/>
<circle cx="1257.4" cy="1982.1" r="3.8" fill="#fff0f0" stroke="#ff4a4a" stroke-width="2.5"/>
<circle cx="1265.5" cy="1982.1" r="3.8" fill="#fff0f0" stroke="#ff4a4a" stroke-width="2.5"/>
<circle cx="1273.7" cy="1982.1" r="3.8" fill="#fff0f0" stroke="#ff4a4a" stroke-width="2.5"/>
<circle cx="1281.8" cy="1982.1" r="3.8" fill="#fff0f0" stroke="#ff4a4a" stroke-width="2.5"/>
<circle cx="1289.9" cy="1982.1" r="3.8" fill="#fff0f0" stroke="#ff4a4a" stroke-width="2.5"/>
<circle cx="1298.1" cy="1982.1" r="3.8" fill="#fff0f0" stroke="#ff4a4a" stroke-width="2.5"/>
<circle cx="1306.2" cy="1982.1" r="3.8" fill="#fff0f0" stroke="#ff4a4a" stroke-width="2.5"/>
<circle cx="1314.4" cy="1982.1" r="3.8" fill="#fff0f0" stroke="#ff4a4a" stroke-width="2.5"/>
<circle cx="1322.5" cy="1844" r="3.8" fill="#fff0f0" stroke="#ff4a4a" stroke-width="2.5"/>
<circle cx="1330.6" cy="1839.1" r="3.8" fill="#fff0f0" stroke="#ff4a4a" stroke-width="2.5"/>
<circle cx="1338.8" cy="1834.2" r="3.8" fill="#fff0f0" stroke="#ff4a4a" stroke-width="2.5"/>
<circle cx="1346.9" cy="1833" r="3.8" fill="#fff0f0" stroke="#ff4a4a" stroke-width="2.5"/>
<circle cx="1355" cy="1833" r="3.8" fill="#fff0f0" stroke="#ff4a4a" stroke-width="2.5"/>
<circle cx="1363.2" cy="1833.7" r="3.8" fill="#fff0f0" stroke="#ff4a4a" stroke-width="2.5"/>
<circle cx="1371.3" cy="1834.2" r="3.8" fill="#fff0f0" stroke="#ff4a4a" stroke-width="2.5"/>
<circle cx="1379.5" cy="1834.2" r="3.8" fill="#fff0f0" stroke="#ff4a4a" stroke-width="2.5"/>
<circle cx="1387.6" cy="1834.2" r="3.8" fill="#fff0f0" stroke="#ff4a4a" stroke-width="2.5"/>
<circle cx="1395.7" cy="1834.2" r="3.8" fill="#fff0f0" stroke="#ff4a4a" stroke-width="2.5"/>
<text x="849" y="1813" font-size="28.8" fill="#333" font-weight="normal" textLength="64" lengthAdjust="spacingAndGlyphs">0.2C</text>
<text x="927.6" y="1829.7" font-size="28.8" fill="#333" font-weight="normal" textLength="66.2" lengthAdjust="spacingAndGlyphs">0.3C</text>
<text x="1009.5" y="1853" font-size="28.8" fill="#333" font-weight="normal" textLength="65" lengthAdjust="spacingAndGlyphs">0.5C</text>
<text x="1095" y="1891" font-size="28.8" fill="#333" font-weight="normal" textLength="35" lengthAdjust="spacingAndGlyphs">1C</text>
<text x="1182" y="1920.7" font-size="28.8" fill="#333" font-weight="normal" textLength="39" lengthAdjust="spacingAndGlyphs">2C</text>
<text x="1258.6" y="1962" font-size="28.8" fill="#333" font-weight="normal" textLength="39.4" lengthAdjust="spacingAndGlyphs">5C</text>
<text x="1308" y="1818.5" font-size="28.8" fill="#333" font-weight="normal" textLength="65" lengthAdjust="spacingAndGlyphs">0.2C</text>
<line x1="840.7" y1="2117" x2="898.6" y2="2117" stroke="#ff2020" stroke-width="7.5"/>
<line x1="840.7" y1="2150.3" x2="898.6" y2="2150.3" stroke="#1b3570" stroke-width="7.5"/>
<line x1="840.7" y1="2184.3" x2="898.6" y2="2184.3" stroke="#2e9a3a" stroke-width="7.5"/>
<text x="922.6" y="2123.4" font-size="29" fill="#333" textLength="297" lengthAdjust="spacingAndGlyphs">S/Co-NC@TpBD-Me<tspan font-size="19" dy="6">2</tspan></text>
<text x="922.6" y="2158.6" font-size="28.8" fill="#333" font-weight="normal" textLength="127.4" lengthAdjust="spacingAndGlyphs">S/Co-NC</text>
<text x="922.6" y="2193.8" font-size="29" fill="#333" textLength="172" lengthAdjust="spacingAndGlyphs">S/TpBD-Me<tspan font-size="19" dy="6">2</tspan></text>
<text x="1407.5" y="1813.7" font-size="70" fill="#000" font-weight="bold" textLength="74.5" lengthAdjust="spacingAndGlyphs">(f)</text>
<rect x="1555.2" y="1771.7" width="559.2" height="431.9" fill="none" stroke="#333" stroke-width="3"/>
<line x1="1547.2" y1="2203.6" x2="1555.2" y2="2203.6" stroke="#333" stroke-width="2"/>
<text x="1530" y="2211.6" font-size="23" fill="#555" font-weight="normal" textLength="14" lengthAdjust="spacingAndGlyphs">0</text>
<line x1="1550.2" y1="2160.4" x2="1555.2" y2="2160.4" stroke="#333" stroke-width="2"/>
<line x1="1547.2" y1="2117.2" x2="1555.2" y2="2117.2" stroke="#333" stroke-width="2"/>
<text x="1500" y="2125.2" font-size="23" fill="#555" font-weight="normal" textLength="44" lengthAdjust="spacingAndGlyphs">300</text>
<line x1="1550.2" y1="2074" x2="1555.2" y2="2074" stroke="#333" stroke-width="2"/>
<line x1="1547.2" y1="2030.9" x2="1555.2" y2="2030.9" stroke="#333" stroke-width="2"/>
<text x="1500" y="2038.9" font-size="23" fill="#555" font-weight="normal" textLength="44" lengthAdjust="spacingAndGlyphs">600</text>
<line x1="1550.2" y1="1987.7" x2="1555.2" y2="1987.7" stroke="#333" stroke-width="2"/>
<line x1="1547.2" y1="1944.5" x2="1555.2" y2="1944.5" stroke="#333" stroke-width="2"/>
<text x="1500" y="1952.5" font-size="23" fill="#555" font-weight="normal" textLength="44" lengthAdjust="spacingAndGlyphs">900</text>
<line x1="1550.2" y1="1901.3" x2="1555.2" y2="1901.3" stroke="#333" stroke-width="2"/>
<line x1="1547.2" y1="1858.1" x2="1555.2" y2="1858.1" stroke="#333" stroke-width="2"/>
<text x="1485.5" y="1866.1" font-size="23" fill="#555" font-weight="normal" textLength="58.5" lengthAdjust="spacingAndGlyphs">1200</text>
<line x1="1550.2" y1="1814.9" x2="1555.2" y2="1814.9" stroke="#333" stroke-width="2"/>
<line x1="1547.2" y1="1771.8" x2="1555.2" y2="1771.8" stroke="#333" stroke-width="2"/>
<text x="1485.5" y="1779.8" font-size="23" fill="#555" font-weight="normal" textLength="58.5" lengthAdjust="spacingAndGlyphs">1500</text>
<line x1="2114.4" y1="2203.6" x2="2122.4" y2="2203.6" stroke="#333" stroke-width="2"/>
<text x="2131" y="2211.6" font-size="23" fill="#555" font-weight="normal" textLength="14" lengthAdjust="spacingAndGlyphs">0</text>
<line x1="2114.4" y1="2161.7" x2="2119.4" y2="2161.7" stroke="#333" stroke-width="2"/>
<line x1="2114.4" y1="2119.8" x2="2122.4" y2="2119.8" stroke="#333" stroke-width="2"/>
<text x="2131" y="2127.8" font-size="23" fill="#555" font-weight="normal" textLength="29" lengthAdjust="spacingAndGlyphs">20</text>
<line x1="2114.4" y1="2077.9" x2="2119.4" y2="2077.9" stroke="#333" stroke-width="2"/>
<line x1="2114.4" y1="2036" x2="2122.4" y2="2036" stroke="#333" stroke-width="2"/>
<text x="2131" y="2044" font-size="23" fill="#555" font-weight="normal" textLength="29" lengthAdjust="spacingAndGlyphs">40</text>
<line x1="2114.4" y1="1994.1" x2="2119.4" y2="1994.1" stroke="#333" stroke-width="2"/>
<line x1="2114.4" y1="1952.3" x2="2122.4" y2="1952.3" stroke="#333" stroke-width="2"/>
<text x="2131" y="1960.3" font-size="23" fill="#555" font-weight="normal" textLength="29" lengthAdjust="spacingAndGlyphs">60</text>
<line x1="2114.4" y1="1910.4" x2="2119.4" y2="1910.4" stroke="#333" stroke-width="2"/>
<line x1="2114.4" y1="1868.5" x2="2122.4" y2="1868.5" stroke="#333" stroke-width="2"/>
<text x="2131" y="1876.5" font-size="23" fill="#555" font-weight="normal" textLength="29" lengthAdjust="spacingAndGlyphs">80</text>
<line x1="2114.4" y1="1826.6" x2="2119.4" y2="1826.6" stroke="#333" stroke-width="2"/>
<line x1="2114.4" y1="1784.7" x2="2122.4" y2="1784.7" stroke="#333" stroke-width="2"/>
<text x="2131" y="1792.7" font-size="23" fill="#555" font-weight="normal" textLength="40.5" lengthAdjust="spacingAndGlyphs">100</text>
<line x1="1555.2" y1="2203.6" x2="1555.2" y2="2211.6" stroke="#333" stroke-width="2"/>
<text x="1548.2" y="2237.3" font-size="24.4" fill="#555" font-weight="normal" textLength="14" lengthAdjust="spacingAndGlyphs">0</text>
<line x1="1611.1" y1="2203.6" x2="1611.1" y2="2208.6" stroke="#333" stroke-width="2"/>
<line x1="1667" y1="2203.6" x2="1667" y2="2211.6" stroke="#333" stroke-width="2"/>
<text x="1652.5" y="2237.3" font-size="24.4" fill="#555" font-weight="normal" textLength="29" lengthAdjust="spacingAndGlyphs">20</text>
<line x1="1723" y1="2203.6" x2="1723" y2="2208.6" stroke="#333" stroke-width="2"/>
<line x1="1778.9" y1="2203.6" x2="1778.9" y2="2211.6" stroke="#333" stroke-width="2"/>
<text x="1764.4" y="2237.3" font-size="24.4" fill="#555" font-weight="normal" textLength="29" lengthAdjust="spacingAndGlyphs">40</text>
<line x1="1834.8" y1="2203.6" x2="1834.8" y2="2208.6" stroke="#333" stroke-width="2"/>
<line x1="1890.7" y1="2203.6" x2="1890.7" y2="2211.6" stroke="#333" stroke-width="2"/>
<text x="1876.2" y="2237.3" font-size="24.4" fill="#555" font-weight="normal" textLength="29" lengthAdjust="spacingAndGlyphs">60</text>
<line x1="1946.6" y1="2203.6" x2="1946.6" y2="2208.6" stroke="#333" stroke-width="2"/>
<line x1="2002.6" y1="2203.6" x2="2002.6" y2="2211.6" stroke="#333" stroke-width="2"/>
<text x="1988.1" y="2237.3" font-size="24.4" fill="#555" font-weight="normal" textLength="29" lengthAdjust="spacingAndGlyphs">80</text>
<line x1="2058.5" y1="2203.6" x2="2058.5" y2="2208.6" stroke="#333" stroke-width="2"/>
<line x1="2114.4" y1="2203.6" x2="2114.4" y2="2211.6" stroke="#333" stroke-width="2"/>
<text x="2093.4" y="2237.3" font-size="24.4" fill="#555" font-weight="normal" textLength="42" lengthAdjust="spacingAndGlyphs">100</text>
<text x="1721.6" y="2277.8" font-size="26.3" fill="#444" font-weight="normal" textLength="184.4" lengthAdjust="spacingAndGlyphs">Cycle Number</text>
<text x="0" y="0" font-size="26.5" fill="#444" textLength="250" lengthAdjust="spacingAndGlyphs" transform="translate(1452 2113.6) rotate(-90)">Capacity (mAh g<tspan font-size="17" dy="-9">-1</tspan><tspan dy="9">)</tspan></text>
<text x="0" y="0" font-size="27" fill="#444" textLength="340" lengthAdjust="spacingAndGlyphs" transform="translate(2202 2167.6) rotate(-90)">Coulombic Efficiency (%)</text>
<path d="M1555.2,2028.6 L1560.8,2030 L1566.4,2030.5 L1572,2032.2 L1577.6,2033.6 L1583.2,2034 L1588.8,2033.6 L1594.3,2034.8 L1599.9,2035.7 L1605.5,2037.8 L1611.1,2038 L1616.7,2039.7 L1622.3,2041.1 L1627.9,2042.4 L1633.5,2043.3 L1639.1,2042.8 L1644.7,2043.9 L1650.3,2044.8 L1655.9,2045.7 L1661.4,2048 L1667,2048.6 L1672.6,2048.3 L1678.2,2048.5 L1683.8,2048.6 L1689.4,2049 L1695,2051.2 L1700.6,2050.5 L1706.2,2050.8 L1711.8,2051.6 L1717.4,2052.8 L1723,2052.5 L1728.6,2053.7 L1734.1,2052 L1739.7,2052.5 L1745.3,2053.5 L1750.9,2054.4 L1756.5,2053.2 L1762.1,2054.3 L1767.7,2053.9 L1773.3,2054.2 L1778.9,2055.3 L1784.5,2056.1 L1790.1,2056.2 L1795.7,2057.1 L1801.2,2058.3 L1806.8,2058.5 L1812.4,2057.9 L1818,2060.2 L1823.6,2060.7 L1829.2,2060.4 L1834.8,2062.3 L1840.4,2062.8 L1846,2064 L1851.6,2064.6 L1857.2,2063.3 L1862.8,2065.4 L1868.4,2065.1 L1873.9,2065.9 L1879.5,2065.1 L1885.1,2065.2 L1890.7,2064.3 L1896.3,2062.7 L1901.9,2062.9 L1907.5,2062.9 L1913.1,2062.6 L1918.7,2064.9 L1924.3,2065.5 L1929.9,2065.6 L1935.5,2064.8 L1941,2067.3 L1946.6,2070.3 L1952.2,2072.3 L1957.8,2074.8 L1963.4,2074 L1969,2074.7 L1974.6,2073.1 L1980.2,2072.4 L1985.8,2072.1 L1991.4,2072.4 L1997,2071.7 L2002.6,2073.7 L2008.2,2073.3 L2013.7,2071.9 L2019.3,2072.6 L2024.9,2073.6 L2030.5,2072.6 L2036.1,2073.6 L2041.7,2073.3 L2047.3,2074 L2052.9,2073.8 L2058.5,2072.7 L2064.1,2074.6 L2069.7,2075.2 L2075.3,2075 L2080.8,2077.6 L2086.4,2079.5 L2092,2079.7 L2097.6,2079.7 L2103.2,2078.6 L2108.8,2079.8 L2114.4,2080.3" fill="none" stroke="#40b050" stroke-width="2.4"/>
<circle cx="1555.2" cy="2028.6" r="3.9" fill="#e8f8ea" stroke="#40b050" stroke-width="2.2"/>
<circle cx="1560.8" cy="2030" r="3.9" fill="#e8f8ea" stroke="#40b050" stroke-width="2.2"/>
<circle cx="1566.4" cy="2030.5" r="3.9" fill="#e8f8ea" stroke="#40b050" stroke-width="2.2"/>
<circle cx="1572" cy="2032.2" r="3.9" fill="#e8f8ea" stroke="#40b050" stroke-width="2.2"/>
<circle cx="1577.6" cy="2033.6" r="3.9" fill="#e8f8ea" stroke="#40b050" stroke-width="2.2"/>
<circle cx="1583.2" cy="2034" r="3.9" fill="#e8f8ea" stroke="#40b050" stroke-width="2.2"/>
<circle cx="1588.8" cy="2033.6" r="3.9" fill="#e8f8ea" stroke="#40b050" stroke-width="2.2"/>
<circle cx="1594.3" cy="2034.8" r="3.9" fill="#e8f8ea" stroke="#40b050" stroke-width="2.2"/>
<circle cx="1599.9" cy="2035.7" r="3.9" fill="#e8f8ea" stroke="#40b050" stroke-width="2.2"/>
<circle cx="1605.5" cy="2037.8" r="3.9" fill="#e8f8ea" stroke="#40b050" stroke-width="2.2"/>
<circle cx="1611.1" cy="2038" r="3.9" fill="#e8f8ea" stroke="#40b050" stroke-width="2.2"/>
<circle cx="1616.7" cy="2039.7" r="3.9" fill="#e8f8ea" stroke="#40b050" stroke-width="2.2"/>
<circle cx="1622.3" cy="2041.1" r="3.9" fill="#e8f8ea" stroke="#40b050" stroke-width="2.2"/>
<circle cx="1627.9" cy="2042.4" r="3.9" fill="#e8f8ea" stroke="#40b050" stroke-width="2.2"/>
<circle cx="1633.5" cy="2043.3" r="3.9" fill="#e8f8ea" stroke="#40b050" stroke-width="2.2"/>
<circle cx="1639.1" cy="2042.8" r="3.9" fill="#e8f8ea" stroke="#40b050" stroke-width="2.2"/>
<circle cx="1644.7" cy="2043.9" r="3.9" fill="#e8f8ea" stroke="#40b050" stroke-width="2.2"/>
<circle cx="1650.3" cy="2044.8" r="3.9" fill="#e8f8ea" stroke="#40b050" stroke-width="2.2"/>
<circle cx="1655.9" cy="2045.7" r="3.9" fill="#e8f8ea" stroke="#40b050" stroke-width="2.2"/>
<circle cx="1661.4" cy="2048" r="3.9" fill="#e8f8ea" stroke="#40b050" stroke-width="2.2"/>
<circle cx="1667" cy="2048.6" r="3.9" fill="#e8f8ea" stroke="#40b050" stroke-width="2.2"/>
<circle cx="1672.6" cy="2048.3" r="3.9" fill="#e8f8ea" stroke="#40b050" stroke-width="2.2"/>
<circle cx="1678.2" cy="2048.5" r="3.9" fill="#e8f8ea" stroke="#40b050" stroke-width="2.2"/>
<circle cx="1683.8" cy="2048.6" r="3.9" fill="#e8f8ea" stroke="#40b050" stroke-width="2.2"/>
<circle cx="1689.4" cy="2049" r="3.9" fill="#e8f8ea" stroke="#40b050" stroke-width="2.2"/>
<circle cx="1695" cy="2051.2" r="3.9" fill="#e8f8ea" stroke="#40b050" stroke-width="2.2"/>
<circle cx="1700.6" cy="2050.5" r="3.9" fill="#e8f8ea" stroke="#40b050" stroke-width="2.2"/>
<circle cx="1706.2" cy="2050.8" r="3.9" fill="#e8f8ea" stroke="#40b050" stroke-width="2.2"/>
<circle cx="1711.8" cy="2051.6" r="3.9" fill="#e8f8ea" stroke="#40b050" stroke-width="2.2"/>
<circle cx="1717.4" cy="2052.8" r="3.9" fill="#e8f8ea" stroke="#40b050" stroke-width="2.2"/>
<circle cx="1723" cy="2052.5" r="3.9" fill="#e8f8ea" stroke="#40b050" stroke-width="2.2"/>
<circle cx="1728.6" cy="2053.7" r="3.9" fill="#e8f8ea" stroke="#40b050" stroke-width="2.2"/>
<circle cx="1734.1" cy="2052" r="3.9" fill="#e8f8ea" stroke="#40b050" stroke-width="2.2"/>
<circle cx="1739.7" cy="2052.5" r="3.9" fill="#e8f8ea" stroke="#40b050" stroke-width="2.2"/>
<circle cx="1745.3" cy="2053.5" r="3.9" fill="#e8f8ea" stroke="#40b050" stroke-width="2.2"/>
<circle cx="1750.9" cy="2054.4" r="3.9" fill="#e8f8ea" stroke="#40b050" stroke-width="2.2"/>
<circle cx="1756.5" cy="2053.2" r="3.9" fill="#e8f8ea" stroke="#40b050" stroke-width="2.2"/>
<circle cx="1762.1" cy="2054.3" r="3.9" fill="#e8f8ea" stroke="#40b050" stroke-width="2.2"/>
<circle cx="1767.7" cy="2053.9" r="3.9" fill="#e8f8ea" stroke="#40b050" stroke-width="2.2"/>
<circle cx="1773.3" cy="2054.2" r="3.9" fill="#e8f8ea" stroke="#40b050" stroke-width="2.2"/>
<circle cx="1778.9" cy="2055.3" r="3.9" fill="#e8f8ea" stroke="#40b050" stroke-width="2.2"/>
<circle cx="1784.5" cy="2056.1" r="3.9" fill="#e8f8ea" stroke="#40b050" stroke-width="2.2"/>
<circle cx="1790.1" cy="2056.2" r="3.9" fill="#e8f8ea" stroke="#40b050" stroke-width="2.2"/>
<circle cx="1795.7" cy="2057.1" r="3.9" fill="#e8f8ea" stroke="#40b050" stroke-width="2.2"/>
<circle cx="1801.2" cy="2058.3" r="3.9" fill="#e8f8ea" stroke="#40b050" stroke-width="2.2"/>
<circle cx="1806.8" cy="2058.5" r="3.9" fill="#e8f8ea" stroke="#40b050" stroke-width="2.2"/>
<circle cx="1812.4" cy="2057.9" r="3.9" fill="#e8f8ea" stroke="#40b050" stroke-width="2.2"/>
<circle cx="1818" cy="2060.2" r="3.9" fill="#e8f8ea" stroke="#40b050" stroke-width="2.2"/>
<circle cx="1823.6" cy="2060.7" r="3.9" fill="#e8f8ea" stroke="#40b050" stroke-width="2.2"/>
<circle cx="1829.2" cy="2060.4" r="3.9" fill="#e8f8ea" stroke="#40b050" stroke-width="2.2"/>
<circle cx="1834.8" cy="2062.3" r="3.9" fill="#e8f8ea" stroke="#40b050" stroke-width="2.2"/>
<circle cx="1840.4" cy="2062.8" r="3.9" fill="#e8f8ea" stroke="#40b050" stroke-width="2.2"/>
<circle cx="1846" cy="2064" r="3.9" fill="#e8f8ea" stroke="#40b050" stroke-width="2.2"/>
<circle cx="1851.6" cy="2064.6" r="3.9" fill="#e8f8ea" stroke="#40b050" stroke-width="2.2"/>
<circle cx="1857.2" cy="2063.3" r="3.9" fill="#e8f8ea" stroke="#40b050" stroke-width="2.2"/>
<circle cx="1862.8" cy="2065.4" r="3.9" fill="#e8f8ea" stroke="#40b050" stroke-width="2.2"/>
<circle cx="1868.4" cy="2065.1" r="3.9" fill="#e8f8ea" stroke="#40b050" stroke-width="2.2"/>
<circle cx="1873.9" cy="2065.9" r="3.9" fill="#e8f8ea" stroke="#40b050" stroke-width="2.2"/>
<circle cx="1879.5" cy="2065.1" r="3.9" fill="#e8f8ea" stroke="#40b050" stroke-width="2.2"/>
<circle cx="1885.1" cy="2065.2" r="3.9" fill="#e8f8ea" stroke="#40b050" stroke-width="2.2"/>
<circle cx="1890.7" cy="2064.3" r="3.9" fill="#e8f8ea" stroke="#40b050" stroke-width="2.2"/>
<circle cx="1896.3" cy="2062.7" r="3.9" fill="#e8f8ea" stroke="#40b050" stroke-width="2.2"/>
<circle cx="1901.9" cy="2062.9" r="3.9" fill="#e8f8ea" stroke="#40b050" stroke-width="2.2"/>
<circle cx="1907.5" cy="2062.9" r="3.9" fill="#e8f8ea" stroke="#40b050" stroke-width="2.2"/>
<circle cx="1913.1" cy="2062.6" r="3.9" fill="#e8f8ea" stroke="#40b050" stroke-width="2.2"/>
<circle cx="1918.7" cy="2064.9" r="3.9" fill="#e8f8ea" stroke="#40b050" stroke-width="2.2"/>
<circle cx="1924.3" cy="2065.5" r="3.9" fill="#e8f8ea" stroke="#40b050" stroke-width="2.2"/>
<circle cx="1929.9" cy="2065.6" r="3.9" fill="#e8f8ea" stroke="#40b050" stroke-width="2.2"/>
<circle cx="1935.5" cy="2064.8" r="3.9" fill="#e8f8ea" stroke="#40b050" stroke-width="2.2"/>
<circle cx="1941" cy="2067.3" r="3.9" fill="#e8f8ea" stroke="#40b050" stroke-width="2.2"/>
<circle cx="1946.6" cy="2070.3" r="3.9" fill="#e8f8ea" stroke="#40b050" stroke-width="2.2"/>
<circle cx="1952.2" cy="2072.3" r="3.9" fill="#e8f8ea" stroke="#40b050" stroke-width="2.2"/>
<circle cx="1957.8" cy="2074.8" r="3.9" fill="#e8f8ea" stroke="#40b050" stroke-width="2.2"/>
<circle cx="1963.4" cy="2074" r="3.9" fill="#e8f8ea" stroke="#40b050" stroke-width="2.2"/>
<circle cx="1969" cy="2074.7" r="3.9" fill="#e8f8ea" stroke="#40b050" stroke-width="2.2"/>
<circle cx="1974.6" cy="2073.1" r="3.9" fill="#e8f8ea" stroke="#40b050" stroke-width="2.2"/>
<circle cx="1980.2" cy="2072.4" r="3.9" fill="#e8f8ea" stroke="#40b050" stroke-width="2.2"/>
<circle cx="1985.8" cy="2072.1" r="3.9" fill="#e8f8ea" stroke="#40b050" stroke-width="2.2"/>
<circle cx="1991.4" cy="2072.4" r="3.9" fill="#e8f8ea" stroke="#40b050" stroke-width="2.2"/>
<circle cx="1997" cy="2071.7" r="3.9" fill="#e8f8ea" stroke="#40b050" stroke-width="2.2"/>
<circle cx="2002.6" cy="2073.7" r="3.9" fill="#e8f8ea" stroke="#40b050" stroke-width="2.2"/>
<circle cx="2008.2" cy="2073.3" r="3.9" fill="#e8f8ea" stroke="#40b050" stroke-width="2.2"/>
<circle cx="2013.7" cy="2071.9" r="3.9" fill="#e8f8ea" stroke="#40b050" stroke-width="2.2"/>
<circle cx="2019.3" cy="2072.6" r="3.9" fill="#e8f8ea" stroke="#40b050" stroke-width="2.2"/>
<circle cx="2024.9" cy="2073.6" r="3.9" fill="#e8f8ea" stroke="#40b050" stroke-width="2.2"/>
<circle cx="2030.5" cy="2072.6" r="3.9" fill="#e8f8ea" stroke="#40b050" stroke-width="2.2"/>
<circle cx="2036.1" cy="2073.6" r="3.9" fill="#e8f8ea" stroke="#40b050" stroke-width="2.2"/>
<circle cx="2041.7" cy="2073.3" r="3.9" fill="#e8f8ea" stroke="#40b050" stroke-width="2.2"/>
<circle cx="2047.3" cy="2074" r="3.9" fill="#e8f8ea" stroke="#40b050" stroke-width="2.2"/>
<circle cx="2052.9" cy="2073.8" r="3.9" fill="#e8f8ea" stroke="#40b050" stroke-width="2.2"/>
<circle cx="2058.5" cy="2072.7" r="3.9" fill="#e8f8ea" stroke="#40b050" stroke-width="2.2"/>
<circle cx="2064.1" cy="2074.6" r="3.9" fill="#e8f8ea" stroke="#40b050" stroke-width="2.2"/>
<circle cx="2069.7" cy="2075.2" r="3.9" fill="#e8f8ea" stroke="#40b050" stroke-width="2.2"/>
<circle cx="2075.3" cy="2075" r="3.9" fill="#e8f8ea" stroke="#40b050" stroke-width="2.2"/>
<circle cx="2080.8" cy="2077.6" r="3.9" fill="#e8f8ea" stroke="#40b050" stroke-width="2.2"/>
<circle cx="2086.4" cy="2079.5" r="3.9" fill="#e8f8ea" stroke="#40b050" stroke-width="2.2"/>
<circle cx="2092" cy="2079.7" r="3.9" fill="#e8f8ea" stroke="#40b050" stroke-width="2.2"/>
<circle cx="2097.6" cy="2079.7" r="3.9" fill="#e8f8ea" stroke="#40b050" stroke-width="2.2"/>
<circle cx="2103.2" cy="2078.6" r="3.9" fill="#e8f8ea" stroke="#40b050" stroke-width="2.2"/>
<circle cx="2108.8" cy="2079.8" r="3.9" fill="#e8f8ea" stroke="#40b050" stroke-width="2.2"/>
<circle cx="2114.4" cy="2080.3" r="3.9" fill="#e8f8ea" stroke="#40b050" stroke-width="2.2"/>
<path d="M1555.2,1928.1 L1560.8,1930.4 L1566.4,1936 L1572,1939.4 L1577.6,1942.6 L1583.2,1942.9 L1588.8,1942.9 L1594.3,1941.9 L1599.9,1943.4 L1605.5,1943.9 L1611.1,1943.1 L1616.7,1943.8 L1622.3,1942.3 L1627.9,1944.5 L1633.5,1943.8 L1639.1,1943.4 L1644.7,1944.5 L1650.3,1943.4 L1655.9,1946.5 L1661.4,1948.9 L1667,1950.5 L1672.6,1951.7 L1678.2,1951.1 L1683.8,1951.9 L1689.4,1950.8 L1695,1951.3 L1700.6,1952.4 L1706.2,1953.8 L1711.8,1953.7 L1717.4,1954.5 L1723,1955.4 L1728.6,1956.2 L1734.1,1955.6 L1739.7,1958.1 L1745.3,1959.1 L1750.9,1957.9 L1756.5,1959.3 L1762.1,1958.9 L1767.7,1960.8 L1773.3,1960.3 L1778.9,1961.4 L1784.5,1961.7 L1790.1,1962.4 L1795.7,1963.5 L1801.2,1965 L1806.8,1965.3 L1812.4,1964.6 L1818,1965.4 L1823.6,1966.3 L1829.2,1968.5 L1834.8,1968.6 L1840.4,1968.5 L1846,1969 L1851.6,1968.8 L1857.2,1969.6 L1862.8,1969.5 L1868.4,1969.6 L1873.9,1970.8 L1879.5,1969.4 L1885.1,1969.8 L1890.7,1972.2 L1896.3,1970.5 L1901.9,1971 L1907.5,1972.1 L1913.1,1973.9 L1918.7,1972.4 L1924.3,1974.7 L1929.9,1973.4 L1935.5,1974.6 L1941,1976.6 L1946.6,1976.9 L1952.2,1977.3 L1957.8,1978.9 L1963.4,1979.9 L1969,1980.9 L1974.6,1984 L1980.2,1985.9 L1985.8,1984.5 L1991.4,1987.4 L1997,1986.1 L2002.6,1988.6 L2008.2,1989.8 L2013.7,1992.8 L2019.3,1995.4 L2024.9,1999.1 L2030.5,1998.8 L2036.1,2000.8 L2041.7,2000.2 L2047.3,2001.5 L2052.9,2000.7 L2058.5,2001.4 L2064.1,2002.1 L2069.7,2002 L2075.3,2003.2 L2080.8,2004.6 L2086.4,2004.7 L2092,2006.4 L2097.6,2007 L2103.2,2008.5 L2108.8,2010.6 L2114.4,2011" fill="none" stroke="#5050c8" stroke-width="2.4"/>
<circle cx="1555.2" cy="1928.1" r="3.9" fill="#ececfa" stroke="#5050c8" stroke-width="2.2"/>
<circle cx="1560.8" cy="1930.4" r="3.9" fill="#ececfa" stroke="#5050c8" stroke-width="2.2"/>
<circle cx="1566.4" cy="1936" r="3.9" fill="#ececfa" stroke="#5050c8" stroke-width="2.2"/>
<circle cx="1572" cy="1939.4" r="3.9" fill="#ececfa" stroke="#5050c8" stroke-width="2.2"/>
<circle cx="1577.6" cy="1942.6" r="3.9" fill="#ececfa" stroke="#5050c8" stroke-width="2.2"/>
<circle cx="1583.2" cy="1942.9" r="3.9" fill="#ececfa" stroke="#5050c8" stroke-width="2.2"/>
<circle cx="1588.8" cy="1942.9" r="3.9" fill="#ececfa" stroke="#5050c8" stroke-width="2.2"/>
<circle cx="1594.3" cy="1941.9" r="3.9" fill="#ececfa" stroke="#5050c8" stroke-width="2.2"/>
<circle cx="1599.9" cy="1943.4" r="3.9" fill="#ececfa" stroke="#5050c8" stroke-width="2.2"/>
<circle cx="1605.5" cy="1943.9" r="3.9" fill="#ececfa" stroke="#5050c8" stroke-width="2.2"/>
<circle cx="1611.1" cy="1943.1" r="3.9" fill="#ececfa" stroke="#5050c8" stroke-width="2.2"/>
<circle cx="1616.7" cy="1943.8" r="3.9" fill="#ececfa" stroke="#5050c8" stroke-width="2.2"/>
<circle cx="1622.3" cy="1942.3" r="3.9" fill="#ececfa" stroke="#5050c8" stroke-width="2.2"/>
<circle cx="1627.9" cy="1944.5" r="3.9" fill="#ececfa" stroke="#5050c8" stroke-width="2.2"/>
<circle cx="1633.5" cy="1943.8" r="3.9" fill="#ececfa" stroke="#5050c8" stroke-width="2.2"/>
<circle cx="1639.1" cy="1943.4" r="3.9" fill="#ececfa" stroke="#5050c8" stroke-width="2.2"/>
<circle cx="1644.7" cy="1944.5" r="3.9" fill="#ececfa" stroke="#5050c8" stroke-width="2.2"/>
<circle cx="1650.3" cy="1943.4" r="3.9" fill="#ececfa" stroke="#5050c8" stroke-width="2.2"/>
<circle cx="1655.9" cy="1946.5" r="3.9" fill="#ececfa" stroke="#5050c8" stroke-width="2.2"/>
<circle cx="1661.4" cy="1948.9" r="3.9" fill="#ececfa" stroke="#5050c8" stroke-width="2.2"/>
<circle cx="1667" cy="1950.5" r="3.9" fill="#ececfa" stroke="#5050c8" stroke-width="2.2"/>
<circle cx="1672.6" cy="1951.7" r="3.9" fill="#ececfa" stroke="#5050c8" stroke-width="2.2"/>
<circle cx="1678.2" cy="1951.1" r="3.9" fill="#ececfa" stroke="#5050c8" stroke-width="2.2"/>
<circle cx="1683.8" cy="1951.9" r="3.9" fill="#ececfa" stroke="#5050c8" stroke-width="2.2"/>
<circle cx="1689.4" cy="1950.8" r="3.9" fill="#ececfa" stroke="#5050c8" stroke-width="2.2"/>
<circle cx="1695" cy="1951.3" r="3.9" fill="#ececfa" stroke="#5050c8" stroke-width="2.2"/>
<circle cx="1700.6" cy="1952.4" r="3.9" fill="#ececfa" stroke="#5050c8" stroke-width="2.2"/>
<circle cx="1706.2" cy="1953.8" r="3.9" fill="#ececfa" stroke="#5050c8" stroke-width="2.2"/>
<circle cx="1711.8" cy="1953.7" r="3.9" fill="#ececfa" stroke="#5050c8" stroke-width="2.2"/>
<circle cx="1717.4" cy="1954.5" r="3.9" fill="#ececfa" stroke="#5050c8" stroke-width="2.2"/>
<circle cx="1723" cy="1955.4" r="3.9" fill="#ececfa" stroke="#5050c8" stroke-width="2.2"/>
<circle cx="1728.6" cy="1956.2" r="3.9" fill="#ececfa" stroke="#5050c8" stroke-width="2.2"/>
<circle cx="1734.1" cy="1955.6" r="3.9" fill="#ececfa" stroke="#5050c8" stroke-width="2.2"/>
<circle cx="1739.7" cy="1958.1" r="3.9" fill="#ececfa" stroke="#5050c8" stroke-width="2.2"/>
<circle cx="1745.3" cy="1959.1" r="3.9" fill="#ececfa" stroke="#5050c8" stroke-width="2.2"/>
<circle cx="1750.9" cy="1957.9" r="3.9" fill="#ececfa" stroke="#5050c8" stroke-width="2.2"/>
<circle cx="1756.5" cy="1959.3" r="3.9" fill="#ececfa" stroke="#5050c8" stroke-width="2.2"/>
<circle cx="1762.1" cy="1958.9" r="3.9" fill="#ececfa" stroke="#5050c8" stroke-width="2.2"/>
<circle cx="1767.7" cy="1960.8" r="3.9" fill="#ececfa" stroke="#5050c8" stroke-width="2.2"/>
<circle cx="1773.3" cy="1960.3" r="3.9" fill="#ececfa" stroke="#5050c8" stroke-width="2.2"/>
<circle cx="1778.9" cy="1961.4" r="3.9" fill="#ececfa" stroke="#5050c8" stroke-width="2.2"/>
<circle cx="1784.5" cy="1961.7" r="3.9" fill="#ececfa" stroke="#5050c8" stroke-width="2.2"/>
<circle cx="1790.1" cy="1962.4" r="3.9" fill="#ececfa" stroke="#5050c8" stroke-width="2.2"/>
<circle cx="1795.7" cy="1963.5" r="3.9" fill="#ececfa" stroke="#5050c8" stroke-width="2.2"/>
<circle cx="1801.2" cy="1965" r="3.9" fill="#ececfa" stroke="#5050c8" stroke-width="2.2"/>
<circle cx="1806.8" cy="1965.3" r="3.9" fill="#ececfa" stroke="#5050c8" stroke-width="2.2"/>
<circle cx="1812.4" cy="1964.6" r="3.9" fill="#ececfa" stroke="#5050c8" stroke-width="2.2"/>
<circle cx="1818" cy="1965.4" r="3.9" fill="#ececfa" stroke="#5050c8" stroke-width="2.2"/>
<circle cx="1823.6" cy="1966.3" r="3.9" fill="#ececfa" stroke="#5050c8" stroke-width="2.2"/>
<circle cx="1829.2" cy="1968.5" r="3.9" fill="#ececfa" stroke="#5050c8" stroke-width="2.2"/>
<circle cx="1834.8" cy="1968.6" r="3.9" fill="#ececfa" stroke="#5050c8" stroke-width="2.2"/>
<circle cx="1840.4" cy="1968.5" r="3.9" fill="#ececfa" stroke="#5050c8" stroke-width="2.2"/>
<circle cx="1846" cy="1969" r="3.9" fill="#ececfa" stroke="#5050c8" stroke-width="2.2"/>
<circle cx="1851.6" cy="1968.8" r="3.9" fill="#ececfa" stroke="#5050c8" stroke-width="2.2"/>
<circle cx="1857.2" cy="1969.6" r="3.9" fill="#ececfa" stroke="#5050c8" stroke-width="2.2"/>
<circle cx="1862.8" cy="1969.5" r="3.9" fill="#ececfa" stroke="#5050c8" stroke-width="2.2"/>
<circle cx="1868.4" cy="1969.6" r="3.9" fill="#ececfa" stroke="#5050c8" stroke-width="2.2"/>
<circle cx="1873.9" cy="1970.8" r="3.9" fill="#ececfa" stroke="#5050c8" stroke-width="2.2"/>
<circle cx="1879.5" cy="1969.4" r="3.9" fill="#ececfa" stroke="#5050c8" stroke-width="2.2"/>
<circle cx="1885.1" cy="1969.8" r="3.9" fill="#ececfa" stroke="#5050c8" stroke-width="2.2"/>
<circle cx="1890.7" cy="1972.2" r="3.9" fill="#ececfa" stroke="#5050c8" stroke-width="2.2"/>
<circle cx="1896.3" cy="1970.5" r="3.9" fill="#ececfa" stroke="#5050c8" stroke-width="2.2"/>
<circle cx="1901.9" cy="1971" r="3.9" fill="#ececfa" stroke="#5050c8" stroke-width="2.2"/>
<circle cx="1907.5" cy="1972.1" r="3.9" fill="#ececfa" stroke="#5050c8" stroke-width="2.2"/>
<circle cx="1913.1" cy="1973.9" r="3.9" fill="#ececfa" stroke="#5050c8" stroke-width="2.2"/>
<circle cx="1918.7" cy="1972.4" r="3.9" fill="#ececfa" stroke="#5050c8" stroke-width="2.2"/>
<circle cx="1924.3" cy="1974.7" r="3.9" fill="#ececfa" stroke="#5050c8" stroke-width="2.2"/>
<circle cx="1929.9" cy="1973.4" r="3.9" fill="#ececfa" stroke="#5050c8" stroke-width="2.2"/>
<circle cx="1935.5" cy="1974.6" r="3.9" fill="#ececfa" stroke="#5050c8" stroke-width="2.2"/>
<circle cx="1941" cy="1976.6" r="3.9" fill="#ececfa" stroke="#5050c8" stroke-width="2.2"/>
<circle cx="1946.6" cy="1976.9" r="3.9" fill="#ececfa" stroke="#5050c8" stroke-width="2.2"/>
<circle cx="1952.2" cy="1977.3" r="3.9" fill="#ececfa" stroke="#5050c8" stroke-width="2.2"/>
<circle cx="1957.8" cy="1978.9" r="3.9" fill="#ececfa" stroke="#5050c8" stroke-width="2.2"/>
<circle cx="1963.4" cy="1979.9" r="3.9" fill="#ececfa" stroke="#5050c8" stroke-width="2.2"/>
<circle cx="1969" cy="1980.9" r="3.9" fill="#ececfa" stroke="#5050c8" stroke-width="2.2"/>
<circle cx="1974.6" cy="1984" r="3.9" fill="#ececfa" stroke="#5050c8" stroke-width="2.2"/>
<circle cx="1980.2" cy="1985.9" r="3.9" fill="#ececfa" stroke="#5050c8" stroke-width="2.2"/>
<circle cx="1985.8" cy="1984.5" r="3.9" fill="#ececfa" stroke="#5050c8" stroke-width="2.2"/>
<circle cx="1991.4" cy="1987.4" r="3.9" fill="#ececfa" stroke="#5050c8" stroke-width="2.2"/>
<circle cx="1997" cy="1986.1" r="3.9" fill="#ececfa" stroke="#5050c8" stroke-width="2.2"/>
<circle cx="2002.6" cy="1988.6" r="3.9" fill="#ececfa" stroke="#5050c8" stroke-width="2.2"/>
<circle cx="2008.2" cy="1989.8" r="3.9" fill="#ececfa" stroke="#5050c8" stroke-width="2.2"/>
<circle cx="2013.7" cy="1992.8" r="3.9" fill="#ececfa" stroke="#5050c8" stroke-width="2.2"/>
<circle cx="2019.3" cy="1995.4" r="3.9" fill="#ececfa" stroke="#5050c8" stroke-width="2.2"/>
<circle cx="2024.9" cy="1999.1" r="3.9" fill="#ececfa" stroke="#5050c8" stroke-width="2.2"/>
<circle cx="2030.5" cy="1998.8" r="3.9" fill="#ececfa" stroke="#5050c8" stroke-width="2.2"/>
<circle cx="2036.1" cy="2000.8" r="3.9" fill="#ececfa" stroke="#5050c8" stroke-width="2.2"/>
<circle cx="2041.7" cy="2000.2" r="3.9" fill="#ececfa" stroke="#5050c8" stroke-width="2.2"/>
<circle cx="2047.3" cy="2001.5" r="3.9" fill="#ececfa" stroke="#5050c8" stroke-width="2.2"/>
<circle cx="2052.9" cy="2000.7" r="3.9" fill="#ececfa" stroke="#5050c8" stroke-width="2.2"/>
<circle cx="2058.5" cy="2001.4" r="3.9" fill="#ececfa" stroke="#5050c8" stroke-width="2.2"/>
<circle cx="2064.1" cy="2002.1" r="3.9" fill="#ececfa" stroke="#5050c8" stroke-width="2.2"/>
<circle cx="2069.7" cy="2002" r="3.9" fill="#ececfa" stroke="#5050c8" stroke-width="2.2"/>
<circle cx="2075.3" cy="2003.2" r="3.9" fill="#ececfa" stroke="#5050c8" stroke-width="2.2"/>
<circle cx="2080.8" cy="2004.6" r="3.9" fill="#ececfa" stroke="#5050c8" stroke-width="2.2"/>
<circle cx="2086.4" cy="2004.7" r="3.9" fill="#ececfa" stroke="#5050c8" stroke-width="2.2"/>
<circle cx="2092" cy="2006.4" r="3.9" fill="#ececfa" stroke="#5050c8" stroke-width="2.2"/>
<circle cx="2097.6" cy="2007" r="3.9" fill="#ececfa" stroke="#5050c8" stroke-width="2.2"/>
<circle cx="2103.2" cy="2008.5" r="3.9" fill="#ececfa" stroke="#5050c8" stroke-width="2.2"/>
<circle cx="2108.8" cy="2010.6" r="3.9" fill="#ececfa" stroke="#5050c8" stroke-width="2.2"/>
<circle cx="2114.4" cy="2011" r="3.9" fill="#ececfa" stroke="#5050c8" stroke-width="2.2"/>
<path d="M1555.2,1863.3 L1560.8,1865.6 L1566.4,1868.5 L1572,1868.3 L1577.6,1870 L1583.2,1873.5 L1588.8,1872.7 L1594.3,1873.4 L1599.9,1872.7 L1605.5,1874.1 L1611.1,1874.6 L1616.7,1874.3 L1622.3,1873.5 L1627.9,1875.8 L1633.5,1876 L1639.1,1875.1 L1644.7,1874.8 L1650.3,1875.9 L1655.9,1876.4 L1661.4,1875.7 L1667,1876.2 L1672.6,1877.7 L1678.2,1875.7 L1683.8,1877.1 L1689.4,1876.7 L1695,1875.3 L1700.6,1876.1 L1706.2,1875.1 L1711.8,1876.4 L1717.4,1874.7 L1723,1876.1 L1728.6,1876.5 L1734.1,1876 L1739.7,1876.6 L1745.3,1876.4 L1750.9,1875.9 L1756.5,1876.6 L1762.1,1878.5 L1767.7,1878.1 L1773.3,1877.9 L1778.9,1878.3 L1784.5,1878.2 L1790.1,1879.2 L1795.7,1880.5 L1801.2,1880.6 L1806.8,1879.6 L1812.4,1881.2 L1818,1880.7 L1823.6,1880.6 L1829.2,1881.9 L1834.8,1882.2 L1840.4,1882.5 L1846,1883.3 L1851.6,1882.1 L1857.2,1883.2 L1862.8,1882.4 L1868.4,1883.9 L1873.9,1882.8 L1879.5,1883.1 L1885.1,1883.6 L1890.7,1884.2 L1896.3,1885.2 L1901.9,1884.1 L1907.5,1885.4 L1913.1,1885.1 L1918.7,1886.7 L1924.3,1887.2 L1929.9,1887.4 L1935.5,1886.2 L1941,1888.7 L1946.6,1888.1 L1952.2,1890.4 L1957.8,1891.1 L1963.4,1891.9 L1969,1891.7 L1974.6,1893.2 L1980.2,1892.9 L1985.8,1892 L1991.4,1894.1 L1997,1893.4 L2002.6,1894.5 L2008.2,1895.5 L2013.7,1897.2 L2019.3,1898.1 L2024.9,1897 L2030.5,1898.2 L2036.1,1897.3 L2041.7,1896.3 L2047.3,1895 L2052.9,1895.9 L2058.5,1893.9 L2064.1,1893.8 L2069.7,1893.4 L2075.3,1892.2 L2080.8,1892.4 L2086.4,1891.6 L2092,1894.7 L2097.6,1894.6 L2103.2,1895.7 L2108.8,1896.7 L2114.4,1898.2" fill="none" stroke="#ff5050" stroke-width="2.4"/>
<circle cx="1555.2" cy="1863.3" r="3.9" fill="#fff0f0" stroke="#ff5050" stroke-width="2.2"/>
<circle cx="1560.8" cy="1865.6" r="3.9" fill="#fff0f0" stroke="#ff5050" stroke-width="2.2"/>
<circle cx="1566.4" cy="1868.5" r="3.9" fill="#fff0f0" stroke="#ff5050" stroke-width="2.2"/>
<circle cx="1572" cy="1868.3" r="3.9" fill="#fff0f0" stroke="#ff5050" stroke-width="2.2"/>
<circle cx="1577.6" cy="1870" r="3.9" fill="#fff0f0" stroke="#ff5050" stroke-width="2.2"/>
<circle cx="1583.2" cy="1873.5" r="3.9" fill="#fff0f0" stroke="#ff5050" stroke-width="2.2"/>
<circle cx="1588.8" cy="1872.7" r="3.9" fill="#fff0f0" stroke="#ff5050" stroke-width="2.2"/>
<circle cx="1594.3" cy="1873.4" r="3.9" fill="#fff0f0" stroke="#ff5050" stroke-width="2.2"/>
<circle cx="1599.9" cy="1872.7" r="3.9" fill="#fff0f0" stroke="#ff5050" stroke-width="2.2"/>
<circle cx="1605.5" cy="1874.1" r="3.9" fill="#fff0f0" stroke="#ff5050" stroke-width="2.2"/>
<circle cx="1611.1" cy="1874.6" r="3.9" fill="#fff0f0" stroke="#ff5050" stroke-width="2.2"/>
<circle cx="1616.7" cy="1874.3" r="3.9" fill="#fff0f0" stroke="#ff5050" stroke-width="2.2"/>
<circle cx="1622.3" cy="1873.5" r="3.9" fill="#fff0f0" stroke="#ff5050" stroke-width="2.2"/>
<circle cx="1627.9" cy="1875.8" r="3.9" fill="#fff0f0" stroke="#ff5050" stroke-width="2.2"/>
<circle cx="1633.5" cy="1876" r="3.9" fill="#fff0f0" stroke="#ff5050" stroke-width="2.2"/>
<circle cx="1639.1" cy="1875.1" r="3.9" fill="#fff0f0" stroke="#ff5050" stroke-width="2.2"/>
<circle cx="1644.7" cy="1874.8" r="3.9" fill="#fff0f0" stroke="#ff5050" stroke-width="2.2"/>
<circle cx="1650.3" cy="1875.9" r="3.9" fill="#fff0f0" stroke="#ff5050" stroke-width="2.2"/>
<circle cx="1655.9" cy="1876.4" r="3.9" fill="#fff0f0" stroke="#ff5050" stroke-width="2.2"/>
<circle cx="1661.4" cy="1875.7" r="3.9" fill="#fff0f0" stroke="#ff5050" stroke-width="2.2"/>
<circle cx="1667" cy="1876.2" r="3.9" fill="#fff0f0" stroke="#ff5050" stroke-width="2.2"/>
<circle cx="1672.6" cy="1877.7" r="3.9" fill="#fff0f0" stroke="#ff5050" stroke-width="2.2"/>
<circle cx="1678.2" cy="1875.7" r="3.9" fill="#fff0f0" stroke="#ff5050" stroke-width="2.2"/>
<circle cx="1683.8" cy="1877.1" r="3.9" fill="#fff0f0" stroke="#ff5050" stroke-width="2.2"/>
<circle cx="1689.4" cy="1876.7" r="3.9" fill="#fff0f0" stroke="#ff5050" stroke-width="2.2"/>
<circle cx="1695" cy="1875.3" r="3.9" fill="#fff0f0" stroke="#ff5050" stroke-width="2.2"/>
<circle cx="1700.6" cy="1876.1" r="3.9" fill="#fff0f0" stroke="#ff5050" stroke-width="2.2"/>
<circle cx="1706.2" cy="1875.1" r="3.9" fill="#fff0f0" stroke="#ff5050" stroke-width="2.2"/>
<circle cx="1711.8" cy="1876.4" r="3.9" fill="#fff0f0" stroke="#ff5050" stroke-width="2.2"/>
<circle cx="1717.4" cy="1874.7" r="3.9" fill="#fff0f0" stroke="#ff5050" stroke-width="2.2"/>
<circle cx="1723" cy="1876.1" r="3.9" fill="#fff0f0" stroke="#ff5050" stroke-width="2.2"/>
<circle cx="1728.6" cy="1876.5" r="3.9" fill="#fff0f0" stroke="#ff5050" stroke-width="2.2"/>
<circle cx="1734.1" cy="1876" r="3.9" fill="#fff0f0" stroke="#ff5050" stroke-width="2.2"/>
<circle cx="1739.7" cy="1876.6" r="3.9" fill="#fff0f0" stroke="#ff5050" stroke-width="2.2"/>
<circle cx="1745.3" cy="1876.4" r="3.9" fill="#fff0f0" stroke="#ff5050" stroke-width="2.2"/>
<circle cx="1750.9" cy="1875.9" r="3.9" fill="#fff0f0" stroke="#ff5050" stroke-width="2.2"/>
<circle cx="1756.5" cy="1876.6" r="3.9" fill="#fff0f0" stroke="#ff5050" stroke-width="2.2"/>
<circle cx="1762.1" cy="1878.5" r="3.9" fill="#fff0f0" stroke="#ff5050" stroke-width="2.2"/>
<circle cx="1767.7" cy="1878.1" r="3.9" fill="#fff0f0" stroke="#ff5050" stroke-width="2.2"/>
<circle cx="1773.3" cy="1877.9" r="3.9" fill="#fff0f0" stroke="#ff5050" stroke-width="2.2"/>
<circle cx="1778.9" cy="1878.3" r="3.9" fill="#fff0f0" stroke="#ff5050" stroke-width="2.2"/>
<circle cx="1784.5" cy="1878.2" r="3.9" fill="#fff0f0" stroke="#ff5050" stroke-width="2.2"/>
<circle cx="1790.1" cy="1879.2" r="3.9" fill="#fff0f0" stroke="#ff5050" stroke-width="2.2"/>
<circle cx="1795.7" cy="1880.5" r="3.9" fill="#fff0f0" stroke="#ff5050" stroke-width="2.2"/>
<circle cx="1801.2" cy="1880.6" r="3.9" fill="#fff0f0" stroke="#ff5050" stroke-width="2.2"/>
<circle cx="1806.8" cy="1879.6" r="3.9" fill="#fff0f0" stroke="#ff5050" stroke-width="2.2"/>
<circle cx="1812.4" cy="1881.2" r="3.9" fill="#fff0f0" stroke="#ff5050" stroke-width="2.2"/>
<circle cx="1818" cy="1880.7" r="3.9" fill="#fff0f0" stroke="#ff5050" stroke-width="2.2"/>
<circle cx="1823.6" cy="1880.6" r="3.9" fill="#fff0f0" stroke="#ff5050" stroke-width="2.2"/>
<circle cx="1829.2" cy="1881.9" r="3.9" fill="#fff0f0" stroke="#ff5050" stroke-width="2.2"/>
<circle cx="1834.8" cy="1882.2" r="3.9" fill="#fff0f0" stroke="#ff5050" stroke-width="2.2"/>
<circle cx="1840.4" cy="1882.5" r="3.9" fill="#fff0f0" stroke="#ff5050" stroke-width="2.2"/>
<circle cx="1846" cy="1883.3" r="3.9" fill="#fff0f0" stroke="#ff5050" stroke-width="2.2"/>
<circle cx="1851.6" cy="1882.1" r="3.9" fill="#fff0f0" stroke="#ff5050" stroke-width="2.2"/>
<circle cx="1857.2" cy="1883.2" r="3.9" fill="#fff0f0" stroke="#ff5050" stroke-width="2.2"/>
<circle cx="1862.8" cy="1882.4" r="3.9" fill="#fff0f0" stroke="#ff5050" stroke-width="2.2"/>
<circle cx="1868.4" cy="1883.9" r="3.9" fill="#fff0f0" stroke="#ff5050" stroke-width="2.2"/>
<circle cx="1873.9" cy="1882.8" r="3.9" fill="#fff0f0" stroke="#ff5050" stroke-width="2.2"/>
<circle cx="1879.5" cy="1883.1" r="3.9" fill="#fff0f0" stroke="#ff5050" stroke-width="2.2"/>
<circle cx="1885.1" cy="1883.6" r="3.9" fill="#fff0f0" stroke="#ff5050" stroke-width="2.2"/>
<circle cx="1890.7" cy="1884.2" r="3.9" fill="#fff0f0" stroke="#ff5050" stroke-width="2.2"/>
<circle cx="1896.3" cy="1885.2" r="3.9" fill="#fff0f0" stroke="#ff5050" stroke-width="2.2"/>
<circle cx="1901.9" cy="1884.1" r="3.9" fill="#fff0f0" stroke="#ff5050" stroke-width="2.2"/>
<circle cx="1907.5" cy="1885.4" r="3.9" fill="#fff0f0" stroke="#ff5050" stroke-width="2.2"/>
<circle cx="1913.1" cy="1885.1" r="3.9" fill="#fff0f0" stroke="#ff5050" stroke-width="2.2"/>
<circle cx="1918.7" cy="1886.7" r="3.9" fill="#fff0f0" stroke="#ff5050" stroke-width="2.2"/>
<circle cx="1924.3" cy="1887.2" r="3.9" fill="#fff0f0" stroke="#ff5050" stroke-width="2.2"/>
<circle cx="1929.9" cy="1887.4" r="3.9" fill="#fff0f0" stroke="#ff5050" stroke-width="2.2"/>
<circle cx="1935.5" cy="1886.2" r="3.9" fill="#fff0f0" stroke="#ff5050" stroke-width="2.2"/>
<circle cx="1941" cy="1888.7" r="3.9" fill="#fff0f0" stroke="#ff5050" stroke-width="2.2"/>
<circle cx="1946.6" cy="1888.1" r="3.9" fill="#fff0f0" stroke="#ff5050" stroke-width="2.2"/>
<circle cx="1952.2" cy="1890.4" r="3.9" fill="#fff0f0" stroke="#ff5050" stroke-width="2.2"/>
<circle cx="1957.8" cy="1891.1" r="3.9" fill="#fff0f0" stroke="#ff5050" stroke-width="2.2"/>
<circle cx="1963.4" cy="1891.9" r="3.9" fill="#fff0f0" stroke="#ff5050" stroke-width="2.2"/>
<circle cx="1969" cy="1891.7" r="3.9" fill="#fff0f0" stroke="#ff5050" stroke-width="2.2"/>
<circle cx="1974.6" cy="1893.2" r="3.9" fill="#fff0f0" stroke="#ff5050" stroke-width="2.2"/>
<circle cx="1980.2" cy="1892.9" r="3.9" fill="#fff0f0" stroke="#ff5050" stroke-width="2.2"/>
<circle cx="1985.8" cy="1892" r="3.9" fill="#fff0f0" stroke="#ff5050" stroke-width="2.2"/>
<circle cx="1991.4" cy="1894.1" r="3.9" fill="#fff0f0" stroke="#ff5050" stroke-width="2.2"/>
<circle cx="1997" cy="1893.4" r="3.9" fill="#fff0f0" stroke="#ff5050" stroke-width="2.2"/>
<circle cx="2002.6" cy="1894.5" r="3.9" fill="#fff0f0" stroke="#ff5050" stroke-width="2.2"/>
<circle cx="2008.2" cy="1895.5" r="3.9" fill="#fff0f0" stroke="#ff5050" stroke-width="2.2"/>
<circle cx="2013.7" cy="1897.2" r="3.9" fill="#fff0f0" stroke="#ff5050" stroke-width="2.2"/>
<circle cx="2019.3" cy="1898.1" r="3.9" fill="#fff0f0" stroke="#ff5050" stroke-width="2.2"/>
<circle cx="2024.9" cy="1897" r="3.9" fill="#fff0f0" stroke="#ff5050" stroke-width="2.2"/>
<circle cx="2030.5" cy="1898.2" r="3.9" fill="#fff0f0" stroke="#ff5050" stroke-width="2.2"/>
<circle cx="2036.1" cy="1897.3" r="3.9" fill="#fff0f0" stroke="#ff5050" stroke-width="2.2"/>
<circle cx="2041.7" cy="1896.3" r="3.9" fill="#fff0f0" stroke="#ff5050" stroke-width="2.2"/>
<circle cx="2047.3" cy="1895" r="3.9" fill="#fff0f0" stroke="#ff5050" stroke-width="2.2"/>
<circle cx="2052.9" cy="1895.9" r="3.9" fill="#fff0f0" stroke="#ff5050" stroke-width="2.2"/>
<circle cx="2058.5" cy="1893.9" r="3.9" fill="#fff0f0" stroke="#ff5050" stroke-width="2.2"/>
<circle cx="2064.1" cy="1893.8" r="3.9" fill="#fff0f0" stroke="#ff5050" stroke-width="2.2"/>
<circle cx="2069.7" cy="1893.4" r="3.9" fill="#fff0f0" stroke="#ff5050" stroke-width="2.2"/>
<circle cx="2075.3" cy="1892.2" r="3.9" fill="#fff0f0" stroke="#ff5050" stroke-width="2.2"/>
<circle cx="2080.8" cy="1892.4" r="3.9" fill="#fff0f0" stroke="#ff5050" stroke-width="2.2"/>
<circle cx="2086.4" cy="1891.6" r="3.9" fill="#fff0f0" stroke="#ff5050" stroke-width="2.2"/>
<circle cx="2092" cy="1894.7" r="3.9" fill="#fff0f0" stroke="#ff5050" stroke-width="2.2"/>
<circle cx="2097.6" cy="1894.6" r="3.9" fill="#fff0f0" stroke="#ff5050" stroke-width="2.2"/>
<circle cx="2103.2" cy="1895.7" r="3.9" fill="#fff0f0" stroke="#ff5050" stroke-width="2.2"/>
<circle cx="2108.8" cy="1896.7" r="3.9" fill="#fff0f0" stroke="#ff5050" stroke-width="2.2"/>
<circle cx="2114.4" cy="1898.2" r="3.9" fill="#fff0f0" stroke="#ff5050" stroke-width="2.2"/>
<path d="M1555.2,1785.8 L1560.8,1791.7 L1566.4,1784.7 L1572,1790.6 L1577.6,1788.4 L1583.2,1785 L1588.8,1787.2 L1594.3,1791.7 L1599.9,1792.6 L1605.5,1791.5 L1611.1,1788.1 L1616.7,1783.9 L1622.3,1785 L1627.9,1790.6 L1633.5,1790.6 L1639.1,1785.9 L1644.7,1792 L1650.3,1790.5 L1655.9,1795 L1661.4,1793.1 L1667,1789.1 L1672.6,1787.3 L1678.2,1788.2 L1683.8,1791.1 L1689.4,1784.4 L1695,1788.1 L1700.6,1793.4 L1706.2,1794.4 L1711.8,1784.2 L1717.4,1784 L1723,1784.8 L1728.6,1788.3 L1734.1,1791.6 L1739.7,1794.1 L1745.3,1792.3 L1750.9,1792.7 L1756.5,1784.7 L1762.1,1785.1 L1767.7,1786.4 L1773.3,1793.5 L1778.9,1792.5 L1784.5,1791.8 L1790.1,1784.5 L1795.7,1793.3 L1801.2,1786.2 L1806.8,1787.5 L1812.4,1789 L1818,1784.3 L1823.6,1792.2 L1829.2,1789.2 L1834.8,1793.4 L1840.4,1794.1 L1846,1794.8 L1851.6,1791.6 L1857.2,1793.8 L1862.8,1794.5 L1868.4,1783.9 L1873.9,1791.9 L1879.5,1785.1 L1885.1,1787.2 L1890.7,1786.9 L1896.3,1787.8 L1901.9,1784.4 L1907.5,1785.2 L1913.1,1787 L1918.7,1788.8 L1924.3,1787.3 L1929.9,1787 L1935.5,1788.9 L1941,1789.5 L1946.6,1793.4 L1952.2,1785.6 L1957.8,1789.7 L1963.4,1794.4 L1969,1793.3 L1974.6,1785.3 L1980.2,1792.3 L1985.8,1790.7 L1991.4,1787.5 L1997,1785.4 L2002.6,1791.5 L2008.2,1790.8 L2013.7,1790.4 L2019.3,1794.9 L2024.9,1785.3 L2030.5,1795 L2036.1,1784.3 L2041.7,1793.4 L2047.3,1793.4 L2052.9,1785.6 L2058.5,1785.9 L2064.1,1792.5 L2069.7,1788.9 L2075.3,1789.8 L2080.8,1787 L2086.4,1793.1 L2092,1785.8 L2097.6,1783.9 L2103.2,1787.2 L2108.8,1784.8 L2114.4,1784.6" fill="none" stroke="#ff5050" stroke-width="2.2"/>
<circle cx="1555.2" cy="1785.8" r="3.8" fill="#fff0f0" stroke="#ff5050" stroke-width="2.1"/>
<circle cx="1560.8" cy="1791.7" r="3.8" fill="#fff0f0" stroke="#ff5050" stroke-width="2.1"/>
<circle cx="1566.4" cy="1784.7" r="3.8" fill="#fff0f0" stroke="#ff5050" stroke-width="2.1"/>
<circle cx="1572" cy="1790.6" r="3.8" fill="#fff0f0" stroke="#ff5050" stroke-width="2.1"/>
<circle cx="1577.6" cy="1788.4" r="3.8" fill="#fff0f0" stroke="#ff5050" stroke-width="2.1"/>
<circle cx="1583.2" cy="1785" r="3.8" fill="#fff0f0" stroke="#ff5050" stroke-width="2.1"/>
<circle cx="1588.8" cy="1787.2" r="3.8" fill="#fff0f0" stroke="#ff5050" stroke-width="2.1"/>
<circle cx="1594.3" cy="1791.7" r="3.8" fill="#fff0f0" stroke="#ff5050" stroke-width="2.1"/>
<circle cx="1599.9" cy="1792.6" r="3.8" fill="#fff0f0" stroke="#ff5050" stroke-width="2.1"/>
<circle cx="1605.5" cy="1791.5" r="3.8" fill="#fff0f0" stroke="#ff5050" stroke-width="2.1"/>
<circle cx="1611.1" cy="1788.1" r="3.8" fill="#fff0f0" stroke="#ff5050" stroke-width="2.1"/>
<circle cx="1616.7" cy="1783.9" r="3.8" fill="#fff0f0" stroke="#ff5050" stroke-width="2.1"/>
<circle cx="1622.3" cy="1785" r="3.8" fill="#fff0f0" stroke="#ff5050" stroke-width="2.1"/>
<circle cx="1627.9" cy="1790.6" r="3.8" fill="#fff0f0" stroke="#ff5050" stroke-width="2.1"/>
<circle cx="1633.5" cy="1790.6" r="3.8" fill="#fff0f0" stroke="#ff5050" stroke-width="2.1"/>
<circle cx="1639.1" cy="1785.9" r="3.8" fill="#fff0f0" stroke="#ff5050" stroke-width="2.1"/>
<circle cx="1644.7" cy="1792" r="3.8" fill="#fff0f0" stroke="#ff5050" stroke-width="2.1"/>
<circle cx="1650.3" cy="1790.5" r="3.8" fill="#fff0f0" stroke="#ff5050" stroke-width="2.1"/>
<circle cx="1655.9" cy="1795" r="3.8" fill="#fff0f0" stroke="#ff5050" stroke-width="2.1"/>
<circle cx="1661.4" cy="1793.1" r="3.8" fill="#fff0f0" stroke="#ff5050" stroke-width="2.1"/>
<circle cx="1667" cy="1789.1" r="3.8" fill="#fff0f0" stroke="#ff5050" stroke-width="2.1"/>
<circle cx="1672.6" cy="1787.3" r="3.8" fill="#fff0f0" stroke="#ff5050" stroke-width="2.1"/>
<circle cx="1678.2" cy="1788.2" r="3.8" fill="#fff0f0" stroke="#ff5050" stroke-width="2.1"/>
<circle cx="1683.8" cy="1791.1" r="3.8" fill="#fff0f0" stroke="#ff5050" stroke-width="2.1"/>
<circle cx="1689.4" cy="1784.4" r="3.8" fill="#fff0f0" stroke="#ff5050" stroke-width="2.1"/>
<circle cx="1695" cy="1788.1" r="3.8" fill="#fff0f0" stroke="#ff5050" stroke-width="2.1"/>
<circle cx="1700.6" cy="1793.4" r="3.8" fill="#fff0f0" stroke="#ff5050" stroke-width="2.1"/>
<circle cx="1706.2" cy="1794.4" r="3.8" fill="#fff0f0" stroke="#ff5050" stroke-width="2.1"/>
<circle cx="1711.8" cy="1784.2" r="3.8" fill="#fff0f0" stroke="#ff5050" stroke-width="2.1"/>
<circle cx="1717.4" cy="1784" r="3.8" fill="#fff0f0" stroke="#ff5050" stroke-width="2.1"/>
<circle cx="1723" cy="1784.8" r="3.8" fill="#fff0f0" stroke="#ff5050" stroke-width="2.1"/>
<circle cx="1728.6" cy="1788.3" r="3.8" fill="#fff0f0" stroke="#ff5050" stroke-width="2.1"/>
<circle cx="1734.1" cy="1791.6" r="3.8" fill="#fff0f0" stroke="#ff5050" stroke-width="2.1"/>
<circle cx="1739.7" cy="1794.1" r="3.8" fill="#fff0f0" stroke="#ff5050" stroke-width="2.1"/>
<circle cx="1745.3" cy="1792.3" r="3.8" fill="#fff0f0" stroke="#ff5050" stroke-width="2.1"/>
<circle cx="1750.9" cy="1792.7" r="3.8" fill="#fff0f0" stroke="#ff5050" stroke-width="2.1"/>
<circle cx="1756.5" cy="1784.7" r="3.8" fill="#fff0f0" stroke="#ff5050" stroke-width="2.1"/>
<circle cx="1762.1" cy="1785.1" r="3.8" fill="#fff0f0" stroke="#ff5050" stroke-width="2.1"/>
<circle cx="1767.7" cy="1786.4" r="3.8" fill="#fff0f0" stroke="#ff5050" stroke-width="2.1"/>
<circle cx="1773.3" cy="1793.5" r="3.8" fill="#fff0f0" stroke="#ff5050" stroke-width="2.1"/>
<circle cx="1778.9" cy="1792.5" r="3.8" fill="#fff0f0" stroke="#ff5050" stroke-width="2.1"/>
<circle cx="1784.5" cy="1791.8" r="3.8" fill="#fff0f0" stroke="#ff5050" stroke-width="2.1"/>
<circle cx="1790.1" cy="1784.5" r="3.8" fill="#fff0f0" stroke="#ff5050" stroke-width="2.1"/>
<circle cx="1795.7" cy="1793.3" r="3.8" fill="#fff0f0" stroke="#ff5050" stroke-width="2.1"/>
<circle cx="1801.2" cy="1786.2" r="3.8" fill="#fff0f0" stroke="#ff5050" stroke-width="2.1"/>
<circle cx="1806.8" cy="1787.5" r="3.8" fill="#fff0f0" stroke="#ff5050" stroke-width="2.1"/>
<circle cx="1812.4" cy="1789" r="3.8" fill="#fff0f0" stroke="#ff5050" stroke-width="2.1"/>
<circle cx="1818" cy="1784.3" r="3.8" fill="#fff0f0" stroke="#ff5050" stroke-width="2.1"/>
<circle cx="1823.6" cy="1792.2" r="3.8" fill="#fff0f0" stroke="#ff5050" stroke-width="2.1"/>
<circle cx="1829.2" cy="1789.2" r="3.8" fill="#fff0f0" stroke="#ff5050" stroke-width="2.1"/>
<circle cx="1834.8" cy="1793.4" r="3.8" fill="#fff0f0" stroke="#ff5050" stroke-width="2.1"/>
<circle cx="1840.4" cy="1794.1" r="3.8" fill="#fff0f0" stroke="#ff5050" stroke-width="2.1"/>
<circle cx="1846" cy="1794.8" r="3.8" fill="#fff0f0" stroke="#ff5050" stroke-width="2.1"/>
<circle cx="1851.6" cy="1791.6" r="3.8" fill="#fff0f0" stroke="#ff5050" stroke-width="2.1"/>
<circle cx="1857.2" cy="1793.8" r="3.8" fill="#fff0f0" stroke="#ff5050" stroke-width="2.1"/>
<circle cx="1862.8" cy="1794.5" r="3.8" fill="#fff0f0" stroke="#ff5050" stroke-width="2.1"/>
<circle cx="1868.4" cy="1783.9" r="3.8" fill="#fff0f0" stroke="#ff5050" stroke-width="2.1"/>
<circle cx="1873.9" cy="1791.9" r="3.8" fill="#fff0f0" stroke="#ff5050" stroke-width="2.1"/>
<circle cx="1879.5" cy="1785.1" r="3.8" fill="#fff0f0" stroke="#ff5050" stroke-width="2.1"/>
<circle cx="1885.1" cy="1787.2" r="3.8" fill="#fff0f0" stroke="#ff5050" stroke-width="2.1"/>
<circle cx="1890.7" cy="1786.9" r="3.8" fill="#fff0f0" stroke="#ff5050" stroke-width="2.1"/>
<circle cx="1896.3" cy="1787.8" r="3.8" fill="#fff0f0" stroke="#ff5050" stroke-width="2.1"/>
<circle cx="1901.9" cy="1784.4" r="3.8" fill="#fff0f0" stroke="#ff5050" stroke-width="2.1"/>
<circle cx="1907.5" cy="1785.2" r="3.8" fill="#fff0f0" stroke="#ff5050" stroke-width="2.1"/>
<circle cx="1913.1" cy="1787" r="3.8" fill="#fff0f0" stroke="#ff5050" stroke-width="2.1"/>
<circle cx="1918.7" cy="1788.8" r="3.8" fill="#fff0f0" stroke="#ff5050" stroke-width="2.1"/>
<circle cx="1924.3" cy="1787.3" r="3.8" fill="#fff0f0" stroke="#ff5050" stroke-width="2.1"/>
<circle cx="1929.9" cy="1787" r="3.8" fill="#fff0f0" stroke="#ff5050" stroke-width="2.1"/>
<circle cx="1935.5" cy="1788.9" r="3.8" fill="#fff0f0" stroke="#ff5050" stroke-width="2.1"/>
<circle cx="1941" cy="1789.5" r="3.8" fill="#fff0f0" stroke="#ff5050" stroke-width="2.1"/>
<circle cx="1946.6" cy="1793.4" r="3.8" fill="#fff0f0" stroke="#ff5050" stroke-width="2.1"/>
<circle cx="1952.2" cy="1785.6" r="3.8" fill="#fff0f0" stroke="#ff5050" stroke-width="2.1"/>
<circle cx="1957.8" cy="1789.7" r="3.8" fill="#fff0f0" stroke="#ff5050" stroke-width="2.1"/>
<circle cx="1963.4" cy="1794.4" r="3.8" fill="#fff0f0" stroke="#ff5050" stroke-width="2.1"/>
<circle cx="1969" cy="1793.3" r="3.8" fill="#fff0f0" stroke="#ff5050" stroke-width="2.1"/>
<circle cx="1974.6" cy="1785.3" r="3.8" fill="#fff0f0" stroke="#ff5050" stroke-width="2.1"/>
<circle cx="1980.2" cy="1792.3" r="3.8" fill="#fff0f0" stroke="#ff5050" stroke-width="2.1"/>
<circle cx="1985.8" cy="1790.7" r="3.8" fill="#fff0f0" stroke="#ff5050" stroke-width="2.1"/>
<circle cx="1991.4" cy="1787.5" r="3.8" fill="#fff0f0" stroke="#ff5050" stroke-width="2.1"/>
<circle cx="1997" cy="1785.4" r="3.8" fill="#fff0f0" stroke="#ff5050" stroke-width="2.1"/>
<circle cx="2002.6" cy="1791.5" r="3.8" fill="#fff0f0" stroke="#ff5050" stroke-width="2.1"/>
<circle cx="2008.2" cy="1790.8" r="3.8" fill="#fff0f0" stroke="#ff5050" stroke-width="2.1"/>
<circle cx="2013.7" cy="1790.4" r="3.8" fill="#fff0f0" stroke="#ff5050" stroke-width="2.1"/>
<circle cx="2019.3" cy="1794.9" r="3.8" fill="#fff0f0" stroke="#ff5050" stroke-width="2.1"/>
<circle cx="2024.9" cy="1785.3" r="3.8" fill="#fff0f0" stroke="#ff5050" stroke-width="2.1"/>
<circle cx="2030.5" cy="1795" r="3.8" fill="#fff0f0" stroke="#ff5050" stroke-width="2.1"/>
<circle cx="2036.1" cy="1784.3" r="3.8" fill="#fff0f0" stroke="#ff5050" stroke-width="2.1"/>
<circle cx="2041.7" cy="1793.4" r="3.8" fill="#fff0f0" stroke="#ff5050" stroke-width="2.1"/>
<circle cx="2047.3" cy="1793.4" r="3.8" fill="#fff0f0" stroke="#ff5050" stroke-width="2.1"/>
<circle cx="2052.9" cy="1785.6" r="3.8" fill="#fff0f0" stroke="#ff5050" stroke-width="2.1"/>
<circle cx="2058.5" cy="1785.9" r="3.8" fill="#fff0f0" stroke="#ff5050" stroke-width="2.1"/>
<circle cx="2064.1" cy="1792.5" r="3.8" fill="#fff0f0" stroke="#ff5050" stroke-width="2.1"/>
<circle cx="2069.7" cy="1788.9" r="3.8" fill="#fff0f0" stroke="#ff5050" stroke-width="2.1"/>
<circle cx="2075.3" cy="1789.8" r="3.8" fill="#fff0f0" stroke="#ff5050" stroke-width="2.1"/>
<circle cx="2080.8" cy="1787" r="3.8" fill="#fff0f0" stroke="#ff5050" stroke-width="2.1"/>
<circle cx="2086.4" cy="1793.1" r="3.8" fill="#fff0f0" stroke="#ff5050" stroke-width="2.1"/>
<circle cx="2092" cy="1785.8" r="3.8" fill="#fff0f0" stroke="#ff5050" stroke-width="2.1"/>
<circle cx="2097.6" cy="1783.9" r="3.8" fill="#fff0f0" stroke="#ff5050" stroke-width="2.1"/>
<circle cx="2103.2" cy="1787.2" r="3.8" fill="#fff0f0" stroke="#ff5050" stroke-width="2.1"/>
<circle cx="2108.8" cy="1784.8" r="3.8" fill="#fff0f0" stroke="#ff5050" stroke-width="2.1"/>
<circle cx="2114.4" cy="1784.6" r="3.8" fill="#fff0f0" stroke="#ff5050" stroke-width="2.1"/>
<path d="M1555.2,1790.9 L1560.8,1785.6 L1566.4,1785.7 L1572,1788.5 L1577.6,1794 L1583.2,1788.2 L1588.8,1784.9 L1594.3,1791.7 L1599.9,1787.9 L1605.5,1785 L1611.1,1788.4 L1616.7,1794.8 L1622.3,1788 L1627.9,1792.3 L1633.5,1785.5 L1639.1,1787.7 L1644.7,1791.7 L1650.3,1785 L1655.9,1788.1 L1661.4,1791.3 L1667,1785.7 L1672.6,1785.1 L1678.2,1785.1 L1683.8,1785.2 L1689.4,1787.7 L1695,1787.3 L1700.6,1788.3 L1706.2,1789.2 L1711.8,1784 L1717.4,1791.2 L1723,1794.3 L1728.6,1787.1 L1734.1,1789.5 L1739.7,1789 L1745.3,1788.4 L1750.9,1792.3 L1756.5,1792.9 L1762.1,1794.4 L1767.7,1786.3 L1773.3,1784.9 L1778.9,1787.3 L1784.5,1793.9 L1790.1,1784.1 L1795.7,1785.8 L1801.2,1789.4 L1806.8,1795.2 L1812.4,1785.6 L1818,1788.1 L1823.6,1788.1 L1829.2,1795 L1834.8,1786.9 L1840.4,1794.8 L1846,1789.8 L1851.6,1793.5 L1857.2,1791.1 L1862.8,1785.1 L1868.4,1786.7 L1873.9,1785.9 L1879.5,1791.8 L1885.1,1790.8 L1890.7,1788.3 L1896.3,1794.8 L1901.9,1790.5 L1907.5,1784.1 L1913.1,1786.6 L1918.7,1785.4 L1924.3,1791.8 L1929.9,1787.4 L1935.5,1786.3 L1941,1787.2 L1946.6,1790.2 L1952.2,1793.2 L1957.8,1795 L1963.4,1785.1 L1969,1784.6 L1974.6,1792.1 L1980.2,1786.6 L1985.8,1790.6 L1991.4,1788.1 L1997,1785.7 L2002.6,1791.5 L2008.2,1788.2 L2013.7,1792.3 L2019.3,1789.4 L2024.9,1794.8 L2030.5,1792.2 L2036.1,1791.9 L2041.7,1784.8 L2047.3,1793.7 L2052.9,1786.6 L2058.5,1794.2 L2064.1,1784 L2069.7,1793.3 L2075.3,1794.1 L2080.8,1792.8 L2086.4,1784.6 L2092,1787.6 L2097.6,1785.1 L2103.2,1789.5 L2108.8,1793.9 L2114.4,1791.3" fill="none" stroke="#5050c8" stroke-width="2.2"/>
<circle cx="1555.2" cy="1790.9" r="3.8" fill="#ececfa" stroke="#5050c8" stroke-width="2.1"/>
<circle cx="1560.8" cy="1785.6" r="3.8" fill="#ececfa" stroke="#5050c8" stroke-width="2.1"/>
<circle cx="1566.4" cy="1785.7" r="3.8" fill="#ececfa" stroke="#5050c8" stroke-width="2.1"/>
<circle cx="1572" cy="1788.5" r="3.8" fill="#ececfa" stroke="#5050c8" stroke-width="2.1"/>
<circle cx="1577.6" cy="1794" r="3.8" fill="#ececfa" stroke="#5050c8" stroke-width="2.1"/>
<circle cx="1583.2" cy="1788.2" r="3.8" fill="#ececfa" stroke="#5050c8" stroke-width="2.1"/>
<circle cx="1588.8" cy="1784.9" r="3.8" fill="#ececfa" stroke="#5050c8" stroke-width="2.1"/>
<circle cx="1594.3" cy="1791.7" r="3.8" fill="#ececfa" stroke="#5050c8" stroke-width="2.1"/>
<circle cx="1599.9" cy="1787.9" r="3.8" fill="#ececfa" stroke="#5050c8" stroke-width="2.1"/>
<circle cx="1605.5" cy="1785" r="3.8" fill="#ececfa" stroke="#5050c8" stroke-width="2.1"/>
<circle cx="1611.1" cy="1788.4" r="3.8" fill="#ececfa" stroke="#5050c8" stroke-width="2.1"/>
<circle cx="1616.7" cy="1794.8" r="3.8" fill="#ececfa" stroke="#5050c8" stroke-width="2.1"/>
<circle cx="1622.3" cy="1788" r="3.8" fill="#ececfa" stroke="#5050c8" stroke-width="2.1"/>
<circle cx="1627.9" cy="1792.3" r="3.8" fill="#ececfa" stroke="#5050c8" stroke-width="2.1"/>
<circle cx="1633.5" cy="1785.5" r="3.8" fill="#ececfa" stroke="#5050c8" stroke-width="2.1"/>
<circle cx="1639.1" cy="1787.7" r="3.8" fill="#ececfa" stroke="#5050c8" stroke-width="2.1"/>
<circle cx="1644.7" cy="1791.7" r="3.8" fill="#ececfa" stroke="#5050c8" stroke-width="2.1"/>
<circle cx="1650.3" cy="1785" r="3.8" fill="#ececfa" stroke="#5050c8" stroke-width="2.1"/>
<circle cx="1655.9" cy="1788.1" r="3.8" fill="#ececfa" stroke="#5050c8" stroke-width="2.1"/>
<circle cx="1661.4" cy="1791.3" r="3.8" fill="#ececfa" stroke="#5050c8" stroke-width="2.1"/>
<circle cx="1667" cy="1785.7" r="3.8" fill="#ececfa" stroke="#5050c8" stroke-width="2.1"/>
<circle cx="1672.6" cy="1785.1" r="3.8" fill="#ececfa" stroke="#5050c8" stroke-width="2.1"/>
<circle cx="1678.2" cy="1785.1" r="3.8" fill="#ececfa" stroke="#5050c8" stroke-width="2.1"/>
<circle cx="1683.8" cy="1785.2" r="3.8" fill="#ececfa" stroke="#5050c8" stroke-width="2.1"/>
<circle cx="1689.4" cy="1787.7" r="3.8" fill="#ececfa" stroke="#5050c8" stroke-width="2.1"/>
<circle cx="1695" cy="1787.3" r="3.8" fill="#ececfa" stroke="#5050c8" stroke-width="2.1"/>
<circle cx="1700.6" cy="1788.3" r="3.8" fill="#ececfa" stroke="#5050c8" stroke-width="2.1"/>
<circle cx="1706.2" cy="1789.2" r="3.8" fill="#ececfa" stroke="#5050c8" stroke-width="2.1"/>
<circle cx="1711.8" cy="1784" r="3.8" fill="#ececfa" stroke="#5050c8" stroke-width="2.1"/>
<circle cx="1717.4" cy="1791.2" r="3.8" fill="#ececfa" stroke="#5050c8" stroke-width="2.1"/>
<circle cx="1723" cy="1794.3" r="3.8" fill="#ececfa" stroke="#5050c8" stroke-width="2.1"/>
<circle cx="1728.6" cy="1787.1" r="3.8" fill="#ececfa" stroke="#5050c8" stroke-width="2.1"/>
<circle cx="1734.1" cy="1789.5" r="3.8" fill="#ececfa" stroke="#5050c8" stroke-width="2.1"/>
<circle cx="1739.7" cy="1789" r="3.8" fill="#ececfa" stroke="#5050c8" stroke-width="2.1"/>
<circle cx="1745.3" cy="1788.4" r="3.8" fill="#ececfa" stroke="#5050c8" stroke-width="2.1"/>
<circle cx="1750.9" cy="1792.3" r="3.8" fill="#ececfa" stroke="#5050c8" stroke-width="2.1"/>
<circle cx="1756.5" cy="1792.9" r="3.8" fill="#ececfa" stroke="#5050c8" stroke-width="2.1"/>
<circle cx="1762.1" cy="1794.4" r="3.8" fill="#ececfa" stroke="#5050c8" stroke-width="2.1"/>
<circle cx="1767.7" cy="1786.3" r="3.8" fill="#ececfa" stroke="#5050c8" stroke-width="2.1"/>
<circle cx="1773.3" cy="1784.9" r="3.8" fill="#ececfa" stroke="#5050c8" stroke-width="2.1"/>
<circle cx="1778.9" cy="1787.3" r="3.8" fill="#ececfa" stroke="#5050c8" stroke-width="2.1"/>
<circle cx="1784.5" cy="1793.9" r="3.8" fill="#ececfa" stroke="#5050c8" stroke-width="2.1"/>
<circle cx="1790.1" cy="1784.1" r="3.8" fill="#ececfa" stroke="#5050c8" stroke-width="2.1"/>
<circle cx="1795.7" cy="1785.8" r="3.8" fill="#ececfa" stroke="#5050c8" stroke-width="2.1"/>
<circle cx="1801.2" cy="1789.4" r="3.8" fill="#ececfa" stroke="#5050c8" stroke-width="2.1"/>
<circle cx="1806.8" cy="1795.2" r="3.8" fill="#ececfa" stroke="#5050c8" stroke-width="2.1"/>
<circle cx="1812.4" cy="1785.6" r="3.8" fill="#ececfa" stroke="#5050c8" stroke-width="2.1"/>
<circle cx="1818" cy="1788.1" r="3.8" fill="#ececfa" stroke="#5050c8" stroke-width="2.1"/>
<circle cx="1823.6" cy="1788.1" r="3.8" fill="#ececfa" stroke="#5050c8" stroke-width="2.1"/>
<circle cx="1829.2" cy="1795" r="3.8" fill="#ececfa" stroke="#5050c8" stroke-width="2.1"/>
<circle cx="1834.8" cy="1786.9" r="3.8" fill="#ececfa" stroke="#5050c8" stroke-width="2.1"/>
<circle cx="1840.4" cy="1794.8" r="3.8" fill="#ececfa" stroke="#5050c8" stroke-width="2.1"/>
<circle cx="1846" cy="1789.8" r="3.8" fill="#ececfa" stroke="#5050c8" stroke-width="2.1"/>
<circle cx="1851.6" cy="1793.5" r="3.8" fill="#ececfa" stroke="#5050c8" stroke-width="2.1"/>
<circle cx="1857.2" cy="1791.1" r="3.8" fill="#ececfa" stroke="#5050c8" stroke-width="2.1"/>
<circle cx="1862.8" cy="1785.1" r="3.8" fill="#ececfa" stroke="#5050c8" stroke-width="2.1"/>
<circle cx="1868.4" cy="1786.7" r="3.8" fill="#ececfa" stroke="#5050c8" stroke-width="2.1"/>
<circle cx="1873.9" cy="1785.9" r="3.8" fill="#ececfa" stroke="#5050c8" stroke-width="2.1"/>
<circle cx="1879.5" cy="1791.8" r="3.8" fill="#ececfa" stroke="#5050c8" stroke-width="2.1"/>
<circle cx="1885.1" cy="1790.8" r="3.8" fill="#ececfa" stroke="#5050c8" stroke-width="2.1"/>
<circle cx="1890.7" cy="1788.3" r="3.8" fill="#ececfa" stroke="#5050c8" stroke-width="2.1"/>
<circle cx="1896.3" cy="1794.8" r="3.8" fill="#ececfa" stroke="#5050c8" stroke-width="2.1"/>
<circle cx="1901.9" cy="1790.5" r="3.8" fill="#ececfa" stroke="#5050c8" stroke-width="2.1"/>
<circle cx="1907.5" cy="1784.1" r="3.8" fill="#ececfa" stroke="#5050c8" stroke-width="2.1"/>
<circle cx="1913.1" cy="1786.6" r="3.8" fill="#ececfa" stroke="#5050c8" stroke-width="2.1"/>
<circle cx="1918.7" cy="1785.4" r="3.8" fill="#ececfa" stroke="#5050c8" stroke-width="2.1"/>
<circle cx="1924.3" cy="1791.8" r="3.8" fill="#ececfa" stroke="#5050c8" stroke-width="2.1"/>
<circle cx="1929.9" cy="1787.4" r="3.8" fill="#ececfa" stroke="#5050c8" stroke-width="2.1"/>
<circle cx="1935.5" cy="1786.3" r="3.8" fill="#ececfa" stroke="#5050c8" stroke-width="2.1"/>
<circle cx="1941" cy="1787.2" r="3.8" fill="#ececfa" stroke="#5050c8" stroke-width="2.1"/>
<circle cx="1946.6" cy="1790.2" r="3.8" fill="#ececfa" stroke="#5050c8" stroke-width="2.1"/>
<circle cx="1952.2" cy="1793.2" r="3.8" fill="#ececfa" stroke="#5050c8" stroke-width="2.1"/>
<circle cx="1957.8" cy="1795" r="3.8" fill="#ececfa" stroke="#5050c8" stroke-width="2.1"/>
<circle cx="1963.4" cy="1785.1" r="3.8" fill="#ececfa" stroke="#5050c8" stroke-width="2.1"/>
<circle cx="1969" cy="1784.6" r="3.8" fill="#ececfa" stroke="#5050c8" stroke-width="2.1"/>
<circle cx="1974.6" cy="1792.1" r="3.8" fill="#ececfa" stroke="#5050c8" stroke-width="2.1"/>
<circle cx="1980.2" cy="1786.6" r="3.8" fill="#ececfa" stroke="#5050c8" stroke-width="2.1"/>
<circle cx="1985.8" cy="1790.6" r="3.8" fill="#ececfa" stroke="#5050c8" stroke-width="2.1"/>
<circle cx="1991.4" cy="1788.1" r="3.8" fill="#ececfa" stroke="#5050c8" stroke-width="2.1"/>
<circle cx="1997" cy="1785.7" r="3.8" fill="#ececfa" stroke="#5050c8" stroke-width="2.1"/>
<circle cx="2002.6" cy="1791.5" r="3.8" fill="#ececfa" stroke="#5050c8" stroke-width="2.1"/>
<circle cx="2008.2" cy="1788.2" r="3.8" fill="#ececfa" stroke="#5050c8" stroke-width="2.1"/>
<circle cx="2013.7" cy="1792.3" r="3.8" fill="#ececfa" stroke="#5050c8" stroke-width="2.1"/>
<circle cx="2019.3" cy="1789.4" r="3.8" fill="#ececfa" stroke="#5050c8" stroke-width="2.1"/>
<circle cx="2024.9" cy="1794.8" r="3.8" fill="#ececfa" stroke="#5050c8" stroke-width="2.1"/>
<circle cx="2030.5" cy="1792.2" r="3.8" fill="#ececfa" stroke="#5050c8" stroke-width="2.1"/>
<circle cx="2036.1" cy="1791.9" r="3.8" fill="#ececfa" stroke="#5050c8" stroke-width="2.1"/>
<circle cx="2041.7" cy="1784.8" r="3.8" fill="#ececfa" stroke="#5050c8" stroke-width="2.1"/>
<circle cx="2047.3" cy="1793.7" r="3.8" fill="#ececfa" stroke="#5050c8" stroke-width="2.1"/>
<circle cx="2052.9" cy="1786.6" r="3.8" fill="#ececfa" stroke="#5050c8" stroke-width="2.1"/>
<circle cx="2058.5" cy="1794.2" r="3.8" fill="#ececfa" stroke="#5050c8" stroke-width="2.1"/>
<circle cx="2064.1" cy="1784" r="3.8" fill="#ececfa" stroke="#5050c8" stroke-width="2.1"/>
<circle cx="2069.7" cy="1793.3" r="3.8" fill="#ececfa" stroke="#5050c8" stroke-width="2.1"/>
<circle cx="2075.3" cy="1794.1" r="3.8" fill="#ececfa" stroke="#5050c8" stroke-width="2.1"/>
<circle cx="2080.8" cy="1792.8" r="3.8" fill="#ececfa" stroke="#5050c8" stroke-width="2.1"/>
<circle cx="2086.4" cy="1784.6" r="3.8" fill="#ececfa" stroke="#5050c8" stroke-width="2.1"/>
<circle cx="2092" cy="1787.6" r="3.8" fill="#ececfa" stroke="#5050c8" stroke-width="2.1"/>
<circle cx="2097.6" cy="1785.1" r="3.8" fill="#ececfa" stroke="#5050c8" stroke-width="2.1"/>
<circle cx="2103.2" cy="1789.5" r="3.8" fill="#ececfa" stroke="#5050c8" stroke-width="2.1"/>
<circle cx="2108.8" cy="1793.9" r="3.8" fill="#ececfa" stroke="#5050c8" stroke-width="2.1"/>
<circle cx="2114.4" cy="1791.3" r="3.8" fill="#ececfa" stroke="#5050c8" stroke-width="2.1"/>
<path d="M1555.2,1790 L1560.8,1784 L1566.4,1793.3 L1572,1792.4 L1577.6,1785.6 L1583.2,1793.9 L1588.8,1784.2 L1594.3,1791.8 L1599.9,1788.8 L1605.5,1787.7 L1611.1,1784.9 L1616.7,1794.3 L1622.3,1785.6 L1627.9,1793.1 L1633.5,1787 L1639.1,1794.9 L1644.7,1786.5 L1650.3,1793.1 L1655.9,1792.8 L1661.4,1794.8 L1667,1791.5 L1672.6,1791.5 L1678.2,1784.1 L1683.8,1788.3 L1689.4,1791.1 L1695,1784 L1700.6,1793.2 L1706.2,1792.7 L1711.8,1784.4 L1717.4,1784.4 L1723,1787.4 L1728.6,1784.1 L1734.1,1794.5 L1739.7,1785 L1745.3,1787.2 L1750.9,1787.6 L1756.5,1785.6 L1762.1,1794 L1767.7,1792.9 L1773.3,1793.6 L1778.9,1789.8 L1784.5,1789 L1790.1,1789.1 L1795.7,1791.1 L1801.2,1786.8 L1806.8,1785.7 L1812.4,1786.6 L1818,1794.7 L1823.6,1793.4 L1829.2,1792.7 L1834.8,1792.5 L1840.4,1788.7 L1846,1793 L1851.6,1788.1 L1857.2,1791.3 L1862.8,1791.1 L1868.4,1787.2 L1873.9,1784.5 L1879.5,1793 L1885.1,1791.2 L1890.7,1784.1 L1896.3,1792.8 L1901.9,1794.9 L1907.5,1793 L1913.1,1785.8 L1918.7,1786.9 L1924.3,1784.6 L1929.9,1789.5 L1935.5,1794.7 L1941,1791.7 L1946.6,1787 L1952.2,1790.7 L1957.8,1793.6 L1963.4,1790.9 L1969,1789.9 L1974.6,1791.1 L1980.2,1790.1 L1985.8,1793.6 L1991.4,1794.8 L1997,1786.3 L2002.6,1786.9 L2008.2,1790.4 L2013.7,1793.9 L2019.3,1791.8 L2024.9,1788.9 L2030.5,1785.1 L2036.1,1789.7 L2041.7,1784.2 L2047.3,1789.2 L2052.9,1793.1 L2058.5,1788.2 L2064.1,1788.4 L2069.7,1788.4 L2075.3,1787 L2080.8,1794.9 L2086.4,1790.2 L2092,1786.1 L2097.6,1793.6 L2103.2,1794.7 L2108.8,1793.1 L2114.4,1791.9" fill="none" stroke="#40b050" stroke-width="2.2"/>
<circle cx="1555.2" cy="1790" r="3.8" fill="#e8f8ea" stroke="#40b050" stroke-width="2.1"/>
<circle cx="1560.8" cy="1784" r="3.8" fill="#e8f8ea" stroke="#40b050" stroke-width="2.1"/>
<circle cx="1566.4" cy="1793.3" r="3.8" fill="#e8f8ea" stroke="#40b050" stroke-width="2.1"/>
<circle cx="1572" cy="1792.4" r="3.8" fill="#e8f8ea" stroke="#40b050" stroke-width="2.1"/>
<circle cx="1577.6" cy="1785.6" r="3.8" fill="#e8f8ea" stroke="#40b050" stroke-width="2.1"/>
<circle cx="1583.2" cy="1793.9" r="3.8" fill="#e8f8ea" stroke="#40b050" stroke-width="2.1"/>
<circle cx="1588.8" cy="1784.2" r="3.8" fill="#e8f8ea" stroke="#40b050" stroke-width="2.1"/>
<circle cx="1594.3" cy="1791.8" r="3.8" fill="#e8f8ea" stroke="#40b050" stroke-width="2.1"/>
<circle cx="1599.9" cy="1788.8" r="3.8" fill="#e8f8ea" stroke="#40b050" stroke-width="2.1"/>
<circle cx="1605.5" cy="1787.7" r="3.8" fill="#e8f8ea" stroke="#40b050" stroke-width="2.1"/>
<circle cx="1611.1" cy="1784.9" r="3.8" fill="#e8f8ea" stroke="#40b050" stroke-width="2.1"/>
<circle cx="1616.7" cy="1794.3" r="3.8" fill="#e8f8ea" stroke="#40b050" stroke-width="2.1"/>
<circle cx="1622.3" cy="1785.6" r="3.8" fill="#e8f8ea" stroke="#40b050" stroke-width="2.1"/>
<circle cx="1627.9" cy="1793.1" r="3.8" fill="#e8f8ea" stroke="#40b050" stroke-width="2.1"/>
<circle cx="1633.5" cy="1787" r="3.8" fill="#e8f8ea" stroke="#40b050" stroke-width="2.1"/>
<circle cx="1639.1" cy="1794.9" r="3.8" fill="#e8f8ea" stroke="#40b050" stroke-width="2.1"/>
<circle cx="1644.7" cy="1786.5" r="3.8" fill="#e8f8ea" stroke="#40b050" stroke-width="2.1"/>
<circle cx="1650.3" cy="1793.1" r="3.8" fill="#e8f8ea" stroke="#40b050" stroke-width="2.1"/>
<circle cx="1655.9" cy="1792.8" r="3.8" fill="#e8f8ea" stroke="#40b050" stroke-width="2.1"/>
<circle cx="1661.4" cy="1794.8" r="3.8" fill="#e8f8ea" stroke="#40b050" stroke-width="2.1"/>
<circle cx="1667" cy="1791.5" r="3.8" fill="#e8f8ea" stroke="#40b050" stroke-width="2.1"/>
<circle cx="1672.6" cy="1791.5" r="3.8" fill="#e8f8ea" stroke="#40b050" stroke-width="2.1"/>
<circle cx="1678.2" cy="1784.1" r="3.8" fill="#e8f8ea" stroke="#40b050" stroke-width="2.1"/>
<circle cx="1683.8" cy="1788.3" r="3.8" fill="#e8f8ea" stroke="#40b050" stroke-width="2.1"/>
<circle cx="1689.4" cy="1791.1" r="3.8" fill="#e8f8ea" stroke="#40b050" stroke-width="2.1"/>
<circle cx="1695" cy="1784" r="3.8" fill="#e8f8ea" stroke="#40b050" stroke-width="2.1"/>
<circle cx="1700.6" cy="1793.2" r="3.8" fill="#e8f8ea" stroke="#40b050" stroke-width="2.1"/>
<circle cx="1706.2" cy="1792.7" r="3.8" fill="#e8f8ea" stroke="#40b050" stroke-width="2.1"/>
<circle cx="1711.8" cy="1784.4" r="3.8" fill="#e8f8ea" stroke="#40b050" stroke-width="2.1"/>
<circle cx="1717.4" cy="1784.4" r="3.8" fill="#e8f8ea" stroke="#40b050" stroke-width="2.1"/>
<circle cx="1723" cy="1787.4" r="3.8" fill="#e8f8ea" stroke="#40b050" stroke-width="2.1"/>
<circle cx="1728.6" cy="1784.1" r="3.8" fill="#e8f8ea" stroke="#40b050" stroke-width="2.1"/>
<circle cx="1734.1" cy="1794.5" r="3.8" fill="#e8f8ea" stroke="#40b050" stroke-width="2.1"/>
<circle cx="1739.7" cy="1785" r="3.8" fill="#e8f8ea" stroke="#40b050" stroke-width="2.1"/>
<circle cx="1745.3" cy="1787.2" r="3.8" fill="#e8f8ea" stroke="#40b050" stroke-width="2.1"/>
<circle cx="1750.9" cy="1787.6" r="3.8" fill="#e8f8ea" stroke="#40b050" stroke-width="2.1"/>
<circle cx="1756.5" cy="1785.6" r="3.8" fill="#e8f8ea" stroke="#40b050" stroke-width="2.1"/>
<circle cx="1762.1" cy="1794" r="3.8" fill="#e8f8ea" stroke="#40b050" stroke-width="2.1"/>
<circle cx="1767.7" cy="1792.9" r="3.8" fill="#e8f8ea" stroke="#40b050" stroke-width="2.1"/>
<circle cx="1773.3" cy="1793.6" r="3.8" fill="#e8f8ea" stroke="#40b050" stroke-width="2.1"/>
<circle cx="1778.9" cy="1789.8" r="3.8" fill="#e8f8ea" stroke="#40b050" stroke-width="2.1"/>
<circle cx="1784.5" cy="1789" r="3.8" fill="#e8f8ea" stroke="#40b050" stroke-width="2.1"/>
<circle cx="1790.1" cy="1789.1" r="3.8" fill="#e8f8ea" stroke="#40b050" stroke-width="2.1"/>
<circle cx="1795.7" cy="1791.1" r="3.8" fill="#e8f8ea" stroke="#40b050" stroke-width="2.1"/>
<circle cx="1801.2" cy="1786.8" r="3.8" fill="#e8f8ea" stroke="#40b050" stroke-width="2.1"/>
<circle cx="1806.8" cy="1785.7" r="3.8" fill="#e8f8ea" stroke="#40b050" stroke-width="2.1"/>
<circle cx="1812.4" cy="1786.6" r="3.8" fill="#e8f8ea" stroke="#40b050" stroke-width="2.1"/>
<circle cx="1818" cy="1794.7" r="3.8" fill="#e8f8ea" stroke="#40b050" stroke-width="2.1"/>
<circle cx="1823.6" cy="1793.4" r="3.8" fill="#e8f8ea" stroke="#40b050" stroke-width="2.1"/>
<circle cx="1829.2" cy="1792.7" r="3.8" fill="#e8f8ea" stroke="#40b050" stroke-width="2.1"/>
<circle cx="1834.8" cy="1792.5" r="3.8" fill="#e8f8ea" stroke="#40b050" stroke-width="2.1"/>
<circle cx="1840.4" cy="1788.7" r="3.8" fill="#e8f8ea" stroke="#40b050" stroke-width="2.1"/>
<circle cx="1846" cy="1793" r="3.8" fill="#e8f8ea" stroke="#40b050" stroke-width="2.1"/>
<circle cx="1851.6" cy="1788.1" r="3.8" fill="#e8f8ea" stroke="#40b050" stroke-width="2.1"/>
<circle cx="1857.2" cy="1791.3" r="3.8" fill="#e8f8ea" stroke="#40b050" stroke-width="2.1"/>
<circle cx="1862.8" cy="1791.1" r="3.8" fill="#e8f8ea" stroke="#40b050" stroke-width="2.1"/>
<circle cx="1868.4" cy="1787.2" r="3.8" fill="#e8f8ea" stroke="#40b050" stroke-width="2.1"/>
<circle cx="1873.9" cy="1784.5" r="3.8" fill="#e8f8ea" stroke="#40b050" stroke-width="2.1"/>
<circle cx="1879.5" cy="1793" r="3.8" fill="#e8f8ea" stroke="#40b050" stroke-width="2.1"/>
<circle cx="1885.1" cy="1791.2" r="3.8" fill="#e8f8ea" stroke="#40b050" stroke-width="2.1"/>
<circle cx="1890.7" cy="1784.1" r="3.8" fill="#e8f8ea" stroke="#40b050" stroke-width="2.1"/>
<circle cx="1896.3" cy="1792.8" r="3.8" fill="#e8f8ea" stroke="#40b050" stroke-width="2.1"/>
<circle cx="1901.9" cy="1794.9" r="3.8" fill="#e8f8ea" stroke="#40b050" stroke-width="2.1"/>
<circle cx="1907.5" cy="1793" r="3.8" fill="#e8f8ea" stroke="#40b050" stroke-width="2.1"/>
<circle cx="1913.1" cy="1785.8" r="3.8" fill="#e8f8ea" stroke="#40b050" stroke-width="2.1"/>
<circle cx="1918.7" cy="1786.9" r="3.8" fill="#e8f8ea" stroke="#40b050" stroke-width="2.1"/>
<circle cx="1924.3" cy="1784.6" r="3.8" fill="#e8f8ea" stroke="#40b050" stroke-width="2.1"/>
<circle cx="1929.9" cy="1789.5" r="3.8" fill="#e8f8ea" stroke="#40b050" stroke-width="2.1"/>
<circle cx="1935.5" cy="1794.7" r="3.8" fill="#e8f8ea" stroke="#40b050" stroke-width="2.1"/>
<circle cx="1941" cy="1791.7" r="3.8" fill="#e8f8ea" stroke="#40b050" stroke-width="2.1"/>
<circle cx="1946.6" cy="1787" r="3.8" fill="#e8f8ea" stroke="#40b050" stroke-width="2.1"/>
<circle cx="1952.2" cy="1790.7" r="3.8" fill="#e8f8ea" stroke="#40b050" stroke-width="2.1"/>
<circle cx="1957.8" cy="1793.6" r="3.8" fill="#e8f8ea" stroke="#40b050" stroke-width="2.1"/>
<circle cx="1963.4" cy="1790.9" r="3.8" fill="#e8f8ea" stroke="#40b050" stroke-width="2.1"/>
<circle cx="1969" cy="1789.9" r="3.8" fill="#e8f8ea" stroke="#40b050" stroke-width="2.1"/>
<circle cx="1974.6" cy="1791.1" r="3.8" fill="#e8f8ea" stroke="#40b050" stroke-width="2.1"/>
<circle cx="1980.2" cy="1790.1" r="3.8" fill="#e8f8ea" stroke="#40b050" stroke-width="2.1"/>
<circle cx="1985.8" cy="1793.6" r="3.8" fill="#e8f8ea" stroke="#40b050" stroke-width="2.1"/>
<circle cx="1991.4" cy="1794.8" r="3.8" fill="#e8f8ea" stroke="#40b050" stroke-width="2.1"/>
<circle cx="1997" cy="1786.3" r="3.8" fill="#e8f8ea" stroke="#40b050" stroke-width="2.1"/>
<circle cx="2002.6" cy="1786.9" r="3.8" fill="#e8f8ea" stroke="#40b050" stroke-width="2.1"/>
<circle cx="2008.2" cy="1790.4" r="3.8" fill="#e8f8ea" stroke="#40b050" stroke-width="2.1"/>
<circle cx="2013.7" cy="1793.9" r="3.8" fill="#e8f8ea" stroke="#40b050" stroke-width="2.1"/>
<circle cx="2019.3" cy="1791.8" r="3.8" fill="#e8f8ea" stroke="#40b050" stroke-width="2.1"/>
<circle cx="2024.9" cy="1788.9" r="3.8" fill="#e8f8ea" stroke="#40b050" stroke-width="2.1"/>
<circle cx="2030.5" cy="1785.1" r="3.8" fill="#e8f8ea" stroke="#40b050" stroke-width="2.1"/>
<circle cx="2036.1" cy="1789.7" r="3.8" fill="#e8f8ea" stroke="#40b050" stroke-width="2.1"/>
<circle cx="2041.7" cy="1784.2" r="3.8" fill="#e8f8ea" stroke="#40b050" stroke-width="2.1"/>
<circle cx="2047.3" cy="1789.2" r="3.8" fill="#e8f8ea" stroke="#40b050" stroke-width="2.1"/>
<circle cx="2052.9" cy="1793.1" r="3.8" fill="#e8f8ea" stroke="#40b050" stroke-width="2.1"/>
<circle cx="2058.5" cy="1788.2" r="3.8" fill="#e8f8ea" stroke="#40b050" stroke-width="2.1"/>
<circle cx="2064.1" cy="1788.4" r="3.8" fill="#e8f8ea" stroke="#40b050" stroke-width="2.1"/>
<circle cx="2069.7" cy="1788.4" r="3.8" fill="#e8f8ea" stroke="#40b050" stroke-width="2.1"/>
<circle cx="2075.3" cy="1787" r="3.8" fill="#e8f8ea" stroke="#40b050" stroke-width="2.1"/>
<circle cx="2080.8" cy="1794.9" r="3.8" fill="#e8f8ea" stroke="#40b050" stroke-width="2.1"/>
<circle cx="2086.4" cy="1790.2" r="3.8" fill="#e8f8ea" stroke="#40b050" stroke-width="2.1"/>
<circle cx="2092" cy="1786.1" r="3.8" fill="#e8f8ea" stroke="#40b050" stroke-width="2.1"/>
<circle cx="2097.6" cy="1793.6" r="3.8" fill="#e8f8ea" stroke="#40b050" stroke-width="2.1"/>
<circle cx="2103.2" cy="1794.7" r="3.8" fill="#e8f8ea" stroke="#40b050" stroke-width="2.1"/>
<circle cx="2108.8" cy="1793.1" r="3.8" fill="#e8f8ea" stroke="#40b050" stroke-width="2.1"/>
<circle cx="2114.4" cy="1791.9" r="3.8" fill="#e8f8ea" stroke="#40b050" stroke-width="2.1"/>
<path d="M1628.5,2053 L1628.5,2092.5 L1572,2092.5" fill="none" stroke="#111" stroke-width="3"/>
<path d="M1561,2092.5 L1576,2085 L1576,2100 Z" fill="#111"/>
<path d="M2057.7,1812 L2057.7,1850.5 L2100,1850.5" fill="none" stroke="#111" stroke-width="3"/>
<path d="M2113,1850.5 L2098,1843 L2098,1858 Z" fill="#111"/>
<line x1="1586.7" y1="2106.9" x2="1643" y2="2106.9" stroke="#ff2020" stroke-width="7.5"/>
<line x1="1586.7" y1="2141.5" x2="1643" y2="2141.5" stroke="#1b3570" stroke-width="7.5"/>
<line x1="1586.7" y1="2175.3" x2="1643" y2="2175.3" stroke="#2e9a3a" stroke-width="7.5"/>
<text x="1664.5" y="2113" font-size="29" fill="#333" textLength="289" lengthAdjust="spacingAndGlyphs">S/Co-NC@TpBD-Me<tspan font-size="19" dy="6">2</tspan></text>
<text x="1664.5" y="2148" font-size="28.8" fill="#333" font-weight="normal" textLength="125.5" lengthAdjust="spacingAndGlyphs">S/Co-NC</text>
<text x="1664.5" y="2182" font-size="29" fill="#333" textLength="168" lengthAdjust="spacingAndGlyphs">S/TpBD-Me<tspan font-size="19" dy="6">2</tspan></text>
</svg></body></html>
